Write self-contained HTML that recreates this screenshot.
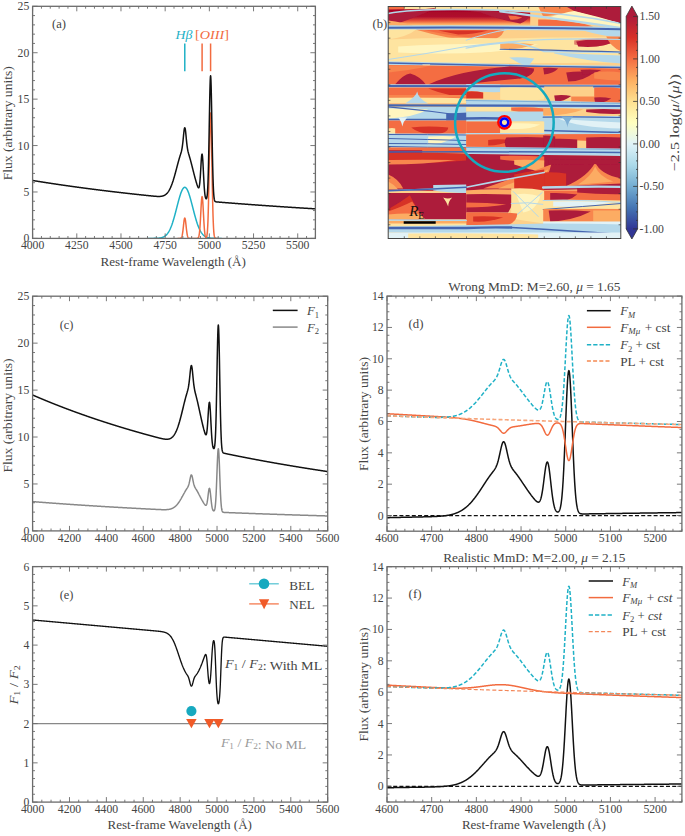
<!DOCTYPE html><html><head><meta charset="utf-8"><style>html,body{margin:0;padding:0;background:#fff;overflow:hidden} svg{display:block} text{font-family:'Liberation Serif', serif}</style></head><body>
<svg width="685" height="836" viewBox="0 0 685 836">
<rect width="685" height="836" fill="#fff"/>
<defs>
<clipPath id="ca"><rect x="32.6" y="6.3" width="282.80" height="232.10"/></clipPath>
<clipPath id="cc"><rect x="32.6" y="296.2" width="295.10" height="234.70"/></clipPath>
<clipPath id="ce"><rect x="32.6" y="566.6" width="295.10" height="235.50"/></clipPath>
<clipPath id="cd"><rect x="387.0" y="296.1" width="294.90" height="235.10"/></clipPath>
<clipPath id="cf"><rect x="387.0" y="566.7" width="294.90" height="235.30"/></clipPath>
<linearGradient id="cbg" x1="0" y1="1" x2="0" y2="0"><stop offset="0.00" stop-color="#313695"/><stop offset="0.10" stop-color="#4575b4"/><stop offset="0.20" stop-color="#74add1"/><stop offset="0.30" stop-color="#abd9e9"/><stop offset="0.40" stop-color="#e0f3f8"/><stop offset="0.50" stop-color="#ffffbf"/><stop offset="0.60" stop-color="#fee090"/><stop offset="0.70" stop-color="#fdae61"/><stop offset="0.80" stop-color="#f46d43"/><stop offset="0.90" stop-color="#d73027"/><stop offset="1.00" stop-color="#ad1a3b"/></linearGradient>
<clipPath id="cm"><rect x="388.2" y="6.5" width="232.60" height="232.00"/></clipPath>
<linearGradient id="gDome" x1="0" y1="0" x2="0" y2="1"><stop offset="0" stop-color="#a50026"/><stop offset="0.45" stop-color="#b0102e"/><stop offset="0.68" stop-color="#e8553a"/><stop offset="0.85" stop-color="#fca55e"/><stop offset="1" stop-color="#fee090"/></linearGradient>
<filter id="soft" x="-5%" y="-5%" width="110%" height="110%"><feGaussianBlur stdDeviation="0.5"/></filter>
</defs>
<path d="M147.49,238.40 L147.66,238.40 L147.84,238.40 L148.02,238.40 L148.19,238.40 L148.37,238.40 L148.55,238.40 L148.72,238.40 L148.90,238.40 L149.08,238.40 L149.25,238.40 L149.43,238.40 L149.61,238.40 L149.79,238.40 L149.96,238.40 L150.14,238.40 L150.32,238.40 L150.49,238.40 L150.67,238.39 L150.85,238.39 L151.02,238.39 L151.20,238.39 L151.38,238.39 L151.55,238.39 L151.73,238.39 L151.91,238.39 L152.08,238.39 L152.26,238.39 L152.44,238.39 L152.61,238.39 L152.79,238.38 L152.97,238.38 L153.14,238.38 L153.32,238.38 L153.50,238.38 L153.67,238.38 L153.85,238.37 L154.03,238.37 L154.20,238.37 L154.38,238.37 L154.56,238.36 L154.73,238.36 L154.91,238.36 L155.09,238.35 L155.26,238.35 L155.44,238.34 L155.62,238.34 L155.79,238.33 L155.97,238.33 L156.15,238.32 L156.32,238.32 L156.50,238.31 L156.68,238.30 L156.86,238.29 L157.03,238.28 L157.21,238.27 L157.39,238.26 L157.56,238.25 L157.74,238.24 L157.92,238.23 L158.09,238.22 L158.27,238.20 L158.45,238.19 L158.62,238.17 L158.80,238.15 L158.98,238.14 L159.15,238.12 L159.33,238.09 L159.51,238.07 L159.68,238.05 L159.86,238.02 L160.04,238.00 L160.21,237.97 L160.39,237.94 L160.57,237.90 L160.74,237.87 L160.92,237.83 L161.10,237.79 L161.27,237.75 L161.45,237.71 L161.63,237.66 L161.80,237.61 L161.98,237.56 L162.16,237.51 L162.33,237.45 L162.51,237.39 L162.69,237.32 L162.86,237.25 L163.04,237.18 L163.22,237.11 L163.39,237.03 L163.57,236.94 L163.75,236.85 L163.93,236.76 L164.10,236.66 L164.28,236.56 L164.46,236.45 L164.63,236.34 L164.81,236.22 L164.99,236.09 L165.16,235.96 L165.34,235.83 L165.52,235.68 L165.69,235.53 L165.87,235.38 L166.05,235.21 L166.22,235.04 L166.40,234.87 L166.58,234.68 L166.75,234.49 L166.93,234.29 L167.11,234.08 L167.28,233.86 L167.46,233.63 L167.64,233.40 L167.81,233.15 L167.99,232.90 L168.17,232.64 L168.34,232.37 L168.52,232.08 L168.70,231.79 L168.87,231.49 L169.05,231.18 L169.23,230.85 L169.40,230.52 L169.58,230.18 L169.76,229.82 L169.93,229.46 L170.11,229.08 L170.29,228.69 L170.46,228.29 L170.64,227.89 L170.82,227.46 L171.00,227.03 L171.17,226.59 L171.35,226.13 L171.53,225.67 L171.70,225.19 L171.88,224.70 L172.06,224.20 L172.23,223.69 L172.41,223.17 L172.59,222.64 L172.76,222.10 L172.94,221.55 L173.12,220.98 L173.29,220.41 L173.47,219.83 L173.65,219.24 L173.82,218.64 L174.00,218.03 L174.18,217.41 L174.35,216.78 L174.53,216.15 L174.71,215.51 L174.88,214.86 L175.06,214.21 L175.24,213.55 L175.41,212.88 L175.59,212.21 L175.77,211.54 L175.94,210.86 L176.12,210.18 L176.30,209.49 L176.47,208.80 L176.65,208.12 L176.83,207.43 L177.00,206.74 L177.18,206.05 L177.36,205.37 L177.53,204.68 L177.71,204.00 L177.89,203.33 L178.07,202.65 L178.24,201.98 L178.42,201.32 L178.60,200.67 L178.77,200.02 L178.95,199.38 L179.13,198.75 L179.30,198.12 L179.48,197.51 L179.66,196.91 L179.83,196.32 L180.01,195.75 L180.19,195.19 L180.36,194.64 L180.54,194.11 L180.72,193.59 L180.89,193.09 L181.07,192.61 L181.25,192.14 L181.42,191.69 L181.60,191.26 L181.78,190.85 L181.95,190.47 L182.13,190.10 L182.31,189.75 L182.48,189.42 L182.66,189.12 L182.84,188.84 L183.01,188.58 L183.19,188.35 L183.37,188.14 L183.54,187.95 L183.72,187.79 L183.90,187.65 L184.07,187.54 L184.25,187.45 L184.43,187.39 L184.60,187.35 L184.78,187.34 L184.96,187.35 L185.14,187.39 L185.31,187.45 L185.49,187.54 L185.67,187.65 L185.84,187.79 L186.02,187.95 L186.20,188.14 L186.37,188.35 L186.55,188.58 L186.73,188.84 L186.90,189.12 L187.08,189.42 L187.26,189.75 L187.43,190.10 L187.61,190.47 L187.79,190.85 L187.96,191.26 L188.14,191.69 L188.32,192.14 L188.49,192.61 L188.67,193.09 L188.85,193.59 L189.02,194.11 L189.20,194.64 L189.38,195.19 L189.55,195.75 L189.73,196.32 L189.91,196.91 L190.08,197.51 L190.26,198.12 L190.44,198.75 L190.61,199.38 L190.79,200.02 L190.97,200.67 L191.14,201.32 L191.32,201.98 L191.50,202.65 L191.67,203.33 L191.85,204.00 L192.03,204.68 L192.21,205.37 L192.38,206.05 L192.56,206.74 L192.74,207.43 L192.91,208.12 L193.09,208.80 L193.27,209.49 L193.44,210.18 L193.62,210.86 L193.80,211.54 L193.97,212.21 L194.15,212.88 L194.33,213.55 L194.50,214.21 L194.68,214.86 L194.86,215.51 L195.03,216.15 L195.21,216.78 L195.39,217.41 L195.56,218.03 L195.74,218.64 L195.92,219.24 L196.09,219.83 L196.27,220.41 L196.45,220.98 L196.62,221.55 L196.80,222.10 L196.98,222.64 L197.15,223.17 L197.33,223.69 L197.51,224.20 L197.68,224.70 L197.86,225.19 L198.04,225.67 L198.21,226.13 L198.39,226.59 L198.57,227.03 L198.74,227.46 L198.92,227.89 L199.10,228.29 L199.28,228.69 L199.45,229.08 L199.63,229.46 L199.81,229.82 L199.98,230.18 L200.16,230.52 L200.34,230.85 L200.51,231.18 L200.69,231.49 L200.87,231.79 L201.04,232.08 L201.22,232.37 L201.40,232.64 L201.57,232.90 L201.75,233.15 L201.93,233.40 L202.10,233.63 L202.28,233.86 L202.46,234.08 L202.63,234.29 L202.81,234.49 L202.99,234.68 L203.16,234.87 L203.34,235.04 L203.52,235.21 L203.69,235.38 L203.87,235.53 L204.05,235.68 L204.22,235.83 L204.40,235.96 L204.58,236.09 L204.75,236.22 L204.93,236.34 L205.11,236.45 L205.28,236.56 L205.46,236.66 L205.64,236.76 L205.81,236.85 L205.99,236.94 L206.17,237.03 L206.35,237.11 L206.52,237.18 L206.70,237.25 L206.88,237.32 L207.05,237.39 L207.23,237.45 L207.41,237.51 L207.58,237.56 L207.76,237.61 L207.94,237.66 L208.11,237.71 L208.29,237.75 L208.47,237.79 L208.64,237.83 L208.82,237.87 L209.00,237.90 L209.17,237.94 L209.35,237.97 L209.53,238.00 L209.70,238.02 L209.88,238.05 L210.06,238.07 L210.23,238.09 L210.41,238.12 L210.59,238.14 L210.76,238.15 L210.94,238.17 L211.12,238.19 L211.29,238.20 L211.47,238.22 L211.65,238.23 L211.82,238.24 L212.00,238.25 L212.18,238.26 L212.35,238.27 L212.53,238.28 L212.71,238.29 L212.88,238.30 L213.06,238.31 L213.24,238.32 L213.42,238.32 L213.59,238.33 L213.77,238.33 L213.95,238.34 L214.12,238.34 L214.30,238.35 L214.48,238.35 L214.65,238.36 L214.83,238.36 L215.01,238.36 L215.18,238.37 L215.36,238.37 L215.54,238.37 L215.71,238.37 L215.89,238.38 L216.07,238.38 L216.24,238.38 L216.42,238.38 L216.60,238.38 L216.77,238.38 L216.95,238.39 L217.13,238.39 L217.30,238.39 L217.48,238.39 L217.66,238.39 L217.83,238.39 L218.01,238.39 L218.19,238.39 L218.36,238.39 L218.54,238.39 L218.72,238.39 L218.89,238.39 L219.07,238.40 L219.25,238.40 L219.42,238.40 L219.60,238.40 L219.78,238.40 L219.95,238.40 L220.13,238.40 L220.31,238.40 L220.49,238.40 L220.66,238.40 L220.84,238.40 L221.02,238.40 L221.19,238.40 L221.37,238.40 L221.55,238.40 L221.72,238.40" fill="none" stroke="#1fb1c6" stroke-width="1.5" stroke-linejoin="round" clip-path="url(#ca)"/>
<path d="M177.53,238.40 L177.71,238.40 L177.89,238.40 L178.07,238.40 L178.24,238.40 L178.42,238.40 L178.60,238.40 L178.77,238.40 L178.95,238.40 L179.13,238.40 L179.30,238.40 L179.48,238.39 L179.66,238.39 L179.83,238.38 L180.01,238.37 L180.19,238.35 L180.36,238.32 L180.54,238.28 L180.72,238.21 L180.89,238.12 L181.07,237.99 L181.25,237.82 L181.42,237.57 L181.60,237.25 L181.78,236.84 L181.95,236.30 L182.13,235.64 L182.31,234.82 L182.48,233.85 L182.66,232.72 L182.84,231.43 L183.01,230.00 L183.19,228.46 L183.37,226.84 L183.54,225.19 L183.72,223.57 L183.90,222.05 L184.07,220.68 L184.25,219.55 L184.43,218.69 L184.60,218.16 L184.78,217.98 L184.96,218.16 L185.14,218.69 L185.31,219.55 L185.49,220.68 L185.67,222.05 L185.84,223.57 L186.02,225.19 L186.20,226.84 L186.37,228.46 L186.55,230.00 L186.73,231.43 L186.90,232.72 L187.08,233.85 L187.26,234.82 L187.43,235.64 L187.61,236.30 L187.79,236.84 L187.96,237.25 L188.14,237.57 L188.32,237.82 L188.49,237.99 L188.67,238.12 L188.85,238.21 L189.02,238.28 L189.20,238.32 L189.38,238.35 L189.55,238.37 L189.73,238.38 L189.91,238.39 L190.08,238.39 L190.26,238.40 L190.44,238.40 L190.61,238.40 L190.79,238.40 L190.97,238.40 L191.14,238.40 L191.32,238.40 L191.50,238.40 L191.67,238.40 L191.85,238.40 L192.03,238.40 L192.21,238.40 L192.38,238.40 L192.56,238.40 L192.74,238.40 L192.91,238.40 L193.09,238.40 L193.27,238.40 L193.44,238.40 L193.62,238.40 L193.80,238.40 L193.97,238.40 L194.15,238.40 L194.33,238.40 L194.50,238.40 L194.68,238.40 L194.86,238.40 L195.03,238.40 L195.21,238.40 L195.39,238.40 L195.56,238.40 L195.74,238.40 L195.92,238.40 L196.09,238.40 L196.27,238.40 L196.45,238.40 L196.62,238.39 L196.80,238.39 L196.98,238.38 L197.15,238.36 L197.33,238.34 L197.51,238.30 L197.68,238.24 L197.86,238.15 L198.04,238.02 L198.21,237.83 L198.39,237.57 L198.57,237.21 L198.74,236.71 L198.92,236.05 L199.10,235.20 L199.28,234.11 L199.45,232.75 L199.63,231.08 L199.81,229.10 L199.98,226.78 L200.16,224.15 L200.34,221.22 L200.51,218.06 L200.69,214.75 L200.87,211.37 L201.04,208.06 L201.22,204.95 L201.40,202.16 L201.57,199.83 L201.75,198.08 L201.93,196.99 L202.10,196.62 L202.28,196.99 L202.46,198.08 L202.63,199.83 L202.81,202.16 L202.99,204.95 L203.16,208.06 L203.34,211.37 L203.52,214.75 L203.69,218.06 L203.87,221.22 L204.05,224.15 L204.22,226.78 L204.40,229.10 L204.58,231.08 L204.75,232.74 L204.93,234.09 L205.11,235.17 L205.28,236.01 L205.46,236.64 L205.64,237.09 L205.81,237.38 L205.99,237.53 L206.17,237.54 L206.35,237.40 L206.52,237.10 L206.70,236.60 L206.88,235.85 L207.05,234.78 L207.23,233.31 L207.41,231.35 L207.58,228.79 L207.76,225.52 L207.94,221.44 L208.11,216.45 L208.29,210.50 L208.47,203.55 L208.64,195.65 L208.82,186.87 L209.00,177.39 L209.17,167.44 L209.35,157.32 L209.53,147.39 L209.70,138.04 L209.88,129.68 L210.06,122.70 L210.23,117.44 L210.41,114.18 L210.59,113.07 L210.76,114.18 L210.94,117.44 L211.12,122.70 L211.29,129.68 L211.47,138.04 L211.65,147.39 L211.82,157.32 L212.00,167.44 L212.18,177.39 L212.35,186.87 L212.53,195.65 L212.71,203.55 L212.88,210.50 L213.06,216.45 L213.24,221.44 L213.42,225.52 L213.59,228.80 L213.77,231.36 L213.95,233.34 L214.12,234.82 L214.30,235.91 L214.48,236.70 L214.65,237.26 L214.83,237.65 L215.01,237.92 L215.18,238.09 L215.36,238.21 L215.54,238.28 L215.71,238.33 L215.89,238.36 L216.07,238.38 L216.24,238.39 L216.42,238.39 L216.60,238.40 L216.77,238.40 L216.95,238.40 L217.13,238.40 L217.30,238.40 L217.48,238.40 L217.66,238.40 L217.83,238.40 L218.01,238.40 L218.19,238.40" fill="none" stroke="#f26b3f" stroke-width="1.5" stroke-linejoin="round" clip-path="url(#ca)"/>
<path d="M32.60,180.47 L32.78,180.50 L32.95,180.53 L33.13,180.55 L33.31,180.58 L33.48,180.61 L33.66,180.64 L33.84,180.67 L34.01,180.70 L34.19,180.73 L34.37,180.76 L34.54,180.79 L34.72,180.81 L34.90,180.84 L35.07,180.87 L35.25,180.90 L35.43,180.93 L35.60,180.96 L35.78,180.99 L35.96,181.01 L36.13,181.04 L36.31,181.07 L36.49,181.10 L36.67,181.13 L36.84,181.16 L37.02,181.19 L37.20,181.21 L37.37,181.24 L37.55,181.27 L37.73,181.30 L37.90,181.33 L38.08,181.36 L38.26,181.38 L38.43,181.41 L38.61,181.44 L38.79,181.47 L38.96,181.50 L39.14,181.52 L39.32,181.55 L39.49,181.58 L39.67,181.61 L39.85,181.64 L40.02,181.67 L40.20,181.69 L40.38,181.72 L40.55,181.75 L40.73,181.78 L40.91,181.81 L41.08,181.83 L41.26,181.86 L41.44,181.89 L41.61,181.92 L41.79,181.95 L41.97,181.97 L42.14,182.00 L42.32,182.03 L42.50,182.06 L42.67,182.08 L42.85,182.11 L43.03,182.14 L43.20,182.17 L43.38,182.20 L43.56,182.22 L43.74,182.25 L43.91,182.28 L44.09,182.31 L44.27,182.33 L44.44,182.36 L44.62,182.39 L44.80,182.42 L44.97,182.44 L45.15,182.47 L45.33,182.50 L45.50,182.53 L45.68,182.55 L45.86,182.58 L46.03,182.61 L46.21,182.64 L46.39,182.66 L46.56,182.69 L46.74,182.72 L46.92,182.74 L47.09,182.77 L47.27,182.80 L47.45,182.83 L47.62,182.85 L47.80,182.88 L47.98,182.91 L48.15,182.94 L48.33,182.96 L48.51,182.99 L48.68,183.02 L48.86,183.04 L49.04,183.07 L49.21,183.10 L49.39,183.12 L49.57,183.15 L49.74,183.18 L49.92,183.21 L50.10,183.23 L50.27,183.26 L50.45,183.29 L50.63,183.31 L50.81,183.34 L50.98,183.37 L51.16,183.39 L51.34,183.42 L51.51,183.45 L51.69,183.47 L51.87,183.50 L52.04,183.53 L52.22,183.55 L52.40,183.58 L52.57,183.61 L52.75,183.63 L52.93,183.66 L53.10,183.69 L53.28,183.71 L53.46,183.74 L53.63,183.77 L53.81,183.79 L53.99,183.82 L54.16,183.85 L54.34,183.87 L54.52,183.90 L54.69,183.93 L54.87,183.95 L55.05,183.98 L55.22,184.00 L55.40,184.03 L55.58,184.06 L55.75,184.08 L55.93,184.11 L56.11,184.14 L56.28,184.16 L56.46,184.19 L56.64,184.22 L56.81,184.24 L56.99,184.27 L57.17,184.29 L57.34,184.32 L57.52,184.35 L57.70,184.37 L57.88,184.40 L58.05,184.42 L58.23,184.45 L58.41,184.48 L58.58,184.50 L58.76,184.53 L58.94,184.55 L59.11,184.58 L59.29,184.61 L59.47,184.63 L59.64,184.66 L59.82,184.68 L60.00,184.71 L60.17,184.74 L60.35,184.76 L60.53,184.79 L60.70,184.81 L60.88,184.84 L61.06,184.86 L61.23,184.89 L61.41,184.92 L61.59,184.94 L61.76,184.97 L61.94,184.99 L62.12,185.02 L62.29,185.04 L62.47,185.07 L62.65,185.10 L62.82,185.12 L63.00,185.15 L63.18,185.17 L63.35,185.20 L63.53,185.22 L63.71,185.25 L63.88,185.27 L64.06,185.30 L64.24,185.32 L64.41,185.35 L64.59,185.38 L64.77,185.40 L64.95,185.43 L65.12,185.45 L65.30,185.48 L65.48,185.50 L65.65,185.53 L65.83,185.55 L66.01,185.58 L66.18,185.60 L66.36,185.63 L66.54,185.65 L66.71,185.68 L66.89,185.70 L67.07,185.73 L67.24,185.75 L67.42,185.78 L67.60,185.80 L67.77,185.83 L67.95,185.85 L68.13,185.88 L68.30,185.90 L68.48,185.93 L68.66,185.95 L68.83,185.98 L69.01,186.00 L69.19,186.03 L69.36,186.05 L69.54,186.08 L69.72,186.10 L69.89,186.13 L70.07,186.15 L70.25,186.18 L70.42,186.20 L70.60,186.23 L70.78,186.25 L70.95,186.28 L71.13,186.30 L71.31,186.33 L71.48,186.35 L71.66,186.38 L71.84,186.40 L72.02,186.42 L72.19,186.45 L72.37,186.47 L72.55,186.50 L72.72,186.52 L72.90,186.55 L73.08,186.57 L73.25,186.60 L73.43,186.62 L73.61,186.65 L73.78,186.67 L73.96,186.69 L74.14,186.72 L74.31,186.74 L74.49,186.77 L74.67,186.79 L74.84,186.82 L75.02,186.84 L75.20,186.86 L75.37,186.89 L75.55,186.91 L75.73,186.94 L75.90,186.96 L76.08,186.99 L76.26,187.01 L76.43,187.03 L76.61,187.06 L76.79,187.08 L76.96,187.11 L77.14,187.13 L77.32,187.16 L77.49,187.18 L77.67,187.20 L77.85,187.23 L78.02,187.25 L78.20,187.28 L78.38,187.30 L78.55,187.32 L78.73,187.35 L78.91,187.37 L79.09,187.40 L79.26,187.42 L79.44,187.44 L79.62,187.47 L79.79,187.49 L79.97,187.51 L80.15,187.54 L80.32,187.56 L80.50,187.59 L80.68,187.61 L80.85,187.63 L81.03,187.66 L81.21,187.68 L81.38,187.71 L81.56,187.73 L81.74,187.75 L81.91,187.78 L82.09,187.80 L82.27,187.82 L82.44,187.85 L82.62,187.87 L82.80,187.89 L82.97,187.92 L83.15,187.94 L83.33,187.96 L83.50,187.99 L83.68,188.01 L83.86,188.04 L84.03,188.06 L84.21,188.08 L84.39,188.11 L84.56,188.13 L84.74,188.15 L84.92,188.18 L85.09,188.20 L85.27,188.22 L85.45,188.25 L85.62,188.27 L85.80,188.29 L85.98,188.32 L86.16,188.34 L86.33,188.36 L86.51,188.39 L86.69,188.41 L86.86,188.43 L87.04,188.46 L87.22,188.48 L87.39,188.50 L87.57,188.52 L87.75,188.55 L87.92,188.57 L88.10,188.59 L88.28,188.62 L88.45,188.64 L88.63,188.66 L88.81,188.69 L88.98,188.71 L89.16,188.73 L89.34,188.76 L89.51,188.78 L89.69,188.80 L89.87,188.82 L90.04,188.85 L90.22,188.87 L90.40,188.89 L90.57,188.92 L90.75,188.94 L90.93,188.96 L91.10,188.98 L91.28,189.01 L91.46,189.03 L91.63,189.05 L91.81,189.08 L91.99,189.10 L92.16,189.12 L92.34,189.14 L92.52,189.17 L92.69,189.19 L92.87,189.21 L93.05,189.23 L93.23,189.26 L93.40,189.28 L93.58,189.30 L93.76,189.33 L93.93,189.35 L94.11,189.37 L94.29,189.39 L94.46,189.42 L94.64,189.44 L94.82,189.46 L94.99,189.48 L95.17,189.51 L95.35,189.53 L95.52,189.55 L95.70,189.57 L95.88,189.59 L96.05,189.62 L96.23,189.64 L96.41,189.66 L96.58,189.68 L96.76,189.71 L96.94,189.73 L97.11,189.75 L97.29,189.77 L97.47,189.80 L97.64,189.82 L97.82,189.84 L98.00,189.86 L98.17,189.88 L98.35,189.91 L98.53,189.93 L98.70,189.95 L98.88,189.97 L99.06,190.00 L99.23,190.02 L99.41,190.04 L99.59,190.06 L99.76,190.08 L99.94,190.11 L100.12,190.13 L100.30,190.15 L100.47,190.17 L100.65,190.19 L100.83,190.22 L101.00,190.24 L101.18,190.26 L101.36,190.28 L101.53,190.30 L101.71,190.33 L101.89,190.35 L102.06,190.37 L102.24,190.39 L102.42,190.41 L102.59,190.44 L102.77,190.46 L102.95,190.48 L103.12,190.50 L103.30,190.52 L103.48,190.54 L103.65,190.57 L103.83,190.59 L104.01,190.61 L104.18,190.63 L104.36,190.65 L104.54,190.67 L104.71,190.70 L104.89,190.72 L105.07,190.74 L105.24,190.76 L105.42,190.78 L105.60,190.80 L105.77,190.83 L105.95,190.85 L106.13,190.87 L106.30,190.89 L106.48,190.91 L106.66,190.93 L106.83,190.95 L107.01,190.98 L107.19,191.00 L107.37,191.02 L107.54,191.04 L107.72,191.06 L107.90,191.08 L108.07,191.10 L108.25,191.13 L108.43,191.15 L108.60,191.17 L108.78,191.19 L108.96,191.21 L109.13,191.23 L109.31,191.25 L109.49,191.27 L109.66,191.30 L109.84,191.32 L110.02,191.34 L110.19,191.36 L110.37,191.38 L110.55,191.40 L110.72,191.42 L110.90,191.44 L111.08,191.47 L111.25,191.49 L111.43,191.51 L111.61,191.53 L111.78,191.55 L111.96,191.57 L112.14,191.59 L112.31,191.61 L112.49,191.63 L112.67,191.66 L112.84,191.68 L113.02,191.70 L113.20,191.72 L113.37,191.74 L113.55,191.76 L113.73,191.78 L113.90,191.80 L114.08,191.82 L114.26,191.84 L114.44,191.86 L114.61,191.89 L114.79,191.91 L114.97,191.93 L115.14,191.95 L115.32,191.97 L115.50,191.99 L115.67,192.01 L115.85,192.03 L116.03,192.05 L116.20,192.07 L116.38,192.09 L116.56,192.11 L116.73,192.13 L116.91,192.15 L117.09,192.18 L117.26,192.20 L117.44,192.22 L117.62,192.24 L117.79,192.26 L117.97,192.28 L118.15,192.30 L118.32,192.32 L118.50,192.34 L118.68,192.36 L118.85,192.38 L119.03,192.40 L119.21,192.42 L119.38,192.44 L119.56,192.46 L119.74,192.48 L119.91,192.50 L120.09,192.52 L120.27,192.54 L120.44,192.57 L120.62,192.59 L120.80,192.61 L120.97,192.63 L121.15,192.65 L121.33,192.67 L121.51,192.69 L121.68,192.71 L121.86,192.73 L122.04,192.75 L122.21,192.77 L122.39,192.79 L122.57,192.81 L122.74,192.83 L122.92,192.85 L123.10,192.87 L123.27,192.89 L123.45,192.91 L123.63,192.93 L123.80,192.95 L123.98,192.97 L124.16,192.99 L124.33,193.01 L124.51,193.03 L124.69,193.05 L124.86,193.07 L125.04,193.09 L125.22,193.11 L125.39,193.13 L125.57,193.15 L125.75,193.17 L125.92,193.19 L126.10,193.21 L126.28,193.23 L126.45,193.25 L126.63,193.27 L126.81,193.29 L126.98,193.31 L127.16,193.33 L127.34,193.35 L127.51,193.37 L127.69,193.39 L127.87,193.41 L128.04,193.43 L128.22,193.45 L128.40,193.47 L128.58,193.49 L128.75,193.51 L128.93,193.53 L129.11,193.55 L129.28,193.57 L129.46,193.59 L129.64,193.61 L129.81,193.63 L129.99,193.65 L130.17,193.67 L130.34,193.69 L130.52,193.71 L130.70,193.73 L130.87,193.74 L131.05,193.76 L131.23,193.78 L131.40,193.80 L131.58,193.82 L131.76,193.84 L131.93,193.86 L132.11,193.88 L132.29,193.90 L132.46,193.92 L132.64,193.94 L132.82,193.96 L132.99,193.98 L133.17,194.00 L133.35,194.02 L133.52,194.04 L133.70,194.06 L133.88,194.08 L134.05,194.10 L134.23,194.11 L134.41,194.13 L134.58,194.15 L134.76,194.17 L134.94,194.19 L135.11,194.21 L135.29,194.23 L135.47,194.25 L135.65,194.27 L135.82,194.29 L136.00,194.31 L136.18,194.33 L136.35,194.35 L136.53,194.37 L136.71,194.38 L136.88,194.40 L137.06,194.42 L137.24,194.44 L137.41,194.46 L137.59,194.48 L137.77,194.50 L137.94,194.52 L138.12,194.54 L138.30,194.56 L138.47,194.58 L138.65,194.59 L138.83,194.61 L139.00,194.63 L139.18,194.65 L139.36,194.67 L139.53,194.69 L139.71,194.71 L139.89,194.73 L140.06,194.75 L140.24,194.77 L140.42,194.78 L140.59,194.80 L140.77,194.82 L140.95,194.84 L141.12,194.86 L141.30,194.88 L141.48,194.90 L141.65,194.92 L141.83,194.94 L142.01,194.95 L142.18,194.97 L142.36,194.99 L142.54,195.01 L142.72,195.03 L142.89,195.05 L143.07,195.07 L143.25,195.09 L143.42,195.10 L143.60,195.12 L143.78,195.14 L143.95,195.16 L144.13,195.18 L144.31,195.20 L144.48,195.22 L144.66,195.24 L144.84,195.25 L145.01,195.27 L145.19,195.29 L145.37,195.31 L145.54,195.33 L145.72,195.35 L145.90,195.37 L146.07,195.38 L146.25,195.40 L146.43,195.42 L146.60,195.44 L146.78,195.46 L146.96,195.48 L147.13,195.49 L147.31,195.51 L147.49,195.53 L147.66,195.55 L147.84,195.57 L148.02,195.59 L148.19,195.60 L148.37,195.62 L148.55,195.64 L148.72,195.66 L148.90,195.68 L149.08,195.70 L149.25,195.71 L149.43,195.73 L149.61,195.75 L149.79,195.77 L149.96,195.79 L150.14,195.80 L150.32,195.82 L150.49,195.84 L150.67,195.86 L150.85,195.87 L151.02,195.89 L151.20,195.91 L151.38,195.93 L151.55,195.94 L151.73,195.96 L151.91,195.98 L152.08,196.00 L152.26,196.01 L152.44,196.03 L152.61,196.05 L152.79,196.06 L152.97,196.08 L153.14,196.10 L153.32,196.11 L153.50,196.13 L153.67,196.15 L153.85,196.16 L154.03,196.18 L154.20,196.19 L154.38,196.21 L154.56,196.22 L154.73,196.24 L154.91,196.25 L155.09,196.27 L155.26,196.28 L155.44,196.29 L155.62,196.31 L155.79,196.32 L155.97,196.33 L156.15,196.34 L156.32,196.35 L156.50,196.37 L156.68,196.38 L156.86,196.39 L157.03,196.39 L157.21,196.40 L157.39,196.41 L157.56,196.42 L157.74,196.42 L157.92,196.43 L158.09,196.43 L158.27,196.44 L158.45,196.44 L158.62,196.44 L158.80,196.44 L158.98,196.44 L159.15,196.44 L159.33,196.44 L159.51,196.43 L159.68,196.42 L159.86,196.42 L160.04,196.41 L160.21,196.40 L160.39,196.38 L160.57,196.37 L160.74,196.35 L160.92,196.33 L161.10,196.31 L161.27,196.29 L161.45,196.26 L161.63,196.23 L161.80,196.20 L161.98,196.17 L162.16,196.13 L162.33,196.09 L162.51,196.04 L162.69,196.00 L162.86,195.95 L163.04,195.89 L163.22,195.83 L163.39,195.77 L163.57,195.70 L163.75,195.63 L163.93,195.56 L164.10,195.48 L164.28,195.39 L164.46,195.30 L164.63,195.20 L164.81,195.10 L164.99,194.99 L165.16,194.88 L165.34,194.76 L165.52,194.64 L165.69,194.50 L165.87,194.36 L166.05,194.22 L166.22,194.07 L166.40,193.90 L166.58,193.74 L166.75,193.56 L166.93,193.38 L167.11,193.18 L167.28,192.98 L167.46,192.78 L167.64,192.56 L167.81,192.33 L167.99,192.09 L168.17,191.85 L168.34,191.59 L168.52,191.33 L168.70,191.05 L168.87,190.77 L169.05,190.47 L169.23,190.17 L169.40,189.85 L169.58,189.52 L169.76,189.19 L169.93,188.84 L170.11,188.48 L170.29,188.11 L170.46,187.73 L170.64,187.33 L170.82,186.93 L171.00,186.51 L171.17,186.09 L171.35,185.65 L171.53,185.20 L171.70,184.74 L171.88,184.27 L172.06,183.79 L172.23,183.29 L172.41,182.79 L172.59,182.27 L172.76,181.75 L172.94,181.21 L173.12,180.67 L173.29,180.11 L173.47,179.55 L173.65,178.97 L173.82,178.39 L174.00,177.80 L174.18,177.19 L174.35,176.58 L174.53,175.97 L174.71,175.34 L174.88,174.71 L175.06,174.08 L175.24,173.43 L175.41,172.78 L175.59,172.13 L175.77,171.47 L175.94,170.81 L176.12,170.14 L176.30,169.48 L176.47,168.81 L176.65,168.14 L176.83,167.47 L177.00,166.79 L177.18,166.12 L177.36,165.45 L177.53,164.79 L177.71,164.12 L177.89,163.46 L178.07,162.80 L178.24,162.15 L178.42,161.51 L178.60,160.87 L178.77,160.23 L178.95,159.61 L179.13,158.99 L179.30,158.39 L179.48,157.79 L179.66,157.20 L179.83,156.62 L180.01,156.05 L180.19,155.49 L180.36,154.93 L180.54,154.37 L180.72,153.80 L180.89,153.23 L181.07,152.63 L181.25,152.00 L181.42,151.33 L181.60,150.60 L181.78,149.79 L181.95,148.88 L182.13,147.86 L182.31,146.72 L182.48,145.44 L182.66,144.02 L182.84,142.47 L183.01,140.80 L183.19,139.03 L183.37,137.22 L183.54,135.40 L183.72,133.63 L183.90,131.99 L184.07,130.53 L184.25,129.32 L184.43,128.42 L184.60,127.86 L184.78,127.69 L184.96,127.90 L185.14,128.48 L185.31,129.42 L185.49,130.66 L185.67,132.15 L185.84,133.83 L186.02,135.62 L186.20,137.48 L186.37,139.32 L186.55,141.12 L186.73,142.82 L186.90,144.41 L187.08,145.86 L187.26,147.17 L187.43,148.35 L187.61,149.40 L187.79,150.34 L187.96,151.18 L188.14,151.94 L188.32,152.65 L188.49,153.31 L188.67,153.94 L188.85,154.55 L189.02,155.14 L189.20,155.73 L189.38,156.33 L189.55,156.92 L189.73,157.53 L189.91,158.14 L190.08,158.76 L190.26,159.39 L190.44,160.03 L190.61,160.68 L190.79,161.33 L190.97,162.00 L191.14,162.67 L191.32,163.35 L191.50,164.03 L191.67,164.72 L191.85,165.41 L192.03,166.11 L192.21,166.81 L192.38,167.51 L192.56,168.21 L192.74,168.92 L192.91,169.62 L193.09,170.33 L193.27,171.03 L193.44,171.73 L193.62,172.42 L193.80,173.12 L193.97,173.81 L194.15,174.49 L194.33,175.18 L194.50,175.85 L194.68,176.52 L194.86,177.18 L195.03,177.84 L195.21,178.49 L195.39,179.13 L195.56,179.76 L195.74,180.39 L195.92,181.01 L196.09,181.61 L196.27,182.21 L196.45,182.79 L196.62,183.37 L196.80,183.93 L196.98,184.48 L197.15,185.01 L197.33,185.52 L197.51,186.01 L197.68,186.47 L197.86,186.88 L198.04,187.24 L198.21,187.54 L198.39,187.75 L198.57,187.84 L198.74,187.79 L198.92,187.57 L199.10,187.14 L199.28,186.46 L199.45,185.51 L199.63,184.23 L199.81,182.63 L199.98,180.69 L200.16,178.41 L200.34,175.83 L200.51,173.01 L200.69,170.02 L200.87,166.97 L201.04,163.96 L201.22,161.14 L201.40,158.65 L201.57,156.60 L201.75,155.11 L201.93,154.28 L202.10,154.16 L202.28,154.77 L202.46,156.10 L202.63,158.07 L202.81,160.62 L202.99,163.61 L203.16,166.93 L203.34,170.43 L203.52,173.99 L203.69,177.49 L203.87,180.82 L204.05,183.91 L204.22,186.70 L204.40,189.16 L204.58,191.29 L204.75,193.09 L204.93,194.58 L205.11,195.79 L205.28,196.75 L205.46,197.50 L205.64,198.06 L205.81,198.46 L205.99,198.71 L206.17,198.82 L206.35,198.78 L206.52,198.57 L206.70,198.15 L206.88,197.49 L207.05,196.50 L207.23,195.11 L207.41,193.22 L207.58,190.72 L207.76,187.52 L207.94,183.50 L208.11,178.58 L208.29,172.68 L208.47,165.80 L208.64,157.94 L208.82,149.22 L209.00,139.79 L209.17,129.89 L209.35,119.81 L209.53,109.92 L209.70,100.62 L209.88,92.30 L210.06,85.36 L210.23,80.14 L210.41,76.90 L210.59,75.83 L210.76,76.97 L210.94,80.27 L211.12,85.56 L211.29,92.57 L211.47,100.96 L211.65,110.33 L211.82,120.29 L212.00,130.44 L212.18,140.42 L212.35,149.92 L212.53,158.72 L212.71,166.65 L212.88,173.62 L213.06,179.59 L213.24,184.60 L213.42,188.71 L213.59,192.00 L213.77,194.59 L213.95,196.58 L214.12,198.08 L214.30,199.20 L214.48,200.00 L214.65,200.58 L214.83,200.99 L215.01,201.27 L215.18,201.47 L215.36,201.60 L215.54,201.69 L215.71,201.75 L215.89,201.80 L216.07,201.83 L216.24,201.86 L216.42,201.88 L216.60,201.90 L216.77,201.92 L216.95,201.94 L217.13,201.95 L217.30,201.97 L217.48,201.99 L217.66,202.00 L217.83,202.02 L218.01,202.03 L218.19,202.05 L218.36,202.06 L218.54,202.08 L218.72,202.09 L218.89,202.11 L219.07,202.12 L219.25,202.14 L219.42,202.15 L219.60,202.17 L219.78,202.18 L219.95,202.19 L220.13,202.21 L220.31,202.22 L220.49,202.24 L220.66,202.25 L220.84,202.27 L221.02,202.28 L221.19,202.30 L221.37,202.31 L221.55,202.32 L221.72,202.34 L221.90,202.35 L222.08,202.37 L222.25,202.38 L222.43,202.40 L222.61,202.41 L222.78,202.42 L222.96,202.44 L223.14,202.45 L223.31,202.47 L223.49,202.48 L223.67,202.50 L223.84,202.51 L224.02,202.52 L224.20,202.54 L224.37,202.55 L224.55,202.57 L224.73,202.58 L224.90,202.59 L225.08,202.61 L225.26,202.62 L225.43,202.64 L225.61,202.65 L225.79,202.67 L225.96,202.68 L226.14,202.69 L226.32,202.71 L226.49,202.72 L226.67,202.74 L226.85,202.75 L227.02,202.76 L227.20,202.78 L227.38,202.79 L227.56,202.81 L227.73,202.82 L227.91,202.83 L228.09,202.85 L228.26,202.86 L228.44,202.87 L228.62,202.89 L228.79,202.90 L228.97,202.92 L229.15,202.93 L229.32,202.94 L229.50,202.96 L229.68,202.97 L229.85,202.99 L230.03,203.00 L230.21,203.01 L230.38,203.03 L230.56,203.04 L230.74,203.05 L230.91,203.07 L231.09,203.08 L231.27,203.10 L231.44,203.11 L231.62,203.12 L231.80,203.14 L231.97,203.15 L232.15,203.16 L232.33,203.18 L232.50,203.19 L232.68,203.21 L232.86,203.22 L233.03,203.23 L233.21,203.25 L233.39,203.26 L233.56,203.27 L233.74,203.29 L233.92,203.30 L234.09,203.32 L234.27,203.33 L234.45,203.34 L234.63,203.36 L234.80,203.37 L234.98,203.38 L235.16,203.40 L235.33,203.41 L235.51,203.42 L235.69,203.44 L235.86,203.45 L236.04,203.47 L236.22,203.48 L236.39,203.49 L236.57,203.51 L236.75,203.52 L236.92,203.53 L237.10,203.55 L237.28,203.56 L237.45,203.57 L237.63,203.59 L237.81,203.60 L237.98,203.61 L238.16,203.63 L238.34,203.64 L238.51,203.65 L238.69,203.67 L238.87,203.68 L239.04,203.69 L239.22,203.71 L239.40,203.72 L239.57,203.74 L239.75,203.75 L239.93,203.76 L240.10,203.78 L240.28,203.79 L240.46,203.80 L240.63,203.82 L240.81,203.83 L240.99,203.84 L241.16,203.86 L241.34,203.87 L241.52,203.88 L241.70,203.90 L241.87,203.91 L242.05,203.92 L242.23,203.94 L242.40,203.95 L242.58,203.96 L242.76,203.98 L242.93,203.99 L243.11,204.00 L243.29,204.01 L243.46,204.03 L243.64,204.04 L243.82,204.05 L243.99,204.07 L244.17,204.08 L244.35,204.09 L244.52,204.11 L244.70,204.12 L244.88,204.13 L245.05,204.15 L245.23,204.16 L245.41,204.17 L245.58,204.19 L245.76,204.20 L245.94,204.21 L246.11,204.23 L246.29,204.24 L246.47,204.25 L246.64,204.27 L246.82,204.28 L247.00,204.29 L247.17,204.30 L247.35,204.32 L247.53,204.33 L247.70,204.34 L247.88,204.36 L248.06,204.37 L248.23,204.38 L248.41,204.40 L248.59,204.41 L248.77,204.42 L248.94,204.43 L249.12,204.45 L249.30,204.46 L249.47,204.47 L249.65,204.49 L249.83,204.50 L250.00,204.51 L250.18,204.53 L250.36,204.54 L250.53,204.55 L250.71,204.56 L250.89,204.58 L251.06,204.59 L251.24,204.60 L251.42,204.62 L251.59,204.63 L251.77,204.64 L251.95,204.65 L252.12,204.67 L252.30,204.68 L252.48,204.69 L252.65,204.71 L252.83,204.72 L253.01,204.73 L253.18,204.74 L253.36,204.76 L253.54,204.77 L253.71,204.78 L253.89,204.80 L254.07,204.81 L254.24,204.82 L254.42,204.83 L254.60,204.85 L254.77,204.86 L254.95,204.87 L255.13,204.89 L255.30,204.90 L255.48,204.91 L255.66,204.92 L255.84,204.94 L256.01,204.95 L256.19,204.96 L256.37,204.97 L256.54,204.99 L256.72,205.00 L256.90,205.01 L257.07,205.03 L257.25,205.04 L257.43,205.05 L257.60,205.06 L257.78,205.08 L257.96,205.09 L258.13,205.10 L258.31,205.11 L258.49,205.13 L258.66,205.14 L258.84,205.15 L259.02,205.16 L259.19,205.18 L259.37,205.19 L259.55,205.20 L259.72,205.21 L259.90,205.23 L260.08,205.24 L260.25,205.25 L260.43,205.26 L260.61,205.28 L260.78,205.29 L260.96,205.30 L261.14,205.31 L261.31,205.33 L261.49,205.34 L261.67,205.35 L261.84,205.36 L262.02,205.38 L262.20,205.39 L262.38,205.40 L262.55,205.41 L262.73,205.43 L262.91,205.44 L263.08,205.45 L263.26,205.46 L263.44,205.48 L263.61,205.49 L263.79,205.50 L263.97,205.51 L264.14,205.53 L264.32,205.54 L264.50,205.55 L264.67,205.56 L264.85,205.58 L265.03,205.59 L265.20,205.60 L265.38,205.61 L265.56,205.62 L265.73,205.64 L265.91,205.65 L266.09,205.66 L266.26,205.67 L266.44,205.69 L266.62,205.70 L266.79,205.71 L266.97,205.72 L267.15,205.74 L267.32,205.75 L267.50,205.76 L267.68,205.77 L267.85,205.78 L268.03,205.80 L268.21,205.81 L268.38,205.82 L268.56,205.83 L268.74,205.85 L268.91,205.86 L269.09,205.87 L269.27,205.88 L269.44,205.89 L269.62,205.91 L269.80,205.92 L269.98,205.93 L270.15,205.94 L270.33,205.96 L270.51,205.97 L270.68,205.98 L270.86,205.99 L271.04,206.00 L271.21,206.02 L271.39,206.03 L271.57,206.04 L271.74,206.05 L271.92,206.06 L272.10,206.08 L272.27,206.09 L272.45,206.10 L272.63,206.11 L272.80,206.12 L272.98,206.14 L273.16,206.15 L273.33,206.16 L273.51,206.17 L273.69,206.18 L273.86,206.20 L274.04,206.21 L274.22,206.22 L274.39,206.23 L274.57,206.24 L274.75,206.26 L274.92,206.27 L275.10,206.28 L275.28,206.29 L275.45,206.30 L275.63,206.32 L275.81,206.33 L275.98,206.34 L276.16,206.35 L276.34,206.36 L276.51,206.38 L276.69,206.39 L276.87,206.40 L277.05,206.41 L277.22,206.42 L277.40,206.44 L277.58,206.45 L277.75,206.46 L277.93,206.47 L278.11,206.48 L278.28,206.49 L278.46,206.51 L278.64,206.52 L278.81,206.53 L278.99,206.54 L279.17,206.55 L279.34,206.57 L279.52,206.58 L279.70,206.59 L279.87,206.60 L280.05,206.61 L280.23,206.62 L280.40,206.64 L280.58,206.65 L280.76,206.66 L280.93,206.67 L281.11,206.68 L281.29,206.70 L281.46,206.71 L281.64,206.72 L281.82,206.73 L281.99,206.74 L282.17,206.75 L282.35,206.77 L282.52,206.78 L282.70,206.79 L282.88,206.80 L283.05,206.81 L283.23,206.82 L283.41,206.84 L283.58,206.85 L283.76,206.86 L283.94,206.87 L284.12,206.88 L284.29,206.89 L284.47,206.91 L284.65,206.92 L284.82,206.93 L285.00,206.94 L285.18,206.95 L285.35,206.96 L285.53,206.97 L285.71,206.99 L285.88,207.00 L286.06,207.01 L286.24,207.02 L286.41,207.03 L286.59,207.04 L286.77,207.06 L286.94,207.07 L287.12,207.08 L287.30,207.09 L287.47,207.10 L287.65,207.11 L287.83,207.12 L288.00,207.14 L288.18,207.15 L288.36,207.16 L288.53,207.17 L288.71,207.18 L288.89,207.19 L289.06,207.20 L289.24,207.22 L289.42,207.23 L289.59,207.24 L289.77,207.25 L289.95,207.26 L290.12,207.27 L290.30,207.28 L290.48,207.30 L290.65,207.31 L290.83,207.32 L291.01,207.33 L291.19,207.34 L291.36,207.35 L291.54,207.36 L291.72,207.38 L291.89,207.39 L292.07,207.40 L292.25,207.41 L292.42,207.42 L292.60,207.43 L292.78,207.44 L292.95,207.46 L293.13,207.47 L293.31,207.48 L293.48,207.49 L293.66,207.50 L293.84,207.51 L294.01,207.52 L294.19,207.53 L294.37,207.55 L294.54,207.56 L294.72,207.57 L294.90,207.58 L295.07,207.59 L295.25,207.60 L295.43,207.61 L295.60,207.62 L295.78,207.64 L295.96,207.65 L296.13,207.66 L296.31,207.67 L296.49,207.68 L296.66,207.69 L296.84,207.70 L297.02,207.71 L297.19,207.72 L297.37,207.74 L297.55,207.75 L297.72,207.76 L297.90,207.77 L298.08,207.78 L298.26,207.79 L298.43,207.80 L298.61,207.81 L298.79,207.82 L298.96,207.84 L299.14,207.85 L299.32,207.86 L299.49,207.87 L299.67,207.88 L299.85,207.89 L300.02,207.90 L300.20,207.91 L300.38,207.92 L300.55,207.94 L300.73,207.95 L300.91,207.96 L301.08,207.97 L301.26,207.98 L301.44,207.99 L301.61,208.00 L301.79,208.01 L301.97,208.02 L302.14,208.03 L302.32,208.05 L302.50,208.06 L302.67,208.07 L302.85,208.08 L303.03,208.09 L303.20,208.10 L303.38,208.11 L303.56,208.12 L303.73,208.13 L303.91,208.14 L304.09,208.16 L304.26,208.17 L304.44,208.18 L304.62,208.19 L304.79,208.20 L304.97,208.21 L305.15,208.22 L305.33,208.23 L305.50,208.24 L305.68,208.25 L305.86,208.26 L306.03,208.28 L306.21,208.29 L306.39,208.30 L306.56,208.31 L306.74,208.32 L306.92,208.33 L307.09,208.34 L307.27,208.35 L307.45,208.36 L307.62,208.37 L307.80,208.38 L307.98,208.39 L308.15,208.41 L308.33,208.42 L308.51,208.43 L308.68,208.44 L308.86,208.45 L309.04,208.46 L309.21,208.47 L309.39,208.48 L309.57,208.49 L309.74,208.50 L309.92,208.51 L310.10,208.52 L310.27,208.53 L310.45,208.54 L310.63,208.56 L310.80,208.57 L310.98,208.58 L311.16,208.59 L311.33,208.60 L311.51,208.61 L311.69,208.62 L311.87,208.63 L312.04,208.64 L312.22,208.65 L312.40,208.66 L312.57,208.67 L312.75,208.68 L312.93,208.69 L313.10,208.71 L313.28,208.72 L313.46,208.73 L313.63,208.74 L313.81,208.75 L313.99,208.76 L314.16,208.77 L314.34,208.78 L314.52,208.79 L314.69,208.80 L314.87,208.81 L315.05,208.82 L315.22,208.83 L315.40,208.84" fill="none" stroke="#111" stroke-width="1.5" stroke-linejoin="round" clip-path="url(#ca)"/>
<path d="M184.78,43.5V71.2" stroke="#1fb1c6" stroke-width="1.5"/>
<path d="M202.10,43.5V71.2" stroke="#f26b3f" stroke-width="1.5"/>
<path d="M210.59,43.5V71.2" stroke="#f26b3f" stroke-width="1.5"/>
<text x="175.6" y="38.9" font-size="12.8" text-anchor="start" fill="#1fb1c6" textLength="16.9" lengthAdjust="spacingAndGlyphs"><tspan font-style="italic">Hβ</tspan></text>
<text x="195" y="38.9" font-size="12.8" text-anchor="start" fill="#f26b3f" textLength="34" lengthAdjust="spacingAndGlyphs">[<tspan font-style="italic">OIII</tspan>]</text>
<path d="M41.44,238.4v-2.4M41.44,6.3v2.4M50.27,238.4v-2.4M50.27,6.3v2.4M59.11,238.4v-2.4M59.11,6.3v2.4M67.95,238.4v-2.4M67.95,6.3v2.4M85.62,238.4v-2.4M85.62,6.3v2.4M94.46,238.4v-2.4M94.46,6.3v2.4M103.30,238.4v-2.4M103.30,6.3v2.4M112.14,238.4v-2.4M112.14,6.3v2.4M129.81,238.4v-2.4M129.81,6.3v2.4M138.65,238.4v-2.4M138.65,6.3v2.4M147.49,238.4v-2.4M147.49,6.3v2.4M156.32,238.4v-2.4M156.32,6.3v2.4M174.00,238.4v-2.4M174.00,6.3v2.4M182.84,238.4v-2.4M182.84,6.3v2.4M191.67,238.4v-2.4M191.67,6.3v2.4M200.51,238.4v-2.4M200.51,6.3v2.4M218.19,238.4v-2.4M218.19,6.3v2.4M227.02,238.4v-2.4M227.02,6.3v2.4M235.86,238.4v-2.4M235.86,6.3v2.4M244.70,238.4v-2.4M244.70,6.3v2.4M262.38,238.4v-2.4M262.38,6.3v2.4M271.21,238.4v-2.4M271.21,6.3v2.4M280.05,238.4v-2.4M280.05,6.3v2.4M288.89,238.4v-2.4M288.89,6.3v2.4M306.56,238.4v-2.4M306.56,6.3v2.4M315.40,238.4v-2.4M315.40,6.3v2.4M32.60,238.4v-5.0M32.60,6.3v5.0M76.79,238.4v-5.0M76.79,6.3v5.0M120.97,238.4v-5.0M120.97,6.3v5.0M165.16,238.4v-5.0M165.16,6.3v5.0M209.35,238.4v-5.0M209.35,6.3v5.0M253.54,238.4v-5.0M253.54,6.3v5.0M297.72,238.4v-5.0M297.72,6.3v5.0M32.6,229.12h2.4M315.4,229.12h-2.4M32.6,219.83h2.4M315.4,219.83h-2.4M32.6,210.55h2.4M315.4,210.55h-2.4M32.6,201.26h2.4M315.4,201.26h-2.4M32.6,182.70h2.4M315.4,182.70h-2.4M32.6,173.41h2.4M315.4,173.41h-2.4M32.6,164.13h2.4M315.4,164.13h-2.4M32.6,154.84h2.4M315.4,154.84h-2.4M32.6,136.28h2.4M315.4,136.28h-2.4M32.6,126.99h2.4M315.4,126.99h-2.4M32.6,117.71h2.4M315.4,117.71h-2.4M32.6,108.42h2.4M315.4,108.42h-2.4M32.6,89.86h2.4M315.4,89.86h-2.4M32.6,80.57h2.4M315.4,80.57h-2.4M32.6,71.29h2.4M315.4,71.29h-2.4M32.6,62.00h2.4M315.4,62.00h-2.4M32.6,43.44h2.4M315.4,43.44h-2.4M32.6,34.15h2.4M315.4,34.15h-2.4M32.6,24.87h2.4M315.4,24.87h-2.4M32.6,15.58h2.4M315.4,15.58h-2.4M32.6,238.40h5.0M315.4,238.40h-5.0M32.6,191.98h5.0M315.4,191.98h-5.0M32.6,145.56h5.0M315.4,145.56h-5.0M32.6,99.14h5.0M315.4,99.14h-5.0M32.6,52.72h5.0M315.4,52.72h-5.0M32.6,6.30h5.0M315.4,6.30h-5.0" stroke="#6b6b6b" stroke-width="0.9" fill="none"/>
<rect x="32.6" y="6.3" width="282.80" height="232.10" fill="none" stroke="#6b6b6b" stroke-width="1.3"/>
<text x="32.60" y="249.40" text-anchor="middle" font-size="11.7" fill="#444">4000</text>
<text x="76.79" y="249.40" text-anchor="middle" font-size="11.7" fill="#444">4250</text>
<text x="120.97" y="249.40" text-anchor="middle" font-size="11.7" fill="#444">4500</text>
<text x="165.16" y="249.40" text-anchor="middle" font-size="11.7" fill="#444">4750</text>
<text x="209.35" y="249.40" text-anchor="middle" font-size="11.7" fill="#444">5000</text>
<text x="253.54" y="249.40" text-anchor="middle" font-size="11.7" fill="#444">5250</text>
<text x="297.72" y="249.40" text-anchor="middle" font-size="11.7" fill="#444">5500</text>
<text x="29.30" y="242.40" text-anchor="end" font-size="11.7" fill="#444">0</text>
<text x="29.30" y="195.98" text-anchor="end" font-size="11.7" fill="#444">5</text>
<text x="29.30" y="149.56" text-anchor="end" font-size="11.7" fill="#444">10</text>
<text x="29.30" y="103.14" text-anchor="end" font-size="11.7" fill="#444">15</text>
<text x="29.30" y="56.72" text-anchor="end" font-size="11.7" fill="#444">20</text>
<text x="29.30" y="10.30" text-anchor="end" font-size="11.7" fill="#444">25</text>
<text x="52" y="27.5" font-size="12.8" text-anchor="start" fill="#444" textLength="14" lengthAdjust="spacingAndGlyphs">(a)</text>
<text x="11.7" y="180.3" font-size="12.8" text-anchor="start" fill="#444" textLength="114.2" lengthAdjust="spacingAndGlyphs" transform="rotate(-90 11.7 180.3)">Flux (arbitrary units)</text>
<text x="100.5" y="266" font-size="12.8" text-anchor="start" fill="#444" textLength="145.5" lengthAdjust="spacingAndGlyphs">Rest-frame Wavelength (Å)</text>
<g clip-path="url(#cm)"><g transform="translate(388.2,6.5)">
<g filter="url(#soft)">
<path d="M0,0H233V232H0Z" fill="#fdd08a"/>
<path d="M0,0H233V4H0Z" fill="#fee4a0"/>
<path d="M0,0H16V6H0Z" fill="#f46d43"/>
<path d="M0,3 Q60,1 142,6 V20 H0Z" fill="url(#gDome)"/>
<path d="M0,6.5 Q20,4 48,1.5 Q30,10 8,17.5 L0,17.5Z" fill="#ad1a3b"/>
<path d="M75,3.5 Q110,4 142,8 Q140,14 132,17 Q110,13 92,6Z" fill="#ad1a3b"/>
<path d="M0,17 Q5,17 10,19.5 H0Z" fill="#b4d8ea"/>
<path d="M120,9 Q128,9 134,11 Q128,14 122,13Z" fill="#f46d43"/>
<path d="M150,0 H190 V5 Q170,8 155,10Z" fill="#f8864e"/>
<path d="M178,0 H233 V17 Q205,10 186,4.5 Z" fill="#ad1a3b"/>
<path d="M158,12 Q175,6 186,4.5 Q210,10 233,17 V21.5 Q200,17 158,12Z" fill="#fff5c0"/>
<path d="M150,13 Q180,12 205,20 Q180,23 150,21Z" fill="#f46d43"/>
<path d="M0,14 Q15,16 25,19 H0Z" fill="#fcac64"/>
<path d="M0,7 Q30,1 120,4 Q180,6 233,17" fill="none" stroke="#b4d8ea" stroke-width="1.4" stroke-linecap="round"/>
<path d="M112,5 Q160,11 233,21.5" fill="none" stroke="#b4d8ea" stroke-width="2.2" stroke-linecap="round"/>
<path d="M195,22 H233 V31 Q215,30 195,24Z" fill="#b4d8ea"/>
<path d="M0,21.3 Q120,20.5 233,22.8" fill="none" stroke="#b4d8ea" stroke-width="4.5" stroke-linecap="round"/>
<path d="M0,21.3 Q120,20.5 233,22.8" fill="none" stroke="#4565b0" stroke-width="2.0" stroke-linecap="round"/>
<path d="M28,23.3 H116 Q115,29 108,32 Q80,34 60,31 Q40,27 28,23.3Z" fill="#f8864e"/>
<path d="M36,23.5 H110 Q100,29 80,31 Q55,28 36,23.5Z" fill="#f46d43"/>
<path d="M50,24 H100 Q85,28 70,28 Z" fill="#d73027"/>
<path d="M0,23 H28 Q20,30 0,33Z" fill="#fee4a0"/>
<path d="M0,33 Q60,30 116,32 Q180,30 233,31 V56 Q120,57 0,56Z" fill="#fee4a0"/>
<path d="M10,40 Q70,36 150,38 Q110,50 10,46Z" fill="#fff5c0"/>
<path d="M112,37 Q130,35 146,38 Q130,44 112,42Z" fill="#fcac64"/>
<path d="M188,35 Q208,31 229,34 Q215,42 190,40Z" fill="#ad1a3b"/>
<path d="M186,34 Q205,30 229,33 Q212,44 186,38Z" fill="#bf1d36" fill-opacity="0.5"/>
<path d="M218,30 H233 V45 Q222,40 218,30Z" fill="#f8864e"/>
<path d="M166,46 Q200,48 233,49 V57 Q200,55 166,47Z" fill="#b4d8ea"/>
<path d="M121,51 Q133,50 146,52 L140,60 Q130,57 121,51Z" fill="#b4d8ea"/>
<path d="M0,53 Q40,47 78,40 Q150,30 233,33" fill="none" stroke="#b4d8ea" stroke-width="1.2" stroke-linecap="round"/>
<path d="M78,33.7 Q100,26 118,23.4" fill="none" stroke="#b4d8ea" stroke-width="1.0" stroke-linecap="round"/>
<path d="M78,41.6 Q100,37 123,36 Q140,38 156,45 L233,46" fill="none" stroke="#b4d8ea" stroke-width="1.4" stroke-linecap="round"/>
<path d="M112,42.8 Q140,43 233,45.5" fill="none" stroke="#4565b0" stroke-width="1.1" stroke-linecap="round"/>
<path d="M0,56.5 Q80,58 156,60 L233,61" fill="none" stroke="#b4d8ea" stroke-width="3.5" stroke-linecap="round"/>
<path d="M0,56.5 Q80,58 156,60 L233,61" fill="none" stroke="#4565b0" stroke-width="1.6" stroke-linecap="round"/>
<path d="M34,58 Q38,62 38,68 Q39,62 42,58Z" fill="#fff5c0"/>
<path d="M0,58.5 Q120,60 233,62 V79 Q120,79 0,79Z" fill="#f46d43"/>
<path d="M0,59 Q20,59 40,60 Q20,64 0,66Z" fill="#f8864e"/>
<path d="M6.8,78 Q15,68 22,67 Q32,70 37.6,78Z" fill="#ad1a3b"/>
<path d="M40,78 Q70,64 121,60 Q136,60 146,62 Q145,72 121,73 Q90,76 78,78Z" fill="#ad1a3b"/>
<path d="M129,64 Q138,62 146,64 Q142,71 131,72Z" fill="#ad1a3b"/>
<path d="M155,61.5 Q163,61 170,62 Q165,67 156,68Z" fill="#ad1a3b"/>
<path d="M178,66 Q192,64 206,66 Q195,75 180,75Z" fill="#ad1a3b"/>
<path d="M192,63.3 Q203,62.5 213,63.5 Q205,68 195,68Z" fill="#ad1a3b"/>
<path d="M206,66 Q220,64 233,66 V74 Q220,74 206,72Z" fill="#f8864e"/>
<path d="M78,77.6 Q95,77 112,78 V85.6 Q95,86 78,84Z" fill="#b4d8ea"/>
<path d="M0,79.5 Q120,79.5 233,80" fill="none" stroke="#b4d8ea" stroke-width="3.5" stroke-linecap="round"/>
<path d="M0,79.5 Q120,79.5 233,80" fill="none" stroke="#4565b0" stroke-width="2.0" stroke-linecap="round"/>
<path d="M0,81 H78 V97 H0Z" fill="#f46d43"/>
<path d="M40,82 H78 V90 Q60,90 40,82Z" fill="#d73027"/>
<path d="M0,91 Q40,90 78,92 V97 H0Z" fill="#fee4a0"/>
<path d="M0,88.5H78V91H0Z" fill="#f8864e"/>
<path d="M17,97 Q28,90 29,85 Q30,92 40,97Z" fill="#b4d8ea"/>
<path d="M78,85 Q86,84 95,86 V92 Q86,92 78,92Z" fill="#d73027"/>
<path d="M112,81 Q135,80 156,82 V93 Q135,95 112,93Z" fill="#fee4a0"/>
<path d="M156,80 H205 V92 Q180,89 156,88Z" fill="#fdd08a"/>
<path d="M206,81 Q222,80 233,82 V97 H206Z" fill="#f46d43"/>
<path d="M166,89 Q175,88 183,89.5 Q176,95 167,95Z" fill="#ad1a3b"/>
<path d="M183,90 H206 V97 H183Z" fill="#f8864e"/>
<path d="M206,91 Q215,90 223,92 Q215,97 207,97Z" fill="#ad1a3b"/>
<path d="M78,93 Q150,94 233,96 V102.7 Q150,101 78,100Z" fill="#b4d8ea"/>
<path d="M0,98.8 Q120,99.5 233,99.5" fill="none" stroke="#4565b0" stroke-width="2.2" stroke-linecap="round"/>
<path d="M78,94 Q150,95 233,97" fill="none" stroke="#7fb0d6" stroke-width="1.0" stroke-linecap="round"/>
<path d="M0,100.4 H78 V115 H0Z" fill="#b4d8ea"/>
<path d="M0,102 Q20,101 40,103 Q25,111 0,112Z" fill="#fff5c0"/>
<path d="M0,100.4 Q40,104 78,109.5" fill="none" stroke="#4565b0" stroke-width="1.2" stroke-linecap="round"/>
<path d="M0,113 Q40,113 78,113" fill="none" stroke="#4565b0" stroke-width="1.6" stroke-linecap="round"/>
<path d="M58,107 Q70,106.5 80,106 V114 H58Z" fill="#4565b0"/>
<path d="M78,100.4 H123 V105 H78Z" fill="#fee4a0"/>
<path d="M123,101 Q140,100 156,102 V109 Q140,108 123,104Z" fill="#f46d43"/>
<path d="M78,105 H156 V115 H78Z" fill="#b4d8ea"/>
<path d="M78,112 Q95,111.5 112,112" fill="none" stroke="#4565b0" stroke-width="2.5" stroke-linecap="round"/>
<path d="M155,101.6 Q175,101 195,103 Q180,109 155,109Z" fill="#fcac64"/>
<path d="M198,103 Q215,102 233,103 V107.3 Q215,108 198,105.5Z" fill="#ad1a3b"/>
<path d="M155,109.5 H233 V126.6 H155Z" fill="#b4d8ea"/>
<path d="M170,112 Q190,114 233,116 V122 Q190,121 170,112Z" fill="#e2f2f6"/>
<path d="M155,110.7 Q190,110 233,111" fill="none" stroke="#4565b0" stroke-width="1.2" stroke-linecap="round"/>
<path d="M155,124 Q190,125 233,126" fill="none" stroke="#4565b0" stroke-width="1.4" stroke-linecap="round"/>
<path d="M173,110 Q179,115 179,121 Q180,115 185,110Z" fill="#7fb0d6"/>
<path d="M0,114 H78 V128 H0Z" fill="#f46d43"/>
<path d="M23,121 Q40,119 60,121 Q60,127 45,128 Q30,127 23,121Z" fill="#d73027"/>
<path d="M0,122 Q4,121 7,122 V128 H0Z" fill="#fee4a0"/>
<path d="M10,111 Q14,116 14,120 Q15,115 19,111Z" fill="#e2f2f6"/>
<path d="M78,115 H112 V126.6 H78Z" fill="#f46d43"/>
<path d="M112,115 H156 V126.6 H112Z" fill="#fee4a0"/>
<path d="M118,117 Q135,116 152,118 Q140,124 118,122Z" fill="#fff5c0"/>
<path d="M0,127 H78 V141 H0Z" fill="#b4d8ea"/>
<path d="M40,130 Q55,129 68,130 Q55,138 40,138Z" fill="#fff5c0"/>
<path d="M0,128 Q40,128 78,128.5 M0,132 Q40,133 78,134 M0,137 Q40,137 78,138 M0,140 Q40,141 78,141" fill="none" stroke="#4565b0" stroke-width="1.0" stroke-linecap="round"/>
<path d="M78,127.8 Q110,127 156,128 V141 H78Z" fill="#f46d43"/>
<path d="M100,133.5 Q112,132 123,134 Q112,139 100,139Z" fill="#d73027"/>
<path d="M118,131 Q140,130 156,131 V141.4 H118 Q115,136 118,131Z" fill="#ad1a3b"/>
<path d="M156,126.6 H233 V136 Q200,134 156,133Z" fill="#f46d43"/>
<path d="M155,129 Q162,129 167,130 V142.6 H155Z" fill="#ad1a3b"/>
<path d="M166,132.3 Q178,132 189,133 V142.6 H166Z" fill="#ad1a3b"/>
<path d="M198,131 Q215,130 233,131 V142.6 H198Z" fill="#ad1a3b"/>
<path d="M78,127.2 Q150,127 233,127" fill="none" stroke="#b4d8ea" stroke-width="1.2" stroke-linecap="round"/>
<path d="M78,140.3 Q150,141 233,142 V149.4 Q150,149 78,148Z" fill="#b4d8ea"/>
<path d="M0,141H78V146.5H0Z" fill="#f46d43"/>
<path d="M0,143.7H34V146.5H0Z" fill="#ad1a3b"/>
<path d="M0,145.5 Q120,145 233,146" fill="none" stroke="#4565b0" stroke-width="1.5" stroke-linecap="round"/>
<path d="M78,141 Q150,142 233,143" fill="none" stroke="#7fb0d6" stroke-width="1.0" stroke-linecap="round"/>
<path d="M0,146.5 Q120,148 233,149.4 V182 Q120,185 0,184Z" fill="#ad1a3b"/>
<path d="M0,146.5 Q40,146 78,147 V154 Q40,158 0,156Z" fill="#d73027"/>
<path d="M0,153.5 Q35,153 68,153.5 Q35,158 0,158Z" fill="#f8864e"/>
<path d="M0,168 Q10,172 15,182 H0Z" fill="#f8864e"/>
<path d="M0,175 Q6,178 10,183 H0Z" fill="#fcac64"/>
<path d="M112,149.4 Q135,149 156,150 V156 Q135,156 112,153Z" fill="#f46d43"/>
<path d="M126,153.5 Q142,153 156,154 V166 Q140,163 126,158Z" fill="#fcac64"/>
<path d="M95,182 Q130,170 163,158 Q160,172 150,182Z" fill="#f8864e"/>
<path d="M110,182 Q135,172 160,163 Q155,175 148,182Z" fill="#fcac64"/>
<path d="M207,155.8 Q212,168 233,172 V177 Q205,178 177.6,179.7 Q200,170 207,155.8Z" fill="#f8864e"/>
<path d="M207,160 Q211,170 225,175 Q205,177 190,178 Q203,170 207,160Z" fill="#fcac64"/>
<path d="M155,166 Q165,165 178,167 V180 H155Z" fill="#d73027"/>
<path d="M126,168 Q140,165 156,163 V187 H126Z" fill="#d73027"/>
<path d="M160,153.5 Q200,153 233,153.5 V158 Q200,157 160,158Z" fill="#ad1a3b"/>
<path d="M45,178.5 Q60,178 78,178 V186.5 Q60,186 45,184Z" fill="#b4d8ea"/>
<path d="M0,184.3 Q40,183 78,180.8 Q117,173 156,166" fill="none" stroke="#b4d8ea" stroke-width="1.6" stroke-linecap="round"/>
<path d="M0,184.3 Q40,183 78,180.8" fill="none" stroke="#4565b0" stroke-width="1.6" stroke-linecap="round"/>
<path d="M155,181 Q195,180 233,180.5" fill="none" stroke="#b4d8ea" stroke-width="2.5" stroke-linecap="round"/>
<path d="M0,186.5 H78 V212.7 H0Z" fill="#ad1a3b"/>
<path d="M0,202.8 Q12,196 21.7,188.8 Q27,200 36.6,212.7 H0Z" fill="#d73027"/>
<path d="M0,205 Q14,200 24,195 Q29,204 36.6,212.7 H0Z" fill="#f46d43"/>
<path d="M0,208 Q20,206 32,208 Q34,210 36.6,212.7 H0Z" fill="#fcac64"/>
<path d="M55,191 Q60,193 64,191 Q60,195 60,200 Q58,195 55,191Z" fill="#fee4a0"/>
<path d="M78,184 Q100,182 123,183 V188 Q100,189 78,188Z" fill="#fcac64"/>
<path d="M78,187.7 Q100,187 126,188 Q125,198 120,206 H78Z" fill="#ad1a3b"/>
<path d="M78,196 Q100,196 118,198 Q100,201 78,201Z" fill="#f46d43"/>
<path d="M123,182 Q140,181 156,184 V217 Q140,215 123,212Z" fill="#fee4a0"/>
<path d="M128,188 Q140,186 152,190 Q148,204 135,206Z" fill="#fff5c0"/>
<path d="M125,185 L150,210 M154,186 L128,209 M123,197 Q140,195 156,198" fill="none" stroke="#b4d8ea" stroke-width="1.0" stroke-linecap="round"/>
<path d="M156,184 H233 V202 H156Z" fill="#f46d43"/>
<path d="M189,181.5 Q210,181 233,181.5 V187.7 Q210,188 189,186Z" fill="#ad1a3b"/>
<path d="M162,186.5 Q175,186 189,188 Q180,196 162,195.6Z" fill="#ad1a3b"/>
<path d="M155,193.4 Q195,193 233,194 V202.5 Q195,202 155,203Z" fill="#fee4a0"/>
<path d="M165,195 Q195,194 225,196 Q195,201 165,200Z" fill="#e2f2f6"/>
<path d="M155,194 Q195,193 233,196" fill="none" stroke="#b4d8ea" stroke-width="1.2" stroke-linecap="round"/>
<path d="M155,203 Q195,200 233,197" fill="none" stroke="#4565b0" stroke-width="1.0" stroke-linecap="round"/>
<path d="M155,202.5 H233 V215 H155Z" fill="#f8864e"/>
<path d="M160.5,204 Q180,203 202.6,205 Q185,214 162,215Z" fill="#ad1a3b"/>
<path d="M205,204 H233 V215 H205Z" fill="#fcac64"/>
<path d="M78,206 Q103,205 129,207 Q129,215 120,218.4 H78Z" fill="#f46d43"/>
<path d="M85,210 Q100,209 115,211 Q100,216 85,215Z" fill="#d73027"/>
<path d="M0,213.5 Q40,213.8 78,214" fill="none" stroke="#b4d8ea" stroke-width="1.5" stroke-linecap="round"/>
<path d="M0,214.5H78V220.7H0Z" fill="#fcac64"/>
<path d="M0,217H78V220.7H0Z" fill="#fee4a0"/>
<path d="M155,215 H233 V227.5 H155Z" fill="#e2f2f6"/>
<path d="M0,220 Q80,219 156,217 Q200,217 233,218 V228 Q150,228 0,226Z" fill="#b4d8ea"/>
<path d="M0,221.5 Q40,221.5 78,221.5 Q100,220.5 123,221" fill="none" stroke="#4565b0" stroke-width="2.4" stroke-linecap="round"/>
<path d="M123,221 Q180,224 233,228" fill="none" stroke="#4565b0" stroke-width="1.5" stroke-linecap="round"/>
<path d="M0,226 H233 V232 H0Z" fill="#e2f2f6"/>
<path d="M20,227 Q80,226 150,228 V232 H20Z" fill="#fee4a0"/>
</g></g></g>
<path d="M403.7,222.5H435.7" stroke="#000" stroke-width="2.4"/>
<text x="409.2" y="216.3" font-size="15" text-anchor="start" fill="#111"><tspan font-style="italic">R</tspan><tspan dy="2.4" font-size="9.5">E</tspan></text>
<circle cx="504.4" cy="122.5" r="49.3" fill="none" stroke="#15aabf" stroke-width="2.5"/>
<circle cx="504.45" cy="122.35" r="6.2" fill="none" stroke="#ff0000" stroke-width="2.4"/>
<circle cx="504.45" cy="122.35" r="3.8" fill="none" stroke="#0000ff" stroke-width="2.5"/>
<rect x="388.2" y="6.5" width="232.60" height="232.00" fill="none" stroke="#444" stroke-width="1"/>
<path d="M404.30,238.5v-2.2M404.30,6.5v2.2M388.2,22.60h2.2M620.8,22.60h-2.2M419.85,238.5v-2.2M419.85,6.5v2.2M388.2,38.15h2.2M620.8,38.15h-2.2M435.40,238.5v-2.2M435.40,6.5v2.2M388.2,53.70h2.2M620.8,53.70h-2.2M450.95,238.5v-2.2M450.95,6.5v2.2M388.2,69.25h2.2M620.8,69.25h-2.2M466.50,238.5v-2.2M466.50,6.5v2.2M388.2,84.80h2.2M620.8,84.80h-2.2M482.05,238.5v-2.2M482.05,6.5v2.2M388.2,100.35h2.2M620.8,100.35h-2.2M497.60,238.5v-2.2M497.60,6.5v2.2M388.2,115.90h2.2M620.8,115.90h-2.2M513.15,238.5v-2.2M513.15,6.5v2.2M388.2,131.45h2.2M620.8,131.45h-2.2M528.70,238.5v-2.2M528.70,6.5v2.2M388.2,147.00h2.2M620.8,147.00h-2.2M544.25,238.5v-2.2M544.25,6.5v2.2M388.2,162.55h2.2M620.8,162.55h-2.2M559.80,238.5v-2.2M559.80,6.5v2.2M388.2,178.10h2.2M620.8,178.10h-2.2M575.35,238.5v-2.2M575.35,6.5v2.2M388.2,193.65h2.2M620.8,193.65h-2.2M590.90,238.5v-2.2M590.90,6.5v2.2M388.2,209.20h2.2M620.8,209.20h-2.2M606.45,238.5v-2.2M606.45,6.5v2.2M388.2,224.75h2.2M620.8,224.75h-2.2" stroke="#333" stroke-width="0.8" opacity="0.8"/>
<text x="372.6" y="28.2" font-size="12.8" text-anchor="start" fill="#444" textLength="14.7" lengthAdjust="spacingAndGlyphs">(b)</text>
<rect x="626.2" y="16.4" width="11.40" height="212.50" fill="url(#cbg)"/>
<path d="M626.2,17.2V16.4L631.90,6.1L637.6,16.4V17.2Z" fill="#ad1a3b"/>
<path d="M626.2,228.1V228.9L631.90,239.0L637.6,228.9V228.1Z" fill="#313695"/>
<path d="M626.2,16.4L631.90,6.1L637.6,16.4V228.9L631.90,239.0L626.2,228.9Z" fill="none" stroke="#333" stroke-width="0.8"/>
<path d="M637.6,228.90h-4.5M637.6,220.40h-1.6M637.6,211.90h-1.6M637.6,203.40h-1.6M637.6,194.90h-1.6M637.6,186.40h-4.5M637.6,177.90h-1.6M637.6,169.40h-1.6M637.6,160.90h-1.6M637.6,152.40h-1.6M637.6,143.90h-4.5M637.6,135.40h-1.6M637.6,126.90h-1.6M637.6,118.40h-1.6M637.6,109.90h-1.6M637.6,101.40h-4.5M637.6,92.90h-1.6M637.6,84.40h-1.6M637.6,75.90h-1.6M637.6,67.40h-1.6M637.6,58.90h-4.5M637.6,50.40h-1.6M637.6,41.90h-1.6M637.6,33.40h-1.6M637.6,24.90h-1.6M637.6,16.40h-4.5" stroke="#333" stroke-width="0.8"/>
<text x="639.5" y="20.4" font-size="11.7" text-anchor="start" fill="#444">1.50</text>
<text x="639.5" y="62.9" font-size="11.7" text-anchor="start" fill="#444">1.00</text>
<text x="639.5" y="105.4" font-size="11.7" text-anchor="start" fill="#444">0.50</text>
<text x="639.5" y="147.9" font-size="11.7" text-anchor="start" fill="#444">0.00</text>
<text x="639.5" y="190.4" font-size="11.7" text-anchor="start" fill="#444">-0.50</text>
<text x="639.5" y="232.9" font-size="11.7" text-anchor="start" fill="#444">-1.00</text>
<text x="678.7" y="171.2" font-size="13.5" text-anchor="start" fill="#444" textLength="97" lengthAdjust="spacingAndGlyphs" transform="rotate(-90 678.7 171.2)">−2.5 log(<tspan font-style="italic">μ</tspan>/⟨<tspan font-style="italic">μ</tspan>⟩)</text>
<path d="M32.60,394.99 L32.78,395.07 L32.97,395.15 L33.15,395.23 L33.34,395.31 L33.52,395.39 L33.71,395.47 L33.89,395.55 L34.08,395.63 L34.26,395.71 L34.44,395.79 L34.63,395.87 L34.81,395.95 L35.00,396.03 L35.18,396.11 L35.37,396.19 L35.55,396.27 L35.74,396.35 L35.92,396.43 L36.10,396.50 L36.29,396.58 L36.47,396.66 L36.66,396.74 L36.84,396.82 L37.03,396.90 L37.21,396.98 L37.40,397.06 L37.58,397.14 L37.76,397.21 L37.95,397.29 L38.13,397.37 L38.32,397.45 L38.50,397.53 L38.69,397.61 L38.87,397.68 L39.06,397.76 L39.24,397.84 L39.42,397.92 L39.61,398.00 L39.79,398.07 L39.98,398.15 L40.16,398.23 L40.35,398.31 L40.53,398.38 L40.72,398.46 L40.90,398.54 L41.08,398.62 L41.27,398.69 L41.45,398.77 L41.64,398.85 L41.82,398.93 L42.01,399.00 L42.19,399.08 L42.38,399.16 L42.56,399.23 L42.74,399.31 L42.93,399.39 L43.11,399.46 L43.30,399.54 L43.48,399.62 L43.67,399.69 L43.85,399.77 L44.04,399.85 L44.22,399.92 L44.40,400.00 L44.59,400.08 L44.77,400.15 L44.96,400.23 L45.14,400.30 L45.33,400.38 L45.51,400.46 L45.70,400.53 L45.88,400.61 L46.06,400.68 L46.25,400.76 L46.43,400.84 L46.62,400.91 L46.80,400.99 L46.99,401.06 L47.17,401.14 L47.36,401.21 L47.54,401.29 L47.72,401.36 L47.91,401.44 L48.09,401.51 L48.28,401.59 L48.46,401.66 L48.65,401.74 L48.83,401.81 L49.01,401.89 L49.20,401.96 L49.38,402.04 L49.57,402.11 L49.75,402.19 L49.94,402.26 L50.12,402.34 L50.31,402.41 L50.49,402.49 L50.67,402.56 L50.86,402.63 L51.04,402.71 L51.23,402.78 L51.41,402.86 L51.60,402.93 L51.78,403.01 L51.97,403.08 L52.15,403.15 L52.33,403.23 L52.52,403.30 L52.70,403.37 L52.89,403.45 L53.07,403.52 L53.26,403.60 L53.44,403.67 L53.63,403.74 L53.81,403.82 L53.99,403.89 L54.18,403.96 L54.36,404.04 L54.55,404.11 L54.73,404.18 L54.92,404.25 L55.10,404.33 L55.29,404.40 L55.47,404.47 L55.65,404.55 L55.84,404.62 L56.02,404.69 L56.21,404.76 L56.39,404.84 L56.58,404.91 L56.76,404.98 L56.95,405.05 L57.13,405.13 L57.31,405.20 L57.50,405.27 L57.68,405.34 L57.87,405.42 L58.05,405.49 L58.24,405.56 L58.42,405.63 L58.61,405.70 L58.79,405.78 L58.97,405.85 L59.16,405.92 L59.34,405.99 L59.53,406.06 L59.71,406.13 L59.90,406.21 L60.08,406.28 L60.27,406.35 L60.45,406.42 L60.63,406.49 L60.82,406.56 L61.00,406.63 L61.19,406.71 L61.37,406.78 L61.56,406.85 L61.74,406.92 L61.93,406.99 L62.11,407.06 L62.29,407.13 L62.48,407.20 L62.66,407.27 L62.85,407.34 L63.03,407.41 L63.22,407.49 L63.40,407.56 L63.59,407.63 L63.77,407.70 L63.95,407.77 L64.14,407.84 L64.32,407.91 L64.51,407.98 L64.69,408.05 L64.88,408.12 L65.06,408.19 L65.25,408.26 L65.43,408.33 L65.61,408.40 L65.80,408.47 L65.98,408.54 L66.17,408.61 L66.35,408.68 L66.54,408.75 L66.72,408.82 L66.91,408.89 L67.09,408.96 L67.27,409.02 L67.46,409.09 L67.64,409.16 L67.83,409.23 L68.01,409.30 L68.20,409.37 L68.38,409.44 L68.57,409.51 L68.75,409.58 L68.93,409.65 L69.12,409.72 L69.30,409.78 L69.49,409.85 L69.67,409.92 L69.86,409.99 L70.04,410.06 L70.23,410.13 L70.41,410.20 L70.59,410.27 L70.78,410.33 L70.96,410.40 L71.15,410.47 L71.33,410.54 L71.52,410.61 L71.70,410.68 L71.89,410.74 L72.07,410.81 L72.25,410.88 L72.44,410.95 L72.62,411.02 L72.81,411.08 L72.99,411.15 L73.18,411.22 L73.36,411.29 L73.55,411.35 L73.73,411.42 L73.91,411.49 L74.10,411.56 L74.28,411.62 L74.47,411.69 L74.65,411.76 L74.84,411.83 L75.02,411.89 L75.21,411.96 L75.39,412.03 L75.57,412.10 L75.76,412.16 L75.94,412.23 L76.13,412.30 L76.31,412.36 L76.50,412.43 L76.68,412.50 L76.86,412.56 L77.05,412.63 L77.23,412.70 L77.42,412.76 L77.60,412.83 L77.79,412.90 L77.97,412.96 L78.16,413.03 L78.34,413.10 L78.52,413.16 L78.71,413.23 L78.89,413.29 L79.08,413.36 L79.26,413.43 L79.45,413.49 L79.63,413.56 L79.82,413.63 L80.00,413.69 L80.18,413.76 L80.37,413.82 L80.55,413.89 L80.74,413.95 L80.92,414.02 L81.11,414.09 L81.29,414.15 L81.48,414.22 L81.66,414.28 L81.84,414.35 L82.03,414.41 L82.21,414.48 L82.40,414.54 L82.58,414.61 L82.77,414.67 L82.95,414.74 L83.14,414.80 L83.32,414.87 L83.50,414.93 L83.69,415.00 L83.87,415.06 L84.06,415.13 L84.24,415.19 L84.43,415.26 L84.61,415.32 L84.80,415.39 L84.98,415.45 L85.16,415.52 L85.35,415.58 L85.53,415.65 L85.72,415.71 L85.90,415.78 L86.09,415.84 L86.27,415.90 L86.46,415.97 L86.64,416.03 L86.82,416.10 L87.01,416.16 L87.19,416.22 L87.38,416.29 L87.56,416.35 L87.75,416.42 L87.93,416.48 L88.12,416.54 L88.30,416.61 L88.48,416.67 L88.67,416.74 L88.85,416.80 L89.04,416.86 L89.22,416.93 L89.41,416.99 L89.59,417.05 L89.78,417.12 L89.96,417.18 L90.14,417.24 L90.33,417.31 L90.51,417.37 L90.70,417.43 L90.88,417.50 L91.07,417.56 L91.25,417.62 L91.44,417.68 L91.62,417.75 L91.80,417.81 L91.99,417.87 L92.17,417.94 L92.36,418.00 L92.54,418.06 L92.73,418.12 L92.91,418.19 L93.10,418.25 L93.28,418.31 L93.46,418.37 L93.65,418.44 L93.83,418.50 L94.02,418.56 L94.20,418.62 L94.39,418.69 L94.57,418.75 L94.76,418.81 L94.94,418.87 L95.12,418.93 L95.31,419.00 L95.49,419.06 L95.68,419.12 L95.86,419.18 L96.05,419.24 L96.23,419.31 L96.42,419.37 L96.60,419.43 L96.78,419.49 L96.97,419.55 L97.15,419.61 L97.34,419.68 L97.52,419.74 L97.71,419.80 L97.89,419.86 L98.08,419.92 L98.26,419.98 L98.44,420.04 L98.63,420.11 L98.81,420.17 L99.00,420.23 L99.18,420.29 L99.37,420.35 L99.55,420.41 L99.74,420.47 L99.92,420.53 L100.10,420.59 L100.29,420.65 L100.47,420.71 L100.66,420.78 L100.84,420.84 L101.03,420.90 L101.21,420.96 L101.40,421.02 L101.58,421.08 L101.76,421.14 L101.95,421.20 L102.13,421.26 L102.32,421.32 L102.50,421.38 L102.69,421.44 L102.87,421.50 L103.06,421.56 L103.24,421.62 L103.42,421.68 L103.61,421.74 L103.79,421.80 L103.98,421.86 L104.16,421.92 L104.35,421.98 L104.53,422.04 L104.72,422.10 L104.90,422.16 L105.08,422.22 L105.27,422.28 L105.45,422.34 L105.64,422.40 L105.82,422.46 L106.01,422.52 L106.19,422.58 L106.38,422.64 L106.56,422.70 L106.74,422.75 L106.93,422.81 L107.11,422.87 L107.30,422.93 L107.48,422.99 L107.67,423.05 L107.85,423.11 L108.03,423.17 L108.22,423.23 L108.40,423.29 L108.59,423.35 L108.77,423.40 L108.96,423.46 L109.14,423.52 L109.33,423.58 L109.51,423.64 L109.69,423.70 L109.88,423.76 L110.06,423.81 L110.25,423.87 L110.43,423.93 L110.62,423.99 L110.80,424.05 L110.99,424.11 L111.17,424.17 L111.35,424.22 L111.54,424.28 L111.72,424.34 L111.91,424.40 L112.09,424.46 L112.28,424.51 L112.46,424.57 L112.65,424.63 L112.83,424.69 L113.01,424.75 L113.20,424.80 L113.38,424.86 L113.57,424.92 L113.75,424.98 L113.94,425.03 L114.12,425.09 L114.31,425.15 L114.49,425.21 L114.67,425.26 L114.86,425.32 L115.04,425.38 L115.23,425.44 L115.41,425.49 L115.60,425.55 L115.78,425.61 L115.97,425.67 L116.15,425.72 L116.33,425.78 L116.52,425.84 L116.70,425.89 L116.89,425.95 L117.07,426.01 L117.26,426.07 L117.44,426.12 L117.63,426.18 L117.81,426.24 L117.99,426.29 L118.18,426.35 L118.36,426.41 L118.55,426.46 L118.73,426.52 L118.92,426.58 L119.10,426.63 L119.29,426.69 L119.47,426.74 L119.65,426.80 L119.84,426.86 L120.02,426.91 L120.21,426.97 L120.39,427.03 L120.58,427.08 L120.76,427.14 L120.95,427.19 L121.13,427.25 L121.31,427.31 L121.50,427.36 L121.68,427.42 L121.87,427.47 L122.05,427.53 L122.24,427.59 L122.42,427.64 L122.61,427.70 L122.79,427.75 L122.97,427.81 L123.16,427.87 L123.34,427.92 L123.53,427.98 L123.71,428.03 L123.90,428.09 L124.08,428.14 L124.27,428.20 L124.45,428.25 L124.63,428.31 L124.82,428.36 L125.00,428.42 L125.19,428.47 L125.37,428.53 L125.56,428.58 L125.74,428.64 L125.93,428.70 L126.11,428.75 L126.29,428.81 L126.48,428.86 L126.66,428.91 L126.85,428.97 L127.03,429.02 L127.22,429.08 L127.40,429.13 L127.59,429.19 L127.77,429.24 L127.95,429.30 L128.14,429.35 L128.32,429.41 L128.51,429.46 L128.69,429.52 L128.88,429.57 L129.06,429.63 L129.25,429.68 L129.43,429.73 L129.61,429.79 L129.80,429.84 L129.98,429.90 L130.17,429.95 L130.35,430.00 L130.54,430.06 L130.72,430.11 L130.91,430.17 L131.09,430.22 L131.27,430.27 L131.46,430.33 L131.64,430.38 L131.83,430.44 L132.01,430.49 L132.20,430.54 L132.38,430.60 L132.57,430.65 L132.75,430.71 L132.93,430.76 L133.12,430.81 L133.30,430.87 L133.49,430.92 L133.67,430.97 L133.86,431.03 L134.04,431.08 L134.23,431.13 L134.41,431.19 L134.59,431.24 L134.78,431.29 L134.96,431.35 L135.15,431.40 L135.33,431.45 L135.52,431.51 L135.70,431.56 L135.88,431.61 L136.07,431.66 L136.25,431.72 L136.44,431.77 L136.62,431.82 L136.81,431.88 L136.99,431.93 L137.18,431.98 L137.36,432.03 L137.54,432.09 L137.73,432.14 L137.91,432.19 L138.10,432.24 L138.28,432.30 L138.47,432.35 L138.65,432.40 L138.84,432.45 L139.02,432.51 L139.20,432.56 L139.39,432.61 L139.57,432.66 L139.76,432.72 L139.94,432.77 L140.13,432.82 L140.31,432.87 L140.50,432.92 L140.68,432.98 L140.86,433.03 L141.05,433.08 L141.23,433.13 L141.42,433.18 L141.60,433.24 L141.79,433.29 L141.97,433.34 L142.16,433.39 L142.34,433.44 L142.52,433.50 L142.71,433.55 L142.89,433.60 L143.08,433.65 L143.26,433.70 L143.45,433.75 L143.63,433.80 L143.82,433.86 L144.00,433.91 L144.18,433.96 L144.37,434.01 L144.55,434.06 L144.74,434.11 L144.92,434.16 L145.11,434.22 L145.29,434.27 L145.48,434.32 L145.66,434.37 L145.84,434.42 L146.03,434.47 L146.21,434.52 L146.40,434.57 L146.58,434.62 L146.77,434.67 L146.95,434.73 L147.14,434.78 L147.32,434.83 L147.50,434.88 L147.69,434.93 L147.87,434.98 L148.06,435.03 L148.24,435.08 L148.43,435.13 L148.61,435.18 L148.80,435.23 L148.98,435.28 L149.16,435.33 L149.35,435.38 L149.53,435.43 L149.72,435.48 L149.90,435.53 L150.09,435.58 L150.27,435.63 L150.46,435.68 L150.64,435.73 L150.82,435.79 L151.01,435.84 L151.19,435.89 L151.38,435.94 L151.56,435.98 L151.75,436.03 L151.93,436.08 L152.12,436.13 L152.30,436.18 L152.48,436.23 L152.67,436.28 L152.85,436.33 L153.04,436.38 L153.22,436.43 L153.41,436.48 L153.59,436.53 L153.78,436.58 L153.96,436.63 L154.14,436.68 L154.33,436.73 L154.51,436.78 L154.70,436.83 L154.88,436.88 L155.07,436.92 L155.25,436.97 L155.44,437.02 L155.62,437.07 L155.80,437.12 L155.99,437.17 L156.17,437.22 L156.36,437.27 L156.54,437.31 L156.73,437.36 L156.91,437.41 L157.10,437.46 L157.28,437.51 L157.46,437.55 L157.65,437.60 L157.83,437.65 L158.02,437.70 L158.20,437.74 L158.39,437.79 L158.57,437.84 L158.76,437.88 L158.94,437.93 L159.12,437.97 L159.31,438.02 L159.49,438.07 L159.68,438.11 L159.86,438.16 L160.05,438.20 L160.23,438.24 L160.42,438.29 L160.60,438.33 L160.78,438.38 L160.97,438.42 L161.15,438.46 L161.34,438.50 L161.52,438.54 L161.71,438.58 L161.89,438.62 L162.08,438.66 L162.26,438.70 L162.44,438.74 L162.63,438.78 L162.81,438.81 L163.00,438.85 L163.18,438.88 L163.37,438.92 L163.55,438.95 L163.74,438.98 L163.92,439.01 L164.10,439.04 L164.29,439.06 L164.47,439.09 L164.66,439.12 L164.84,439.14 L165.03,439.16 L165.21,439.18 L165.39,439.20 L165.58,439.21 L165.76,439.23 L165.95,439.24 L166.13,439.25 L166.32,439.25 L166.50,439.26 L166.69,439.26 L166.87,439.26 L167.05,439.25 L167.24,439.25 L167.42,439.24 L167.61,439.22 L167.79,439.21 L167.98,439.18 L168.16,439.16 L168.35,439.13 L168.53,439.10 L168.71,439.06 L168.90,439.02 L169.08,438.97 L169.27,438.92 L169.45,438.86 L169.64,438.80 L169.82,438.73 L170.01,438.66 L170.19,438.58 L170.37,438.49 L170.56,438.40 L170.74,438.30 L170.93,438.19 L171.11,438.08 L171.30,437.96 L171.48,437.83 L171.67,437.69 L171.85,437.54 L172.03,437.39 L172.22,437.23 L172.40,437.06 L172.59,436.88 L172.77,436.69 L172.96,436.49 L173.14,436.28 L173.33,436.06 L173.51,435.83 L173.69,435.59 L173.88,435.34 L174.06,435.08 L174.25,434.80 L174.43,434.52 L174.62,434.22 L174.80,433.91 L174.99,433.59 L175.17,433.26 L175.35,432.92 L175.54,432.56 L175.72,432.19 L175.91,431.80 L176.09,431.41 L176.28,431.00 L176.46,430.58 L176.65,430.14 L176.83,429.69 L177.01,429.23 L177.20,428.76 L177.38,428.27 L177.57,427.77 L177.75,427.26 L177.94,426.73 L178.12,426.19 L178.31,425.63 L178.49,425.07 L178.67,424.49 L178.86,423.90 L179.04,423.30 L179.23,422.68 L179.41,422.05 L179.60,421.42 L179.78,420.77 L179.97,420.11 L180.15,419.44 L180.33,418.76 L180.52,418.07 L180.70,417.37 L180.89,416.66 L181.07,415.95 L181.26,415.23 L181.44,414.50 L181.63,413.76 L181.81,413.02 L181.99,412.27 L182.18,411.52 L182.36,410.77 L182.55,410.01 L182.73,409.25 L182.92,408.49 L183.10,407.73 L183.29,406.96 L183.47,406.20 L183.65,405.44 L183.84,404.68 L184.02,403.93 L184.21,403.18 L184.39,402.43 L184.58,401.69 L184.76,400.96 L184.95,400.24 L185.13,399.52 L185.31,398.81 L185.50,398.11 L185.68,397.43 L185.87,396.75 L186.05,396.09 L186.24,395.43 L186.42,394.79 L186.61,394.16 L186.79,393.53 L186.97,392.90 L187.16,392.28 L187.34,391.64 L187.53,390.99 L187.71,390.31 L187.90,389.58 L188.08,388.80 L188.27,387.94 L188.45,386.98 L188.63,385.92 L188.82,384.74 L189.00,383.42 L189.19,381.96 L189.37,380.37 L189.56,378.67 L189.74,376.88 L189.93,375.03 L190.11,373.19 L190.29,371.41 L190.48,369.75 L190.66,368.28 L190.85,367.07 L191.03,366.17 L191.22,365.63 L191.40,365.48 L191.59,365.72 L191.77,366.35 L191.95,367.33 L192.14,368.63 L192.32,370.18 L192.51,371.92 L192.69,373.79 L192.88,375.72 L193.06,377.65 L193.25,379.53 L193.43,381.32 L193.61,383.00 L193.80,384.54 L193.98,385.95 L194.17,387.22 L194.35,388.37 L194.54,389.41 L194.72,390.35 L194.91,391.22 L195.09,392.03 L195.27,392.80 L195.46,393.54 L195.64,394.27 L195.83,394.98 L196.01,395.69 L196.20,396.40 L196.38,397.12 L196.56,397.85 L196.75,398.59 L196.93,399.35 L197.12,400.11 L197.30,400.88 L197.49,401.66 L197.67,402.46 L197.86,403.26 L198.04,404.07 L198.22,404.89 L198.41,405.72 L198.59,406.55 L198.78,407.39 L198.96,408.23 L199.15,409.07 L199.33,409.92 L199.52,410.77 L199.70,411.62 L199.88,412.47 L200.07,413.31 L200.25,414.16 L200.44,415.01 L200.62,415.85 L200.81,416.68 L200.99,417.52 L201.18,418.35 L201.36,419.17 L201.54,419.98 L201.73,420.79 L201.91,421.59 L202.10,422.39 L202.28,423.17 L202.47,423.95 L202.65,424.71 L202.84,425.47 L203.02,426.22 L203.20,426.95 L203.39,427.67 L203.57,428.39 L203.76,429.08 L203.94,429.77 L204.13,430.43 L204.31,431.08 L204.50,431.71 L204.68,432.31 L204.86,432.88 L205.05,433.40 L205.23,433.87 L205.42,434.27 L205.60,434.58 L205.79,434.77 L205.97,434.82 L206.16,434.69 L206.34,434.35 L206.52,433.75 L206.71,432.87 L206.89,431.67 L207.08,430.14 L207.26,428.25 L207.45,426.03 L207.63,423.51 L207.82,420.73 L208.00,417.78 L208.18,414.77 L208.37,411.80 L208.55,409.02 L208.74,406.57 L208.92,404.56 L209.11,403.13 L209.29,402.35 L209.48,402.29 L209.66,402.97 L209.84,404.37 L210.03,406.43 L210.21,409.06 L210.40,412.14 L210.58,415.55 L210.77,419.15 L210.95,422.80 L211.14,426.39 L211.32,429.81 L211.50,432.98 L211.69,435.85 L211.87,438.39 L212.06,440.59 L212.24,442.45 L212.43,444.00 L212.61,445.27 L212.80,446.28 L212.98,447.08 L213.16,447.69 L213.35,448.13 L213.53,448.42 L213.72,448.57 L213.90,448.57 L214.09,448.40 L214.27,448.01 L214.46,447.37 L214.64,446.41 L214.82,445.04 L215.01,443.16 L215.19,440.67 L215.38,437.47 L215.56,433.44 L215.75,428.49 L215.93,422.56 L216.12,415.63 L216.30,407.72 L216.48,398.93 L216.67,389.42 L216.85,379.44 L217.04,369.28 L217.22,359.31 L217.41,349.93 L217.59,341.54 L217.78,334.55 L217.96,329.30 L218.14,326.06 L218.33,325.00 L218.51,326.18 L218.70,329.55 L218.88,334.92 L219.07,342.04 L219.25,350.55 L219.44,360.05 L219.62,370.15 L219.80,380.44 L219.99,390.55 L220.17,400.19 L220.36,409.11 L220.54,417.16 L220.73,424.23 L220.91,430.29 L221.10,435.38 L221.28,439.56 L221.46,442.92 L221.65,445.56 L221.83,447.60 L222.02,449.14 L222.20,450.29 L222.39,451.14 L222.57,451.75 L222.76,452.18 L222.94,452.49 L223.12,452.71 L223.31,452.87 L223.49,452.99 L223.68,453.08 L223.86,453.15 L224.05,453.21 L224.23,453.26 L224.41,453.30 L224.60,453.35 L224.78,453.39 L224.97,453.43 L225.15,453.47 L225.34,453.51 L225.52,453.55 L225.71,453.59 L225.89,453.63 L226.07,453.67 L226.26,453.71 L226.44,453.75 L226.63,453.79 L226.81,453.83 L227.00,453.86 L227.18,453.90 L227.37,453.94 L227.55,453.98 L227.73,454.02 L227.92,454.06 L228.10,454.10 L228.29,454.13 L228.47,454.17 L228.66,454.21 L228.84,454.25 L229.03,454.29 L229.21,454.32 L229.39,454.36 L229.58,454.40 L229.76,454.44 L229.95,454.48 L230.13,454.51 L230.32,454.55 L230.50,454.59 L230.69,454.63 L230.87,454.67 L231.05,454.70 L231.24,454.74 L231.42,454.78 L231.61,454.82 L231.79,454.85 L231.98,454.89 L232.16,454.93 L232.35,454.97 L232.53,455.00 L232.71,455.04 L232.90,455.08 L233.08,455.12 L233.27,455.15 L233.45,455.19 L233.64,455.23 L233.82,455.27 L234.01,455.30 L234.19,455.34 L234.37,455.38 L234.56,455.42 L234.74,455.45 L234.93,455.49 L235.11,455.53 L235.30,455.56 L235.48,455.60 L235.67,455.64 L235.85,455.67 L236.03,455.71 L236.22,455.75 L236.40,455.79 L236.59,455.82 L236.77,455.86 L236.96,455.90 L237.14,455.93 L237.33,455.97 L237.51,456.01 L237.69,456.04 L237.88,456.08 L238.06,456.12 L238.25,456.15 L238.43,456.19 L238.62,456.23 L238.80,456.26 L238.99,456.30 L239.17,456.34 L239.35,456.37 L239.54,456.41 L239.72,456.45 L239.91,456.48 L240.09,456.52 L240.28,456.56 L240.46,456.59 L240.65,456.63 L240.83,456.67 L241.01,456.70 L241.20,456.74 L241.38,456.78 L241.57,456.81 L241.75,456.85 L241.94,456.88 L242.12,456.92 L242.31,456.96 L242.49,456.99 L242.67,457.03 L242.86,457.07 L243.04,457.10 L243.23,457.14 L243.41,457.17 L243.60,457.21 L243.78,457.25 L243.97,457.28 L244.15,457.32 L244.33,457.35 L244.52,457.39 L244.70,457.43 L244.89,457.46 L245.07,457.50 L245.26,457.53 L245.44,457.57 L245.63,457.61 L245.81,457.64 L245.99,457.68 L246.18,457.71 L246.36,457.75 L246.55,457.78 L246.73,457.82 L246.92,457.86 L247.10,457.89 L247.29,457.93 L247.47,457.96 L247.65,458.00 L247.84,458.03 L248.02,458.07 L248.21,458.10 L248.39,458.14 L248.58,458.18 L248.76,458.21 L248.95,458.25 L249.13,458.28 L249.31,458.32 L249.50,458.35 L249.68,458.39 L249.87,458.42 L250.05,458.46 L250.24,458.49 L250.42,458.53 L250.61,458.56 L250.79,458.60 L250.97,458.64 L251.16,458.67 L251.34,458.71 L251.53,458.74 L251.71,458.78 L251.90,458.81 L252.08,458.85 L252.27,458.88 L252.45,458.92 L252.63,458.95 L252.82,458.99 L253.00,459.02 L253.19,459.06 L253.37,459.09 L253.56,459.13 L253.74,459.16 L253.92,459.20 L254.11,459.23 L254.29,459.26 L254.48,459.30 L254.66,459.33 L254.85,459.37 L255.03,459.40 L255.22,459.44 L255.40,459.47 L255.58,459.51 L255.77,459.54 L255.95,459.58 L256.14,459.61 L256.32,459.65 L256.51,459.68 L256.69,459.72 L256.88,459.75 L257.06,459.78 L257.24,459.82 L257.43,459.85 L257.61,459.89 L257.80,459.92 L257.98,459.96 L258.17,459.99 L258.35,460.03 L258.54,460.06 L258.72,460.09 L258.90,460.13 L259.09,460.16 L259.27,460.20 L259.46,460.23 L259.64,460.27 L259.83,460.30 L260.01,460.33 L260.20,460.37 L260.38,460.40 L260.56,460.44 L260.75,460.47 L260.93,460.50 L261.12,460.54 L261.30,460.57 L261.49,460.61 L261.67,460.64 L261.86,460.67 L262.04,460.71 L262.22,460.74 L262.41,460.78 L262.59,460.81 L262.78,460.84 L262.96,460.88 L263.15,460.91 L263.33,460.94 L263.52,460.98 L263.70,461.01 L263.88,461.05 L264.07,461.08 L264.25,461.11 L264.44,461.15 L264.62,461.18 L264.81,461.21 L264.99,461.25 L265.18,461.28 L265.36,461.31 L265.54,461.35 L265.73,461.38 L265.91,461.42 L266.10,461.45 L266.28,461.48 L266.47,461.52 L266.65,461.55 L266.84,461.58 L267.02,461.62 L267.20,461.65 L267.39,461.68 L267.57,461.72 L267.76,461.75 L267.94,461.78 L268.13,461.82 L268.31,461.85 L268.50,461.88 L268.68,461.92 L268.86,461.95 L269.05,461.98 L269.23,462.01 L269.42,462.05 L269.60,462.08 L269.79,462.11 L269.97,462.15 L270.16,462.18 L270.34,462.21 L270.52,462.25 L270.71,462.28 L270.89,462.31 L271.08,462.34 L271.26,462.38 L271.45,462.41 L271.63,462.44 L271.82,462.48 L272.00,462.51 L272.18,462.54 L272.37,462.57 L272.55,462.61 L272.74,462.64 L272.92,462.67 L273.11,462.71 L273.29,462.74 L273.48,462.77 L273.66,462.80 L273.84,462.84 L274.03,462.87 L274.21,462.90 L274.40,462.93 L274.58,462.97 L274.77,463.00 L274.95,463.03 L275.14,463.06 L275.32,463.10 L275.50,463.13 L275.69,463.16 L275.87,463.19 L276.06,463.23 L276.24,463.26 L276.43,463.29 L276.61,463.32 L276.80,463.36 L276.98,463.39 L277.16,463.42 L277.35,463.45 L277.53,463.48 L277.72,463.52 L277.90,463.55 L278.09,463.58 L278.27,463.61 L278.46,463.65 L278.64,463.68 L278.82,463.71 L279.01,463.74 L279.19,463.77 L279.38,463.81 L279.56,463.84 L279.75,463.87 L279.93,463.90 L280.12,463.93 L280.30,463.97 L280.48,464.00 L280.67,464.03 L280.85,464.06 L281.04,464.09 L281.22,464.13 L281.41,464.16 L281.59,464.19 L281.78,464.22 L281.96,464.25 L282.14,464.28 L282.33,464.32 L282.51,464.35 L282.70,464.38 L282.88,464.41 L283.07,464.44 L283.25,464.47 L283.43,464.51 L283.62,464.54 L283.80,464.57 L283.99,464.60 L284.17,464.63 L284.36,464.66 L284.54,464.70 L284.73,464.73 L284.91,464.76 L285.09,464.79 L285.28,464.82 L285.46,464.85 L285.65,464.88 L285.83,464.92 L286.02,464.95 L286.20,464.98 L286.39,465.01 L286.57,465.04 L286.75,465.07 L286.94,465.10 L287.12,465.13 L287.31,465.17 L287.49,465.20 L287.68,465.23 L287.86,465.26 L288.05,465.29 L288.23,465.32 L288.41,465.35 L288.60,465.38 L288.78,465.41 L288.97,465.45 L289.15,465.48 L289.34,465.51 L289.52,465.54 L289.71,465.57 L289.89,465.60 L290.07,465.63 L290.26,465.66 L290.44,465.69 L290.63,465.72 L290.81,465.76 L291.00,465.79 L291.18,465.82 L291.37,465.85 L291.55,465.88 L291.73,465.91 L291.92,465.94 L292.10,465.97 L292.29,466.00 L292.47,466.03 L292.66,466.06 L292.84,466.09 L293.03,466.12 L293.21,466.15 L293.39,466.19 L293.58,466.22 L293.76,466.25 L293.95,466.28 L294.13,466.31 L294.32,466.34 L294.50,466.37 L294.69,466.40 L294.87,466.43 L295.05,466.46 L295.24,466.49 L295.42,466.52 L295.61,466.55 L295.79,466.58 L295.98,466.61 L296.16,466.64 L296.35,466.67 L296.53,466.70 L296.71,466.73 L296.90,466.76 L297.08,466.79 L297.27,466.82 L297.45,466.85 L297.64,466.88 L297.82,466.91 L298.01,466.94 L298.19,466.98 L298.37,467.01 L298.56,467.04 L298.74,467.07 L298.93,467.10 L299.11,467.13 L299.30,467.16 L299.48,467.19 L299.67,467.22 L299.85,467.25 L300.03,467.28 L300.22,467.31 L300.40,467.34 L300.59,467.37 L300.77,467.40 L300.96,467.43 L301.14,467.46 L301.33,467.48 L301.51,467.51 L301.69,467.54 L301.88,467.57 L302.06,467.60 L302.25,467.63 L302.43,467.66 L302.62,467.69 L302.80,467.72 L302.99,467.75 L303.17,467.78 L303.35,467.81 L303.54,467.84 L303.72,467.87 L303.91,467.90 L304.09,467.93 L304.28,467.96 L304.46,467.99 L304.65,468.02 L304.83,468.05 L305.01,468.08 L305.20,468.11 L305.38,468.14 L305.57,468.17 L305.75,468.20 L305.94,468.23 L306.12,468.25 L306.31,468.28 L306.49,468.31 L306.67,468.34 L306.86,468.37 L307.04,468.40 L307.23,468.43 L307.41,468.46 L307.60,468.49 L307.78,468.52 L307.97,468.55 L308.15,468.58 L308.33,468.61 L308.52,468.64 L308.70,468.66 L308.89,468.69 L309.07,468.72 L309.26,468.75 L309.44,468.78 L309.63,468.81 L309.81,468.84 L309.99,468.87 L310.18,468.90 L310.36,468.93 L310.55,468.95 L310.73,468.98 L310.92,469.01 L311.10,469.04 L311.29,469.07 L311.47,469.10 L311.65,469.13 L311.84,469.16 L312.02,469.19 L312.21,469.22 L312.39,469.24 L312.58,469.27 L312.76,469.30 L312.94,469.33 L313.13,469.36 L313.31,469.39 L313.50,469.42 L313.68,469.45 L313.87,469.47 L314.05,469.50 L314.24,469.53 L314.42,469.56 L314.60,469.59 L314.79,469.62 L314.97,469.65 L315.16,469.67 L315.34,469.70 L315.53,469.73 L315.71,469.76 L315.90,469.79 L316.08,469.82 L316.26,469.84 L316.45,469.87 L316.63,469.90 L316.82,469.93 L317.00,469.96 L317.19,469.99 L317.37,470.02 L317.56,470.04 L317.74,470.07 L317.92,470.10 L318.11,470.13 L318.29,470.16 L318.48,470.19 L318.66,470.21 L318.85,470.24 L319.03,470.27 L319.22,470.30 L319.40,470.33 L319.58,470.35 L319.77,470.38 L319.95,470.41 L320.14,470.44 L320.32,470.47 L320.51,470.50 L320.69,470.52 L320.88,470.55 L321.06,470.58 L321.24,470.61 L321.43,470.64 L321.61,470.66 L321.80,470.69 L321.98,470.72 L322.17,470.75 L322.35,470.77 L322.54,470.80 L322.72,470.83 L322.90,470.86 L323.09,470.89 L323.27,470.91 L323.46,470.94 L323.64,470.97 L323.83,471.00 L324.01,471.03 L324.20,471.05 L324.38,471.08 L324.56,471.11 L324.75,471.14 L324.93,471.16 L325.12,471.19 L325.30,471.22 L325.49,471.25 L325.67,471.27 L325.86,471.30 L326.04,471.33 L326.22,471.36 L326.41,471.39 L326.59,471.41 L326.78,471.44 L326.96,471.47 L327.15,471.50 L327.33,471.52 L327.52,471.55 L327.70,471.58" fill="none" stroke="#111" stroke-width="1.5" stroke-linejoin="round" clip-path="url(#cc)"/>
<path d="M32.60,501.61 L32.78,501.62 L32.97,501.64 L33.15,501.65 L33.34,501.67 L33.52,501.68 L33.71,501.70 L33.89,501.71 L34.08,501.73 L34.26,501.74 L34.44,501.76 L34.63,501.77 L34.81,501.78 L35.00,501.80 L35.18,501.81 L35.37,501.83 L35.55,501.84 L35.74,501.86 L35.92,501.87 L36.10,501.89 L36.29,501.90 L36.47,501.91 L36.66,501.93 L36.84,501.94 L37.03,501.96 L37.21,501.97 L37.40,501.99 L37.58,502.00 L37.76,502.02 L37.95,502.03 L38.13,502.04 L38.32,502.06 L38.50,502.07 L38.69,502.09 L38.87,502.10 L39.06,502.12 L39.24,502.13 L39.42,502.14 L39.61,502.16 L39.79,502.17 L39.98,502.19 L40.16,502.20 L40.35,502.21 L40.53,502.23 L40.72,502.24 L40.90,502.26 L41.08,502.27 L41.27,502.29 L41.45,502.30 L41.64,502.31 L41.82,502.33 L42.01,502.34 L42.19,502.36 L42.38,502.37 L42.56,502.38 L42.74,502.40 L42.93,502.41 L43.11,502.43 L43.30,502.44 L43.48,502.45 L43.67,502.47 L43.85,502.48 L44.04,502.50 L44.22,502.51 L44.40,502.52 L44.59,502.54 L44.77,502.55 L44.96,502.57 L45.14,502.58 L45.33,502.59 L45.51,502.61 L45.70,502.62 L45.88,502.64 L46.06,502.65 L46.25,502.66 L46.43,502.68 L46.62,502.69 L46.80,502.71 L46.99,502.72 L47.17,502.73 L47.36,502.75 L47.54,502.76 L47.72,502.77 L47.91,502.79 L48.09,502.80 L48.28,502.82 L48.46,502.83 L48.65,502.84 L48.83,502.86 L49.01,502.87 L49.20,502.88 L49.38,502.90 L49.57,502.91 L49.75,502.93 L49.94,502.94 L50.12,502.95 L50.31,502.97 L50.49,502.98 L50.67,502.99 L50.86,503.01 L51.04,503.02 L51.23,503.03 L51.41,503.05 L51.60,503.06 L51.78,503.08 L51.97,503.09 L52.15,503.10 L52.33,503.12 L52.52,503.13 L52.70,503.14 L52.89,503.16 L53.07,503.17 L53.26,503.18 L53.44,503.20 L53.63,503.21 L53.81,503.22 L53.99,503.24 L54.18,503.25 L54.36,503.26 L54.55,503.28 L54.73,503.29 L54.92,503.30 L55.10,503.32 L55.29,503.33 L55.47,503.34 L55.65,503.36 L55.84,503.37 L56.02,503.38 L56.21,503.40 L56.39,503.41 L56.58,503.42 L56.76,503.44 L56.95,503.45 L57.13,503.46 L57.31,503.48 L57.50,503.49 L57.68,503.50 L57.87,503.52 L58.05,503.53 L58.24,503.54 L58.42,503.56 L58.61,503.57 L58.79,503.58 L58.97,503.60 L59.16,503.61 L59.34,503.62 L59.53,503.64 L59.71,503.65 L59.90,503.66 L60.08,503.68 L60.27,503.69 L60.45,503.70 L60.63,503.71 L60.82,503.73 L61.00,503.74 L61.19,503.75 L61.37,503.77 L61.56,503.78 L61.74,503.79 L61.93,503.81 L62.11,503.82 L62.29,503.83 L62.48,503.85 L62.66,503.86 L62.85,503.87 L63.03,503.88 L63.22,503.90 L63.40,503.91 L63.59,503.92 L63.77,503.94 L63.95,503.95 L64.14,503.96 L64.32,503.97 L64.51,503.99 L64.69,504.00 L64.88,504.01 L65.06,504.03 L65.25,504.04 L65.43,504.05 L65.61,504.06 L65.80,504.08 L65.98,504.09 L66.17,504.10 L66.35,504.12 L66.54,504.13 L66.72,504.14 L66.91,504.15 L67.09,504.17 L67.27,504.18 L67.46,504.19 L67.64,504.21 L67.83,504.22 L68.01,504.23 L68.20,504.24 L68.38,504.26 L68.57,504.27 L68.75,504.28 L68.93,504.29 L69.12,504.31 L69.30,504.32 L69.49,504.33 L69.67,504.35 L69.86,504.36 L70.04,504.37 L70.23,504.38 L70.41,504.40 L70.59,504.41 L70.78,504.42 L70.96,504.43 L71.15,504.45 L71.33,504.46 L71.52,504.47 L71.70,504.48 L71.89,504.50 L72.07,504.51 L72.25,504.52 L72.44,504.53 L72.62,504.55 L72.81,504.56 L72.99,504.57 L73.18,504.58 L73.36,504.60 L73.55,504.61 L73.73,504.62 L73.91,504.63 L74.10,504.65 L74.28,504.66 L74.47,504.67 L74.65,504.68 L74.84,504.70 L75.02,504.71 L75.21,504.72 L75.39,504.73 L75.57,504.75 L75.76,504.76 L75.94,504.77 L76.13,504.78 L76.31,504.79 L76.50,504.81 L76.68,504.82 L76.86,504.83 L77.05,504.84 L77.23,504.86 L77.42,504.87 L77.60,504.88 L77.79,504.89 L77.97,504.91 L78.16,504.92 L78.34,504.93 L78.52,504.94 L78.71,504.95 L78.89,504.97 L79.08,504.98 L79.26,504.99 L79.45,505.00 L79.63,505.01 L79.82,505.03 L80.00,505.04 L80.18,505.05 L80.37,505.06 L80.55,505.08 L80.74,505.09 L80.92,505.10 L81.11,505.11 L81.29,505.12 L81.48,505.14 L81.66,505.15 L81.84,505.16 L82.03,505.17 L82.21,505.18 L82.40,505.20 L82.58,505.21 L82.77,505.22 L82.95,505.23 L83.14,505.24 L83.32,505.26 L83.50,505.27 L83.69,505.28 L83.87,505.29 L84.06,505.30 L84.24,505.32 L84.43,505.33 L84.61,505.34 L84.80,505.35 L84.98,505.36 L85.16,505.38 L85.35,505.39 L85.53,505.40 L85.72,505.41 L85.90,505.42 L86.09,505.44 L86.27,505.45 L86.46,505.46 L86.64,505.47 L86.82,505.48 L87.01,505.49 L87.19,505.51 L87.38,505.52 L87.56,505.53 L87.75,505.54 L87.93,505.55 L88.12,505.57 L88.30,505.58 L88.48,505.59 L88.67,505.60 L88.85,505.61 L89.04,505.62 L89.22,505.64 L89.41,505.65 L89.59,505.66 L89.78,505.67 L89.96,505.68 L90.14,505.69 L90.33,505.71 L90.51,505.72 L90.70,505.73 L90.88,505.74 L91.07,505.75 L91.25,505.76 L91.44,505.78 L91.62,505.79 L91.80,505.80 L91.99,505.81 L92.17,505.82 L92.36,505.83 L92.54,505.85 L92.73,505.86 L92.91,505.87 L93.10,505.88 L93.28,505.89 L93.46,505.90 L93.65,505.92 L93.83,505.93 L94.02,505.94 L94.20,505.95 L94.39,505.96 L94.57,505.97 L94.76,505.98 L94.94,506.00 L95.12,506.01 L95.31,506.02 L95.49,506.03 L95.68,506.04 L95.86,506.05 L96.05,506.06 L96.23,506.08 L96.42,506.09 L96.60,506.10 L96.78,506.11 L96.97,506.12 L97.15,506.13 L97.34,506.14 L97.52,506.16 L97.71,506.17 L97.89,506.18 L98.08,506.19 L98.26,506.20 L98.44,506.21 L98.63,506.22 L98.81,506.24 L99.00,506.25 L99.18,506.26 L99.37,506.27 L99.55,506.28 L99.74,506.29 L99.92,506.30 L100.10,506.31 L100.29,506.33 L100.47,506.34 L100.66,506.35 L100.84,506.36 L101.03,506.37 L101.21,506.38 L101.40,506.39 L101.58,506.40 L101.76,506.42 L101.95,506.43 L102.13,506.44 L102.32,506.45 L102.50,506.46 L102.69,506.47 L102.87,506.48 L103.06,506.49 L103.24,506.50 L103.42,506.52 L103.61,506.53 L103.79,506.54 L103.98,506.55 L104.16,506.56 L104.35,506.57 L104.53,506.58 L104.72,506.59 L104.90,506.60 L105.08,506.62 L105.27,506.63 L105.45,506.64 L105.64,506.65 L105.82,506.66 L106.01,506.67 L106.19,506.68 L106.38,506.69 L106.56,506.70 L106.74,506.71 L106.93,506.73 L107.11,506.74 L107.30,506.75 L107.48,506.76 L107.67,506.77 L107.85,506.78 L108.03,506.79 L108.22,506.80 L108.40,506.81 L108.59,506.82 L108.77,506.84 L108.96,506.85 L109.14,506.86 L109.33,506.87 L109.51,506.88 L109.69,506.89 L109.88,506.90 L110.06,506.91 L110.25,506.92 L110.43,506.93 L110.62,506.94 L110.80,506.95 L110.99,506.97 L111.17,506.98 L111.35,506.99 L111.54,507.00 L111.72,507.01 L111.91,507.02 L112.09,507.03 L112.28,507.04 L112.46,507.05 L112.65,507.06 L112.83,507.07 L113.01,507.08 L113.20,507.09 L113.38,507.11 L113.57,507.12 L113.75,507.13 L113.94,507.14 L114.12,507.15 L114.31,507.16 L114.49,507.17 L114.67,507.18 L114.86,507.19 L115.04,507.20 L115.23,507.21 L115.41,507.22 L115.60,507.23 L115.78,507.24 L115.97,507.26 L116.15,507.27 L116.33,507.28 L116.52,507.29 L116.70,507.30 L116.89,507.31 L117.07,507.32 L117.26,507.33 L117.44,507.34 L117.63,507.35 L117.81,507.36 L117.99,507.37 L118.18,507.38 L118.36,507.39 L118.55,507.40 L118.73,507.41 L118.92,507.42 L119.10,507.43 L119.29,507.45 L119.47,507.46 L119.65,507.47 L119.84,507.48 L120.02,507.49 L120.21,507.50 L120.39,507.51 L120.58,507.52 L120.76,507.53 L120.95,507.54 L121.13,507.55 L121.31,507.56 L121.50,507.57 L121.68,507.58 L121.87,507.59 L122.05,507.60 L122.24,507.61 L122.42,507.62 L122.61,507.63 L122.79,507.64 L122.97,507.65 L123.16,507.66 L123.34,507.67 L123.53,507.68 L123.71,507.70 L123.90,507.71 L124.08,507.72 L124.27,507.73 L124.45,507.74 L124.63,507.75 L124.82,507.76 L125.00,507.77 L125.19,507.78 L125.37,507.79 L125.56,507.80 L125.74,507.81 L125.93,507.82 L126.11,507.83 L126.29,507.84 L126.48,507.85 L126.66,507.86 L126.85,507.87 L127.03,507.88 L127.22,507.89 L127.40,507.90 L127.59,507.91 L127.77,507.92 L127.95,507.93 L128.14,507.94 L128.32,507.95 L128.51,507.96 L128.69,507.97 L128.88,507.98 L129.06,507.99 L129.25,508.00 L129.43,508.01 L129.61,508.02 L129.80,508.03 L129.98,508.04 L130.17,508.05 L130.35,508.06 L130.54,508.07 L130.72,508.08 L130.91,508.09 L131.09,508.10 L131.27,508.11 L131.46,508.12 L131.64,508.13 L131.83,508.14 L132.01,508.15 L132.20,508.16 L132.38,508.17 L132.57,508.18 L132.75,508.19 L132.93,508.20 L133.12,508.21 L133.30,508.22 L133.49,508.23 L133.67,508.24 L133.86,508.25 L134.04,508.26 L134.23,508.27 L134.41,508.28 L134.59,508.29 L134.78,508.30 L134.96,508.31 L135.15,508.32 L135.33,508.33 L135.52,508.34 L135.70,508.35 L135.88,508.36 L136.07,508.37 L136.25,508.38 L136.44,508.39 L136.62,508.40 L136.81,508.41 L136.99,508.42 L137.18,508.43 L137.36,508.44 L137.54,508.45 L137.73,508.46 L137.91,508.47 L138.10,508.48 L138.28,508.49 L138.47,508.50 L138.65,508.51 L138.84,508.52 L139.02,508.53 L139.20,508.54 L139.39,508.55 L139.57,508.56 L139.76,508.57 L139.94,508.58 L140.13,508.59 L140.31,508.60 L140.50,508.61 L140.68,508.62 L140.86,508.63 L141.05,508.64 L141.23,508.65 L141.42,508.66 L141.60,508.67 L141.79,508.67 L141.97,508.68 L142.16,508.69 L142.34,508.70 L142.52,508.71 L142.71,508.72 L142.89,508.73 L143.08,508.74 L143.26,508.75 L143.45,508.76 L143.63,508.77 L143.82,508.78 L144.00,508.79 L144.18,508.80 L144.37,508.81 L144.55,508.82 L144.74,508.83 L144.92,508.84 L145.11,508.85 L145.29,508.86 L145.48,508.87 L145.66,508.88 L145.84,508.89 L146.03,508.90 L146.21,508.91 L146.40,508.91 L146.58,508.92 L146.77,508.93 L146.95,508.94 L147.14,508.95 L147.32,508.96 L147.50,508.97 L147.69,508.98 L147.87,508.99 L148.06,509.00 L148.24,509.01 L148.43,509.02 L148.61,509.03 L148.80,509.04 L148.98,509.05 L149.16,509.06 L149.35,509.07 L149.53,509.08 L149.72,509.09 L149.90,509.09 L150.09,509.10 L150.27,509.11 L150.46,509.12 L150.64,509.13 L150.82,509.14 L151.01,509.15 L151.19,509.16 L151.38,509.17 L151.56,509.18 L151.75,509.19 L151.93,509.20 L152.12,509.21 L152.30,509.22 L152.48,509.23 L152.67,509.23 L152.85,509.24 L153.04,509.25 L153.22,509.26 L153.41,509.27 L153.59,509.28 L153.78,509.29 L153.96,509.30 L154.14,509.31 L154.33,509.32 L154.51,509.33 L154.70,509.34 L154.88,509.34 L155.07,509.35 L155.25,509.36 L155.44,509.37 L155.62,509.38 L155.80,509.39 L155.99,509.40 L156.17,509.41 L156.36,509.42 L156.54,509.43 L156.73,509.43 L156.91,509.44 L157.10,509.45 L157.28,509.46 L157.46,509.47 L157.65,509.48 L157.83,509.49 L158.02,509.49 L158.20,509.50 L158.39,509.51 L158.57,509.52 L158.76,509.53 L158.94,509.54 L159.12,509.54 L159.31,509.55 L159.49,509.56 L159.68,509.57 L159.86,509.58 L160.05,509.58 L160.23,509.59 L160.42,509.60 L160.60,509.60 L160.78,509.61 L160.97,509.62 L161.15,509.62 L161.34,509.63 L161.52,509.64 L161.71,509.64 L161.89,509.65 L162.08,509.65 L162.26,509.66 L162.44,509.66 L162.63,509.67 L162.81,509.67 L163.00,509.67 L163.18,509.68 L163.37,509.68 L163.55,509.68 L163.74,509.68 L163.92,509.69 L164.10,509.69 L164.29,509.69 L164.47,509.69 L164.66,509.68 L164.84,509.68 L165.03,509.68 L165.21,509.68 L165.39,509.67 L165.58,509.67 L165.76,509.66 L165.95,509.66 L166.13,509.65 L166.32,509.64 L166.50,509.63 L166.69,509.62 L166.87,509.61 L167.05,509.59 L167.24,509.58 L167.42,509.56 L167.61,509.55 L167.79,509.53 L167.98,509.51 L168.16,509.48 L168.35,509.46 L168.53,509.44 L168.71,509.41 L168.90,509.38 L169.08,509.35 L169.27,509.31 L169.45,509.28 L169.64,509.24 L169.82,509.20 L170.01,509.15 L170.19,509.11 L170.37,509.06 L170.56,509.01 L170.74,508.95 L170.93,508.90 L171.11,508.84 L171.30,508.77 L171.48,508.71 L171.67,508.64 L171.85,508.56 L172.03,508.48 L172.22,508.40 L172.40,508.32 L172.59,508.23 L172.77,508.14 L172.96,508.04 L173.14,507.94 L173.33,507.83 L173.51,507.72 L173.69,507.61 L173.88,507.49 L174.06,507.36 L174.25,507.23 L174.43,507.10 L174.62,506.96 L174.80,506.82 L174.99,506.67 L175.17,506.51 L175.35,506.35 L175.54,506.19 L175.72,506.02 L175.91,505.84 L176.09,505.66 L176.28,505.47 L176.46,505.28 L176.65,505.08 L176.83,504.88 L177.01,504.67 L177.20,504.45 L177.38,504.23 L177.57,504.00 L177.75,503.77 L177.94,503.53 L178.12,503.29 L178.31,503.04 L178.49,502.78 L178.67,502.52 L178.86,502.26 L179.04,501.99 L179.23,501.71 L179.41,501.43 L179.60,501.14 L179.78,500.85 L179.97,500.56 L180.15,500.26 L180.33,499.95 L180.52,499.65 L180.70,499.33 L180.89,499.02 L181.07,498.70 L181.26,498.38 L181.44,498.05 L181.63,497.72 L181.81,497.39 L181.99,497.06 L182.18,496.73 L182.36,496.39 L182.55,496.05 L182.73,495.71 L182.92,495.37 L183.10,495.04 L183.29,494.70 L183.47,494.36 L183.65,494.02 L183.84,493.68 L184.02,493.34 L184.21,493.01 L184.39,492.68 L184.58,492.35 L184.76,492.02 L184.95,491.70 L185.13,491.38 L185.31,491.06 L185.50,490.75 L185.68,490.45 L185.87,490.14 L186.05,489.85 L186.24,489.55 L186.42,489.26 L186.61,488.98 L186.79,488.70 L186.97,488.41 L187.16,488.13 L187.34,487.84 L187.53,487.54 L187.71,487.22 L187.90,486.88 L188.08,486.51 L188.27,486.10 L188.45,485.64 L188.63,485.12 L188.82,484.55 L189.00,483.90 L189.19,483.18 L189.37,482.40 L189.56,481.55 L189.74,480.66 L189.93,479.74 L190.11,478.82 L190.29,477.93 L190.48,477.10 L190.66,476.36 L190.85,475.75 L191.03,475.29 L191.22,475.01 L191.40,474.92 L191.59,475.03 L191.77,475.33 L191.95,475.80 L192.14,476.43 L192.32,477.18 L192.51,478.03 L192.69,478.94 L192.88,479.87 L193.06,480.81 L193.25,481.72 L193.43,482.58 L193.61,483.38 L193.80,484.11 L193.98,484.77 L194.17,485.37 L194.35,485.90 L194.54,486.37 L194.72,486.80 L194.91,487.19 L195.09,487.54 L195.27,487.88 L195.46,488.20 L195.64,488.50 L195.83,488.80 L196.01,489.10 L196.20,489.40 L196.38,489.71 L196.56,490.01 L196.75,490.32 L196.93,490.63 L197.12,490.95 L197.30,491.27 L197.49,491.60 L197.67,491.93 L197.86,492.27 L198.04,492.61 L198.22,492.95 L198.41,493.30 L198.59,493.65 L198.78,494.00 L198.96,494.35 L199.15,494.70 L199.33,495.06 L199.52,495.41 L199.70,495.77 L199.88,496.13 L200.07,496.48 L200.25,496.84 L200.44,497.19 L200.62,497.54 L200.81,497.89 L200.99,498.24 L201.18,498.59 L201.36,498.93 L201.54,499.28 L201.73,499.61 L201.91,499.95 L202.10,500.28 L202.28,500.61 L202.47,500.93 L202.65,501.25 L202.84,501.57 L203.02,501.88 L203.20,502.19 L203.39,502.49 L203.57,502.79 L203.76,503.08 L203.94,503.36 L204.13,503.64 L204.31,503.91 L204.50,504.17 L204.68,504.41 L204.86,504.64 L205.05,504.85 L205.23,505.04 L205.42,505.18 L205.60,505.29 L205.79,505.34 L205.97,505.31 L206.16,505.20 L206.34,504.98 L206.52,504.64 L206.71,504.16 L206.89,503.51 L207.08,502.70 L207.26,501.72 L207.45,500.57 L207.63,499.27 L207.82,497.84 L208.00,496.33 L208.18,494.78 L208.37,493.26 L208.55,491.84 L208.74,490.58 L208.92,489.54 L209.11,488.79 L209.29,488.37 L209.48,488.31 L209.66,488.62 L209.84,489.29 L210.03,490.29 L210.21,491.57 L210.40,493.09 L210.58,494.76 L210.77,496.53 L210.95,498.33 L211.14,500.10 L211.32,501.79 L211.50,503.35 L211.69,504.76 L211.87,506.01 L212.06,507.08 L212.24,507.99 L212.43,508.74 L212.61,509.36 L212.80,509.84 L212.98,510.22 L213.16,510.50 L213.35,510.70 L213.53,510.83 L213.72,510.89 L213.90,510.87 L214.09,510.76 L214.27,510.55 L214.46,510.21 L214.64,509.71 L214.82,509.01 L215.01,508.06 L215.19,506.80 L215.38,505.18 L215.56,503.14 L215.75,500.65 L215.93,497.67 L216.12,494.19 L216.30,490.22 L216.48,485.81 L216.67,481.04 L216.85,476.04 L217.04,470.94 L217.22,465.94 L217.41,461.24 L217.59,457.03 L217.78,453.52 L217.96,450.88 L218.14,449.25 L218.33,448.70 L218.51,449.28 L218.70,450.95 L218.88,453.62 L219.07,457.17 L219.25,461.41 L219.44,466.15 L219.62,471.19 L219.80,476.32 L219.99,481.36 L220.17,486.17 L220.36,490.61 L220.54,494.62 L220.73,498.14 L220.91,501.17 L221.10,503.70 L221.28,505.78 L221.46,507.44 L221.65,508.75 L221.83,509.76 L222.02,510.52 L222.20,511.08 L222.39,511.49 L222.57,511.78 L222.76,511.99 L222.94,512.13 L223.12,512.23 L223.31,512.29 L223.49,512.34 L223.68,512.37 L223.86,512.39 L224.05,512.41 L224.23,512.43 L224.41,512.44 L224.60,512.45 L224.78,512.46 L224.97,512.46 L225.15,512.47 L225.34,512.48 L225.52,512.49 L225.71,512.50 L225.89,512.50 L226.07,512.51 L226.26,512.52 L226.44,512.53 L226.63,512.53 L226.81,512.54 L227.00,512.55 L227.18,512.56 L227.37,512.56 L227.55,512.57 L227.73,512.58 L227.92,512.59 L228.10,512.59 L228.29,512.60 L228.47,512.61 L228.66,512.62 L228.84,512.62 L229.03,512.63 L229.21,512.64 L229.39,512.65 L229.58,512.65 L229.76,512.66 L229.95,512.67 L230.13,512.67 L230.32,512.68 L230.50,512.69 L230.69,512.70 L230.87,512.70 L231.05,512.71 L231.24,512.72 L231.42,512.73 L231.61,512.73 L231.79,512.74 L231.98,512.75 L232.16,512.75 L232.35,512.76 L232.53,512.77 L232.71,512.78 L232.90,512.78 L233.08,512.79 L233.27,512.80 L233.45,512.80 L233.64,512.81 L233.82,512.82 L234.01,512.83 L234.19,512.83 L234.37,512.84 L234.56,512.85 L234.74,512.85 L234.93,512.86 L235.11,512.87 L235.30,512.87 L235.48,512.88 L235.67,512.89 L235.85,512.90 L236.03,512.90 L236.22,512.91 L236.40,512.92 L236.59,512.92 L236.77,512.93 L236.96,512.94 L237.14,512.95 L237.33,512.95 L237.51,512.96 L237.69,512.97 L237.88,512.97 L238.06,512.98 L238.25,512.99 L238.43,512.99 L238.62,513.00 L238.80,513.01 L238.99,513.02 L239.17,513.02 L239.35,513.03 L239.54,513.04 L239.72,513.04 L239.91,513.05 L240.09,513.06 L240.28,513.06 L240.46,513.07 L240.65,513.08 L240.83,513.09 L241.01,513.09 L241.20,513.10 L241.38,513.11 L241.57,513.11 L241.75,513.12 L241.94,513.13 L242.12,513.13 L242.31,513.14 L242.49,513.15 L242.67,513.15 L242.86,513.16 L243.04,513.17 L243.23,513.18 L243.41,513.18 L243.60,513.19 L243.78,513.20 L243.97,513.20 L244.15,513.21 L244.33,513.22 L244.52,513.22 L244.70,513.23 L244.89,513.24 L245.07,513.24 L245.26,513.25 L245.44,513.26 L245.63,513.26 L245.81,513.27 L245.99,513.28 L246.18,513.28 L246.36,513.29 L246.55,513.30 L246.73,513.31 L246.92,513.31 L247.10,513.32 L247.29,513.33 L247.47,513.33 L247.65,513.34 L247.84,513.35 L248.02,513.35 L248.21,513.36 L248.39,513.37 L248.58,513.37 L248.76,513.38 L248.95,513.39 L249.13,513.39 L249.31,513.40 L249.50,513.41 L249.68,513.41 L249.87,513.42 L250.05,513.43 L250.24,513.43 L250.42,513.44 L250.61,513.45 L250.79,513.45 L250.97,513.46 L251.16,513.47 L251.34,513.47 L251.53,513.48 L251.71,513.49 L251.90,513.49 L252.08,513.50 L252.27,513.51 L252.45,513.51 L252.63,513.52 L252.82,513.53 L253.00,513.53 L253.19,513.54 L253.37,513.55 L253.56,513.55 L253.74,513.56 L253.92,513.57 L254.11,513.57 L254.29,513.58 L254.48,513.59 L254.66,513.59 L254.85,513.60 L255.03,513.61 L255.22,513.61 L255.40,513.62 L255.58,513.63 L255.77,513.63 L255.95,513.64 L256.14,513.65 L256.32,513.65 L256.51,513.66 L256.69,513.67 L256.88,513.67 L257.06,513.68 L257.24,513.69 L257.43,513.69 L257.61,513.70 L257.80,513.71 L257.98,513.71 L258.17,513.72 L258.35,513.73 L258.54,513.73 L258.72,513.74 L258.90,513.75 L259.09,513.75 L259.27,513.76 L259.46,513.77 L259.64,513.77 L259.83,513.78 L260.01,513.79 L260.20,513.79 L260.38,513.80 L260.56,513.81 L260.75,513.81 L260.93,513.82 L261.12,513.83 L261.30,513.83 L261.49,513.84 L261.67,513.84 L261.86,513.85 L262.04,513.86 L262.22,513.86 L262.41,513.87 L262.59,513.88 L262.78,513.88 L262.96,513.89 L263.15,513.90 L263.33,513.90 L263.52,513.91 L263.70,513.92 L263.88,513.92 L264.07,513.93 L264.25,513.94 L264.44,513.94 L264.62,513.95 L264.81,513.96 L264.99,513.96 L265.18,513.97 L265.36,513.97 L265.54,513.98 L265.73,513.99 L265.91,513.99 L266.10,514.00 L266.28,514.01 L266.47,514.01 L266.65,514.02 L266.84,514.03 L267.02,514.03 L267.20,514.04 L267.39,514.04 L267.57,514.05 L267.76,514.06 L267.94,514.06 L268.13,514.07 L268.31,514.08 L268.50,514.08 L268.68,514.09 L268.86,514.10 L269.05,514.10 L269.23,514.11 L269.42,514.11 L269.60,514.12 L269.79,514.13 L269.97,514.13 L270.16,514.14 L270.34,514.15 L270.52,514.15 L270.71,514.16 L270.89,514.17 L271.08,514.17 L271.26,514.18 L271.45,514.18 L271.63,514.19 L271.82,514.20 L272.00,514.20 L272.18,514.21 L272.37,514.22 L272.55,514.22 L272.74,514.23 L272.92,514.24 L273.11,514.24 L273.29,514.25 L273.48,514.25 L273.66,514.26 L273.84,514.27 L274.03,514.27 L274.21,514.28 L274.40,514.29 L274.58,514.29 L274.77,514.30 L274.95,514.30 L275.14,514.31 L275.32,514.32 L275.50,514.32 L275.69,514.33 L275.87,514.34 L276.06,514.34 L276.24,514.35 L276.43,514.35 L276.61,514.36 L276.80,514.37 L276.98,514.37 L277.16,514.38 L277.35,514.38 L277.53,514.39 L277.72,514.40 L277.90,514.40 L278.09,514.41 L278.27,514.42 L278.46,514.42 L278.64,514.43 L278.82,514.43 L279.01,514.44 L279.19,514.45 L279.38,514.45 L279.56,514.46 L279.75,514.47 L279.93,514.47 L280.12,514.48 L280.30,514.48 L280.48,514.49 L280.67,514.50 L280.85,514.50 L281.04,514.51 L281.22,514.51 L281.41,514.52 L281.59,514.53 L281.78,514.53 L281.96,514.54 L282.14,514.54 L282.33,514.55 L282.51,514.56 L282.70,514.56 L282.88,514.57 L283.07,514.58 L283.25,514.58 L283.43,514.59 L283.62,514.59 L283.80,514.60 L283.99,514.61 L284.17,514.61 L284.36,514.62 L284.54,514.62 L284.73,514.63 L284.91,514.64 L285.09,514.64 L285.28,514.65 L285.46,514.65 L285.65,514.66 L285.83,514.67 L286.02,514.67 L286.20,514.68 L286.39,514.68 L286.57,514.69 L286.75,514.70 L286.94,514.70 L287.12,514.71 L287.31,514.71 L287.49,514.72 L287.68,514.73 L287.86,514.73 L288.05,514.74 L288.23,514.74 L288.41,514.75 L288.60,514.76 L288.78,514.76 L288.97,514.77 L289.15,514.77 L289.34,514.78 L289.52,514.79 L289.71,514.79 L289.89,514.80 L290.07,514.80 L290.26,514.81 L290.44,514.82 L290.63,514.82 L290.81,514.83 L291.00,514.83 L291.18,514.84 L291.37,514.85 L291.55,514.85 L291.73,514.86 L291.92,514.86 L292.10,514.87 L292.29,514.88 L292.47,514.88 L292.66,514.89 L292.84,514.89 L293.03,514.90 L293.21,514.91 L293.39,514.91 L293.58,514.92 L293.76,514.92 L293.95,514.93 L294.13,514.93 L294.32,514.94 L294.50,514.95 L294.69,514.95 L294.87,514.96 L295.05,514.96 L295.24,514.97 L295.42,514.98 L295.61,514.98 L295.79,514.99 L295.98,514.99 L296.16,515.00 L296.35,515.01 L296.53,515.01 L296.71,515.02 L296.90,515.02 L297.08,515.03 L297.27,515.03 L297.45,515.04 L297.64,515.05 L297.82,515.05 L298.01,515.06 L298.19,515.06 L298.37,515.07 L298.56,515.08 L298.74,515.08 L298.93,515.09 L299.11,515.09 L299.30,515.10 L299.48,515.10 L299.67,515.11 L299.85,515.12 L300.03,515.12 L300.22,515.13 L300.40,515.13 L300.59,515.14 L300.77,515.15 L300.96,515.15 L301.14,515.16 L301.33,515.16 L301.51,515.17 L301.69,515.17 L301.88,515.18 L302.06,515.19 L302.25,515.19 L302.43,515.20 L302.62,515.20 L302.80,515.21 L302.99,515.21 L303.17,515.22 L303.35,515.23 L303.54,515.23 L303.72,515.24 L303.91,515.24 L304.09,515.25 L304.28,515.25 L304.46,515.26 L304.65,515.27 L304.83,515.27 L305.01,515.28 L305.20,515.28 L305.38,515.29 L305.57,515.29 L305.75,515.30 L305.94,515.31 L306.12,515.31 L306.31,515.32 L306.49,515.32 L306.67,515.33 L306.86,515.33 L307.04,515.34 L307.23,515.35 L307.41,515.35 L307.60,515.36 L307.78,515.36 L307.97,515.37 L308.15,515.37 L308.33,515.38 L308.52,515.38 L308.70,515.39 L308.89,515.40 L309.07,515.40 L309.26,515.41 L309.44,515.41 L309.63,515.42 L309.81,515.42 L309.99,515.43 L310.18,515.44 L310.36,515.44 L310.55,515.45 L310.73,515.45 L310.92,515.46 L311.10,515.46 L311.29,515.47 L311.47,515.47 L311.65,515.48 L311.84,515.49 L312.02,515.49 L312.21,515.50 L312.39,515.50 L312.58,515.51 L312.76,515.51 L312.94,515.52 L313.13,515.53 L313.31,515.53 L313.50,515.54 L313.68,515.54 L313.87,515.55 L314.05,515.55 L314.24,515.56 L314.42,515.56 L314.60,515.57 L314.79,515.58 L314.97,515.58 L315.16,515.59 L315.34,515.59 L315.53,515.60 L315.71,515.60 L315.90,515.61 L316.08,515.61 L316.26,515.62 L316.45,515.62 L316.63,515.63 L316.82,515.64 L317.00,515.64 L317.19,515.65 L317.37,515.65 L317.56,515.66 L317.74,515.66 L317.92,515.67 L318.11,515.67 L318.29,515.68 L318.48,515.69 L318.66,515.69 L318.85,515.70 L319.03,515.70 L319.22,515.71 L319.40,515.71 L319.58,515.72 L319.77,515.72 L319.95,515.73 L320.14,515.73 L320.32,515.74 L320.51,515.75 L320.69,515.75 L320.88,515.76 L321.06,515.76 L321.24,515.77 L321.43,515.77 L321.61,515.78 L321.80,515.78 L321.98,515.79 L322.17,515.79 L322.35,515.80 L322.54,515.81 L322.72,515.81 L322.90,515.82 L323.09,515.82 L323.27,515.83 L323.46,515.83 L323.64,515.84 L323.83,515.84 L324.01,515.85 L324.20,515.85 L324.38,515.86 L324.56,515.86 L324.75,515.87 L324.93,515.88 L325.12,515.88 L325.30,515.89 L325.49,515.89 L325.67,515.90 L325.86,515.90 L326.04,515.91 L326.22,515.91 L326.41,515.92 L326.59,515.92 L326.78,515.93 L326.96,515.93 L327.15,515.94 L327.33,515.95 L327.52,515.95 L327.70,515.96" fill="none" stroke="#888" stroke-width="1.5" stroke-linejoin="round" clip-path="url(#cc)"/>
<path d="M41.82,530.9v-2.4M41.82,296.2v2.4M51.04,530.9v-2.4M51.04,296.2v2.4M60.27,530.9v-2.4M60.27,296.2v2.4M78.71,530.9v-2.4M78.71,296.2v2.4M87.93,530.9v-2.4M87.93,296.2v2.4M97.15,530.9v-2.4M97.15,296.2v2.4M115.60,530.9v-2.4M115.60,296.2v2.4M124.82,530.9v-2.4M124.82,296.2v2.4M134.04,530.9v-2.4M134.04,296.2v2.4M152.48,530.9v-2.4M152.48,296.2v2.4M161.71,530.9v-2.4M161.71,296.2v2.4M170.93,530.9v-2.4M170.93,296.2v2.4M189.37,530.9v-2.4M189.37,296.2v2.4M198.59,530.9v-2.4M198.59,296.2v2.4M207.82,530.9v-2.4M207.82,296.2v2.4M226.26,530.9v-2.4M226.26,296.2v2.4M235.48,530.9v-2.4M235.48,296.2v2.4M244.70,530.9v-2.4M244.70,296.2v2.4M263.15,530.9v-2.4M263.15,296.2v2.4M272.37,530.9v-2.4M272.37,296.2v2.4M281.59,530.9v-2.4M281.59,296.2v2.4M300.03,530.9v-2.4M300.03,296.2v2.4M309.26,530.9v-2.4M309.26,296.2v2.4M318.48,530.9v-2.4M318.48,296.2v2.4M32.60,530.9v-5.0M32.60,296.2v5.0M69.49,530.9v-5.0M69.49,296.2v5.0M106.38,530.9v-5.0M106.38,296.2v5.0M143.26,530.9v-5.0M143.26,296.2v5.0M180.15,530.9v-5.0M180.15,296.2v5.0M217.04,530.9v-5.0M217.04,296.2v5.0M253.92,530.9v-5.0M253.92,296.2v5.0M290.81,530.9v-5.0M290.81,296.2v5.0M327.70,530.9v-5.0M327.70,296.2v5.0M32.6,521.51h2.4M327.7,521.51h-2.4M32.6,512.12h2.4M327.7,512.12h-2.4M32.6,502.74h2.4M327.7,502.74h-2.4M32.6,493.35h2.4M327.7,493.35h-2.4M32.6,474.57h2.4M327.7,474.57h-2.4M32.6,465.18h2.4M327.7,465.18h-2.4M32.6,455.80h2.4M327.7,455.80h-2.4M32.6,446.41h2.4M327.7,446.41h-2.4M32.6,427.63h2.4M327.7,427.63h-2.4M32.6,418.24h2.4M327.7,418.24h-2.4M32.6,408.86h2.4M327.7,408.86h-2.4M32.6,399.47h2.4M327.7,399.47h-2.4M32.6,380.69h2.4M327.7,380.69h-2.4M32.6,371.30h2.4M327.7,371.30h-2.4M32.6,361.92h2.4M327.7,361.92h-2.4M32.6,352.53h2.4M327.7,352.53h-2.4M32.6,333.75h2.4M327.7,333.75h-2.4M32.6,324.36h2.4M327.7,324.36h-2.4M32.6,314.98h2.4M327.7,314.98h-2.4M32.6,305.59h2.4M327.7,305.59h-2.4M32.6,530.90h5.0M327.7,530.90h-5.0M32.6,483.96h5.0M327.7,483.96h-5.0M32.6,437.02h5.0M327.7,437.02h-5.0M32.6,390.08h5.0M327.7,390.08h-5.0M32.6,343.14h5.0M327.7,343.14h-5.0M32.6,296.20h5.0M327.7,296.20h-5.0" stroke="#6b6b6b" stroke-width="0.9" fill="none"/>
<rect x="32.6" y="296.2" width="295.10" height="234.70" fill="none" stroke="#6b6b6b" stroke-width="1.3"/>
<text x="32.60" y="541.90" text-anchor="middle" font-size="11.7" fill="#444">4000</text>
<text x="69.49" y="541.90" text-anchor="middle" font-size="11.7" fill="#444">4200</text>
<text x="106.38" y="541.90" text-anchor="middle" font-size="11.7" fill="#444">4400</text>
<text x="143.26" y="541.90" text-anchor="middle" font-size="11.7" fill="#444">4600</text>
<text x="180.15" y="541.90" text-anchor="middle" font-size="11.7" fill="#444">4800</text>
<text x="217.04" y="541.90" text-anchor="middle" font-size="11.7" fill="#444">5000</text>
<text x="253.92" y="541.90" text-anchor="middle" font-size="11.7" fill="#444">5200</text>
<text x="290.81" y="541.90" text-anchor="middle" font-size="11.7" fill="#444">5400</text>
<text x="327.70" y="541.90" text-anchor="middle" font-size="11.7" fill="#444">5600</text>
<text x="29.30" y="534.90" text-anchor="end" font-size="11.7" fill="#444">0</text>
<text x="29.30" y="487.96" text-anchor="end" font-size="11.7" fill="#444">5</text>
<text x="29.30" y="441.02" text-anchor="end" font-size="11.7" fill="#444">10</text>
<text x="29.30" y="394.08" text-anchor="end" font-size="11.7" fill="#444">15</text>
<text x="29.30" y="347.14" text-anchor="end" font-size="11.7" fill="#444">20</text>
<text x="29.30" y="300.20" text-anchor="end" font-size="11.7" fill="#444">25</text>
<text x="59.7" y="328.9" font-size="12.8" text-anchor="start" fill="#444" textLength="13.7" lengthAdjust="spacingAndGlyphs">(c)</text>
<text x="11.7" y="472.6" font-size="12.8" text-anchor="start" fill="#444" textLength="114.2" lengthAdjust="spacingAndGlyphs" transform="rotate(-90 11.7 472.6)">Flux (arbitrary units)</text>
<path d="M272.8,310.4H297.6" stroke="#111" stroke-width="1.5"/>
<path d="M272.8,327.1H297.6" stroke="#888" stroke-width="1.5"/>
<text x="307" y="315.3" font-size="12.8" text-anchor="start" fill="#444"><tspan font-style="italic">F</tspan><tspan dy="2.2" font-size="8.6">1</tspan><tspan dy="-2.2"> </tspan></text>
<text x="307" y="331.9" font-size="12.8" text-anchor="start" fill="#444"><tspan font-style="italic">F</tspan><tspan dy="2.2" font-size="8.6">2</tspan><tspan dy="-2.2"> </tspan></text>
<path d="M32.60,619.98 L32.78,620.00 L32.97,620.01 L33.15,620.03 L33.34,620.05 L33.52,620.06 L33.71,620.08 L33.89,620.10 L34.08,620.11 L34.26,620.13 L34.44,620.14 L34.63,620.16 L34.81,620.18 L35.00,620.19 L35.18,620.21 L35.37,620.23 L35.55,620.24 L35.74,620.26 L35.92,620.28 L36.10,620.29 L36.29,620.31 L36.47,620.33 L36.66,620.34 L36.84,620.36 L37.03,620.37 L37.21,620.39 L37.40,620.41 L37.58,620.42 L37.76,620.44 L37.95,620.46 L38.13,620.47 L38.32,620.49 L38.50,620.51 L38.69,620.52 L38.87,620.54 L39.06,620.56 L39.24,620.57 L39.42,620.59 L39.61,620.60 L39.79,620.62 L39.98,620.64 L40.16,620.65 L40.35,620.67 L40.53,620.69 L40.72,620.70 L40.90,620.72 L41.08,620.74 L41.27,620.75 L41.45,620.77 L41.64,620.79 L41.82,620.80 L42.01,620.82 L42.19,620.84 L42.38,620.85 L42.56,620.87 L42.74,620.88 L42.93,620.90 L43.11,620.92 L43.30,620.93 L43.48,620.95 L43.67,620.97 L43.85,620.98 L44.04,621.00 L44.22,621.02 L44.40,621.03 L44.59,621.05 L44.77,621.07 L44.96,621.08 L45.14,621.10 L45.33,621.11 L45.51,621.13 L45.70,621.15 L45.88,621.16 L46.06,621.18 L46.25,621.20 L46.43,621.21 L46.62,621.23 L46.80,621.25 L46.99,621.26 L47.17,621.28 L47.36,621.30 L47.54,621.31 L47.72,621.33 L47.91,621.34 L48.09,621.36 L48.28,621.38 L48.46,621.39 L48.65,621.41 L48.83,621.43 L49.01,621.44 L49.20,621.46 L49.38,621.48 L49.57,621.49 L49.75,621.51 L49.94,621.53 L50.12,621.54 L50.31,621.56 L50.49,621.58 L50.67,621.59 L50.86,621.61 L51.04,621.62 L51.23,621.64 L51.41,621.66 L51.60,621.67 L51.78,621.69 L51.97,621.71 L52.15,621.72 L52.33,621.74 L52.52,621.76 L52.70,621.77 L52.89,621.79 L53.07,621.81 L53.26,621.82 L53.44,621.84 L53.63,621.85 L53.81,621.87 L53.99,621.89 L54.18,621.90 L54.36,621.92 L54.55,621.94 L54.73,621.95 L54.92,621.97 L55.10,621.99 L55.29,622.00 L55.47,622.02 L55.65,622.04 L55.84,622.05 L56.02,622.07 L56.21,622.09 L56.39,622.10 L56.58,622.12 L56.76,622.13 L56.95,622.15 L57.13,622.17 L57.31,622.18 L57.50,622.20 L57.68,622.22 L57.87,622.23 L58.05,622.25 L58.24,622.27 L58.42,622.28 L58.61,622.30 L58.79,622.32 L58.97,622.33 L59.16,622.35 L59.34,622.36 L59.53,622.38 L59.71,622.40 L59.90,622.41 L60.08,622.43 L60.27,622.45 L60.45,622.46 L60.63,622.48 L60.82,622.50 L61.00,622.51 L61.19,622.53 L61.37,622.55 L61.56,622.56 L61.74,622.58 L61.93,622.59 L62.11,622.61 L62.29,622.63 L62.48,622.64 L62.66,622.66 L62.85,622.68 L63.03,622.69 L63.22,622.71 L63.40,622.73 L63.59,622.74 L63.77,622.76 L63.95,622.78 L64.14,622.79 L64.32,622.81 L64.51,622.83 L64.69,622.84 L64.88,622.86 L65.06,622.87 L65.25,622.89 L65.43,622.91 L65.61,622.92 L65.80,622.94 L65.98,622.96 L66.17,622.97 L66.35,622.99 L66.54,623.01 L66.72,623.02 L66.91,623.04 L67.09,623.06 L67.27,623.07 L67.46,623.09 L67.64,623.10 L67.83,623.12 L68.01,623.14 L68.20,623.15 L68.38,623.17 L68.57,623.19 L68.75,623.20 L68.93,623.22 L69.12,623.24 L69.30,623.25 L69.49,623.27 L69.67,623.29 L69.86,623.30 L70.04,623.32 L70.23,623.33 L70.41,623.35 L70.59,623.37 L70.78,623.38 L70.96,623.40 L71.15,623.42 L71.33,623.43 L71.52,623.45 L71.70,623.47 L71.89,623.48 L72.07,623.50 L72.25,623.52 L72.44,623.53 L72.62,623.55 L72.81,623.57 L72.99,623.58 L73.18,623.60 L73.36,623.61 L73.55,623.63 L73.73,623.65 L73.91,623.66 L74.10,623.68 L74.28,623.70 L74.47,623.71 L74.65,623.73 L74.84,623.75 L75.02,623.76 L75.21,623.78 L75.39,623.80 L75.57,623.81 L75.76,623.83 L75.94,623.84 L76.13,623.86 L76.31,623.88 L76.50,623.89 L76.68,623.91 L76.86,623.93 L77.05,623.94 L77.23,623.96 L77.42,623.98 L77.60,623.99 L77.79,624.01 L77.97,624.03 L78.16,624.04 L78.34,624.06 L78.52,624.07 L78.71,624.09 L78.89,624.11 L79.08,624.12 L79.26,624.14 L79.45,624.16 L79.63,624.17 L79.82,624.19 L80.00,624.21 L80.18,624.22 L80.37,624.24 L80.55,624.26 L80.74,624.27 L80.92,624.29 L81.11,624.31 L81.29,624.32 L81.48,624.34 L81.66,624.35 L81.84,624.37 L82.03,624.39 L82.21,624.40 L82.40,624.42 L82.58,624.44 L82.77,624.45 L82.95,624.47 L83.14,624.49 L83.32,624.50 L83.50,624.52 L83.69,624.54 L83.87,624.55 L84.06,624.57 L84.24,624.58 L84.43,624.60 L84.61,624.62 L84.80,624.63 L84.98,624.65 L85.16,624.67 L85.35,624.68 L85.53,624.70 L85.72,624.72 L85.90,624.73 L86.09,624.75 L86.27,624.77 L86.46,624.78 L86.64,624.80 L86.82,624.82 L87.01,624.83 L87.19,624.85 L87.38,624.86 L87.56,624.88 L87.75,624.90 L87.93,624.91 L88.12,624.93 L88.30,624.95 L88.48,624.96 L88.67,624.98 L88.85,625.00 L89.04,625.01 L89.22,625.03 L89.41,625.05 L89.59,625.06 L89.78,625.08 L89.96,625.09 L90.14,625.11 L90.33,625.13 L90.51,625.14 L90.70,625.16 L90.88,625.18 L91.07,625.19 L91.25,625.21 L91.44,625.23 L91.62,625.24 L91.80,625.26 L91.99,625.28 L92.17,625.29 L92.36,625.31 L92.54,625.32 L92.73,625.34 L92.91,625.36 L93.10,625.37 L93.28,625.39 L93.46,625.41 L93.65,625.42 L93.83,625.44 L94.02,625.46 L94.20,625.47 L94.39,625.49 L94.57,625.51 L94.76,625.52 L94.94,625.54 L95.12,625.56 L95.31,625.57 L95.49,625.59 L95.68,625.60 L95.86,625.62 L96.05,625.64 L96.23,625.65 L96.42,625.67 L96.60,625.69 L96.78,625.70 L96.97,625.72 L97.15,625.74 L97.34,625.75 L97.52,625.77 L97.71,625.79 L97.89,625.80 L98.08,625.82 L98.26,625.83 L98.44,625.85 L98.63,625.87 L98.81,625.88 L99.00,625.90 L99.18,625.92 L99.37,625.93 L99.55,625.95 L99.74,625.97 L99.92,625.98 L100.10,626.00 L100.29,626.02 L100.47,626.03 L100.66,626.05 L100.84,626.06 L101.03,626.08 L101.21,626.10 L101.40,626.11 L101.58,626.13 L101.76,626.15 L101.95,626.16 L102.13,626.18 L102.32,626.20 L102.50,626.21 L102.69,626.23 L102.87,626.25 L103.06,626.26 L103.24,626.28 L103.42,626.30 L103.61,626.31 L103.79,626.33 L103.98,626.34 L104.16,626.36 L104.35,626.38 L104.53,626.39 L104.72,626.41 L104.90,626.43 L105.08,626.44 L105.27,626.46 L105.45,626.48 L105.64,626.49 L105.82,626.51 L106.01,626.53 L106.19,626.54 L106.38,626.56 L106.56,626.57 L106.74,626.59 L106.93,626.61 L107.11,626.62 L107.30,626.64 L107.48,626.66 L107.67,626.67 L107.85,626.69 L108.03,626.71 L108.22,626.72 L108.40,626.74 L108.59,626.76 L108.77,626.77 L108.96,626.79 L109.14,626.80 L109.33,626.82 L109.51,626.84 L109.69,626.85 L109.88,626.87 L110.06,626.89 L110.25,626.90 L110.43,626.92 L110.62,626.94 L110.80,626.95 L110.99,626.97 L111.17,626.99 L111.35,627.00 L111.54,627.02 L111.72,627.04 L111.91,627.05 L112.09,627.07 L112.28,627.08 L112.46,627.10 L112.65,627.12 L112.83,627.13 L113.01,627.15 L113.20,627.17 L113.38,627.18 L113.57,627.20 L113.75,627.22 L113.94,627.23 L114.12,627.25 L114.31,627.27 L114.49,627.28 L114.67,627.30 L114.86,627.31 L115.04,627.33 L115.23,627.35 L115.41,627.36 L115.60,627.38 L115.78,627.40 L115.97,627.41 L116.15,627.43 L116.33,627.45 L116.52,627.46 L116.70,627.48 L116.89,627.50 L117.07,627.51 L117.26,627.53 L117.44,627.55 L117.63,627.56 L117.81,627.58 L117.99,627.59 L118.18,627.61 L118.36,627.63 L118.55,627.64 L118.73,627.66 L118.92,627.68 L119.10,627.69 L119.29,627.71 L119.47,627.73 L119.65,627.74 L119.84,627.76 L120.02,627.78 L120.21,627.79 L120.39,627.81 L120.58,627.82 L120.76,627.84 L120.95,627.86 L121.13,627.87 L121.31,627.89 L121.50,627.91 L121.68,627.92 L121.87,627.94 L122.05,627.96 L122.24,627.97 L122.42,627.99 L122.61,628.01 L122.79,628.02 L122.97,628.04 L123.16,628.05 L123.34,628.07 L123.53,628.09 L123.71,628.10 L123.90,628.12 L124.08,628.14 L124.27,628.15 L124.45,628.17 L124.63,628.19 L124.82,628.20 L125.00,628.22 L125.19,628.24 L125.37,628.25 L125.56,628.27 L125.74,628.29 L125.93,628.30 L126.11,628.32 L126.29,628.33 L126.48,628.35 L126.66,628.37 L126.85,628.38 L127.03,628.40 L127.22,628.42 L127.40,628.43 L127.59,628.45 L127.77,628.47 L127.95,628.48 L128.14,628.50 L128.32,628.52 L128.51,628.53 L128.69,628.55 L128.88,628.56 L129.06,628.58 L129.25,628.60 L129.43,628.61 L129.61,628.63 L129.80,628.65 L129.98,628.66 L130.17,628.68 L130.35,628.70 L130.54,628.71 L130.72,628.73 L130.91,628.75 L131.09,628.76 L131.27,628.78 L131.46,628.79 L131.64,628.81 L131.83,628.83 L132.01,628.84 L132.20,628.86 L132.38,628.88 L132.57,628.89 L132.75,628.91 L132.93,628.93 L133.12,628.94 L133.30,628.96 L133.49,628.98 L133.67,628.99 L133.86,629.01 L134.04,629.03 L134.23,629.04 L134.41,629.06 L134.59,629.07 L134.78,629.09 L134.96,629.11 L135.15,629.12 L135.33,629.14 L135.52,629.16 L135.70,629.17 L135.88,629.19 L136.07,629.21 L136.25,629.22 L136.44,629.24 L136.62,629.26 L136.81,629.27 L136.99,629.29 L137.18,629.30 L137.36,629.32 L137.54,629.34 L137.73,629.35 L137.91,629.37 L138.10,629.39 L138.28,629.40 L138.47,629.42 L138.65,629.44 L138.84,629.45 L139.02,629.47 L139.20,629.49 L139.39,629.50 L139.57,629.52 L139.76,629.53 L139.94,629.55 L140.13,629.57 L140.31,629.58 L140.50,629.60 L140.68,629.62 L140.86,629.63 L141.05,629.65 L141.23,629.67 L141.42,629.68 L141.60,629.70 L141.79,629.72 L141.97,629.73 L142.16,629.75 L142.34,629.77 L142.52,629.78 L142.71,629.80 L142.89,629.81 L143.08,629.83 L143.26,629.85 L143.45,629.86 L143.63,629.88 L143.82,629.90 L144.00,629.91 L144.18,629.93 L144.37,629.95 L144.55,629.96 L144.74,629.98 L144.92,630.00 L145.11,630.01 L145.29,630.03 L145.48,630.04 L145.66,630.06 L145.84,630.08 L146.03,630.09 L146.21,630.11 L146.40,630.13 L146.58,630.14 L146.77,630.16 L146.95,630.18 L147.14,630.19 L147.32,630.21 L147.50,630.23 L147.69,630.24 L147.87,630.26 L148.06,630.28 L148.24,630.29 L148.43,630.31 L148.61,630.32 L148.80,630.34 L148.98,630.36 L149.16,630.37 L149.35,630.39 L149.53,630.41 L149.72,630.42 L149.90,630.44 L150.09,630.46 L150.27,630.47 L150.46,630.49 L150.64,630.51 L150.82,630.52 L151.01,630.54 L151.19,630.56 L151.38,630.57 L151.56,630.59 L151.75,630.61 L151.93,630.62 L152.12,630.64 L152.30,630.65 L152.48,630.67 L152.67,630.69 L152.85,630.70 L153.04,630.72 L153.22,630.74 L153.41,630.75 L153.59,630.77 L153.78,630.79 L153.96,630.80 L154.14,630.82 L154.33,630.84 L154.51,630.86 L154.70,630.87 L154.88,630.89 L155.07,630.91 L155.25,630.92 L155.44,630.94 L155.62,630.96 L155.80,630.98 L155.99,630.99 L156.17,631.01 L156.36,631.03 L156.54,631.05 L156.73,631.06 L156.91,631.08 L157.10,631.10 L157.28,631.12 L157.46,631.14 L157.65,631.15 L157.83,631.17 L158.02,631.19 L158.20,631.21 L158.39,631.23 L158.57,631.25 L158.76,631.27 L158.94,631.29 L159.12,631.31 L159.31,631.33 L159.49,631.35 L159.68,631.38 L159.86,631.40 L160.05,631.42 L160.23,631.44 L160.42,631.47 L160.60,631.49 L160.78,631.52 L160.97,631.54 L161.15,631.57 L161.34,631.60 L161.52,631.62 L161.71,631.65 L161.89,631.68 L162.08,631.71 L162.26,631.74 L162.44,631.78 L162.63,631.81 L162.81,631.85 L163.00,631.88 L163.18,631.92 L163.37,631.96 L163.55,632.00 L163.74,632.05 L163.92,632.09 L164.10,632.14 L164.29,632.19 L164.47,632.24 L164.66,632.29 L164.84,632.35 L165.03,632.41 L165.21,632.47 L165.39,632.53 L165.58,632.60 L165.76,632.67 L165.95,632.74 L166.13,632.82 L166.32,632.90 L166.50,632.99 L166.69,633.08 L166.87,633.17 L167.05,633.27 L167.24,633.37 L167.42,633.48 L167.61,633.59 L167.79,633.71 L167.98,633.83 L168.16,633.96 L168.35,634.09 L168.53,634.23 L168.71,634.38 L168.90,634.53 L169.08,634.69 L169.27,634.86 L169.45,635.04 L169.64,635.22 L169.82,635.41 L170.01,635.61 L170.19,635.81 L170.37,636.03 L170.56,636.25 L170.74,636.48 L170.93,636.72 L171.11,636.97 L171.30,637.23 L171.48,637.50 L171.67,637.78 L171.85,638.07 L172.03,638.37 L172.22,638.67 L172.40,638.99 L172.59,639.32 L172.77,639.66 L172.96,640.00 L173.14,640.36 L173.33,640.73 L173.51,641.11 L173.69,641.50 L173.88,641.90 L174.06,642.30 L174.25,642.72 L174.43,643.15 L174.62,643.59 L174.80,644.03 L174.99,644.49 L175.17,644.95 L175.35,645.42 L175.54,645.90 L175.72,646.39 L175.91,646.88 L176.09,647.38 L176.28,647.89 L176.46,648.41 L176.65,648.93 L176.83,649.46 L177.01,649.99 L177.20,650.52 L177.38,651.06 L177.57,651.61 L177.75,652.15 L177.94,652.70 L178.12,653.25 L178.31,653.81 L178.49,654.36 L178.67,654.92 L178.86,655.47 L179.04,656.03 L179.23,656.58 L179.41,657.14 L179.60,657.69 L179.78,658.24 L179.97,658.78 L180.15,659.33 L180.33,659.87 L180.52,660.40 L180.70,660.93 L180.89,661.46 L181.07,661.98 L181.26,662.50 L181.44,663.01 L181.63,663.52 L181.81,664.01 L181.99,664.51 L182.18,664.99 L182.36,665.47 L182.55,665.94 L182.73,666.40 L182.92,666.85 L183.10,667.30 L183.29,667.74 L183.47,668.16 L183.65,668.58 L183.84,669.00 L184.02,669.40 L184.21,669.79 L184.39,670.18 L184.58,670.55 L184.76,670.92 L184.95,671.27 L185.13,671.62 L185.31,671.95 L185.50,672.28 L185.68,672.60 L185.87,672.91 L186.05,673.21 L186.24,673.50 L186.42,673.79 L186.61,674.07 L186.79,674.34 L186.97,674.62 L187.16,674.89 L187.34,675.17 L187.53,675.46 L187.71,675.77 L187.90,676.10 L188.08,676.46 L188.27,676.86 L188.45,677.30 L188.63,677.79 L188.82,678.34 L189.00,678.94 L189.19,679.59 L189.37,680.29 L189.56,681.02 L189.74,681.77 L189.93,682.51 L190.11,683.24 L190.29,683.92 L190.48,684.53 L190.66,685.07 L190.85,685.50 L191.03,685.83 L191.22,686.03 L191.40,686.11 L191.59,686.06 L191.77,685.88 L191.95,685.59 L192.14,685.18 L192.32,684.67 L192.51,684.08 L192.69,683.43 L192.88,682.74 L193.06,682.02 L193.25,681.31 L193.43,680.61 L193.61,679.94 L193.80,679.32 L193.98,678.75 L194.17,678.24 L194.35,677.78 L194.54,677.37 L194.72,677.01 L194.91,676.68 L195.09,676.38 L195.27,676.11 L195.46,675.85 L195.64,675.61 L195.83,675.37 L196.01,675.13 L196.20,674.89 L196.38,674.64 L196.56,674.39 L196.75,674.13 L196.93,673.87 L197.12,673.59 L197.30,673.31 L197.49,673.02 L197.67,672.72 L197.86,672.41 L198.04,672.09 L198.22,671.77 L198.41,671.43 L198.59,671.08 L198.78,670.73 L198.96,670.37 L199.15,669.99 L199.33,669.61 L199.52,669.22 L199.70,668.83 L199.88,668.42 L200.07,668.01 L200.25,667.59 L200.44,667.16 L200.62,666.72 L200.81,666.28 L200.99,665.83 L201.18,665.37 L201.36,664.91 L201.54,664.44 L201.73,663.97 L201.91,663.48 L202.10,663.00 L202.28,662.51 L202.47,662.01 L202.65,661.52 L202.84,661.01 L203.02,660.51 L203.20,660.00 L203.39,659.49 L203.57,658.98 L203.76,658.47 L203.94,657.96 L204.13,657.46 L204.31,656.96 L204.50,656.48 L204.68,656.01 L204.86,655.58 L205.05,655.19 L205.23,654.86 L205.42,654.62 L205.60,654.49 L205.79,654.51 L205.97,654.72 L206.16,655.16 L206.34,655.87 L206.52,656.89 L206.71,658.23 L206.89,659.89 L207.08,661.84 L207.26,664.03 L207.45,666.39 L207.63,668.85 L207.82,671.30 L208.00,673.68 L208.18,675.89 L208.37,677.89 L208.55,679.63 L208.74,681.08 L208.92,682.21 L209.11,683.01 L209.29,683.47 L209.48,683.58 L209.66,683.35 L209.84,682.76 L210.03,681.81 L210.21,680.50 L210.40,678.83 L210.58,676.81 L210.77,674.46 L210.95,671.81 L211.14,668.91 L211.32,665.81 L211.50,662.60 L211.69,659.38 L211.87,656.24 L212.06,653.27 L212.24,650.56 L212.43,648.15 L212.61,646.09 L212.80,644.38 L212.98,643.02 L213.16,641.97 L213.35,641.24 L213.53,640.79 L213.72,640.64 L213.90,640.80 L214.09,641.30 L214.27,642.22 L214.46,643.62 L214.64,645.57 L214.82,648.14 L215.01,651.35 L215.19,655.18 L215.38,659.54 L215.56,664.28 L215.75,669.20 L215.93,674.12 L216.12,678.85 L216.30,683.24 L216.48,687.22 L216.67,690.72 L216.85,693.74 L217.04,696.30 L217.22,698.42 L217.41,700.14 L217.59,701.49 L217.78,702.50 L217.96,703.21 L218.14,703.63 L218.33,703.78 L218.51,703.65 L218.70,703.25 L218.88,702.56 L219.07,701.56 L219.25,700.23 L219.44,698.54 L219.62,696.44 L219.80,693.91 L219.99,690.90 L220.17,687.42 L220.36,683.44 L220.54,679.04 L220.73,674.27 L220.91,669.30 L221.10,664.28 L221.28,659.41 L221.46,654.90 L221.65,650.88 L221.83,647.47 L222.02,644.68 L222.20,642.49 L222.39,640.83 L222.57,639.61 L222.76,638.75 L222.94,638.16 L223.12,637.76 L223.31,637.50 L223.49,637.34 L223.68,637.24 L223.86,637.18 L224.05,637.15 L224.23,637.14 L224.41,637.14 L224.60,637.14 L224.78,637.15 L224.97,637.16 L225.15,637.18 L225.34,637.19 L225.52,637.20 L225.71,637.22 L225.89,637.23 L226.07,637.25 L226.26,637.26 L226.44,637.28 L226.63,637.29 L226.81,637.31 L227.00,637.32 L227.18,637.34 L227.37,637.36 L227.55,637.37 L227.73,637.39 L227.92,637.40 L228.10,637.42 L228.29,637.43 L228.47,637.45 L228.66,637.47 L228.84,637.48 L229.03,637.50 L229.21,637.51 L229.39,637.53 L229.58,637.55 L229.76,637.56 L229.95,637.58 L230.13,637.60 L230.32,637.61 L230.50,637.63 L230.69,637.64 L230.87,637.66 L231.05,637.68 L231.24,637.69 L231.42,637.71 L231.61,637.73 L231.79,637.74 L231.98,637.76 L232.16,637.77 L232.35,637.79 L232.53,637.81 L232.71,637.82 L232.90,637.84 L233.08,637.86 L233.27,637.87 L233.45,637.89 L233.64,637.91 L233.82,637.92 L234.01,637.94 L234.19,637.96 L234.37,637.97 L234.56,637.99 L234.74,638.00 L234.93,638.02 L235.11,638.04 L235.30,638.05 L235.48,638.07 L235.67,638.09 L235.85,638.10 L236.03,638.12 L236.22,638.14 L236.40,638.15 L236.59,638.17 L236.77,638.19 L236.96,638.20 L237.14,638.22 L237.33,638.23 L237.51,638.25 L237.69,638.27 L237.88,638.28 L238.06,638.30 L238.25,638.32 L238.43,638.33 L238.62,638.35 L238.80,638.37 L238.99,638.38 L239.17,638.40 L239.35,638.42 L239.54,638.43 L239.72,638.45 L239.91,638.47 L240.09,638.48 L240.28,638.50 L240.46,638.51 L240.65,638.53 L240.83,638.55 L241.01,638.56 L241.20,638.58 L241.38,638.60 L241.57,638.61 L241.75,638.63 L241.94,638.65 L242.12,638.66 L242.31,638.68 L242.49,638.70 L242.67,638.71 L242.86,638.73 L243.04,638.74 L243.23,638.76 L243.41,638.78 L243.60,638.79 L243.78,638.81 L243.97,638.83 L244.15,638.84 L244.33,638.86 L244.52,638.88 L244.70,638.89 L244.89,638.91 L245.07,638.93 L245.26,638.94 L245.44,638.96 L245.63,638.97 L245.81,638.99 L245.99,639.01 L246.18,639.02 L246.36,639.04 L246.55,639.06 L246.73,639.07 L246.92,639.09 L247.10,639.11 L247.29,639.12 L247.47,639.14 L247.65,639.16 L247.84,639.17 L248.02,639.19 L248.21,639.21 L248.39,639.22 L248.58,639.24 L248.76,639.25 L248.95,639.27 L249.13,639.29 L249.31,639.30 L249.50,639.32 L249.68,639.34 L249.87,639.35 L250.05,639.37 L250.24,639.39 L250.42,639.40 L250.61,639.42 L250.79,639.44 L250.97,639.45 L251.16,639.47 L251.34,639.48 L251.53,639.50 L251.71,639.52 L251.90,639.53 L252.08,639.55 L252.27,639.57 L252.45,639.58 L252.63,639.60 L252.82,639.62 L253.00,639.63 L253.19,639.65 L253.37,639.67 L253.56,639.68 L253.74,639.70 L253.92,639.71 L254.11,639.73 L254.29,639.75 L254.48,639.76 L254.66,639.78 L254.85,639.80 L255.03,639.81 L255.22,639.83 L255.40,639.85 L255.58,639.86 L255.77,639.88 L255.95,639.90 L256.14,639.91 L256.32,639.93 L256.51,639.95 L256.69,639.96 L256.88,639.98 L257.06,639.99 L257.24,640.01 L257.43,640.03 L257.61,640.04 L257.80,640.06 L257.98,640.08 L258.17,640.09 L258.35,640.11 L258.54,640.13 L258.72,640.14 L258.90,640.16 L259.09,640.18 L259.27,640.19 L259.46,640.21 L259.64,640.22 L259.83,640.24 L260.01,640.26 L260.20,640.27 L260.38,640.29 L260.56,640.31 L260.75,640.32 L260.93,640.34 L261.12,640.36 L261.30,640.37 L261.49,640.39 L261.67,640.41 L261.86,640.42 L262.04,640.44 L262.22,640.45 L262.41,640.47 L262.59,640.49 L262.78,640.50 L262.96,640.52 L263.15,640.54 L263.33,640.55 L263.52,640.57 L263.70,640.59 L263.88,640.60 L264.07,640.62 L264.25,640.64 L264.44,640.65 L264.62,640.67 L264.81,640.69 L264.99,640.70 L265.18,640.72 L265.36,640.73 L265.54,640.75 L265.73,640.77 L265.91,640.78 L266.10,640.80 L266.28,640.82 L266.47,640.83 L266.65,640.85 L266.84,640.87 L267.02,640.88 L267.20,640.90 L267.39,640.92 L267.57,640.93 L267.76,640.95 L267.94,640.96 L268.13,640.98 L268.31,641.00 L268.50,641.01 L268.68,641.03 L268.86,641.05 L269.05,641.06 L269.23,641.08 L269.42,641.10 L269.60,641.11 L269.79,641.13 L269.97,641.15 L270.16,641.16 L270.34,641.18 L270.52,641.20 L270.71,641.21 L270.89,641.23 L271.08,641.24 L271.26,641.26 L271.45,641.28 L271.63,641.29 L271.82,641.31 L272.00,641.33 L272.18,641.34 L272.37,641.36 L272.55,641.38 L272.74,641.39 L272.92,641.41 L273.11,641.43 L273.29,641.44 L273.48,641.46 L273.66,641.47 L273.84,641.49 L274.03,641.51 L274.21,641.52 L274.40,641.54 L274.58,641.56 L274.77,641.57 L274.95,641.59 L275.14,641.61 L275.32,641.62 L275.50,641.64 L275.69,641.66 L275.87,641.67 L276.06,641.69 L276.24,641.70 L276.43,641.72 L276.61,641.74 L276.80,641.75 L276.98,641.77 L277.16,641.79 L277.35,641.80 L277.53,641.82 L277.72,641.84 L277.90,641.85 L278.09,641.87 L278.27,641.89 L278.46,641.90 L278.64,641.92 L278.82,641.94 L279.01,641.95 L279.19,641.97 L279.38,641.98 L279.56,642.00 L279.75,642.02 L279.93,642.03 L280.12,642.05 L280.30,642.07 L280.48,642.08 L280.67,642.10 L280.85,642.12 L281.04,642.13 L281.22,642.15 L281.41,642.17 L281.59,642.18 L281.78,642.20 L281.96,642.21 L282.14,642.23 L282.33,642.25 L282.51,642.26 L282.70,642.28 L282.88,642.30 L283.07,642.31 L283.25,642.33 L283.43,642.35 L283.62,642.36 L283.80,642.38 L283.99,642.40 L284.17,642.41 L284.36,642.43 L284.54,642.44 L284.73,642.46 L284.91,642.48 L285.09,642.49 L285.28,642.51 L285.46,642.53 L285.65,642.54 L285.83,642.56 L286.02,642.58 L286.20,642.59 L286.39,642.61 L286.57,642.63 L286.75,642.64 L286.94,642.66 L287.12,642.68 L287.31,642.69 L287.49,642.71 L287.68,642.72 L287.86,642.74 L288.05,642.76 L288.23,642.77 L288.41,642.79 L288.60,642.81 L288.78,642.82 L288.97,642.84 L289.15,642.86 L289.34,642.87 L289.52,642.89 L289.71,642.91 L289.89,642.92 L290.07,642.94 L290.26,642.95 L290.44,642.97 L290.63,642.99 L290.81,643.00 L291.00,643.02 L291.18,643.04 L291.37,643.05 L291.55,643.07 L291.73,643.09 L291.92,643.10 L292.10,643.12 L292.29,643.14 L292.47,643.15 L292.66,643.17 L292.84,643.18 L293.03,643.20 L293.21,643.22 L293.39,643.23 L293.58,643.25 L293.76,643.27 L293.95,643.28 L294.13,643.30 L294.32,643.32 L294.50,643.33 L294.69,643.35 L294.87,643.37 L295.05,643.38 L295.24,643.40 L295.42,643.42 L295.61,643.43 L295.79,643.45 L295.98,643.46 L296.16,643.48 L296.35,643.50 L296.53,643.51 L296.71,643.53 L296.90,643.55 L297.08,643.56 L297.27,643.58 L297.45,643.60 L297.64,643.61 L297.82,643.63 L298.01,643.65 L298.19,643.66 L298.37,643.68 L298.56,643.69 L298.74,643.71 L298.93,643.73 L299.11,643.74 L299.30,643.76 L299.48,643.78 L299.67,643.79 L299.85,643.81 L300.03,643.83 L300.22,643.84 L300.40,643.86 L300.59,643.88 L300.77,643.89 L300.96,643.91 L301.14,643.93 L301.33,643.94 L301.51,643.96 L301.69,643.97 L301.88,643.99 L302.06,644.01 L302.25,644.02 L302.43,644.04 L302.62,644.06 L302.80,644.07 L302.99,644.09 L303.17,644.11 L303.35,644.12 L303.54,644.14 L303.72,644.16 L303.91,644.17 L304.09,644.19 L304.28,644.20 L304.46,644.22 L304.65,644.24 L304.83,644.25 L305.01,644.27 L305.20,644.29 L305.38,644.30 L305.57,644.32 L305.75,644.34 L305.94,644.35 L306.12,644.37 L306.31,644.39 L306.49,644.40 L306.67,644.42 L306.86,644.43 L307.04,644.45 L307.23,644.47 L307.41,644.48 L307.60,644.50 L307.78,644.52 L307.97,644.53 L308.15,644.55 L308.33,644.57 L308.52,644.58 L308.70,644.60 L308.89,644.62 L309.07,644.63 L309.26,644.65 L309.44,644.67 L309.63,644.68 L309.81,644.70 L309.99,644.71 L310.18,644.73 L310.36,644.75 L310.55,644.76 L310.73,644.78 L310.92,644.80 L311.10,644.81 L311.29,644.83 L311.47,644.85 L311.65,644.86 L311.84,644.88 L312.02,644.90 L312.21,644.91 L312.39,644.93 L312.58,644.94 L312.76,644.96 L312.94,644.98 L313.13,644.99 L313.31,645.01 L313.50,645.03 L313.68,645.04 L313.87,645.06 L314.05,645.08 L314.24,645.09 L314.42,645.11 L314.60,645.13 L314.79,645.14 L314.97,645.16 L315.16,645.17 L315.34,645.19 L315.53,645.21 L315.71,645.22 L315.90,645.24 L316.08,645.26 L316.26,645.27 L316.45,645.29 L316.63,645.31 L316.82,645.32 L317.00,645.34 L317.19,645.36 L317.37,645.37 L317.56,645.39 L317.74,645.41 L317.92,645.42 L318.11,645.44 L318.29,645.45 L318.48,645.47 L318.66,645.49 L318.85,645.50 L319.03,645.52 L319.22,645.54 L319.40,645.55 L319.58,645.57 L319.77,645.59 L319.95,645.60 L320.14,645.62 L320.32,645.64 L320.51,645.65 L320.69,645.67 L320.88,645.68 L321.06,645.70 L321.24,645.72 L321.43,645.73 L321.61,645.75 L321.80,645.77 L321.98,645.78 L322.17,645.80 L322.35,645.82 L322.54,645.83 L322.72,645.85 L322.90,645.87 L323.09,645.88 L323.27,645.90 L323.46,645.91 L323.64,645.93 L323.83,645.95 L324.01,645.96 L324.20,645.98 L324.38,646.00 L324.56,646.01 L324.75,646.03 L324.93,646.05 L325.12,646.06 L325.30,646.08 L325.49,646.10 L325.67,646.11 L325.86,646.13 L326.04,646.15 L326.22,646.16 L326.41,646.18 L326.59,646.19 L326.78,646.21 L326.96,646.23 L327.15,646.24 L327.33,646.26 L327.52,646.28 L327.70,646.29" fill="none" stroke="#111" stroke-width="1.35" stroke-linejoin="round" clip-path="url(#ce)"/>
<path d="M32.6,723.60H327.7" stroke="#888" stroke-width="1.3"/>
<path d="M41.82,802.1v-2.4M41.82,566.6v2.4M51.04,802.1v-2.4M51.04,566.6v2.4M60.27,802.1v-2.4M60.27,566.6v2.4M78.71,802.1v-2.4M78.71,566.6v2.4M87.93,802.1v-2.4M87.93,566.6v2.4M97.15,802.1v-2.4M97.15,566.6v2.4M115.60,802.1v-2.4M115.60,566.6v2.4M124.82,802.1v-2.4M124.82,566.6v2.4M134.04,802.1v-2.4M134.04,566.6v2.4M152.48,802.1v-2.4M152.48,566.6v2.4M161.71,802.1v-2.4M161.71,566.6v2.4M170.93,802.1v-2.4M170.93,566.6v2.4M189.37,802.1v-2.4M189.37,566.6v2.4M198.59,802.1v-2.4M198.59,566.6v2.4M207.82,802.1v-2.4M207.82,566.6v2.4M226.26,802.1v-2.4M226.26,566.6v2.4M235.48,802.1v-2.4M235.48,566.6v2.4M244.70,802.1v-2.4M244.70,566.6v2.4M263.15,802.1v-2.4M263.15,566.6v2.4M272.37,802.1v-2.4M272.37,566.6v2.4M281.59,802.1v-2.4M281.59,566.6v2.4M300.03,802.1v-2.4M300.03,566.6v2.4M309.26,802.1v-2.4M309.26,566.6v2.4M318.48,802.1v-2.4M318.48,566.6v2.4M32.60,802.1v-5.0M32.60,566.6v5.0M69.49,802.1v-5.0M69.49,566.6v5.0M106.38,802.1v-5.0M106.38,566.6v5.0M143.26,802.1v-5.0M143.26,566.6v5.0M180.15,802.1v-5.0M180.15,566.6v5.0M217.04,802.1v-5.0M217.04,566.6v5.0M253.92,802.1v-5.0M253.92,566.6v5.0M290.81,802.1v-5.0M290.81,566.6v5.0M327.70,802.1v-5.0M327.70,566.6v5.0M32.6,794.25h2.4M327.7,794.25h-2.4M32.6,786.40h2.4M327.7,786.40h-2.4M32.6,778.55h2.4M327.7,778.55h-2.4M32.6,770.70h2.4M327.7,770.70h-2.4M32.6,755.00h2.4M327.7,755.00h-2.4M32.6,747.15h2.4M327.7,747.15h-2.4M32.6,739.30h2.4M327.7,739.30h-2.4M32.6,731.45h2.4M327.7,731.45h-2.4M32.6,715.75h2.4M327.7,715.75h-2.4M32.6,707.90h2.4M327.7,707.90h-2.4M32.6,700.05h2.4M327.7,700.05h-2.4M32.6,692.20h2.4M327.7,692.20h-2.4M32.6,676.50h2.4M327.7,676.50h-2.4M32.6,668.65h2.4M327.7,668.65h-2.4M32.6,660.80h2.4M327.7,660.80h-2.4M32.6,652.95h2.4M327.7,652.95h-2.4M32.6,637.25h2.4M327.7,637.25h-2.4M32.6,629.40h2.4M327.7,629.40h-2.4M32.6,621.55h2.4M327.7,621.55h-2.4M32.6,613.70h2.4M327.7,613.70h-2.4M32.6,598.00h2.4M327.7,598.00h-2.4M32.6,590.15h2.4M327.7,590.15h-2.4M32.6,582.30h2.4M327.7,582.30h-2.4M32.6,574.45h2.4M327.7,574.45h-2.4M32.6,802.10h5.0M327.7,802.10h-5.0M32.6,762.85h5.0M327.7,762.85h-5.0M32.6,723.60h5.0M327.7,723.60h-5.0M32.6,684.35h5.0M327.7,684.35h-5.0M32.6,645.10h5.0M327.7,645.10h-5.0M32.6,605.85h5.0M327.7,605.85h-5.0M32.6,566.60h5.0M327.7,566.60h-5.0" stroke="#6b6b6b" stroke-width="0.9" fill="none"/>
<rect x="32.6" y="566.6" width="295.10" height="235.50" fill="none" stroke="#6b6b6b" stroke-width="1.3"/>
<text x="32.60" y="813.10" text-anchor="middle" font-size="11.7" fill="#444">4000</text>
<text x="69.49" y="813.10" text-anchor="middle" font-size="11.7" fill="#444">4200</text>
<text x="106.38" y="813.10" text-anchor="middle" font-size="11.7" fill="#444">4400</text>
<text x="143.26" y="813.10" text-anchor="middle" font-size="11.7" fill="#444">4600</text>
<text x="180.15" y="813.10" text-anchor="middle" font-size="11.7" fill="#444">4800</text>
<text x="217.04" y="813.10" text-anchor="middle" font-size="11.7" fill="#444">5000</text>
<text x="253.92" y="813.10" text-anchor="middle" font-size="11.7" fill="#444">5200</text>
<text x="290.81" y="813.10" text-anchor="middle" font-size="11.7" fill="#444">5400</text>
<text x="327.70" y="813.10" text-anchor="middle" font-size="11.7" fill="#444">5600</text>
<text x="29.30" y="806.10" text-anchor="end" font-size="11.7" fill="#444">0</text>
<text x="29.30" y="766.85" text-anchor="end" font-size="11.7" fill="#444">1</text>
<text x="29.30" y="727.60" text-anchor="end" font-size="11.7" fill="#444">2</text>
<text x="29.30" y="688.35" text-anchor="end" font-size="11.7" fill="#444">3</text>
<text x="29.30" y="649.10" text-anchor="end" font-size="11.7" fill="#444">4</text>
<text x="29.30" y="609.85" text-anchor="end" font-size="11.7" fill="#444">5</text>
<text x="29.30" y="570.60" text-anchor="end" font-size="11.7" fill="#444">6</text>
<text x="59.7" y="598.5" font-size="12.8" text-anchor="start" fill="#444" textLength="13.7" lengthAdjust="spacingAndGlyphs">(e)</text>
<text x="107.5" y="829.3" font-size="12.8" text-anchor="start" fill="#444" textLength="144.4" lengthAdjust="spacingAndGlyphs">Rest-frame Wavelength (Å)</text>
<text x="18.2" y="704.6" font-size="12.8" text-anchor="start" fill="#444" textLength="39.2" lengthAdjust="spacingAndGlyphs" transform="rotate(-90 18.2 704.6)"><tspan font-style="italic">F</tspan><tspan dy="2.2" font-size="8.6">1</tspan><tspan dy="-2.2"> </tspan>/ <tspan font-style="italic">F</tspan><tspan dy="2.2" font-size="8.6">2</tspan><tspan dy="-2.2"> </tspan></text>
<circle cx="191.40" cy="711.04" r="5.1" fill="#17a9bf"/>
<path d="M186.15,718.90H196.65L191.40,728.30Z" fill="#f05a28"/>
<path d="M204.23,718.90H214.73L209.48,728.30Z" fill="#f05a28"/>
<path d="M213.08,718.90H223.58L218.33,728.30Z" fill="#f05a28"/>
<text x="224.9" y="667.8" font-size="12.8" text-anchor="start" fill="#444" textLength="97.4" lengthAdjust="spacingAndGlyphs"><tspan font-style="italic">F</tspan><tspan dy="2.2" font-size="8.6">1</tspan><tspan dy="-2.2"> </tspan>/ <tspan font-style="italic">F</tspan><tspan dy="2.2" font-size="8.6">2</tspan><tspan dy="-2.2"></tspan>: With ML</text>
<text x="220.9" y="747.2" font-size="12.8" text-anchor="start" fill="#999" textLength="85.4" lengthAdjust="spacingAndGlyphs"><tspan font-style="italic">F</tspan><tspan dy="2.2" font-size="8.6">1</tspan><tspan dy="-2.2"> </tspan>/ <tspan font-style="italic">F</tspan><tspan dy="2.2" font-size="8.6">2</tspan><tspan dy="-2.2"></tspan>: No ML</text>
<path d="M249.2,583.8H278.8" stroke="#5cc6d4" stroke-width="1.3"/>
<circle cx="264" cy="583.8" r="5.3" fill="#17a9bf"/>
<path d="M249.2,603.9H278.8" stroke="#f47a4f" stroke-width="1.3"/>
<path d="M258.95,599.20H269.25L264.10,609.20Z" fill="#f05a28"/>
<text x="289.3" y="589.7" font-size="12.8" text-anchor="start" fill="#444" textLength="24.9" lengthAdjust="spacingAndGlyphs">BEL</text>
<text x="289.3" y="609.4" font-size="12.8" text-anchor="start" fill="#444" textLength="25.5" lengthAdjust="spacingAndGlyphs">NEL</text>
<path d="M387.0,515.53H681.9" stroke="#111" stroke-width="1.3" stroke-dasharray="4,2.2"/>
<path d="M387.00,517.68 L387.22,517.68 L387.45,517.67 L387.67,517.67 L387.89,517.66 L388.12,517.66 L388.34,517.65 L388.56,517.65 L388.79,517.64 L389.01,517.64 L389.23,517.63 L389.46,517.63 L389.68,517.62 L389.90,517.62 L390.13,517.61 L390.35,517.61 L390.57,517.60 L390.80,517.60 L391.02,517.59 L391.24,517.59 L391.47,517.58 L391.69,517.58 L391.92,517.57 L392.14,517.57 L392.36,517.56 L392.59,517.56 L392.81,517.55 L393.03,517.55 L393.26,517.54 L393.48,517.54 L393.70,517.53 L393.93,517.53 L394.15,517.52 L394.37,517.52 L394.60,517.51 L394.82,517.51 L395.04,517.50 L395.27,517.50 L395.49,517.49 L395.71,517.49 L395.94,517.48 L396.16,517.48 L396.38,517.47 L396.61,517.47 L396.83,517.46 L397.05,517.46 L397.28,517.45 L397.50,517.45 L397.72,517.44 L397.95,517.44 L398.17,517.43 L398.39,517.43 L398.62,517.42 L398.84,517.42 L399.06,517.41 L399.29,517.41 L399.51,517.40 L399.73,517.40 L399.96,517.39 L400.18,517.39 L400.40,517.38 L400.63,517.38 L400.85,517.37 L401.07,517.37 L401.30,517.36 L401.52,517.36 L401.75,517.35 L401.97,517.35 L402.19,517.35 L402.42,517.34 L402.64,517.34 L402.86,517.33 L403.09,517.33 L403.31,517.32 L403.53,517.32 L403.76,517.31 L403.98,517.31 L404.20,517.30 L404.43,517.30 L404.65,517.29 L404.87,517.29 L405.10,517.28 L405.32,517.28 L405.54,517.27 L405.77,517.27 L405.99,517.26 L406.21,517.26 L406.44,517.25 L406.66,517.25 L406.88,517.24 L407.11,517.24 L407.33,517.23 L407.55,517.23 L407.78,517.22 L408.00,517.22 L408.22,517.21 L408.45,517.21 L408.67,517.20 L408.89,517.20 L409.12,517.19 L409.34,517.19 L409.56,517.18 L409.79,517.18 L410.01,517.17 L410.23,517.17 L410.46,517.16 L410.68,517.16 L410.90,517.15 L411.13,517.15 L411.35,517.14 L411.57,517.14 L411.80,517.13 L412.02,517.13 L412.25,517.12 L412.47,517.12 L412.69,517.12 L412.92,517.11 L413.14,517.11 L413.36,517.10 L413.59,517.10 L413.81,517.09 L414.03,517.09 L414.26,517.08 L414.48,517.08 L414.70,517.07 L414.93,517.07 L415.15,517.06 L415.37,517.06 L415.60,517.05 L415.82,517.05 L416.04,517.04 L416.27,517.04 L416.49,517.03 L416.71,517.03 L416.94,517.02 L417.16,517.02 L417.38,517.01 L417.61,517.01 L417.83,517.00 L418.05,517.00 L418.28,516.99 L418.50,516.99 L418.72,516.98 L418.95,516.98 L419.17,516.97 L419.39,516.97 L419.62,516.96 L419.84,516.96 L420.06,516.95 L420.29,516.95 L420.51,516.94 L420.73,516.93 L420.96,516.93 L421.18,516.92 L421.40,516.92 L421.63,516.91 L421.85,516.91 L422.08,516.90 L422.30,516.90 L422.52,516.89 L422.75,516.89 L422.97,516.88 L423.19,516.88 L423.42,516.87 L423.64,516.87 L423.86,516.86 L424.09,516.85 L424.31,516.85 L424.53,516.84 L424.76,516.84 L424.98,516.83 L425.20,516.83 L425.43,516.82 L425.65,516.81 L425.87,516.81 L426.10,516.80 L426.32,516.80 L426.54,516.79 L426.77,516.78 L426.99,516.78 L427.21,516.77 L427.44,516.77 L427.66,516.76 L427.88,516.75 L428.11,516.75 L428.33,516.74 L428.55,516.73 L428.78,516.73 L429.00,516.72 L429.22,516.71 L429.45,516.71 L429.67,516.70 L429.89,516.69 L430.12,516.68 L430.34,516.68 L430.56,516.67 L430.79,516.66 L431.01,516.65 L431.24,516.65 L431.46,516.64 L431.68,516.63 L431.91,516.62 L432.13,516.62 L432.35,516.61 L432.58,516.60 L432.80,516.59 L433.02,516.58 L433.25,516.57 L433.47,516.56 L433.69,516.55 L433.92,516.55 L434.14,516.54 L434.36,516.53 L434.59,516.52 L434.81,516.51 L435.03,516.50 L435.26,516.49 L435.48,516.48 L435.70,516.46 L435.93,516.45 L436.15,516.44 L436.37,516.43 L436.60,516.42 L436.82,516.41 L437.04,516.39 L437.27,516.38 L437.49,516.37 L437.71,516.36 L437.94,516.34 L438.16,516.33 L438.38,516.32 L438.61,516.30 L438.83,516.29 L439.05,516.27 L439.28,516.26 L439.50,516.24 L439.72,516.23 L439.95,516.21 L440.17,516.19 L440.39,516.18 L440.62,516.16 L440.84,516.14 L441.06,516.12 L441.29,516.11 L441.51,516.09 L441.74,516.07 L441.96,516.05 L442.18,516.03 L442.41,516.01 L442.63,515.99 L442.85,515.96 L443.08,515.94 L443.30,515.92 L443.52,515.89 L443.75,515.87 L443.97,515.85 L444.19,515.82 L444.42,515.80 L444.64,515.77 L444.86,515.74 L445.09,515.71 L445.31,515.69 L445.53,515.66 L445.76,515.63 L445.98,515.60 L446.20,515.57 L446.43,515.53 L446.65,515.50 L446.87,515.47 L447.10,515.43 L447.32,515.40 L447.54,515.36 L447.77,515.33 L447.99,515.29 L448.21,515.25 L448.44,515.21 L448.66,515.17 L448.88,515.13 L449.11,515.09 L449.33,515.04 L449.55,515.00 L449.78,514.95 L450.00,514.91 L450.22,514.86 L450.45,514.81 L450.67,514.76 L450.89,514.71 L451.12,514.66 L451.34,514.60 L451.57,514.55 L451.79,514.49 L452.01,514.44 L452.24,514.38 L452.46,514.32 L452.68,514.26 L452.91,514.19 L453.13,514.13 L453.35,514.07 L453.58,514.00 L453.80,513.93 L454.02,513.86 L454.25,513.79 L454.47,513.72 L454.69,513.64 L454.92,513.57 L455.14,513.49 L455.36,513.41 L455.59,513.33 L455.81,513.25 L456.03,513.17 L456.26,513.08 L456.48,512.99 L456.70,512.90 L456.93,512.81 L457.15,512.72 L457.37,512.63 L457.60,512.53 L457.82,512.43 L458.04,512.33 L458.27,512.23 L458.49,512.12 L458.71,512.02 L458.94,511.91 L459.16,511.80 L459.38,511.69 L459.61,511.57 L459.83,511.45 L460.05,511.34 L460.28,511.21 L460.50,511.09 L460.73,510.97 L460.95,510.84 L461.17,510.71 L461.40,510.57 L461.62,510.44 L461.84,510.30 L462.07,510.16 L462.29,510.02 L462.51,509.88 L462.74,509.73 L462.96,509.58 L463.18,509.43 L463.41,509.28 L463.63,509.12 L463.85,508.96 L464.08,508.80 L464.30,508.63 L464.52,508.47 L464.75,508.30 L464.97,508.12 L465.19,507.95 L465.42,507.77 L465.64,507.59 L465.86,507.41 L466.09,507.22 L466.31,507.04 L466.53,506.84 L466.76,506.65 L466.98,506.45 L467.20,506.26 L467.43,506.05 L467.65,505.85 L467.87,505.64 L468.10,505.43 L468.32,505.22 L468.54,505.00 L468.77,504.78 L468.99,504.56 L469.21,504.34 L469.44,504.11 L469.66,503.88 L469.88,503.65 L470.11,503.42 L470.33,503.18 L470.56,502.94 L470.78,502.69 L471.00,502.45 L471.23,502.20 L471.45,501.95 L471.67,501.70 L471.90,501.44 L472.12,501.18 L472.34,500.92 L472.57,500.65 L472.79,500.39 L473.01,500.12 L473.24,499.84 L473.46,499.57 L473.68,499.29 L473.91,499.01 L474.13,498.73 L474.35,498.44 L474.58,498.16 L474.80,497.87 L475.02,497.58 L475.25,497.28 L475.47,496.98 L475.69,496.69 L475.92,496.38 L476.14,496.08 L476.36,495.78 L476.59,495.47 L476.81,495.16 L477.03,494.85 L477.26,494.54 L477.48,494.22 L477.70,493.90 L477.93,493.58 L478.15,493.26 L478.37,492.94 L478.60,492.62 L478.82,492.29 L479.04,491.97 L479.27,491.64 L479.49,491.31 L479.71,490.98 L479.94,490.65 L480.16,490.31 L480.38,489.98 L480.61,489.64 L480.83,489.31 L481.06,488.97 L481.28,488.63 L481.50,488.29 L481.73,487.95 L481.95,487.61 L482.17,487.27 L482.40,486.93 L482.62,486.58 L482.84,486.24 L483.07,485.90 L483.29,485.56 L483.51,485.21 L483.74,484.87 L483.96,484.53 L484.18,484.19 L484.41,483.84 L484.63,483.50 L484.85,483.16 L485.08,482.82 L485.30,482.48 L485.52,482.14 L485.75,481.80 L485.97,481.46 L486.19,481.13 L486.42,480.79 L486.64,480.45 L486.86,480.12 L487.09,479.79 L487.31,479.46 L487.53,479.13 L487.76,478.80 L487.98,478.47 L488.20,478.15 L488.43,477.83 L488.65,477.51 L488.87,477.19 L489.10,476.87 L489.32,476.56 L489.54,476.25 L489.77,475.94 L489.99,475.63 L490.21,475.32 L490.44,475.02 L490.66,474.72 L490.89,474.42 L491.11,474.12 L491.33,473.83 L491.56,473.54 L491.78,473.24 L492.00,472.95 L492.23,472.66 L492.45,472.37 L492.67,472.08 L492.90,471.79 L493.12,471.50 L493.34,471.20 L493.57,470.90 L493.79,470.60 L494.01,470.28 L494.24,469.97 L494.46,469.64 L494.68,469.29 L494.91,468.94 L495.13,468.57 L495.35,468.18 L495.58,467.77 L495.80,467.34 L496.02,466.88 L496.25,466.40 L496.47,465.88 L496.69,465.33 L496.92,464.75 L497.14,464.13 L497.36,463.47 L497.59,462.77 L497.81,462.03 L498.03,461.25 L498.26,460.43 L498.48,459.57 L498.70,458.67 L498.93,457.74 L499.15,456.78 L499.37,455.78 L499.60,454.77 L499.82,453.74 L500.05,452.70 L500.27,451.66 L500.49,450.62 L500.72,449.60 L500.94,448.60 L501.16,447.64 L501.39,446.72 L501.61,445.85 L501.83,445.04 L502.06,444.30 L502.28,443.64 L502.50,443.07 L502.73,442.59 L502.95,442.21 L503.17,441.94 L503.40,441.77 L503.62,441.71 L503.84,441.76 L504.07,441.92 L504.29,442.19 L504.51,442.56 L504.74,443.03 L504.96,443.59 L505.18,444.25 L505.41,444.97 L505.63,445.77 L505.85,446.64 L506.08,447.55 L506.30,448.51 L506.52,449.49 L506.75,450.51 L506.97,451.54 L507.19,452.57 L507.42,453.60 L507.64,454.62 L507.86,455.63 L508.09,456.61 L508.31,457.57 L508.53,458.49 L508.76,459.38 L508.98,460.24 L509.20,461.05 L509.43,461.82 L509.65,462.55 L509.88,463.24 L510.10,463.89 L510.32,464.51 L510.55,465.08 L510.77,465.62 L510.99,466.13 L511.22,466.61 L511.44,467.06 L511.66,467.48 L511.89,467.88 L512.11,468.26 L512.33,468.62 L512.56,468.97 L512.78,469.30 L513.00,469.62 L513.23,469.94 L513.45,470.24 L513.67,470.54 L513.90,470.83 L514.12,471.12 L514.34,471.40 L514.57,471.68 L514.79,471.97 L515.01,472.25 L515.24,472.53 L515.46,472.81 L515.68,473.10 L515.91,473.38 L516.13,473.67 L516.35,473.96 L516.58,474.25 L516.80,474.54 L517.02,474.84 L517.25,475.13 L517.47,475.43 L517.69,475.73 L517.92,476.04 L518.14,476.34 L518.36,476.65 L518.59,476.96 L518.81,477.28 L519.03,477.59 L519.26,477.91 L519.48,478.22 L519.70,478.54 L519.93,478.86 L520.15,479.19 L520.38,479.51 L520.60,479.84 L520.82,480.16 L521.05,480.49 L521.27,480.82 L521.49,481.15 L521.72,481.48 L521.94,481.81 L522.16,482.15 L522.39,482.48 L522.61,482.81 L522.83,483.15 L523.06,483.48 L523.28,483.81 L523.50,484.15 L523.73,484.48 L523.95,484.82 L524.17,485.15 L524.40,485.49 L524.62,485.82 L524.84,486.15 L525.07,486.49 L525.29,486.82 L525.51,487.15 L525.74,487.49 L525.96,487.82 L526.18,488.15 L526.41,488.48 L526.63,488.80 L526.85,489.13 L527.08,489.46 L527.30,489.78 L527.52,490.11 L527.75,490.43 L527.97,490.75 L528.19,491.07 L528.42,491.39 L528.64,491.71 L528.86,492.02 L529.09,492.34 L529.31,492.65 L529.53,492.96 L529.76,493.27 L529.98,493.58 L530.21,493.88 L530.43,494.18 L530.65,494.49 L530.88,494.78 L531.10,495.08 L531.32,495.38 L531.55,495.67 L531.77,495.96 L531.99,496.25 L532.22,496.53 L532.44,496.82 L532.66,497.10 L532.89,497.38 L533.11,497.65 L533.33,497.92 L533.56,498.19 L533.78,498.46 L534.00,498.72 L534.23,498.98 L534.45,499.24 L534.67,499.49 L534.90,499.73 L535.12,499.98 L535.34,500.21 L535.57,500.44 L535.79,500.66 L536.01,500.87 L536.24,501.08 L536.46,501.27 L536.68,501.45 L536.91,501.61 L537.13,501.76 L537.35,501.89 L537.58,502.00 L537.80,502.08 L538.02,502.14 L538.25,502.16 L538.47,502.15 L538.69,502.10 L538.92,502.00 L539.14,501.86 L539.37,501.66 L539.59,501.40 L539.81,501.08 L540.04,500.68 L540.26,500.21 L540.48,499.66 L540.71,499.03 L540.93,498.30 L541.15,497.49 L541.38,496.58 L541.60,495.57 L541.82,494.47 L542.05,493.26 L542.27,491.97 L542.49,490.58 L542.72,489.11 L542.94,487.56 L543.16,485.93 L543.39,484.25 L543.61,482.52 L543.83,480.76 L544.06,478.97 L544.28,477.19 L544.50,475.42 L544.73,473.68 L544.95,472.00 L545.17,470.39 L545.40,468.87 L545.62,467.46 L545.84,466.18 L546.07,465.05 L546.29,464.08 L546.51,463.29 L546.74,462.68 L546.96,462.27 L547.18,462.07 L547.41,462.08 L547.63,462.29 L547.85,462.71 L548.08,463.34 L548.30,464.17 L548.52,465.18 L548.75,466.37 L548.97,467.72 L549.19,469.22 L549.42,470.85 L549.64,472.59 L549.87,474.42 L550.09,476.33 L550.31,478.29 L550.54,480.28 L550.76,482.29 L550.98,484.30 L551.21,486.29 L551.43,488.25 L551.65,490.16 L551.88,492.01 L552.10,493.79 L552.32,495.50 L552.55,497.11 L552.77,498.64 L552.99,500.08 L553.22,501.41 L553.44,502.66 L553.66,503.80 L553.89,504.86 L554.11,505.82 L554.33,506.69 L554.56,507.48 L554.78,508.18 L555.00,508.82 L555.23,509.38 L555.45,509.87 L555.67,510.31 L555.90,510.69 L556.12,511.01 L556.34,511.29 L556.57,511.52 L556.79,511.70 L557.01,511.85 L557.24,511.95 L557.46,512.02 L557.68,512.04 L557.91,512.02 L558.13,511.96 L558.35,511.85 L558.58,511.68 L558.80,511.46 L559.02,511.17 L559.25,510.81 L559.47,510.37 L559.70,509.84 L559.92,509.21 L560.14,508.46 L560.37,507.58 L560.59,506.56 L560.81,505.39 L561.04,504.04 L561.26,502.50 L561.48,500.76 L561.71,498.81 L561.93,496.62 L562.15,494.18 L562.38,491.48 L562.60,488.51 L562.82,485.27 L563.05,481.74 L563.27,477.93 L563.49,473.83 L563.72,469.46 L563.94,464.82 L564.16,459.93 L564.39,454.81 L564.61,449.49 L564.83,444.00 L565.06,438.37 L565.28,432.64 L565.50,426.86 L565.73,421.09 L565.95,415.36 L566.17,409.75 L566.40,404.30 L566.62,399.07 L566.84,394.13 L567.07,389.53 L567.29,385.32 L567.51,381.56 L567.74,378.30 L567.96,375.56 L568.18,373.40 L568.41,371.84 L568.63,370.90 L568.86,370.58 L569.08,370.91 L569.30,371.86 L569.53,373.44 L569.75,375.61 L569.97,378.35 L570.20,381.63 L570.42,385.41 L570.64,389.62 L570.87,394.24 L571.09,399.19 L571.31,404.43 L571.54,409.89 L571.76,415.52 L571.98,421.26 L572.21,427.05 L572.43,432.84 L572.65,438.58 L572.88,444.22 L573.10,449.73 L573.32,455.07 L573.55,460.20 L573.77,465.11 L573.99,469.76 L574.22,474.15 L574.44,478.26 L574.66,482.09 L574.89,485.64 L575.11,488.90 L575.33,491.89 L575.56,494.61 L575.78,497.07 L576.00,499.28 L576.23,501.26 L576.45,503.02 L576.67,504.58 L576.90,505.96 L577.12,507.16 L577.34,508.21 L577.57,509.12 L577.79,509.90 L578.01,510.58 L578.24,511.15 L578.46,511.64 L578.68,512.05 L578.91,512.40 L579.13,512.69 L579.36,512.93 L579.58,513.13 L579.80,513.29 L580.03,513.43 L580.25,513.54 L580.47,513.63 L580.70,513.70 L580.92,513.75 L581.14,513.80 L581.37,513.84 L581.59,513.86 L581.81,513.88 L582.04,513.90 L582.26,513.91 L582.48,513.92 L582.71,513.93 L582.93,513.93 L583.15,513.93 L583.38,513.94 L583.60,513.94 L583.82,513.94 L584.05,513.93 L584.27,513.93 L584.49,513.93 L584.72,513.93 L584.94,513.93 L585.16,513.92 L585.39,513.92 L585.61,513.92 L585.83,513.92 L586.06,513.91 L586.28,513.91 L586.50,513.91 L586.73,513.90 L586.95,513.90 L587.17,513.90 L587.40,513.90 L587.62,513.89 L587.84,513.89 L588.07,513.89 L588.29,513.88 L588.51,513.88 L588.74,513.88 L588.96,513.87 L589.19,513.87 L589.41,513.87 L589.63,513.86 L589.86,513.86 L590.08,513.86 L590.30,513.85 L590.53,513.85 L590.75,513.85 L590.97,513.84 L591.20,513.84 L591.42,513.84 L591.64,513.83 L591.87,513.83 L592.09,513.83 L592.31,513.82 L592.54,513.82 L592.76,513.82 L592.98,513.81 L593.21,513.81 L593.43,513.81 L593.65,513.80 L593.88,513.80 L594.10,513.80 L594.32,513.79 L594.55,513.79 L594.77,513.79 L594.99,513.78 L595.22,513.78 L595.44,513.78 L595.66,513.77 L595.89,513.77 L596.11,513.77 L596.33,513.76 L596.56,513.76 L596.78,513.76 L597.00,513.75 L597.23,513.75 L597.45,513.75 L597.67,513.74 L597.90,513.74 L598.12,513.74 L598.35,513.73 L598.57,513.73 L598.79,513.73 L599.02,513.72 L599.24,513.72 L599.46,513.72 L599.69,513.71 L599.91,513.71 L600.13,513.71 L600.36,513.70 L600.58,513.70 L600.80,513.70 L601.03,513.69 L601.25,513.69 L601.47,513.69 L601.70,513.68 L601.92,513.68 L602.14,513.68 L602.37,513.67 L602.59,513.67 L602.81,513.67 L603.04,513.66 L603.26,513.66 L603.48,513.66 L603.71,513.65 L603.93,513.65 L604.15,513.65 L604.38,513.64 L604.60,513.64 L604.82,513.64 L605.05,513.63 L605.27,513.63 L605.49,513.63 L605.72,513.62 L605.94,513.62 L606.16,513.62 L606.39,513.61 L606.61,513.61 L606.83,513.61 L607.06,513.60 L607.28,513.60 L607.50,513.60 L607.73,513.59 L607.95,513.59 L608.17,513.59 L608.40,513.58 L608.62,513.58 L608.85,513.58 L609.07,513.57 L609.29,513.57 L609.52,513.57 L609.74,513.56 L609.96,513.56 L610.19,513.56 L610.41,513.55 L610.63,513.55 L610.86,513.55 L611.08,513.54 L611.30,513.54 L611.53,513.54 L611.75,513.53 L611.97,513.53 L612.20,513.53 L612.42,513.52 L612.64,513.52 L612.87,513.52 L613.09,513.51 L613.31,513.51 L613.54,513.51 L613.76,513.50 L613.98,513.50 L614.21,513.50 L614.43,513.49 L614.65,513.49 L614.88,513.49 L615.10,513.48 L615.32,513.48 L615.55,513.48 L615.77,513.47 L615.99,513.47 L616.22,513.47 L616.44,513.46 L616.66,513.46 L616.89,513.46 L617.11,513.45 L617.33,513.45 L617.56,513.45 L617.78,513.44 L618.00,513.44 L618.23,513.44 L618.45,513.43 L618.68,513.43 L618.90,513.43 L619.12,513.42 L619.35,513.42 L619.57,513.42 L619.79,513.41 L620.02,513.41 L620.24,513.41 L620.46,513.40 L620.69,513.40 L620.91,513.40 L621.13,513.39 L621.36,513.39 L621.58,513.39 L621.80,513.38 L622.03,513.38 L622.25,513.38 L622.47,513.37 L622.70,513.37 L622.92,513.37 L623.14,513.36 L623.37,513.36 L623.59,513.36 L623.81,513.35 L624.04,513.35 L624.26,513.35 L624.48,513.34 L624.71,513.34 L624.93,513.34 L625.15,513.34 L625.38,513.33 L625.60,513.33 L625.82,513.33 L626.05,513.32 L626.27,513.32 L626.49,513.32 L626.72,513.31 L626.94,513.31 L627.16,513.31 L627.39,513.30 L627.61,513.30 L627.84,513.30 L628.06,513.29 L628.28,513.29 L628.51,513.29 L628.73,513.28 L628.95,513.28 L629.18,513.28 L629.40,513.27 L629.62,513.27 L629.85,513.27 L630.07,513.26 L630.29,513.26 L630.52,513.26 L630.74,513.25 L630.96,513.25 L631.19,513.25 L631.41,513.24 L631.63,513.24 L631.86,513.24 L632.08,513.23 L632.30,513.23 L632.53,513.23 L632.75,513.23 L632.97,513.22 L633.20,513.22 L633.42,513.22 L633.64,513.21 L633.87,513.21 L634.09,513.21 L634.31,513.20 L634.54,513.20 L634.76,513.20 L634.98,513.19 L635.21,513.19 L635.43,513.19 L635.65,513.18 L635.88,513.18 L636.10,513.18 L636.32,513.17 L636.55,513.17 L636.77,513.17 L636.99,513.16 L637.22,513.16 L637.44,513.16 L637.66,513.15 L637.89,513.15 L638.11,513.15 L638.34,513.15 L638.56,513.14 L638.78,513.14 L639.01,513.14 L639.23,513.13 L639.45,513.13 L639.68,513.13 L639.90,513.12 L640.12,513.12 L640.35,513.12 L640.57,513.11 L640.79,513.11 L641.02,513.11 L641.24,513.10 L641.46,513.10 L641.69,513.10 L641.91,513.09 L642.13,513.09 L642.36,513.09 L642.58,513.09 L642.80,513.08 L643.03,513.08 L643.25,513.08 L643.47,513.07 L643.70,513.07 L643.92,513.07 L644.14,513.06 L644.37,513.06 L644.59,513.06 L644.81,513.05 L645.04,513.05 L645.26,513.05 L645.48,513.04 L645.71,513.04 L645.93,513.04 L646.15,513.03 L646.38,513.03 L646.60,513.03 L646.82,513.03 L647.05,513.02 L647.27,513.02 L647.49,513.02 L647.72,513.01 L647.94,513.01 L648.17,513.01 L648.39,513.00 L648.61,513.00 L648.84,513.00 L649.06,512.99 L649.28,512.99 L649.51,512.99 L649.73,512.98 L649.95,512.98 L650.18,512.98 L650.40,512.98 L650.62,512.97 L650.85,512.97 L651.07,512.97 L651.29,512.96 L651.52,512.96 L651.74,512.96 L651.96,512.95 L652.19,512.95 L652.41,512.95 L652.63,512.94 L652.86,512.94 L653.08,512.94 L653.30,512.94 L653.53,512.93 L653.75,512.93 L653.97,512.93 L654.20,512.92 L654.42,512.92 L654.64,512.92 L654.87,512.91 L655.09,512.91 L655.31,512.91 L655.54,512.90 L655.76,512.90 L655.98,512.90 L656.21,512.90 L656.43,512.89 L656.65,512.89 L656.88,512.89 L657.10,512.88 L657.33,512.88 L657.55,512.88 L657.77,512.87 L658.00,512.87 L658.22,512.87 L658.44,512.86 L658.67,512.86 L658.89,512.86 L659.11,512.86 L659.34,512.85 L659.56,512.85 L659.78,512.85 L660.01,512.84 L660.23,512.84 L660.45,512.84 L660.68,512.83 L660.90,512.83 L661.12,512.83 L661.35,512.82 L661.57,512.82 L661.79,512.82 L662.02,512.82 L662.24,512.81 L662.46,512.81 L662.69,512.81 L662.91,512.80 L663.13,512.80 L663.36,512.80 L663.58,512.79 L663.80,512.79 L664.03,512.79 L664.25,512.79 L664.47,512.78 L664.70,512.78 L664.92,512.78 L665.14,512.77 L665.37,512.77 L665.59,512.77 L665.81,512.76 L666.04,512.76 L666.26,512.76 L666.48,512.75 L666.71,512.75 L666.93,512.75 L667.15,512.75 L667.38,512.74 L667.60,512.74 L667.83,512.74 L668.05,512.73 L668.27,512.73 L668.50,512.73 L668.72,512.72 L668.94,512.72 L669.17,512.72 L669.39,512.72 L669.61,512.71 L669.84,512.71 L670.06,512.71 L670.28,512.70 L670.51,512.70 L670.73,512.70 L670.95,512.69 L671.18,512.69 L671.40,512.69 L671.62,512.69 L671.85,512.68 L672.07,512.68 L672.29,512.68 L672.52,512.67 L672.74,512.67 L672.96,512.67 L673.19,512.66 L673.41,512.66 L673.63,512.66 L673.86,512.66 L674.08,512.65 L674.30,512.65 L674.53,512.65 L674.75,512.64 L674.97,512.64 L675.20,512.64 L675.42,512.63 L675.64,512.63 L675.87,512.63 L676.09,512.63 L676.31,512.62 L676.54,512.62 L676.76,512.62 L676.98,512.61 L677.21,512.61 L677.43,512.61 L677.66,512.61 L677.88,512.60 L678.10,512.60 L678.33,512.60 L678.55,512.59 L678.77,512.59 L679.00,512.59 L679.22,512.58 L679.44,512.58 L679.67,512.58 L679.89,512.58 L680.11,512.57 L680.34,512.57 L680.56,512.57 L680.78,512.56 L681.01,512.56 L681.23,512.56 L681.45,512.56 L681.68,512.55 L681.90,512.55" fill="none" stroke="#111" stroke-width="1.5" stroke-linejoin="round" clip-path="url(#cd)"/>
<path d="M387.00,413.70 L387.22,413.71 L387.45,413.73 L387.67,413.74 L387.89,413.75 L388.12,413.77 L388.34,413.78 L388.56,413.79 L388.79,413.80 L389.01,413.82 L389.23,413.83 L389.46,413.84 L389.68,413.86 L389.90,413.87 L390.13,413.88 L390.35,413.90 L390.57,413.91 L390.80,413.92 L391.02,413.93 L391.24,413.95 L391.47,413.96 L391.69,413.97 L391.92,413.99 L392.14,414.00 L392.36,414.01 L392.59,414.03 L392.81,414.04 L393.03,414.05 L393.26,414.06 L393.48,414.08 L393.70,414.09 L393.93,414.10 L394.15,414.12 L394.37,414.13 L394.60,414.14 L394.82,414.16 L395.04,414.17 L395.27,414.18 L395.49,414.19 L395.71,414.21 L395.94,414.22 L396.16,414.23 L396.38,414.25 L396.61,414.26 L396.83,414.27 L397.05,414.28 L397.28,414.30 L397.50,414.31 L397.72,414.32 L397.95,414.34 L398.17,414.35 L398.39,414.36 L398.62,414.37 L398.84,414.39 L399.06,414.40 L399.29,414.41 L399.51,414.43 L399.73,414.44 L399.96,414.45 L400.18,414.46 L400.40,414.48 L400.63,414.49 L400.85,414.50 L401.07,414.52 L401.30,414.53 L401.52,414.54 L401.75,414.55 L401.97,414.57 L402.19,414.58 L402.42,414.59 L402.64,414.60 L402.86,414.62 L403.09,414.63 L403.31,414.64 L403.53,414.66 L403.76,414.67 L403.98,414.68 L404.20,414.69 L404.43,414.71 L404.65,414.72 L404.87,414.73 L405.10,414.74 L405.32,414.76 L405.54,414.77 L405.77,414.78 L405.99,414.80 L406.21,414.81 L406.44,414.82 L406.66,414.83 L406.88,414.85 L407.11,414.86 L407.33,414.87 L407.55,414.88 L407.78,414.90 L408.00,414.91 L408.22,414.92 L408.45,414.94 L408.67,414.95 L408.89,414.96 L409.12,414.97 L409.34,414.99 L409.56,415.00 L409.79,415.01 L410.01,415.02 L410.23,415.04 L410.46,415.05 L410.68,415.06 L410.90,415.07 L411.13,415.09 L411.35,415.10 L411.57,415.11 L411.80,415.12 L412.02,415.14 L412.25,415.15 L412.47,415.16 L412.69,415.17 L412.92,415.19 L413.14,415.20 L413.36,415.21 L413.59,415.22 L413.81,415.24 L414.03,415.25 L414.26,415.26 L414.48,415.28 L414.70,415.29 L414.93,415.30 L415.15,415.31 L415.37,415.33 L415.60,415.34 L415.82,415.35 L416.04,415.36 L416.27,415.38 L416.49,415.39 L416.71,415.40 L416.94,415.41 L417.16,415.43 L417.38,415.44 L417.61,415.45 L417.83,415.46 L418.05,415.48 L418.28,415.49 L418.50,415.50 L418.72,415.51 L418.95,415.53 L419.17,415.54 L419.39,415.55 L419.62,415.56 L419.84,415.58 L420.06,415.59 L420.29,415.60 L420.51,415.61 L420.73,415.63 L420.96,415.64 L421.18,415.65 L421.40,415.66 L421.63,415.67 L421.85,415.69 L422.08,415.70 L422.30,415.71 L422.52,415.72 L422.75,415.74 L422.97,415.75 L423.19,415.76 L423.42,415.77 L423.64,415.79 L423.86,415.80 L424.09,415.81 L424.31,415.82 L424.53,415.84 L424.76,415.85 L424.98,415.86 L425.20,415.87 L425.43,415.89 L425.65,415.90 L425.87,415.91 L426.10,415.92 L426.32,415.94 L426.54,415.95 L426.77,415.96 L426.99,415.97 L427.21,415.99 L427.44,416.00 L427.66,416.01 L427.88,416.02 L428.11,416.04 L428.33,416.05 L428.55,416.06 L428.78,416.07 L429.00,416.09 L429.22,416.10 L429.45,416.11 L429.67,416.12 L429.89,416.14 L430.12,416.15 L430.34,416.16 L430.56,416.17 L430.79,416.19 L431.01,416.20 L431.24,416.21 L431.46,416.22 L431.68,416.24 L431.91,416.25 L432.13,416.26 L432.35,416.28 L432.58,416.29 L432.80,416.30 L433.02,416.31 L433.25,416.33 L433.47,416.34 L433.69,416.35 L433.92,416.36 L434.14,416.38 L434.36,416.39 L434.59,416.40 L434.81,416.42 L435.03,416.43 L435.26,416.44 L435.48,416.46 L435.70,416.47 L435.93,416.48 L436.15,416.49 L436.37,416.51 L436.60,416.52 L436.82,416.53 L437.04,416.55 L437.27,416.56 L437.49,416.57 L437.71,416.59 L437.94,416.60 L438.16,416.61 L438.38,416.63 L438.61,416.64 L438.83,416.65 L439.05,416.67 L439.28,416.68 L439.50,416.69 L439.72,416.71 L439.95,416.72 L440.17,416.73 L440.39,416.75 L440.62,416.76 L440.84,416.78 L441.06,416.79 L441.29,416.80 L441.51,416.82 L441.74,416.83 L441.96,416.85 L442.18,416.86 L442.41,416.87 L442.63,416.89 L442.85,416.90 L443.08,416.92 L443.30,416.93 L443.52,416.95 L443.75,416.96 L443.97,416.98 L444.19,416.99 L444.42,417.01 L444.64,417.02 L444.86,417.04 L445.09,417.05 L445.31,417.07 L445.53,417.08 L445.76,417.10 L445.98,417.11 L446.20,417.13 L446.43,417.15 L446.65,417.16 L446.87,417.18 L447.10,417.19 L447.32,417.21 L447.54,417.23 L447.77,417.24 L447.99,417.26 L448.21,417.28 L448.44,417.29 L448.66,417.31 L448.88,417.33 L449.11,417.34 L449.33,417.36 L449.55,417.38 L449.78,417.40 L450.00,417.41 L450.22,417.43 L450.45,417.45 L450.67,417.47 L450.89,417.49 L451.12,417.51 L451.34,417.52 L451.57,417.54 L451.79,417.56 L452.01,417.58 L452.24,417.60 L452.46,417.62 L452.68,417.64 L452.91,417.66 L453.13,417.68 L453.35,417.70 L453.58,417.72 L453.80,417.74 L454.02,417.76 L454.25,417.78 L454.47,417.81 L454.69,417.83 L454.92,417.85 L455.14,417.87 L455.36,417.89 L455.59,417.92 L455.81,417.94 L456.03,417.96 L456.26,417.99 L456.48,418.01 L456.70,418.03 L456.93,418.06 L457.15,418.08 L457.37,418.11 L457.60,418.13 L457.82,418.15 L458.04,418.18 L458.27,418.21 L458.49,418.23 L458.71,418.26 L458.94,418.28 L459.16,418.31 L459.38,418.34 L459.61,418.37 L459.83,418.39 L460.05,418.42 L460.28,418.45 L460.50,418.48 L460.73,418.51 L460.95,418.54 L461.17,418.57 L461.40,418.60 L461.62,418.63 L461.84,418.66 L462.07,418.69 L462.29,418.72 L462.51,418.75 L462.74,418.78 L462.96,418.81 L463.18,418.85 L463.41,418.88 L463.63,418.91 L463.85,418.95 L464.08,418.98 L464.30,419.01 L464.52,419.05 L464.75,419.08 L464.97,419.12 L465.19,419.15 L465.42,419.19 L465.64,419.23 L465.86,419.26 L466.09,419.30 L466.31,419.34 L466.53,419.38 L466.76,419.42 L466.98,419.45 L467.20,419.49 L467.43,419.53 L467.65,419.57 L467.87,419.61 L468.10,419.65 L468.32,419.70 L468.54,419.74 L468.77,419.78 L468.99,419.82 L469.21,419.86 L469.44,419.91 L469.66,419.95 L469.88,419.99 L470.11,420.04 L470.33,420.08 L470.56,420.13 L470.78,420.17 L471.00,420.22 L471.23,420.27 L471.45,420.31 L471.67,420.36 L471.90,420.41 L472.12,420.45 L472.34,420.50 L472.57,420.55 L472.79,420.60 L473.01,420.65 L473.24,420.70 L473.46,420.75 L473.68,420.80 L473.91,420.85 L474.13,420.90 L474.35,420.95 L474.58,421.00 L474.80,421.05 L475.02,421.11 L475.25,421.16 L475.47,421.21 L475.69,421.26 L475.92,421.32 L476.14,421.37 L476.36,421.43 L476.59,421.48 L476.81,421.54 L477.03,421.59 L477.26,421.65 L477.48,421.70 L477.70,421.76 L477.93,421.81 L478.15,421.87 L478.37,421.93 L478.60,421.98 L478.82,422.04 L479.04,422.10 L479.27,422.15 L479.49,422.21 L479.71,422.27 L479.94,422.33 L480.16,422.39 L480.38,422.44 L480.61,422.50 L480.83,422.56 L481.06,422.62 L481.28,422.68 L481.50,422.74 L481.73,422.80 L481.95,422.85 L482.17,422.91 L482.40,422.97 L482.62,423.03 L482.84,423.09 L483.07,423.15 L483.29,423.21 L483.51,423.27 L483.74,423.33 L483.96,423.39 L484.18,423.45 L484.41,423.51 L484.63,423.57 L484.85,423.62 L485.08,423.68 L485.30,423.74 L485.52,423.80 L485.75,423.86 L485.97,423.92 L486.19,423.98 L486.42,424.04 L486.64,424.09 L486.86,424.15 L487.09,424.21 L487.31,424.27 L487.53,424.32 L487.76,424.38 L487.98,424.44 L488.20,424.50 L488.43,424.55 L488.65,424.61 L488.87,424.66 L489.10,424.72 L489.32,424.77 L489.54,424.83 L489.77,424.88 L489.99,424.94 L490.21,424.99 L490.44,425.05 L490.66,425.10 L490.89,425.15 L491.11,425.21 L491.33,425.26 L491.56,425.31 L491.78,425.37 L492.00,425.42 L492.23,425.47 L492.45,425.53 L492.67,425.58 L492.90,425.64 L493.12,425.69 L493.34,425.75 L493.57,425.81 L493.79,425.87 L494.01,425.93 L494.24,426.00 L494.46,426.07 L494.68,426.14 L494.91,426.21 L495.13,426.30 L495.35,426.38 L495.58,426.47 L495.80,426.57 L496.02,426.68 L496.25,426.79 L496.47,426.91 L496.69,427.05 L496.92,427.19 L497.14,427.34 L497.36,427.50 L497.59,427.68 L497.81,427.86 L498.03,428.06 L498.26,428.26 L498.48,428.48 L498.70,428.71 L498.93,428.95 L499.15,429.20 L499.37,429.45 L499.60,429.71 L499.82,429.98 L500.05,430.25 L500.27,430.52 L500.49,430.79 L500.72,431.06 L500.94,431.32 L501.16,431.58 L501.39,431.82 L501.61,432.05 L501.83,432.27 L502.06,432.46 L502.28,432.64 L502.50,432.80 L502.73,432.93 L502.95,433.04 L503.17,433.12 L503.40,433.17 L503.62,433.19 L503.84,433.19 L504.07,433.16 L504.29,433.10 L504.51,433.02 L504.74,432.91 L504.96,432.77 L505.18,432.62 L505.41,432.44 L505.63,432.25 L505.85,432.04 L506.08,431.82 L506.30,431.59 L506.52,431.34 L506.75,431.10 L506.97,430.85 L507.19,430.60 L507.42,430.35 L507.64,430.11 L507.86,429.87 L508.09,429.63 L508.31,429.41 L508.53,429.19 L508.76,428.98 L508.98,428.79 L509.20,428.60 L509.43,428.43 L509.65,428.26 L509.88,428.11 L510.10,427.97 L510.32,427.84 L510.55,427.72 L510.77,427.61 L510.99,427.51 L511.22,427.42 L511.44,427.33 L511.66,427.26 L511.89,427.19 L512.11,427.12 L512.33,427.06 L512.56,427.01 L512.78,426.96 L513.00,426.91 L513.23,426.87 L513.45,426.83 L513.67,426.79 L513.90,426.75 L514.12,426.72 L514.34,426.68 L514.57,426.65 L514.79,426.61 L515.01,426.58 L515.24,426.55 L515.46,426.52 L515.68,426.49 L515.91,426.46 L516.13,426.43 L516.35,426.39 L516.58,426.36 L516.80,426.33 L517.02,426.30 L517.25,426.27 L517.47,426.23 L517.69,426.20 L517.92,426.17 L518.14,426.13 L518.36,426.10 L518.59,426.07 L518.81,426.03 L519.03,426.00 L519.26,425.96 L519.48,425.93 L519.70,425.89 L519.93,425.86 L520.15,425.82 L520.38,425.78 L520.60,425.75 L520.82,425.71 L521.05,425.67 L521.27,425.64 L521.49,425.60 L521.72,425.56 L521.94,425.53 L522.16,425.49 L522.39,425.45 L522.61,425.41 L522.83,425.38 L523.06,425.34 L523.28,425.30 L523.50,425.26 L523.73,425.23 L523.95,425.19 L524.17,425.15 L524.40,425.11 L524.62,425.08 L524.84,425.04 L525.07,425.00 L525.29,424.96 L525.51,424.93 L525.74,424.89 L525.96,424.85 L526.18,424.82 L526.41,424.78 L526.63,424.74 L526.85,424.71 L527.08,424.67 L527.30,424.63 L527.52,424.60 L527.75,424.56 L527.97,424.52 L528.19,424.49 L528.42,424.45 L528.64,424.42 L528.86,424.38 L529.09,424.35 L529.31,424.31 L529.53,424.28 L529.76,424.25 L529.98,424.21 L530.21,424.18 L530.43,424.15 L530.65,424.11 L530.88,424.08 L531.10,424.05 L531.32,424.02 L531.55,423.98 L531.77,423.95 L531.99,423.92 L532.22,423.89 L532.44,423.86 L532.66,423.83 L532.89,423.80 L533.11,423.77 L533.33,423.74 L533.56,423.72 L533.78,423.69 L534.00,423.66 L534.23,423.63 L534.45,423.61 L534.67,423.58 L534.90,423.56 L535.12,423.54 L535.34,423.51 L535.57,423.49 L535.79,423.48 L536.01,423.46 L536.24,423.44 L536.46,423.43 L536.68,423.42 L536.91,423.42 L537.13,423.42 L537.35,423.42 L537.58,423.43 L537.80,423.44 L538.02,423.46 L538.25,423.49 L538.47,423.53 L538.69,423.58 L538.92,423.64 L539.14,423.71 L539.37,423.80 L539.59,423.90 L539.81,424.02 L540.04,424.15 L540.26,424.31 L540.48,424.49 L540.71,424.68 L540.93,424.91 L541.15,425.15 L541.38,425.42 L541.60,425.71 L541.82,426.03 L542.05,426.38 L542.27,426.75 L542.49,427.14 L542.72,427.56 L542.94,427.99 L543.16,428.44 L543.39,428.91 L543.61,429.39 L543.83,429.88 L544.06,430.38 L544.28,430.87 L544.50,431.36 L544.73,431.85 L544.95,432.31 L545.17,432.76 L545.40,433.18 L545.62,433.58 L545.84,433.94 L546.07,434.26 L546.29,434.54 L546.51,434.77 L546.74,434.95 L546.96,435.08 L547.18,435.16 L547.41,435.18 L547.63,435.15 L547.85,435.06 L548.08,434.92 L548.30,434.72 L548.52,434.48 L548.75,434.19 L548.97,433.85 L549.19,433.48 L549.42,433.08 L549.64,432.64 L549.87,432.18 L550.09,431.70 L550.31,431.21 L550.54,430.70 L550.76,430.20 L550.98,429.69 L551.21,429.19 L551.43,428.69 L551.65,428.21 L551.88,427.74 L552.10,427.29 L552.32,426.87 L552.55,426.46 L552.77,426.08 L552.99,425.72 L553.22,425.38 L553.44,425.08 L553.66,424.79 L553.89,424.53 L554.11,424.30 L554.33,424.09 L554.56,423.90 L554.78,423.73 L555.00,423.58 L555.23,423.44 L555.45,423.33 L555.67,423.23 L555.90,423.15 L556.12,423.08 L556.34,423.02 L556.57,422.97 L556.79,422.94 L557.01,422.92 L557.24,422.90 L557.46,422.90 L557.68,422.91 L557.91,422.93 L558.13,422.96 L558.35,423.00 L558.58,423.06 L558.80,423.13 L559.02,423.22 L559.25,423.32 L559.47,423.45 L559.70,423.60 L559.92,423.78 L560.14,423.99 L560.37,424.23 L560.59,424.51 L560.81,424.83 L561.04,425.20 L561.26,425.61 L561.48,426.08 L561.71,426.61 L561.93,427.19 L562.15,427.84 L562.38,428.56 L562.60,429.35 L562.82,430.21 L563.05,431.15 L563.27,432.16 L563.49,433.24 L563.72,434.40 L563.94,435.63 L564.16,436.92 L564.39,438.27 L564.61,439.68 L564.83,441.13 L565.06,442.61 L565.28,444.12 L565.50,445.65 L565.73,447.17 L565.95,448.68 L566.17,450.17 L566.40,451.60 L566.62,452.98 L566.84,454.29 L567.07,455.50 L567.29,456.62 L567.51,457.61 L567.74,458.48 L567.96,459.20 L568.18,459.78 L568.41,460.20 L568.63,460.46 L568.86,460.55 L569.08,460.48 L569.30,460.23 L569.53,459.83 L569.75,459.27 L569.97,458.56 L570.20,457.71 L570.42,456.74 L570.64,455.64 L570.87,454.44 L571.09,453.15 L571.31,451.79 L571.54,450.37 L571.76,448.90 L571.98,447.41 L572.21,445.90 L572.43,444.40 L572.65,442.90 L572.88,441.43 L573.10,440.00 L573.32,438.61 L573.55,437.27 L573.77,436.00 L573.99,434.79 L574.22,433.65 L574.44,432.58 L574.66,431.58 L574.89,430.66 L575.11,429.82 L575.33,429.04 L575.56,428.34 L575.78,427.71 L576.00,427.14 L576.23,426.63 L576.45,426.17 L576.67,425.77 L576.90,425.42 L577.12,425.12 L577.34,424.85 L577.57,424.62 L577.79,424.42 L578.01,424.26 L578.24,424.12 L578.46,424.00 L578.68,423.90 L578.91,423.82 L579.13,423.75 L579.36,423.69 L579.58,423.65 L579.80,423.62 L580.03,423.59 L580.25,423.57 L580.47,423.56 L580.70,423.55 L580.92,423.54 L581.14,423.54 L581.37,423.54 L581.59,423.54 L581.81,423.54 L582.04,423.55 L582.26,423.55 L582.48,423.56 L582.71,423.57 L582.93,423.57 L583.15,423.58 L583.38,423.59 L583.60,423.60 L583.82,423.61 L584.05,423.62 L584.27,423.63 L584.49,423.64 L584.72,423.65 L584.94,423.65 L585.16,423.66 L585.39,423.67 L585.61,423.68 L585.83,423.69 L586.06,423.70 L586.28,423.71 L586.50,423.72 L586.73,423.73 L586.95,423.74 L587.17,423.75 L587.40,423.76 L587.62,423.77 L587.84,423.78 L588.07,423.79 L588.29,423.80 L588.51,423.81 L588.74,423.82 L588.96,423.83 L589.19,423.83 L589.41,423.84 L589.63,423.85 L589.86,423.86 L590.08,423.87 L590.30,423.88 L590.53,423.89 L590.75,423.90 L590.97,423.91 L591.20,423.92 L591.42,423.93 L591.64,423.94 L591.87,423.95 L592.09,423.96 L592.31,423.97 L592.54,423.98 L592.76,423.99 L592.98,424.00 L593.21,424.01 L593.43,424.02 L593.65,424.02 L593.88,424.03 L594.10,424.04 L594.32,424.05 L594.55,424.06 L594.77,424.07 L594.99,424.08 L595.22,424.09 L595.44,424.10 L595.66,424.11 L595.89,424.12 L596.11,424.13 L596.33,424.14 L596.56,424.15 L596.78,424.16 L597.00,424.17 L597.23,424.18 L597.45,424.19 L597.67,424.19 L597.90,424.20 L598.12,424.21 L598.35,424.22 L598.57,424.23 L598.79,424.24 L599.02,424.25 L599.24,424.26 L599.46,424.27 L599.69,424.28 L599.91,424.29 L600.13,424.30 L600.36,424.31 L600.58,424.32 L600.80,424.33 L601.03,424.34 L601.25,424.34 L601.47,424.35 L601.70,424.36 L601.92,424.37 L602.14,424.38 L602.37,424.39 L602.59,424.40 L602.81,424.41 L603.04,424.42 L603.26,424.43 L603.48,424.44 L603.71,424.45 L603.93,424.46 L604.15,424.47 L604.38,424.48 L604.60,424.48 L604.82,424.49 L605.05,424.50 L605.27,424.51 L605.49,424.52 L605.72,424.53 L605.94,424.54 L606.16,424.55 L606.39,424.56 L606.61,424.57 L606.83,424.58 L607.06,424.59 L607.28,424.60 L607.50,424.61 L607.73,424.61 L607.95,424.62 L608.17,424.63 L608.40,424.64 L608.62,424.65 L608.85,424.66 L609.07,424.67 L609.29,424.68 L609.52,424.69 L609.74,424.70 L609.96,424.71 L610.19,424.72 L610.41,424.73 L610.63,424.74 L610.86,424.74 L611.08,424.75 L611.30,424.76 L611.53,424.77 L611.75,424.78 L611.97,424.79 L612.20,424.80 L612.42,424.81 L612.64,424.82 L612.87,424.83 L613.09,424.84 L613.31,424.85 L613.54,424.86 L613.76,424.86 L613.98,424.87 L614.21,424.88 L614.43,424.89 L614.65,424.90 L614.88,424.91 L615.10,424.92 L615.32,424.93 L615.55,424.94 L615.77,424.95 L615.99,424.96 L616.22,424.97 L616.44,424.97 L616.66,424.98 L616.89,424.99 L617.11,425.00 L617.33,425.01 L617.56,425.02 L617.78,425.03 L618.00,425.04 L618.23,425.05 L618.45,425.06 L618.68,425.07 L618.90,425.07 L619.12,425.08 L619.35,425.09 L619.57,425.10 L619.79,425.11 L620.02,425.12 L620.24,425.13 L620.46,425.14 L620.69,425.15 L620.91,425.16 L621.13,425.17 L621.36,425.18 L621.58,425.18 L621.80,425.19 L622.03,425.20 L622.25,425.21 L622.47,425.22 L622.70,425.23 L622.92,425.24 L623.14,425.25 L623.37,425.26 L623.59,425.27 L623.81,425.27 L624.04,425.28 L624.26,425.29 L624.48,425.30 L624.71,425.31 L624.93,425.32 L625.15,425.33 L625.38,425.34 L625.60,425.35 L625.82,425.36 L626.05,425.37 L626.27,425.37 L626.49,425.38 L626.72,425.39 L626.94,425.40 L627.16,425.41 L627.39,425.42 L627.61,425.43 L627.84,425.44 L628.06,425.45 L628.28,425.46 L628.51,425.46 L628.73,425.47 L628.95,425.48 L629.18,425.49 L629.40,425.50 L629.62,425.51 L629.85,425.52 L630.07,425.53 L630.29,425.54 L630.52,425.55 L630.74,425.55 L630.96,425.56 L631.19,425.57 L631.41,425.58 L631.63,425.59 L631.86,425.60 L632.08,425.61 L632.30,425.62 L632.53,425.63 L632.75,425.63 L632.97,425.64 L633.20,425.65 L633.42,425.66 L633.64,425.67 L633.87,425.68 L634.09,425.69 L634.31,425.70 L634.54,425.71 L634.76,425.72 L634.98,425.72 L635.21,425.73 L635.43,425.74 L635.65,425.75 L635.88,425.76 L636.10,425.77 L636.32,425.78 L636.55,425.79 L636.77,425.80 L636.99,425.80 L637.22,425.81 L637.44,425.82 L637.66,425.83 L637.89,425.84 L638.11,425.85 L638.34,425.86 L638.56,425.87 L638.78,425.88 L639.01,425.88 L639.23,425.89 L639.45,425.90 L639.68,425.91 L639.90,425.92 L640.12,425.93 L640.35,425.94 L640.57,425.95 L640.79,425.95 L641.02,425.96 L641.24,425.97 L641.46,425.98 L641.69,425.99 L641.91,426.00 L642.13,426.01 L642.36,426.02 L642.58,426.03 L642.80,426.03 L643.03,426.04 L643.25,426.05 L643.47,426.06 L643.70,426.07 L643.92,426.08 L644.14,426.09 L644.37,426.10 L644.59,426.10 L644.81,426.11 L645.04,426.12 L645.26,426.13 L645.48,426.14 L645.71,426.15 L645.93,426.16 L646.15,426.17 L646.38,426.17 L646.60,426.18 L646.82,426.19 L647.05,426.20 L647.27,426.21 L647.49,426.22 L647.72,426.23 L647.94,426.24 L648.17,426.24 L648.39,426.25 L648.61,426.26 L648.84,426.27 L649.06,426.28 L649.28,426.29 L649.51,426.30 L649.73,426.31 L649.95,426.31 L650.18,426.32 L650.40,426.33 L650.62,426.34 L650.85,426.35 L651.07,426.36 L651.29,426.37 L651.52,426.38 L651.74,426.38 L651.96,426.39 L652.19,426.40 L652.41,426.41 L652.63,426.42 L652.86,426.43 L653.08,426.44 L653.30,426.44 L653.53,426.45 L653.75,426.46 L653.97,426.47 L654.20,426.48 L654.42,426.49 L654.64,426.50 L654.87,426.51 L655.09,426.51 L655.31,426.52 L655.54,426.53 L655.76,426.54 L655.98,426.55 L656.21,426.56 L656.43,426.57 L656.65,426.57 L656.88,426.58 L657.10,426.59 L657.33,426.60 L657.55,426.61 L657.77,426.62 L658.00,426.63 L658.22,426.63 L658.44,426.64 L658.67,426.65 L658.89,426.66 L659.11,426.67 L659.34,426.68 L659.56,426.69 L659.78,426.70 L660.01,426.70 L660.23,426.71 L660.45,426.72 L660.68,426.73 L660.90,426.74 L661.12,426.75 L661.35,426.76 L661.57,426.76 L661.79,426.77 L662.02,426.78 L662.24,426.79 L662.46,426.80 L662.69,426.81 L662.91,426.82 L663.13,426.82 L663.36,426.83 L663.58,426.84 L663.80,426.85 L664.03,426.86 L664.25,426.87 L664.47,426.87 L664.70,426.88 L664.92,426.89 L665.14,426.90 L665.37,426.91 L665.59,426.92 L665.81,426.93 L666.04,426.93 L666.26,426.94 L666.48,426.95 L666.71,426.96 L666.93,426.97 L667.15,426.98 L667.38,426.99 L667.60,426.99 L667.83,427.00 L668.05,427.01 L668.27,427.02 L668.50,427.03 L668.72,427.04 L668.94,427.04 L669.17,427.05 L669.39,427.06 L669.61,427.07 L669.84,427.08 L670.06,427.09 L670.28,427.10 L670.51,427.10 L670.73,427.11 L670.95,427.12 L671.18,427.13 L671.40,427.14 L671.62,427.15 L671.85,427.15 L672.07,427.16 L672.29,427.17 L672.52,427.18 L672.74,427.19 L672.96,427.20 L673.19,427.21 L673.41,427.21 L673.63,427.22 L673.86,427.23 L674.08,427.24 L674.30,427.25 L674.53,427.26 L674.75,427.26 L674.97,427.27 L675.20,427.28 L675.42,427.29 L675.64,427.30 L675.87,427.31 L676.09,427.31 L676.31,427.32 L676.54,427.33 L676.76,427.34 L676.98,427.35 L677.21,427.36 L677.43,427.36 L677.66,427.37 L677.88,427.38 L678.10,427.39 L678.33,427.40 L678.55,427.41 L678.77,427.42 L679.00,427.42 L679.22,427.43 L679.44,427.44 L679.67,427.45 L679.89,427.46 L680.11,427.47 L680.34,427.47 L680.56,427.48 L680.78,427.49 L681.01,427.50 L681.23,427.51 L681.45,427.52 L681.68,427.52 L681.90,427.53" fill="none" stroke="#f26b3f" stroke-width="1.5" stroke-linejoin="round" clip-path="url(#cd)"/>
<path d="M387.00,415.86 L387.22,415.87 L387.45,415.87 L387.67,415.88 L387.89,415.89 L388.12,415.90 L388.34,415.91 L388.56,415.91 L388.79,415.92 L389.01,415.93 L389.23,415.94 L389.46,415.95 L389.68,415.95 L389.90,415.96 L390.13,415.97 L390.35,415.98 L390.57,415.99 L390.80,415.99 L391.02,416.00 L391.24,416.01 L391.47,416.02 L391.69,416.03 L391.92,416.03 L392.14,416.04 L392.36,416.05 L392.59,416.06 L392.81,416.07 L393.03,416.07 L393.26,416.08 L393.48,416.09 L393.70,416.10 L393.93,416.11 L394.15,416.11 L394.37,416.12 L394.60,416.13 L394.82,416.14 L395.04,416.14 L395.27,416.15 L395.49,416.16 L395.71,416.17 L395.94,416.18 L396.16,416.18 L396.38,416.19 L396.61,416.20 L396.83,416.21 L397.05,416.22 L397.28,416.22 L397.50,416.23 L397.72,416.24 L397.95,416.25 L398.17,416.26 L398.39,416.26 L398.62,416.27 L398.84,416.28 L399.06,416.29 L399.29,416.30 L399.51,416.30 L399.73,416.31 L399.96,416.32 L400.18,416.33 L400.40,416.33 L400.63,416.34 L400.85,416.35 L401.07,416.36 L401.30,416.37 L401.52,416.37 L401.75,416.38 L401.97,416.39 L402.19,416.40 L402.42,416.41 L402.64,416.41 L402.86,416.42 L403.09,416.43 L403.31,416.44 L403.53,416.44 L403.76,416.45 L403.98,416.46 L404.20,416.47 L404.43,416.48 L404.65,416.48 L404.87,416.49 L405.10,416.50 L405.32,416.51 L405.54,416.52 L405.77,416.52 L405.99,416.53 L406.21,416.54 L406.44,416.55 L406.66,416.55 L406.88,416.56 L407.11,416.57 L407.33,416.58 L407.55,416.59 L407.78,416.59 L408.00,416.60 L408.22,416.61 L408.45,416.62 L408.67,416.62 L408.89,416.63 L409.12,416.64 L409.34,416.65 L409.56,416.66 L409.79,416.66 L410.01,416.67 L410.23,416.68 L410.46,416.69 L410.68,416.69 L410.90,416.70 L411.13,416.71 L411.35,416.72 L411.57,416.72 L411.80,416.73 L412.02,416.74 L412.25,416.75 L412.47,416.76 L412.69,416.76 L412.92,416.77 L413.14,416.78 L413.36,416.79 L413.59,416.79 L413.81,416.80 L414.03,416.81 L414.26,416.82 L414.48,416.82 L414.70,416.83 L414.93,416.84 L415.15,416.85 L415.37,416.85 L415.60,416.86 L415.82,416.87 L416.04,416.88 L416.27,416.88 L416.49,416.89 L416.71,416.90 L416.94,416.91 L417.16,416.91 L417.38,416.92 L417.61,416.93 L417.83,416.94 L418.05,416.94 L418.28,416.95 L418.50,416.96 L418.72,416.97 L418.95,416.97 L419.17,416.98 L419.39,416.99 L419.62,417.00 L419.84,417.00 L420.06,417.01 L420.29,417.02 L420.51,417.03 L420.73,417.03 L420.96,417.04 L421.18,417.05 L421.40,417.05 L421.63,417.06 L421.85,417.07 L422.08,417.08 L422.30,417.08 L422.52,417.09 L422.75,417.10 L422.97,417.10 L423.19,417.11 L423.42,417.12 L423.64,417.13 L423.86,417.13 L424.09,417.14 L424.31,417.15 L424.53,417.15 L424.76,417.16 L424.98,417.17 L425.20,417.17 L425.43,417.18 L425.65,417.19 L425.87,417.19 L426.10,417.20 L426.32,417.21 L426.54,417.21 L426.77,417.22 L426.99,417.22 L427.21,417.23 L427.44,417.24 L427.66,417.24 L427.88,417.25 L428.11,417.26 L428.33,417.26 L428.55,417.27 L428.78,417.27 L429.00,417.28 L429.22,417.29 L429.45,417.29 L429.67,417.30 L429.89,417.30 L430.12,417.31 L430.34,417.31 L430.56,417.32 L430.79,417.32 L431.01,417.33 L431.24,417.33 L431.46,417.34 L431.68,417.34 L431.91,417.35 L432.13,417.35 L432.35,417.36 L432.58,417.36 L432.80,417.36 L433.02,417.37 L433.25,417.37 L433.47,417.38 L433.69,417.38 L433.92,417.38 L434.14,417.39 L434.36,417.39 L434.59,417.39 L434.81,417.40 L435.03,417.40 L435.26,417.40 L435.48,417.40 L435.70,417.41 L435.93,417.41 L436.15,417.41 L436.37,417.41 L436.60,417.41 L436.82,417.41 L437.04,417.41 L437.27,417.42 L437.49,417.42 L437.71,417.42 L437.94,417.42 L438.16,417.42 L438.38,417.42 L438.61,417.42 L438.83,417.41 L439.05,417.41 L439.28,417.41 L439.50,417.41 L439.72,417.41 L439.95,417.40 L440.17,417.40 L440.39,417.40 L440.62,417.40 L440.84,417.39 L441.06,417.39 L441.29,417.38 L441.51,417.38 L441.74,417.37 L441.96,417.37 L442.18,417.36 L442.41,417.35 L442.63,417.35 L442.85,417.34 L443.08,417.33 L443.30,417.32 L443.52,417.32 L443.75,417.31 L443.97,417.30 L444.19,417.29 L444.42,417.27 L444.64,417.26 L444.86,417.25 L445.09,417.24 L445.31,417.23 L445.53,417.21 L445.76,417.20 L445.98,417.18 L446.20,417.17 L446.43,417.15 L446.65,417.14 L446.87,417.12 L447.10,417.10 L447.32,417.08 L447.54,417.06 L447.77,417.04 L447.99,417.02 L448.21,417.00 L448.44,416.97 L448.66,416.95 L448.88,416.93 L449.11,416.90 L449.33,416.88 L449.55,416.85 L449.78,416.82 L450.00,416.79 L450.22,416.76 L450.45,416.73 L450.67,416.70 L450.89,416.67 L451.12,416.64 L451.34,416.60 L451.57,416.56 L451.79,416.53 L452.01,416.49 L452.24,416.45 L452.46,416.41 L452.68,416.37 L452.91,416.33 L453.13,416.28 L453.35,416.24 L453.58,416.19 L453.80,416.15 L454.02,416.10 L454.25,416.05 L454.47,416.00 L454.69,415.95 L454.92,415.89 L455.14,415.84 L455.36,415.78 L455.59,415.72 L455.81,415.66 L456.03,415.60 L456.26,415.54 L456.48,415.48 L456.70,415.41 L456.93,415.34 L457.15,415.27 L457.37,415.20 L457.60,415.13 L457.82,415.06 L458.04,414.98 L458.27,414.91 L458.49,414.83 L458.71,414.75 L458.94,414.67 L459.16,414.58 L459.38,414.50 L459.61,414.41 L459.83,414.32 L460.05,414.23 L460.28,414.14 L460.50,414.04 L460.73,413.95 L460.95,413.85 L461.17,413.75 L461.40,413.64 L461.62,413.54 L461.84,413.43 L462.07,413.32 L462.29,413.21 L462.51,413.10 L462.74,412.98 L462.96,412.87 L463.18,412.75 L463.41,412.63 L463.63,412.50 L463.85,412.38 L464.08,412.25 L464.30,412.12 L464.52,411.99 L464.75,411.85 L464.97,411.72 L465.19,411.58 L465.42,411.44 L465.64,411.29 L465.86,411.15 L466.09,411.00 L466.31,410.85 L466.53,410.69 L466.76,410.54 L466.98,410.38 L467.20,410.22 L467.43,410.06 L467.65,409.90 L467.87,409.73 L468.10,409.56 L468.32,409.39 L468.54,409.21 L468.77,409.04 L468.99,408.86 L469.21,408.68 L469.44,408.49 L469.66,408.31 L469.88,408.12 L470.11,407.93 L470.33,407.73 L470.56,407.54 L470.78,407.34 L471.00,407.14 L471.23,406.94 L471.45,406.73 L471.67,406.53 L471.90,406.32 L472.12,406.11 L472.34,405.89 L472.57,405.68 L472.79,405.46 L473.01,405.24 L473.24,405.01 L473.46,404.79 L473.68,404.56 L473.91,404.33 L474.13,404.10 L474.35,403.87 L474.58,403.63 L474.80,403.39 L475.02,403.15 L475.25,402.91 L475.47,402.67 L475.69,402.42 L475.92,402.18 L476.14,401.93 L476.36,401.68 L476.59,401.42 L476.81,401.17 L477.03,400.91 L477.26,400.65 L477.48,400.40 L477.70,400.13 L477.93,399.87 L478.15,399.61 L478.37,399.34 L478.60,399.07 L478.82,398.81 L479.04,398.54 L479.27,398.27 L479.49,397.99 L479.71,397.72 L479.94,397.45 L480.16,397.17 L480.38,396.89 L480.61,396.62 L480.83,396.34 L481.06,396.06 L481.28,395.78 L481.50,395.50 L481.73,395.22 L481.95,394.94 L482.17,394.66 L482.40,394.37 L482.62,394.09 L482.84,393.81 L483.07,393.52 L483.29,393.24 L483.51,392.96 L483.74,392.67 L483.96,392.39 L484.18,392.11 L484.41,391.82 L484.63,391.54 L484.85,391.26 L485.08,390.98 L485.30,390.70 L485.52,390.41 L485.75,390.13 L485.97,389.86 L486.19,389.58 L486.42,389.30 L486.64,389.02 L486.86,388.75 L487.09,388.47 L487.31,388.20 L487.53,387.93 L487.76,387.66 L487.98,387.39 L488.20,387.12 L488.43,386.85 L488.65,386.59 L488.87,386.33 L489.10,386.07 L489.32,385.81 L489.54,385.55 L489.77,385.29 L489.99,385.04 L490.21,384.79 L490.44,384.54 L490.66,384.29 L490.89,384.05 L491.11,383.80 L491.33,383.56 L491.56,383.32 L491.78,383.08 L492.00,382.85 L492.23,382.61 L492.45,382.37 L492.67,382.14 L492.90,381.90 L493.12,381.66 L493.34,381.43 L493.57,381.18 L493.79,380.94 L494.01,380.69 L494.24,380.44 L494.46,380.18 L494.68,379.91 L494.91,379.63 L495.13,379.34 L495.35,379.04 L495.58,378.72 L495.80,378.39 L496.02,378.03 L496.25,377.66 L496.47,377.27 L496.69,376.85 L496.92,376.41 L497.14,375.94 L497.36,375.45 L497.59,374.92 L497.81,374.37 L498.03,373.78 L498.26,373.17 L498.48,372.53 L498.70,371.86 L498.93,371.16 L499.15,370.45 L499.37,369.71 L499.60,368.96 L499.82,368.20 L500.05,367.43 L500.27,366.65 L500.49,365.89 L500.72,365.14 L500.94,364.40 L501.16,363.69 L501.39,363.01 L501.61,362.37 L501.83,361.78 L502.06,361.24 L502.28,360.76 L502.50,360.34 L502.73,360.00 L502.95,359.72 L503.17,359.53 L503.40,359.41 L503.62,359.38 L503.84,359.43 L504.07,359.56 L504.29,359.76 L504.51,360.05 L504.74,360.41 L504.96,360.84 L505.18,361.34 L505.41,361.89 L505.63,362.50 L505.85,363.15 L506.08,363.84 L506.30,364.56 L506.52,365.31 L506.75,366.08 L506.97,366.86 L507.19,367.64 L507.42,368.43 L507.64,369.20 L507.86,369.97 L508.09,370.72 L508.31,371.45 L508.53,372.16 L508.76,372.84 L508.98,373.49 L509.20,374.12 L509.43,374.72 L509.65,375.29 L509.88,375.83 L510.10,376.34 L510.32,376.82 L510.55,377.27 L510.77,377.71 L510.99,378.11 L511.22,378.50 L511.44,378.86 L511.66,379.21 L511.89,379.54 L512.11,379.86 L512.33,380.16 L512.56,380.45 L512.78,380.73 L513.00,381.01 L513.23,381.28 L513.45,381.54 L513.67,381.80 L513.90,382.05 L514.12,382.30 L514.34,382.56 L514.57,382.81 L514.79,383.05 L515.01,383.30 L515.24,383.55 L515.46,383.81 L515.68,384.06 L515.91,384.31 L516.13,384.57 L516.35,384.82 L516.58,385.08 L516.80,385.34 L517.02,385.61 L517.25,385.87 L517.47,386.14 L517.69,386.41 L517.92,386.68 L518.14,386.95 L518.36,387.23 L518.59,387.50 L518.81,387.78 L519.03,388.06 L519.26,388.34 L519.48,388.62 L519.70,388.91 L519.93,389.19 L520.15,389.48 L520.38,389.77 L520.60,390.06 L520.82,390.35 L521.05,390.64 L521.27,390.93 L521.49,391.22 L521.72,391.52 L521.94,391.81 L522.16,392.11 L522.39,392.40 L522.61,392.70 L522.83,393.00 L523.06,393.29 L523.28,393.59 L523.50,393.89 L523.73,394.18 L523.95,394.48 L524.17,394.78 L524.40,395.07 L524.62,395.37 L524.84,395.67 L525.07,395.96 L525.29,396.26 L525.51,396.55 L525.74,396.85 L525.96,397.14 L526.18,397.44 L526.41,397.73 L526.63,398.02 L526.85,398.31 L527.08,398.60 L527.30,398.89 L527.52,399.18 L527.75,399.47 L527.97,399.75 L528.19,400.04 L528.42,400.32 L528.64,400.60 L528.86,400.88 L529.09,401.16 L529.31,401.44 L529.53,401.71 L529.76,401.99 L529.98,402.26 L530.21,402.53 L530.43,402.80 L530.65,403.07 L530.88,403.34 L531.10,403.60 L531.32,403.87 L531.55,404.13 L531.77,404.39 L531.99,404.64 L532.22,404.90 L532.44,405.15 L532.66,405.40 L532.89,405.65 L533.11,405.90 L533.33,406.14 L533.56,406.38 L533.78,406.62 L534.00,406.86 L534.23,407.09 L534.45,407.32 L534.67,407.54 L534.90,407.77 L535.12,407.99 L535.34,408.20 L535.57,408.41 L535.79,408.61 L536.01,408.81 L536.24,409.00 L536.46,409.18 L536.68,409.35 L536.91,409.51 L537.13,409.65 L537.35,409.79 L537.58,409.90 L537.80,410.00 L538.02,410.08 L538.25,410.13 L538.47,410.16 L538.69,410.15 L538.92,410.12 L539.14,410.04 L539.37,409.93 L539.59,409.77 L539.81,409.57 L540.04,409.31 L540.26,408.99 L540.48,408.62 L540.71,408.19 L540.93,407.68 L541.15,407.11 L541.38,406.47 L541.60,405.76 L541.82,404.97 L542.05,404.12 L542.27,403.19 L542.49,402.20 L542.72,401.14 L542.94,400.02 L543.16,398.85 L543.39,397.64 L543.61,396.39 L543.83,395.12 L544.06,393.83 L544.28,392.54 L544.50,391.26 L544.73,390.00 L544.95,388.78 L545.17,387.62 L545.40,386.53 L545.62,385.51 L545.84,384.59 L546.07,383.78 L546.29,383.09 L546.51,382.53 L546.74,382.11 L546.96,381.83 L547.18,381.70 L547.41,381.73 L547.63,381.91 L547.85,382.24 L548.08,382.73 L548.30,383.36 L548.52,384.13 L548.75,385.03 L548.97,386.05 L549.19,387.18 L549.42,388.40 L549.64,389.70 L549.87,391.08 L550.09,392.50 L550.31,393.97 L550.54,395.46 L550.76,396.96 L550.98,398.46 L551.21,399.95 L551.43,401.42 L551.65,402.84 L551.88,404.23 L552.10,405.56 L552.32,406.83 L552.55,408.05 L552.77,409.19 L552.99,410.27 L553.22,411.27 L553.44,412.21 L553.66,413.07 L553.89,413.86 L554.11,414.59 L554.33,415.25 L554.56,415.85 L554.78,416.38 L555.00,416.87 L555.23,417.30 L555.45,417.68 L555.67,418.01 L555.90,418.31 L556.12,418.56 L556.34,418.78 L556.57,418.96 L556.79,419.12 L557.01,419.24 L557.24,419.33 L557.46,419.39 L557.68,419.42 L557.91,419.42 L558.13,419.39 L558.35,419.32 L558.58,419.21 L558.80,419.06 L559.02,418.86 L559.25,418.61 L559.47,418.30 L559.70,417.92 L559.92,417.46 L560.14,416.92 L560.37,416.29 L560.59,415.55 L560.81,414.69 L561.04,413.71 L561.26,412.59 L561.48,411.32 L561.71,409.89 L561.93,408.28 L562.15,406.49 L562.38,404.51 L562.60,402.34 L562.82,399.95 L563.05,397.36 L563.27,394.56 L563.49,391.55 L563.72,388.33 L563.94,384.92 L564.16,381.32 L564.39,377.56 L564.61,373.64 L564.83,369.60 L565.06,365.45 L565.28,361.24 L565.50,356.98 L565.73,352.73 L565.95,348.52 L566.17,344.39 L566.40,340.37 L566.62,336.53 L566.84,332.89 L567.07,329.51 L567.29,326.41 L567.51,323.65 L567.74,321.25 L567.96,319.24 L568.18,317.66 L568.41,316.51 L568.63,315.83 L568.86,315.61 L569.08,315.86 L569.30,316.57 L569.53,317.74 L569.75,319.36 L569.97,321.39 L570.20,323.82 L570.42,326.61 L570.64,329.74 L570.87,333.15 L571.09,336.82 L571.31,340.69 L571.54,344.73 L571.76,348.90 L571.98,353.14 L572.21,357.42 L572.43,361.70 L572.65,365.95 L572.88,370.13 L573.10,374.20 L573.32,378.15 L573.55,381.95 L573.77,385.58 L573.99,389.02 L574.22,392.27 L574.44,395.31 L574.66,398.15 L574.89,400.77 L575.11,403.19 L575.33,405.41 L575.56,407.42 L575.78,409.25 L576.00,410.89 L576.23,412.36 L576.45,413.67 L576.67,414.83 L576.90,415.85 L577.12,416.75 L577.34,417.53 L577.57,418.21 L577.79,418.80 L578.01,419.31 L578.24,419.74 L578.46,420.11 L578.68,420.42 L578.91,420.69 L579.13,420.91 L579.36,421.10 L579.58,421.25 L579.80,421.38 L580.03,421.49 L580.25,421.58 L580.47,421.66 L580.70,421.72 L580.92,421.77 L581.14,421.81 L581.37,421.85 L581.59,421.88 L581.81,421.90 L582.04,421.92 L582.26,421.94 L582.48,421.95 L582.71,421.97 L582.93,421.98 L583.15,421.99 L583.38,422.00 L583.60,422.01 L583.82,422.02 L584.05,422.03 L584.27,422.03 L584.49,422.04 L584.72,422.05 L584.94,422.06 L585.16,422.06 L585.39,422.07 L585.61,422.08 L585.83,422.08 L586.06,422.09 L586.28,422.10 L586.50,422.10 L586.73,422.11 L586.95,422.12 L587.17,422.12 L587.40,422.13 L587.62,422.13 L587.84,422.14 L588.07,422.15 L588.29,422.15 L588.51,422.16 L588.74,422.17 L588.96,422.17 L589.19,422.18 L589.41,422.19 L589.63,422.19 L589.86,422.20 L590.08,422.20 L590.30,422.21 L590.53,422.22 L590.75,422.22 L590.97,422.23 L591.20,422.24 L591.42,422.24 L591.64,422.25 L591.87,422.25 L592.09,422.26 L592.31,422.27 L592.54,422.27 L592.76,422.28 L592.98,422.28 L593.21,422.29 L593.43,422.30 L593.65,422.30 L593.88,422.31 L594.10,422.32 L594.32,422.32 L594.55,422.33 L594.77,422.33 L594.99,422.34 L595.22,422.35 L595.44,422.35 L595.66,422.36 L595.89,422.36 L596.11,422.37 L596.33,422.38 L596.56,422.38 L596.78,422.39 L597.00,422.39 L597.23,422.40 L597.45,422.41 L597.67,422.41 L597.90,422.42 L598.12,422.42 L598.35,422.43 L598.57,422.44 L598.79,422.44 L599.02,422.45 L599.24,422.45 L599.46,422.46 L599.69,422.47 L599.91,422.47 L600.13,422.48 L600.36,422.48 L600.58,422.49 L600.80,422.50 L601.03,422.50 L601.25,422.51 L601.47,422.51 L601.70,422.52 L601.92,422.53 L602.14,422.53 L602.37,422.54 L602.59,422.54 L602.81,422.55 L603.04,422.56 L603.26,422.56 L603.48,422.57 L603.71,422.57 L603.93,422.58 L604.15,422.59 L604.38,422.59 L604.60,422.60 L604.82,422.60 L605.05,422.61 L605.27,422.62 L605.49,422.62 L605.72,422.63 L605.94,422.63 L606.16,422.64 L606.39,422.65 L606.61,422.65 L606.83,422.66 L607.06,422.66 L607.28,422.67 L607.50,422.68 L607.73,422.68 L607.95,422.69 L608.17,422.69 L608.40,422.70 L608.62,422.70 L608.85,422.71 L609.07,422.72 L609.29,422.72 L609.52,422.73 L609.74,422.73 L609.96,422.74 L610.19,422.75 L610.41,422.75 L610.63,422.76 L610.86,422.76 L611.08,422.77 L611.30,422.78 L611.53,422.78 L611.75,422.79 L611.97,422.79 L612.20,422.80 L612.42,422.81 L612.64,422.81 L612.87,422.82 L613.09,422.82 L613.31,422.83 L613.54,422.83 L613.76,422.84 L613.98,422.85 L614.21,422.85 L614.43,422.86 L614.65,422.86 L614.88,422.87 L615.10,422.88 L615.32,422.88 L615.55,422.89 L615.77,422.89 L615.99,422.90 L616.22,422.90 L616.44,422.91 L616.66,422.92 L616.89,422.92 L617.11,422.93 L617.33,422.93 L617.56,422.94 L617.78,422.95 L618.00,422.95 L618.23,422.96 L618.45,422.96 L618.68,422.97 L618.90,422.97 L619.12,422.98 L619.35,422.99 L619.57,422.99 L619.79,423.00 L620.02,423.00 L620.24,423.01 L620.46,423.02 L620.69,423.02 L620.91,423.03 L621.13,423.03 L621.36,423.04 L621.58,423.04 L621.80,423.05 L622.03,423.06 L622.25,423.06 L622.47,423.07 L622.70,423.07 L622.92,423.08 L623.14,423.09 L623.37,423.09 L623.59,423.10 L623.81,423.10 L624.04,423.11 L624.26,423.11 L624.48,423.12 L624.71,423.13 L624.93,423.13 L625.15,423.14 L625.38,423.14 L625.60,423.15 L625.82,423.15 L626.05,423.16 L626.27,423.17 L626.49,423.17 L626.72,423.18 L626.94,423.18 L627.16,423.19 L627.39,423.20 L627.61,423.20 L627.84,423.21 L628.06,423.21 L628.28,423.22 L628.51,423.22 L628.73,423.23 L628.95,423.24 L629.18,423.24 L629.40,423.25 L629.62,423.25 L629.85,423.26 L630.07,423.26 L630.29,423.27 L630.52,423.28 L630.74,423.28 L630.96,423.29 L631.19,423.29 L631.41,423.30 L631.63,423.30 L631.86,423.31 L632.08,423.32 L632.30,423.32 L632.53,423.33 L632.75,423.33 L632.97,423.34 L633.20,423.34 L633.42,423.35 L633.64,423.36 L633.87,423.36 L634.09,423.37 L634.31,423.37 L634.54,423.38 L634.76,423.38 L634.98,423.39 L635.21,423.40 L635.43,423.40 L635.65,423.41 L635.88,423.41 L636.10,423.42 L636.32,423.42 L636.55,423.43 L636.77,423.44 L636.99,423.44 L637.22,423.45 L637.44,423.45 L637.66,423.46 L637.89,423.46 L638.11,423.47 L638.34,423.48 L638.56,423.48 L638.78,423.49 L639.01,423.49 L639.23,423.50 L639.45,423.50 L639.68,423.51 L639.90,423.52 L640.12,423.52 L640.35,423.53 L640.57,423.53 L640.79,423.54 L641.02,423.54 L641.24,423.55 L641.46,423.56 L641.69,423.56 L641.91,423.57 L642.13,423.57 L642.36,423.58 L642.58,423.58 L642.80,423.59 L643.03,423.60 L643.25,423.60 L643.47,423.61 L643.70,423.61 L643.92,423.62 L644.14,423.62 L644.37,423.63 L644.59,423.63 L644.81,423.64 L645.04,423.65 L645.26,423.65 L645.48,423.66 L645.71,423.66 L645.93,423.67 L646.15,423.67 L646.38,423.68 L646.60,423.69 L646.82,423.69 L647.05,423.70 L647.27,423.70 L647.49,423.71 L647.72,423.71 L647.94,423.72 L648.17,423.72 L648.39,423.73 L648.61,423.74 L648.84,423.74 L649.06,423.75 L649.28,423.75 L649.51,423.76 L649.73,423.76 L649.95,423.77 L650.18,423.78 L650.40,423.78 L650.62,423.79 L650.85,423.79 L651.07,423.80 L651.29,423.80 L651.52,423.81 L651.74,423.81 L651.96,423.82 L652.19,423.83 L652.41,423.83 L652.63,423.84 L652.86,423.84 L653.08,423.85 L653.30,423.85 L653.53,423.86 L653.75,423.86 L653.97,423.87 L654.20,423.88 L654.42,423.88 L654.64,423.89 L654.87,423.89 L655.09,423.90 L655.31,423.90 L655.54,423.91 L655.76,423.91 L655.98,423.92 L656.21,423.93 L656.43,423.93 L656.65,423.94 L656.88,423.94 L657.10,423.95 L657.33,423.95 L657.55,423.96 L657.77,423.96 L658.00,423.97 L658.22,423.98 L658.44,423.98 L658.67,423.99 L658.89,423.99 L659.11,424.00 L659.34,424.00 L659.56,424.01 L659.78,424.01 L660.01,424.02 L660.23,424.03 L660.45,424.03 L660.68,424.04 L660.90,424.04 L661.12,424.05 L661.35,424.05 L661.57,424.06 L661.79,424.06 L662.02,424.07 L662.24,424.08 L662.46,424.08 L662.69,424.09 L662.91,424.09 L663.13,424.10 L663.36,424.10 L663.58,424.11 L663.80,424.11 L664.03,424.12 L664.25,424.12 L664.47,424.13 L664.70,424.14 L664.92,424.14 L665.14,424.15 L665.37,424.15 L665.59,424.16 L665.81,424.16 L666.04,424.17 L666.26,424.17 L666.48,424.18 L666.71,424.19 L666.93,424.19 L667.15,424.20 L667.38,424.20 L667.60,424.21 L667.83,424.21 L668.05,424.22 L668.27,424.22 L668.50,424.23 L668.72,424.23 L668.94,424.24 L669.17,424.25 L669.39,424.25 L669.61,424.26 L669.84,424.26 L670.06,424.27 L670.28,424.27 L670.51,424.28 L670.73,424.28 L670.95,424.29 L671.18,424.29 L671.40,424.30 L671.62,424.31 L671.85,424.31 L672.07,424.32 L672.29,424.32 L672.52,424.33 L672.74,424.33 L672.96,424.34 L673.19,424.34 L673.41,424.35 L673.63,424.35 L673.86,424.36 L674.08,424.37 L674.30,424.37 L674.53,424.38 L674.75,424.38 L674.97,424.39 L675.20,424.39 L675.42,424.40 L675.64,424.40 L675.87,424.41 L676.09,424.41 L676.31,424.42 L676.54,424.42 L676.76,424.43 L676.98,424.44 L677.21,424.44 L677.43,424.45 L677.66,424.45 L677.88,424.46 L678.10,424.46 L678.33,424.47 L678.55,424.47 L678.77,424.48 L679.00,424.48 L679.22,424.49 L679.44,424.50 L679.67,424.50 L679.89,424.51 L680.11,424.51 L680.34,424.52 L680.56,424.52 L680.78,424.53 L681.01,424.53 L681.23,424.54 L681.45,424.54 L681.68,424.55 L681.90,424.55" fill="none" stroke="#1fb1c6" stroke-width="1.5" stroke-linejoin="round" stroke-dasharray="4,2" clip-path="url(#cd)"/>
<path d="M387.00,415.86 L387.22,415.87 L387.45,415.87 L387.67,415.88 L387.89,415.89 L388.12,415.90 L388.34,415.91 L388.56,415.91 L388.79,415.92 L389.01,415.93 L389.23,415.94 L389.46,415.95 L389.68,415.95 L389.90,415.96 L390.13,415.97 L390.35,415.98 L390.57,415.99 L390.80,415.99 L391.02,416.00 L391.24,416.01 L391.47,416.02 L391.69,416.03 L391.92,416.03 L392.14,416.04 L392.36,416.05 L392.59,416.06 L392.81,416.07 L393.03,416.07 L393.26,416.08 L393.48,416.09 L393.70,416.10 L393.93,416.11 L394.15,416.11 L394.37,416.12 L394.60,416.13 L394.82,416.14 L395.04,416.14 L395.27,416.15 L395.49,416.16 L395.71,416.17 L395.94,416.18 L396.16,416.18 L396.38,416.19 L396.61,416.20 L396.83,416.21 L397.05,416.22 L397.28,416.22 L397.50,416.23 L397.72,416.24 L397.95,416.25 L398.17,416.26 L398.39,416.26 L398.62,416.27 L398.84,416.28 L399.06,416.29 L399.29,416.30 L399.51,416.30 L399.73,416.31 L399.96,416.32 L400.18,416.33 L400.40,416.33 L400.63,416.34 L400.85,416.35 L401.07,416.36 L401.30,416.37 L401.52,416.37 L401.75,416.38 L401.97,416.39 L402.19,416.40 L402.42,416.41 L402.64,416.41 L402.86,416.42 L403.09,416.43 L403.31,416.44 L403.53,416.45 L403.76,416.45 L403.98,416.46 L404.20,416.47 L404.43,416.48 L404.65,416.48 L404.87,416.49 L405.10,416.50 L405.32,416.51 L405.54,416.52 L405.77,416.52 L405.99,416.53 L406.21,416.54 L406.44,416.55 L406.66,416.55 L406.88,416.56 L407.11,416.57 L407.33,416.58 L407.55,416.59 L407.78,416.59 L408.00,416.60 L408.22,416.61 L408.45,416.62 L408.67,416.62 L408.89,416.63 L409.12,416.64 L409.34,416.65 L409.56,416.66 L409.79,416.66 L410.01,416.67 L410.23,416.68 L410.46,416.69 L410.68,416.69 L410.90,416.70 L411.13,416.71 L411.35,416.72 L411.57,416.73 L411.80,416.73 L412.02,416.74 L412.25,416.75 L412.47,416.76 L412.69,416.76 L412.92,416.77 L413.14,416.78 L413.36,416.79 L413.59,416.80 L413.81,416.80 L414.03,416.81 L414.26,416.82 L414.48,416.83 L414.70,416.83 L414.93,416.84 L415.15,416.85 L415.37,416.86 L415.60,416.87 L415.82,416.87 L416.04,416.88 L416.27,416.89 L416.49,416.90 L416.71,416.90 L416.94,416.91 L417.16,416.92 L417.38,416.93 L417.61,416.93 L417.83,416.94 L418.05,416.95 L418.28,416.96 L418.50,416.97 L418.72,416.97 L418.95,416.98 L419.17,416.99 L419.39,417.00 L419.62,417.00 L419.84,417.01 L420.06,417.02 L420.29,417.03 L420.51,417.03 L420.73,417.04 L420.96,417.05 L421.18,417.06 L421.40,417.06 L421.63,417.07 L421.85,417.08 L422.08,417.09 L422.30,417.10 L422.52,417.10 L422.75,417.11 L422.97,417.12 L423.19,417.13 L423.42,417.13 L423.64,417.14 L423.86,417.15 L424.09,417.16 L424.31,417.16 L424.53,417.17 L424.76,417.18 L424.98,417.19 L425.20,417.19 L425.43,417.20 L425.65,417.21 L425.87,417.22 L426.10,417.22 L426.32,417.23 L426.54,417.24 L426.77,417.25 L426.99,417.26 L427.21,417.26 L427.44,417.27 L427.66,417.28 L427.88,417.29 L428.11,417.29 L428.33,417.30 L428.55,417.31 L428.78,417.32 L429.00,417.32 L429.22,417.33 L429.45,417.34 L429.67,417.35 L429.89,417.35 L430.12,417.36 L430.34,417.37 L430.56,417.38 L430.79,417.38 L431.01,417.39 L431.24,417.40 L431.46,417.41 L431.68,417.41 L431.91,417.42 L432.13,417.43 L432.35,417.44 L432.58,417.44 L432.80,417.45 L433.02,417.46 L433.25,417.47 L433.47,417.47 L433.69,417.48 L433.92,417.49 L434.14,417.50 L434.36,417.50 L434.59,417.51 L434.81,417.52 L435.03,417.53 L435.26,417.53 L435.48,417.54 L435.70,417.55 L435.93,417.56 L436.15,417.56 L436.37,417.57 L436.60,417.58 L436.82,417.59 L437.04,417.59 L437.27,417.60 L437.49,417.61 L437.71,417.62 L437.94,417.62 L438.16,417.63 L438.38,417.64 L438.61,417.65 L438.83,417.65 L439.05,417.66 L439.28,417.67 L439.50,417.68 L439.72,417.68 L439.95,417.69 L440.17,417.70 L440.39,417.71 L440.62,417.71 L440.84,417.72 L441.06,417.73 L441.29,417.74 L441.51,417.74 L441.74,417.75 L441.96,417.76 L442.18,417.77 L442.41,417.77 L442.63,417.78 L442.85,417.79 L443.08,417.80 L443.30,417.80 L443.52,417.81 L443.75,417.82 L443.97,417.82 L444.19,417.83 L444.42,417.84 L444.64,417.85 L444.86,417.85 L445.09,417.86 L445.31,417.87 L445.53,417.88 L445.76,417.88 L445.98,417.89 L446.20,417.90 L446.43,417.91 L446.65,417.91 L446.87,417.92 L447.10,417.93 L447.32,417.94 L447.54,417.94 L447.77,417.95 L447.99,417.96 L448.21,417.97 L448.44,417.97 L448.66,417.98 L448.88,417.99 L449.11,417.99 L449.33,418.00 L449.55,418.01 L449.78,418.02 L450.00,418.02 L450.22,418.03 L450.45,418.04 L450.67,418.05 L450.89,418.05 L451.12,418.06 L451.34,418.07 L451.57,418.08 L451.79,418.08 L452.01,418.09 L452.24,418.10 L452.46,418.10 L452.68,418.11 L452.91,418.12 L453.13,418.13 L453.35,418.13 L453.58,418.14 L453.80,418.15 L454.02,418.16 L454.25,418.16 L454.47,418.17 L454.69,418.18 L454.92,418.18 L455.14,418.19 L455.36,418.20 L455.59,418.21 L455.81,418.21 L456.03,418.22 L456.26,418.23 L456.48,418.24 L456.70,418.24 L456.93,418.25 L457.15,418.26 L457.37,418.27 L457.60,418.27 L457.82,418.28 L458.04,418.29 L458.27,418.29 L458.49,418.30 L458.71,418.31 L458.94,418.32 L459.16,418.32 L459.38,418.33 L459.61,418.34 L459.83,418.34 L460.05,418.35 L460.28,418.36 L460.50,418.37 L460.73,418.37 L460.95,418.38 L461.17,418.39 L461.40,418.40 L461.62,418.40 L461.84,418.41 L462.07,418.42 L462.29,418.42 L462.51,418.43 L462.74,418.44 L462.96,418.45 L463.18,418.45 L463.41,418.46 L463.63,418.47 L463.85,418.47 L464.08,418.48 L464.30,418.49 L464.52,418.50 L464.75,418.50 L464.97,418.51 L465.19,418.52 L465.42,418.53 L465.64,418.53 L465.86,418.54 L466.09,418.55 L466.31,418.55 L466.53,418.56 L466.76,418.57 L466.98,418.58 L467.20,418.58 L467.43,418.59 L467.65,418.60 L467.87,418.60 L468.10,418.61 L468.32,418.62 L468.54,418.63 L468.77,418.63 L468.99,418.64 L469.21,418.65 L469.44,418.65 L469.66,418.66 L469.88,418.67 L470.11,418.68 L470.33,418.68 L470.56,418.69 L470.78,418.70 L471.00,418.70 L471.23,418.71 L471.45,418.72 L471.67,418.73 L471.90,418.73 L472.12,418.74 L472.34,418.75 L472.57,418.75 L472.79,418.76 L473.01,418.77 L473.24,418.78 L473.46,418.78 L473.68,418.79 L473.91,418.80 L474.13,418.80 L474.35,418.81 L474.58,418.82 L474.80,418.82 L475.02,418.83 L475.25,418.84 L475.47,418.85 L475.69,418.85 L475.92,418.86 L476.14,418.87 L476.36,418.87 L476.59,418.88 L476.81,418.89 L477.03,418.90 L477.26,418.90 L477.48,418.91 L477.70,418.92 L477.93,418.92 L478.15,418.93 L478.37,418.94 L478.60,418.95 L478.82,418.95 L479.04,418.96 L479.27,418.97 L479.49,418.97 L479.71,418.98 L479.94,418.99 L480.16,418.99 L480.38,419.00 L480.61,419.01 L480.83,419.02 L481.06,419.02 L481.28,419.03 L481.50,419.04 L481.73,419.04 L481.95,419.05 L482.17,419.06 L482.40,419.06 L482.62,419.07 L482.84,419.08 L483.07,419.09 L483.29,419.09 L483.51,419.10 L483.74,419.11 L483.96,419.11 L484.18,419.12 L484.41,419.13 L484.63,419.13 L484.85,419.14 L485.08,419.15 L485.30,419.16 L485.52,419.16 L485.75,419.17 L485.97,419.18 L486.19,419.18 L486.42,419.19 L486.64,419.20 L486.86,419.20 L487.09,419.21 L487.31,419.22 L487.53,419.23 L487.76,419.23 L487.98,419.24 L488.20,419.25 L488.43,419.25 L488.65,419.26 L488.87,419.27 L489.10,419.27 L489.32,419.28 L489.54,419.29 L489.77,419.29 L489.99,419.30 L490.21,419.31 L490.44,419.32 L490.66,419.32 L490.89,419.33 L491.11,419.34 L491.33,419.34 L491.56,419.35 L491.78,419.36 L492.00,419.36 L492.23,419.37 L492.45,419.38 L492.67,419.39 L492.90,419.39 L493.12,419.40 L493.34,419.41 L493.57,419.41 L493.79,419.42 L494.01,419.43 L494.24,419.43 L494.46,419.44 L494.68,419.45 L494.91,419.45 L495.13,419.46 L495.35,419.47 L495.58,419.47 L495.80,419.48 L496.02,419.49 L496.25,419.50 L496.47,419.50 L496.69,419.51 L496.92,419.52 L497.14,419.52 L497.36,419.53 L497.59,419.54 L497.81,419.54 L498.03,419.55 L498.26,419.56 L498.48,419.56 L498.70,419.57 L498.93,419.58 L499.15,419.58 L499.37,419.59 L499.60,419.60 L499.82,419.61 L500.05,419.61 L500.27,419.62 L500.49,419.63 L500.72,419.63 L500.94,419.64 L501.16,419.65 L501.39,419.65 L501.61,419.66 L501.83,419.67 L502.06,419.67 L502.28,419.68 L502.50,419.69 L502.73,419.69 L502.95,419.70 L503.17,419.71 L503.40,419.71 L503.62,419.72 L503.84,419.73 L504.07,419.74 L504.29,419.74 L504.51,419.75 L504.74,419.76 L504.96,419.76 L505.18,419.77 L505.41,419.78 L505.63,419.78 L505.85,419.79 L506.08,419.80 L506.30,419.80 L506.52,419.81 L506.75,419.82 L506.97,419.82 L507.19,419.83 L507.42,419.84 L507.64,419.84 L507.86,419.85 L508.09,419.86 L508.31,419.86 L508.53,419.87 L508.76,419.88 L508.98,419.88 L509.20,419.89 L509.43,419.90 L509.65,419.90 L509.88,419.91 L510.10,419.92 L510.32,419.92 L510.55,419.93 L510.77,419.94 L510.99,419.95 L511.22,419.95 L511.44,419.96 L511.66,419.97 L511.89,419.97 L512.11,419.98 L512.33,419.99 L512.56,419.99 L512.78,420.00 L513.00,420.01 L513.23,420.01 L513.45,420.02 L513.67,420.03 L513.90,420.03 L514.12,420.04 L514.34,420.05 L514.57,420.05 L514.79,420.06 L515.01,420.07 L515.24,420.07 L515.46,420.08 L515.68,420.09 L515.91,420.09 L516.13,420.10 L516.35,420.11 L516.58,420.11 L516.80,420.12 L517.02,420.13 L517.25,420.13 L517.47,420.14 L517.69,420.15 L517.92,420.15 L518.14,420.16 L518.36,420.17 L518.59,420.17 L518.81,420.18 L519.03,420.19 L519.26,420.19 L519.48,420.20 L519.70,420.21 L519.93,420.21 L520.15,420.22 L520.38,420.23 L520.60,420.23 L520.82,420.24 L521.05,420.25 L521.27,420.25 L521.49,420.26 L521.72,420.27 L521.94,420.27 L522.16,420.28 L522.39,420.29 L522.61,420.29 L522.83,420.30 L523.06,420.31 L523.28,420.31 L523.50,420.32 L523.73,420.33 L523.95,420.33 L524.17,420.34 L524.40,420.35 L524.62,420.35 L524.84,420.36 L525.07,420.37 L525.29,420.37 L525.51,420.38 L525.74,420.39 L525.96,420.39 L526.18,420.40 L526.41,420.41 L526.63,420.41 L526.85,420.42 L527.08,420.43 L527.30,420.43 L527.52,420.44 L527.75,420.44 L527.97,420.45 L528.19,420.46 L528.42,420.46 L528.64,420.47 L528.86,420.48 L529.09,420.48 L529.31,420.49 L529.53,420.50 L529.76,420.50 L529.98,420.51 L530.21,420.52 L530.43,420.52 L530.65,420.53 L530.88,420.54 L531.10,420.54 L531.32,420.55 L531.55,420.56 L531.77,420.56 L531.99,420.57 L532.22,420.58 L532.44,420.58 L532.66,420.59 L532.89,420.60 L533.11,420.60 L533.33,420.61 L533.56,420.62 L533.78,420.62 L534.00,420.63 L534.23,420.64 L534.45,420.64 L534.67,420.65 L534.90,420.65 L535.12,420.66 L535.34,420.67 L535.57,420.67 L535.79,420.68 L536.01,420.69 L536.24,420.69 L536.46,420.70 L536.68,420.71 L536.91,420.71 L537.13,420.72 L537.35,420.73 L537.58,420.73 L537.80,420.74 L538.02,420.75 L538.25,420.75 L538.47,420.76 L538.69,420.77 L538.92,420.77 L539.14,420.78 L539.37,420.78 L539.59,420.79 L539.81,420.80 L540.04,420.80 L540.26,420.81 L540.48,420.82 L540.71,420.82 L540.93,420.83 L541.15,420.84 L541.38,420.84 L541.60,420.85 L541.82,420.86 L542.05,420.86 L542.27,420.87 L542.49,420.88 L542.72,420.88 L542.94,420.89 L543.16,420.89 L543.39,420.90 L543.61,420.91 L543.83,420.91 L544.06,420.92 L544.28,420.93 L544.50,420.93 L544.73,420.94 L544.95,420.95 L545.17,420.95 L545.40,420.96 L545.62,420.97 L545.84,420.97 L546.07,420.98 L546.29,420.99 L546.51,420.99 L546.74,421.00 L546.96,421.00 L547.18,421.01 L547.41,421.02 L547.63,421.02 L547.85,421.03 L548.08,421.04 L548.30,421.04 L548.52,421.05 L548.75,421.06 L548.97,421.06 L549.19,421.07 L549.42,421.07 L549.64,421.08 L549.87,421.09 L550.09,421.09 L550.31,421.10 L550.54,421.11 L550.76,421.11 L550.98,421.12 L551.21,421.13 L551.43,421.13 L551.65,421.14 L551.88,421.15 L552.10,421.15 L552.32,421.16 L552.55,421.16 L552.77,421.17 L552.99,421.18 L553.22,421.18 L553.44,421.19 L553.66,421.20 L553.89,421.20 L554.11,421.21 L554.33,421.22 L554.56,421.22 L554.78,421.23 L555.00,421.23 L555.23,421.24 L555.45,421.25 L555.67,421.25 L555.90,421.26 L556.12,421.27 L556.34,421.27 L556.57,421.28 L556.79,421.28 L557.01,421.29 L557.24,421.30 L557.46,421.30 L557.68,421.31 L557.91,421.32 L558.13,421.32 L558.35,421.33 L558.58,421.34 L558.80,421.34 L559.02,421.35 L559.25,421.35 L559.47,421.36 L559.70,421.37 L559.92,421.37 L560.14,421.38 L560.37,421.39 L560.59,421.39 L560.81,421.40 L561.04,421.40 L561.26,421.41 L561.48,421.42 L561.71,421.42 L561.93,421.43 L562.15,421.44 L562.38,421.44 L562.60,421.45 L562.82,421.46 L563.05,421.46 L563.27,421.47 L563.49,421.47 L563.72,421.48 L563.94,421.49 L564.16,421.49 L564.39,421.50 L564.61,421.51 L564.83,421.51 L565.06,421.52 L565.28,421.52 L565.50,421.53 L565.73,421.54 L565.95,421.54 L566.17,421.55 L566.40,421.56 L566.62,421.56 L566.84,421.57 L567.07,421.57 L567.29,421.58 L567.51,421.59 L567.74,421.59 L567.96,421.60 L568.18,421.61 L568.41,421.61 L568.63,421.62 L568.86,421.62 L569.08,421.63 L569.30,421.64 L569.53,421.64 L569.75,421.65 L569.97,421.66 L570.20,421.66 L570.42,421.67 L570.64,421.67 L570.87,421.68 L571.09,421.69 L571.31,421.69 L571.54,421.70 L571.76,421.71 L571.98,421.71 L572.21,421.72 L572.43,421.72 L572.65,421.73 L572.88,421.74 L573.10,421.74 L573.32,421.75 L573.55,421.75 L573.77,421.76 L573.99,421.77 L574.22,421.77 L574.44,421.78 L574.66,421.79 L574.89,421.79 L575.11,421.80 L575.33,421.80 L575.56,421.81 L575.78,421.82 L576.00,421.82 L576.23,421.83 L576.45,421.84 L576.67,421.84 L576.90,421.85 L577.12,421.85 L577.34,421.86 L577.57,421.87 L577.79,421.87 L578.01,421.88 L578.24,421.88 L578.46,421.89 L578.68,421.90 L578.91,421.90 L579.13,421.91 L579.36,421.92 L579.58,421.92 L579.80,421.93 L580.03,421.93 L580.25,421.94 L580.47,421.95 L580.70,421.95 L580.92,421.96 L581.14,421.96 L581.37,421.97 L581.59,421.98 L581.81,421.98 L582.04,421.99 L582.26,421.99 L582.48,422.00 L582.71,422.01 L582.93,422.01 L583.15,422.02 L583.38,422.03 L583.60,422.03 L583.82,422.04 L584.05,422.04 L584.27,422.05 L584.49,422.06 L584.72,422.06 L584.94,422.07 L585.16,422.07 L585.39,422.08 L585.61,422.09 L585.83,422.09 L586.06,422.10 L586.28,422.10 L586.50,422.11 L586.73,422.12 L586.95,422.12 L587.17,422.13 L587.40,422.14 L587.62,422.14 L587.84,422.15 L588.07,422.15 L588.29,422.16 L588.51,422.17 L588.74,422.17 L588.96,422.18 L589.19,422.18 L589.41,422.19 L589.63,422.20 L589.86,422.20 L590.08,422.21 L590.30,422.21 L590.53,422.22 L590.75,422.23 L590.97,422.23 L591.20,422.24 L591.42,422.24 L591.64,422.25 L591.87,422.26 L592.09,422.26 L592.31,422.27 L592.54,422.27 L592.76,422.28 L592.98,422.29 L593.21,422.29 L593.43,422.30 L593.65,422.30 L593.88,422.31 L594.10,422.32 L594.32,422.32 L594.55,422.33 L594.77,422.33 L594.99,422.34 L595.22,422.35 L595.44,422.35 L595.66,422.36 L595.89,422.37 L596.11,422.37 L596.33,422.38 L596.56,422.38 L596.78,422.39 L597.00,422.40 L597.23,422.40 L597.45,422.41 L597.67,422.41 L597.90,422.42 L598.12,422.43 L598.35,422.43 L598.57,422.44 L598.79,422.44 L599.02,422.45 L599.24,422.46 L599.46,422.46 L599.69,422.47 L599.91,422.47 L600.13,422.48 L600.36,422.48 L600.58,422.49 L600.80,422.50 L601.03,422.50 L601.25,422.51 L601.47,422.51 L601.70,422.52 L601.92,422.53 L602.14,422.53 L602.37,422.54 L602.59,422.54 L602.81,422.55 L603.04,422.56 L603.26,422.56 L603.48,422.57 L603.71,422.57 L603.93,422.58 L604.15,422.59 L604.38,422.59 L604.60,422.60 L604.82,422.60 L605.05,422.61 L605.27,422.62 L605.49,422.62 L605.72,422.63 L605.94,422.63 L606.16,422.64 L606.39,422.65 L606.61,422.65 L606.83,422.66 L607.06,422.66 L607.28,422.67 L607.50,422.68 L607.73,422.68 L607.95,422.69 L608.17,422.69 L608.40,422.70 L608.62,422.70 L608.85,422.71 L609.07,422.72 L609.29,422.72 L609.52,422.73 L609.74,422.73 L609.96,422.74 L610.19,422.75 L610.41,422.75 L610.63,422.76 L610.86,422.76 L611.08,422.77 L611.30,422.78 L611.53,422.78 L611.75,422.79 L611.97,422.79 L612.20,422.80 L612.42,422.81 L612.64,422.81 L612.87,422.82 L613.09,422.82 L613.31,422.83 L613.54,422.83 L613.76,422.84 L613.98,422.85 L614.21,422.85 L614.43,422.86 L614.65,422.86 L614.88,422.87 L615.10,422.88 L615.32,422.88 L615.55,422.89 L615.77,422.89 L615.99,422.90 L616.22,422.90 L616.44,422.91 L616.66,422.92 L616.89,422.92 L617.11,422.93 L617.33,422.93 L617.56,422.94 L617.78,422.95 L618.00,422.95 L618.23,422.96 L618.45,422.96 L618.68,422.97 L618.90,422.97 L619.12,422.98 L619.35,422.99 L619.57,422.99 L619.79,423.00 L620.02,423.00 L620.24,423.01 L620.46,423.02 L620.69,423.02 L620.91,423.03 L621.13,423.03 L621.36,423.04 L621.58,423.04 L621.80,423.05 L622.03,423.06 L622.25,423.06 L622.47,423.07 L622.70,423.07 L622.92,423.08 L623.14,423.09 L623.37,423.09 L623.59,423.10 L623.81,423.10 L624.04,423.11 L624.26,423.11 L624.48,423.12 L624.71,423.13 L624.93,423.13 L625.15,423.14 L625.38,423.14 L625.60,423.15 L625.82,423.15 L626.05,423.16 L626.27,423.17 L626.49,423.17 L626.72,423.18 L626.94,423.18 L627.16,423.19 L627.39,423.20 L627.61,423.20 L627.84,423.21 L628.06,423.21 L628.28,423.22 L628.51,423.22 L628.73,423.23 L628.95,423.24 L629.18,423.24 L629.40,423.25 L629.62,423.25 L629.85,423.26 L630.07,423.26 L630.29,423.27 L630.52,423.28 L630.74,423.28 L630.96,423.29 L631.19,423.29 L631.41,423.30 L631.63,423.30 L631.86,423.31 L632.08,423.32 L632.30,423.32 L632.53,423.33 L632.75,423.33 L632.97,423.34 L633.20,423.34 L633.42,423.35 L633.64,423.36 L633.87,423.36 L634.09,423.37 L634.31,423.37 L634.54,423.38 L634.76,423.38 L634.98,423.39 L635.21,423.40 L635.43,423.40 L635.65,423.41 L635.88,423.41 L636.10,423.42 L636.32,423.42 L636.55,423.43 L636.77,423.44 L636.99,423.44 L637.22,423.45 L637.44,423.45 L637.66,423.46 L637.89,423.46 L638.11,423.47 L638.34,423.48 L638.56,423.48 L638.78,423.49 L639.01,423.49 L639.23,423.50 L639.45,423.50 L639.68,423.51 L639.90,423.52 L640.12,423.52 L640.35,423.53 L640.57,423.53 L640.79,423.54 L641.02,423.54 L641.24,423.55 L641.46,423.56 L641.69,423.56 L641.91,423.57 L642.13,423.57 L642.36,423.58 L642.58,423.58 L642.80,423.59 L643.03,423.60 L643.25,423.60 L643.47,423.61 L643.70,423.61 L643.92,423.62 L644.14,423.62 L644.37,423.63 L644.59,423.63 L644.81,423.64 L645.04,423.65 L645.26,423.65 L645.48,423.66 L645.71,423.66 L645.93,423.67 L646.15,423.67 L646.38,423.68 L646.60,423.69 L646.82,423.69 L647.05,423.70 L647.27,423.70 L647.49,423.71 L647.72,423.71 L647.94,423.72 L648.17,423.72 L648.39,423.73 L648.61,423.74 L648.84,423.74 L649.06,423.75 L649.28,423.75 L649.51,423.76 L649.73,423.76 L649.95,423.77 L650.18,423.78 L650.40,423.78 L650.62,423.79 L650.85,423.79 L651.07,423.80 L651.29,423.80 L651.52,423.81 L651.74,423.81 L651.96,423.82 L652.19,423.83 L652.41,423.83 L652.63,423.84 L652.86,423.84 L653.08,423.85 L653.30,423.85 L653.53,423.86 L653.75,423.86 L653.97,423.87 L654.20,423.88 L654.42,423.88 L654.64,423.89 L654.87,423.89 L655.09,423.90 L655.31,423.90 L655.54,423.91 L655.76,423.91 L655.98,423.92 L656.21,423.93 L656.43,423.93 L656.65,423.94 L656.88,423.94 L657.10,423.95 L657.33,423.95 L657.55,423.96 L657.77,423.96 L658.00,423.97 L658.22,423.98 L658.44,423.98 L658.67,423.99 L658.89,423.99 L659.11,424.00 L659.34,424.00 L659.56,424.01 L659.78,424.01 L660.01,424.02 L660.23,424.03 L660.45,424.03 L660.68,424.04 L660.90,424.04 L661.12,424.05 L661.35,424.05 L661.57,424.06 L661.79,424.06 L662.02,424.07 L662.24,424.08 L662.46,424.08 L662.69,424.09 L662.91,424.09 L663.13,424.10 L663.36,424.10 L663.58,424.11 L663.80,424.11 L664.03,424.12 L664.25,424.12 L664.47,424.13 L664.70,424.14 L664.92,424.14 L665.14,424.15 L665.37,424.15 L665.59,424.16 L665.81,424.16 L666.04,424.17 L666.26,424.17 L666.48,424.18 L666.71,424.19 L666.93,424.19 L667.15,424.20 L667.38,424.20 L667.60,424.21 L667.83,424.21 L668.05,424.22 L668.27,424.22 L668.50,424.23 L668.72,424.23 L668.94,424.24 L669.17,424.25 L669.39,424.25 L669.61,424.26 L669.84,424.26 L670.06,424.27 L670.28,424.27 L670.51,424.28 L670.73,424.28 L670.95,424.29 L671.18,424.29 L671.40,424.30 L671.62,424.31 L671.85,424.31 L672.07,424.32 L672.29,424.32 L672.52,424.33 L672.74,424.33 L672.96,424.34 L673.19,424.34 L673.41,424.35 L673.63,424.35 L673.86,424.36 L674.08,424.37 L674.30,424.37 L674.53,424.38 L674.75,424.38 L674.97,424.39 L675.20,424.39 L675.42,424.40 L675.64,424.40 L675.87,424.41 L676.09,424.41 L676.31,424.42 L676.54,424.42 L676.76,424.43 L676.98,424.44 L677.21,424.44 L677.43,424.45 L677.66,424.45 L677.88,424.46 L678.10,424.46 L678.33,424.47 L678.55,424.47 L678.77,424.48 L679.00,424.48 L679.22,424.49 L679.44,424.50 L679.67,424.50 L679.89,424.51 L680.11,424.51 L680.34,424.52 L680.56,424.52 L680.78,424.53 L681.01,424.53 L681.23,424.54 L681.45,424.54 L681.68,424.55 L681.90,424.55" fill="none" stroke="#f7a67c" stroke-width="1.6" stroke-linejoin="round" stroke-dasharray="4,2.2" clip-path="url(#cd)"/>
<path d="M395.94,531.2v-2.4M395.94,296.1v2.4M404.87,531.2v-2.4M404.87,296.1v2.4M413.81,531.2v-2.4M413.81,296.1v2.4M422.75,531.2v-2.4M422.75,296.1v2.4M440.62,531.2v-2.4M440.62,296.1v2.4M449.55,531.2v-2.4M449.55,296.1v2.4M458.49,531.2v-2.4M458.49,296.1v2.4M467.43,531.2v-2.4M467.43,296.1v2.4M485.30,531.2v-2.4M485.30,296.1v2.4M494.24,531.2v-2.4M494.24,296.1v2.4M503.17,531.2v-2.4M503.17,296.1v2.4M512.11,531.2v-2.4M512.11,296.1v2.4M529.98,531.2v-2.4M529.98,296.1v2.4M538.92,531.2v-2.4M538.92,296.1v2.4M547.85,531.2v-2.4M547.85,296.1v2.4M556.79,531.2v-2.4M556.79,296.1v2.4M574.66,531.2v-2.4M574.66,296.1v2.4M583.60,531.2v-2.4M583.60,296.1v2.4M592.54,531.2v-2.4M592.54,296.1v2.4M601.47,531.2v-2.4M601.47,296.1v2.4M619.35,531.2v-2.4M619.35,296.1v2.4M628.28,531.2v-2.4M628.28,296.1v2.4M637.22,531.2v-2.4M637.22,296.1v2.4M646.15,531.2v-2.4M646.15,296.1v2.4M664.03,531.2v-2.4M664.03,296.1v2.4M672.96,531.2v-2.4M672.96,296.1v2.4M681.90,531.2v-2.4M681.90,296.1v2.4M387.00,531.2v-5.0M387.00,296.1v5.0M431.68,531.2v-5.0M431.68,296.1v5.0M476.36,531.2v-5.0M476.36,296.1v5.0M521.05,531.2v-5.0M521.05,296.1v5.0M565.73,531.2v-5.0M565.73,296.1v5.0M610.41,531.2v-5.0M610.41,296.1v5.0M655.09,531.2v-5.0M655.09,296.1v5.0M387.0,531.20h2.4M681.9,531.20h-2.4M387.0,523.36h2.4M681.9,523.36h-2.4M387.0,507.69h2.4M681.9,507.69h-2.4M387.0,499.85h2.4M681.9,499.85h-2.4M387.0,492.02h2.4M681.9,492.02h-2.4M387.0,476.34h2.4M681.9,476.34h-2.4M387.0,468.51h2.4M681.9,468.51h-2.4M387.0,460.67h2.4M681.9,460.67h-2.4M387.0,445.00h2.4M681.9,445.00h-2.4M387.0,437.16h2.4M681.9,437.16h-2.4M387.0,429.32h2.4M681.9,429.32h-2.4M387.0,413.65h2.4M681.9,413.65h-2.4M387.0,405.81h2.4M681.9,405.81h-2.4M387.0,397.98h2.4M681.9,397.98h-2.4M387.0,382.30h2.4M681.9,382.30h-2.4M387.0,374.47h2.4M681.9,374.47h-2.4M387.0,366.63h2.4M681.9,366.63h-2.4M387.0,350.96h2.4M681.9,350.96h-2.4M387.0,343.12h2.4M681.9,343.12h-2.4M387.0,335.28h2.4M681.9,335.28h-2.4M387.0,319.61h2.4M681.9,319.61h-2.4M387.0,311.77h2.4M681.9,311.77h-2.4M387.0,303.94h2.4M681.9,303.94h-2.4M387.0,515.53h5.0M681.9,515.53h-5.0M387.0,484.18h5.0M681.9,484.18h-5.0M387.0,452.83h5.0M681.9,452.83h-5.0M387.0,421.49h5.0M681.9,421.49h-5.0M387.0,390.14h5.0M681.9,390.14h-5.0M387.0,358.79h5.0M681.9,358.79h-5.0M387.0,327.45h5.0M681.9,327.45h-5.0M387.0,296.10h5.0M681.9,296.10h-5.0" stroke="#6b6b6b" stroke-width="0.9" fill="none"/>
<rect x="387.0" y="296.1" width="294.90" height="235.10" fill="none" stroke="#6b6b6b" stroke-width="1.3"/>
<text x="387.00" y="542.20" text-anchor="middle" font-size="11.7" fill="#444">4600</text>
<text x="431.68" y="542.20" text-anchor="middle" font-size="11.7" fill="#444">4700</text>
<text x="476.36" y="542.20" text-anchor="middle" font-size="11.7" fill="#444">4800</text>
<text x="521.05" y="542.20" text-anchor="middle" font-size="11.7" fill="#444">4900</text>
<text x="565.73" y="542.20" text-anchor="middle" font-size="11.7" fill="#444">5000</text>
<text x="610.41" y="542.20" text-anchor="middle" font-size="11.7" fill="#444">5100</text>
<text x="655.09" y="542.20" text-anchor="middle" font-size="11.7" fill="#444">5200</text>
<text x="383.70" y="519.53" text-anchor="end" font-size="11.7" fill="#444">0</text>
<text x="383.70" y="488.18" text-anchor="end" font-size="11.7" fill="#444">2</text>
<text x="383.70" y="456.83" text-anchor="end" font-size="11.7" fill="#444">4</text>
<text x="383.70" y="425.49" text-anchor="end" font-size="11.7" fill="#444">6</text>
<text x="383.70" y="394.14" text-anchor="end" font-size="11.7" fill="#444">8</text>
<text x="383.70" y="362.79" text-anchor="end" font-size="11.7" fill="#444">10</text>
<text x="383.70" y="331.45" text-anchor="end" font-size="11.7" fill="#444">12</text>
<text x="383.70" y="300.10" text-anchor="end" font-size="11.7" fill="#444">14</text>
<path d="M387.0,786.31H681.9" stroke="#111" stroke-width="1.3" stroke-dasharray="4,2.2"/>
<path d="M387.00,787.74 L387.22,787.74 L387.45,787.73 L387.67,787.73 L387.89,787.72 L388.12,787.72 L388.34,787.72 L388.56,787.71 L388.79,787.71 L389.01,787.71 L389.23,787.70 L389.46,787.70 L389.68,787.69 L389.90,787.69 L390.13,787.69 L390.35,787.68 L390.57,787.68 L390.80,787.68 L391.02,787.67 L391.24,787.67 L391.47,787.67 L391.69,787.66 L391.92,787.66 L392.14,787.65 L392.36,787.65 L392.59,787.65 L392.81,787.64 L393.03,787.64 L393.26,787.64 L393.48,787.63 L393.70,787.63 L393.93,787.63 L394.15,787.62 L394.37,787.62 L394.60,787.61 L394.82,787.61 L395.04,787.61 L395.27,787.60 L395.49,787.60 L395.71,787.60 L395.94,787.59 L396.16,787.59 L396.38,787.59 L396.61,787.58 L396.83,787.58 L397.05,787.57 L397.28,787.57 L397.50,787.57 L397.72,787.56 L397.95,787.56 L398.17,787.56 L398.39,787.55 L398.62,787.55 L398.84,787.55 L399.06,787.54 L399.29,787.54 L399.51,787.54 L399.73,787.53 L399.96,787.53 L400.18,787.52 L400.40,787.52 L400.63,787.52 L400.85,787.51 L401.07,787.51 L401.30,787.51 L401.52,787.50 L401.75,787.50 L401.97,787.50 L402.19,787.49 L402.42,787.49 L402.64,787.48 L402.86,787.48 L403.09,787.48 L403.31,787.47 L403.53,787.47 L403.76,787.47 L403.98,787.46 L404.20,787.46 L404.43,787.46 L404.65,787.45 L404.87,787.45 L405.10,787.45 L405.32,787.44 L405.54,787.44 L405.77,787.43 L405.99,787.43 L406.21,787.43 L406.44,787.42 L406.66,787.42 L406.88,787.42 L407.11,787.41 L407.33,787.41 L407.55,787.41 L407.78,787.40 L408.00,787.40 L408.22,787.40 L408.45,787.39 L408.67,787.39 L408.89,787.39 L409.12,787.38 L409.34,787.38 L409.56,787.37 L409.79,787.37 L410.01,787.37 L410.23,787.36 L410.46,787.36 L410.68,787.36 L410.90,787.35 L411.13,787.35 L411.35,787.35 L411.57,787.34 L411.80,787.34 L412.02,787.34 L412.25,787.33 L412.47,787.33 L412.69,787.32 L412.92,787.32 L413.14,787.32 L413.36,787.31 L413.59,787.31 L413.81,787.31 L414.03,787.30 L414.26,787.30 L414.48,787.30 L414.70,787.29 L414.93,787.29 L415.15,787.29 L415.37,787.28 L415.60,787.28 L415.82,787.27 L416.04,787.27 L416.27,787.27 L416.49,787.26 L416.71,787.26 L416.94,787.26 L417.16,787.25 L417.38,787.25 L417.61,787.25 L417.83,787.24 L418.05,787.24 L418.28,787.23 L418.50,787.23 L418.72,787.23 L418.95,787.22 L419.17,787.22 L419.39,787.22 L419.62,787.21 L419.84,787.21 L420.06,787.20 L420.29,787.20 L420.51,787.20 L420.73,787.19 L420.96,787.19 L421.18,787.19 L421.40,787.18 L421.63,787.18 L421.85,787.17 L422.08,787.17 L422.30,787.17 L422.52,787.16 L422.75,787.16 L422.97,787.15 L423.19,787.15 L423.42,787.15 L423.64,787.14 L423.86,787.14 L424.09,787.13 L424.31,787.13 L424.53,787.13 L424.76,787.12 L424.98,787.12 L425.20,787.11 L425.43,787.11 L425.65,787.10 L425.87,787.10 L426.10,787.10 L426.32,787.09 L426.54,787.09 L426.77,787.08 L426.99,787.08 L427.21,787.07 L427.44,787.07 L427.66,787.06 L427.88,787.06 L428.11,787.06 L428.33,787.05 L428.55,787.05 L428.78,787.04 L429.00,787.04 L429.22,787.03 L429.45,787.03 L429.67,787.02 L429.89,787.02 L430.12,787.01 L430.34,787.00 L430.56,787.00 L430.79,786.99 L431.01,786.99 L431.24,786.98 L431.46,786.98 L431.68,786.97 L431.91,786.97 L432.13,786.96 L432.35,786.95 L432.58,786.95 L432.80,786.94 L433.02,786.93 L433.25,786.93 L433.47,786.92 L433.69,786.91 L433.92,786.91 L434.14,786.90 L434.36,786.89 L434.59,786.89 L434.81,786.88 L435.03,786.87 L435.26,786.86 L435.48,786.86 L435.70,786.85 L435.93,786.84 L436.15,786.83 L436.37,786.82 L436.60,786.82 L436.82,786.81 L437.04,786.80 L437.27,786.79 L437.49,786.78 L437.71,786.77 L437.94,786.76 L438.16,786.75 L438.38,786.74 L438.61,786.73 L438.83,786.72 L439.05,786.71 L439.28,786.70 L439.50,786.69 L439.72,786.67 L439.95,786.66 L440.17,786.65 L440.39,786.64 L440.62,786.62 L440.84,786.61 L441.06,786.60 L441.29,786.58 L441.51,786.57 L441.74,786.56 L441.96,786.54 L442.18,786.53 L442.41,786.51 L442.63,786.50 L442.85,786.48 L443.08,786.46 L443.30,786.45 L443.52,786.43 L443.75,786.41 L443.97,786.39 L444.19,786.37 L444.42,786.36 L444.64,786.34 L444.86,786.32 L445.09,786.30 L445.31,786.28 L445.53,786.25 L445.76,786.23 L445.98,786.21 L446.20,786.19 L446.43,786.16 L446.65,786.14 L446.87,786.11 L447.10,786.09 L447.32,786.06 L447.54,786.04 L447.77,786.01 L447.99,785.98 L448.21,785.95 L448.44,785.92 L448.66,785.89 L448.88,785.86 L449.11,785.83 L449.33,785.80 L449.55,785.77 L449.78,785.73 L450.00,785.70 L450.22,785.66 L450.45,785.63 L450.67,785.59 L450.89,785.55 L451.12,785.52 L451.34,785.48 L451.57,785.44 L451.79,785.40 L452.01,785.35 L452.24,785.31 L452.46,785.27 L452.68,785.22 L452.91,785.18 L453.13,785.13 L453.35,785.08 L453.58,785.03 L453.80,784.98 L454.02,784.93 L454.25,784.88 L454.47,784.82 L454.69,784.77 L454.92,784.71 L455.14,784.66 L455.36,784.60 L455.59,784.54 L455.81,784.48 L456.03,784.42 L456.26,784.35 L456.48,784.29 L456.70,784.22 L456.93,784.15 L457.15,784.09 L457.37,784.02 L457.60,783.95 L457.82,783.87 L458.04,783.80 L458.27,783.72 L458.49,783.65 L458.71,783.57 L458.94,783.49 L459.16,783.41 L459.38,783.32 L459.61,783.24 L459.83,783.15 L460.05,783.06 L460.28,782.97 L460.50,782.88 L460.73,782.79 L460.95,782.70 L461.17,782.60 L461.40,782.50 L461.62,782.40 L461.84,782.30 L462.07,782.20 L462.29,782.09 L462.51,781.99 L462.74,781.88 L462.96,781.77 L463.18,781.65 L463.41,781.54 L463.63,781.43 L463.85,781.31 L464.08,781.19 L464.30,781.07 L464.52,780.94 L464.75,780.82 L464.97,780.69 L465.19,780.56 L465.42,780.43 L465.64,780.30 L465.86,780.16 L466.09,780.02 L466.31,779.89 L466.53,779.74 L466.76,779.60 L466.98,779.46 L467.20,779.31 L467.43,779.16 L467.65,779.01 L467.87,778.86 L468.10,778.70 L468.32,778.54 L468.54,778.38 L468.77,778.22 L468.99,778.06 L469.21,777.89 L469.44,777.73 L469.66,777.56 L469.88,777.39 L470.11,777.21 L470.33,777.04 L470.56,776.86 L470.78,776.68 L471.00,776.50 L471.23,776.31 L471.45,776.13 L471.67,775.94 L471.90,775.75 L472.12,775.56 L472.34,775.37 L472.57,775.17 L472.79,774.97 L473.01,774.77 L473.24,774.57 L473.46,774.37 L473.68,774.16 L473.91,773.96 L474.13,773.75 L474.35,773.54 L474.58,773.33 L474.80,773.11 L475.02,772.90 L475.25,772.68 L475.47,772.46 L475.69,772.24 L475.92,772.02 L476.14,771.79 L476.36,771.57 L476.59,771.34 L476.81,771.11 L477.03,770.88 L477.26,770.65 L477.48,770.42 L477.70,770.18 L477.93,769.95 L478.15,769.71 L478.37,769.47 L478.60,769.23 L478.82,768.99 L479.04,768.75 L479.27,768.51 L479.49,768.26 L479.71,768.02 L479.94,767.77 L480.16,767.53 L480.38,767.28 L480.61,767.03 L480.83,766.78 L481.06,766.53 L481.28,766.28 L481.50,766.03 L481.73,765.78 L481.95,765.53 L482.17,765.28 L482.40,765.03 L482.62,764.77 L482.84,764.52 L483.07,764.27 L483.29,764.01 L483.51,763.76 L483.74,763.51 L483.96,763.25 L484.18,763.00 L484.41,762.75 L484.63,762.50 L484.85,762.24 L485.08,761.99 L485.30,761.74 L485.52,761.49 L485.75,761.24 L485.97,760.99 L486.19,760.74 L486.42,760.49 L486.64,760.24 L486.86,760.00 L487.09,759.75 L487.31,759.51 L487.53,759.26 L487.76,759.02 L487.98,758.78 L488.20,758.54 L488.43,758.30 L488.65,758.07 L488.87,757.83 L489.10,757.60 L489.32,757.36 L489.54,757.13 L489.77,756.90 L489.99,756.68 L490.21,756.45 L490.44,756.23 L490.66,756.01 L490.89,755.78 L491.11,755.56 L491.33,755.35 L491.56,755.13 L491.78,754.91 L492.00,754.70 L492.23,754.49 L492.45,754.27 L492.67,754.06 L492.90,753.84 L493.12,753.62 L493.34,753.41 L493.57,753.18 L493.79,752.96 L494.01,752.73 L494.24,752.49 L494.46,752.25 L494.68,752.00 L494.91,751.73 L495.13,751.46 L495.35,751.17 L495.58,750.87 L495.80,750.55 L496.02,750.21 L496.25,749.86 L496.47,749.47 L496.69,749.07 L496.92,748.64 L497.14,748.18 L497.36,747.69 L497.59,747.18 L497.81,746.63 L498.03,746.05 L498.26,745.45 L498.48,744.81 L498.70,744.15 L498.93,743.46 L499.15,742.75 L499.37,742.02 L499.60,741.27 L499.82,740.51 L500.05,739.74 L500.27,738.97 L500.49,738.20 L500.72,737.45 L500.94,736.71 L501.16,736.00 L501.39,735.32 L501.61,734.68 L501.83,734.08 L502.06,733.54 L502.28,733.05 L502.50,732.63 L502.73,732.27 L502.95,731.99 L503.17,731.79 L503.40,731.67 L503.62,731.62 L503.84,731.66 L504.07,731.78 L504.29,731.98 L504.51,732.25 L504.74,732.60 L504.96,733.01 L505.18,733.49 L505.41,734.03 L505.63,734.62 L505.85,735.26 L506.08,735.93 L506.30,736.64 L506.52,737.37 L506.75,738.12 L506.97,738.88 L507.19,739.64 L507.42,740.41 L507.64,741.16 L507.86,741.90 L508.09,742.63 L508.31,743.34 L508.53,744.02 L508.76,744.68 L508.98,745.31 L509.20,745.91 L509.43,746.48 L509.65,747.02 L509.88,747.53 L510.10,748.01 L510.32,748.46 L510.55,748.89 L510.77,749.29 L510.99,749.66 L511.22,750.01 L511.44,750.35 L511.66,750.66 L511.89,750.95 L512.11,751.24 L512.33,751.50 L512.56,751.76 L512.78,752.01 L513.00,752.24 L513.23,752.47 L513.45,752.70 L513.67,752.92 L513.90,753.13 L514.12,753.35 L514.34,753.56 L514.57,753.77 L514.79,753.98 L515.01,754.18 L515.24,754.39 L515.46,754.60 L515.68,754.81 L515.91,755.02 L516.13,755.23 L516.35,755.45 L516.58,755.66 L516.80,755.88 L517.02,756.10 L517.25,756.32 L517.47,756.54 L517.69,756.76 L517.92,756.99 L518.14,757.21 L518.36,757.44 L518.59,757.67 L518.81,757.90 L519.03,758.13 L519.26,758.37 L519.48,758.60 L519.70,758.84 L519.93,759.08 L520.15,759.31 L520.38,759.55 L520.60,759.79 L520.82,760.04 L521.05,760.28 L521.27,760.52 L521.49,760.76 L521.72,761.01 L521.94,761.25 L522.16,761.50 L522.39,761.75 L522.61,761.99 L522.83,762.24 L523.06,762.49 L523.28,762.73 L523.50,762.98 L523.73,763.23 L523.95,763.48 L524.17,763.72 L524.40,763.97 L524.62,764.22 L524.84,764.46 L525.07,764.71 L525.29,764.96 L525.51,765.20 L525.74,765.45 L525.96,765.69 L526.18,765.94 L526.41,766.18 L526.63,766.42 L526.85,766.67 L527.08,766.91 L527.30,767.15 L527.52,767.39 L527.75,767.63 L527.97,767.86 L528.19,768.10 L528.42,768.34 L528.64,768.57 L528.86,768.80 L529.09,769.04 L529.31,769.27 L529.53,769.50 L529.76,769.72 L529.98,769.95 L530.21,770.18 L530.43,770.40 L530.65,770.62 L530.88,770.84 L531.10,771.06 L531.32,771.28 L531.55,771.50 L531.77,771.71 L531.99,771.93 L532.22,772.14 L532.44,772.35 L532.66,772.55 L532.89,772.76 L533.11,772.96 L533.33,773.16 L533.56,773.36 L533.78,773.56 L534.00,773.75 L534.23,773.95 L534.45,774.14 L534.67,774.32 L534.90,774.50 L535.12,774.68 L535.34,774.86 L535.57,775.03 L535.79,775.19 L536.01,775.35 L536.24,775.50 L536.46,775.64 L536.68,775.77 L536.91,775.89 L537.13,776.00 L537.35,776.10 L537.58,776.18 L537.80,776.24 L538.02,776.28 L538.25,776.30 L538.47,776.29 L538.69,776.25 L538.92,776.18 L539.14,776.08 L539.37,775.93 L539.59,775.74 L539.81,775.50 L540.04,775.21 L540.26,774.86 L540.48,774.45 L540.71,773.99 L540.93,773.45 L541.15,772.85 L541.38,772.18 L541.60,771.43 L541.82,770.62 L542.05,769.73 L542.27,768.77 L542.49,767.75 L542.72,766.66 L542.94,765.51 L543.16,764.32 L543.39,763.07 L543.61,761.80 L543.83,760.49 L544.06,759.18 L544.28,757.86 L544.50,756.55 L544.73,755.27 L544.95,754.02 L545.17,752.83 L545.40,751.71 L545.62,750.67 L545.84,749.73 L546.07,748.89 L546.29,748.18 L546.51,747.59 L546.74,747.14 L546.96,746.84 L547.18,746.69 L547.41,746.70 L547.63,746.85 L547.85,747.17 L548.08,747.63 L548.30,748.24 L548.52,748.99 L548.75,749.87 L548.97,750.87 L549.19,751.97 L549.42,753.18 L549.64,754.46 L549.87,755.82 L550.09,757.23 L550.31,758.67 L550.54,760.15 L550.76,761.63 L550.98,763.11 L551.21,764.58 L551.43,766.03 L551.65,767.44 L551.88,768.81 L552.10,770.12 L552.32,771.38 L552.55,772.58 L552.77,773.71 L552.99,774.77 L553.22,775.75 L553.44,776.67 L553.66,777.52 L553.89,778.30 L554.11,779.01 L554.33,779.65 L554.56,780.23 L554.78,780.76 L555.00,781.22 L555.23,781.64 L555.45,782.00 L555.67,782.33 L555.90,782.60 L556.12,782.84 L556.34,783.05 L556.57,783.22 L556.79,783.36 L557.01,783.46 L557.24,783.54 L557.46,783.59 L557.68,783.60 L557.91,783.59 L558.13,783.54 L558.35,783.46 L558.58,783.34 L558.80,783.17 L559.02,782.96 L559.25,782.70 L559.47,782.37 L559.70,781.98 L559.92,781.51 L560.14,780.96 L560.37,780.31 L560.59,779.56 L560.81,778.69 L561.04,777.69 L561.26,776.56 L561.48,775.28 L561.71,773.83 L561.93,772.21 L562.15,770.41 L562.38,768.42 L562.60,766.23 L562.82,763.83 L563.05,761.22 L563.27,758.41 L563.49,755.38 L563.72,752.15 L563.94,748.73 L564.16,745.12 L564.39,741.34 L564.61,737.41 L564.83,733.35 L565.06,729.19 L565.28,724.96 L565.50,720.69 L565.73,716.43 L565.95,712.20 L566.17,708.05 L566.40,704.03 L566.62,700.17 L566.84,696.52 L567.07,693.12 L567.29,690.01 L567.51,687.23 L567.74,684.82 L567.96,682.80 L568.18,681.21 L568.41,680.05 L568.63,679.35 L568.86,679.12 L569.08,679.36 L569.30,680.07 L569.53,681.23 L569.75,682.84 L569.97,684.86 L570.20,687.29 L570.42,690.07 L570.64,693.19 L570.87,696.60 L571.09,700.26 L571.31,704.12 L571.54,708.16 L571.76,712.31 L571.98,716.55 L572.21,720.83 L572.43,725.11 L572.65,729.35 L572.88,733.52 L573.10,737.58 L573.32,741.53 L573.55,745.32 L573.77,748.94 L573.99,752.38 L574.22,755.62 L574.44,758.66 L574.66,761.49 L574.89,764.11 L575.11,766.52 L575.33,768.72 L575.56,770.73 L575.78,772.55 L576.00,774.18 L576.23,775.64 L576.45,776.95 L576.67,778.10 L576.90,779.11 L577.12,780.00 L577.34,780.78 L577.57,781.45 L577.79,782.03 L578.01,782.53 L578.24,782.95 L578.46,783.31 L578.68,783.62 L578.91,783.87 L579.13,784.09 L579.36,784.27 L579.58,784.41 L579.80,784.53 L580.03,784.63 L580.25,784.72 L580.47,784.78 L580.70,784.83 L580.92,784.88 L581.14,784.91 L581.37,784.93 L581.59,784.96 L581.81,784.97 L582.04,784.98 L582.26,784.99 L582.48,785.00 L582.71,785.00 L582.93,785.01 L583.15,785.01 L583.38,785.01 L583.60,785.01 L583.82,785.01 L584.05,785.01 L584.27,785.01 L584.49,785.01 L584.72,785.00 L584.94,785.00 L585.16,785.00 L585.39,785.00 L585.61,785.00 L585.83,785.00 L586.06,784.99 L586.28,784.99 L586.50,784.99 L586.73,784.99 L586.95,784.98 L587.17,784.98 L587.40,784.98 L587.62,784.98 L587.84,784.98 L588.07,784.97 L588.29,784.97 L588.51,784.97 L588.74,784.97 L588.96,784.96 L589.19,784.96 L589.41,784.96 L589.63,784.96 L589.86,784.95 L590.08,784.95 L590.30,784.95 L590.53,784.95 L590.75,784.95 L590.97,784.94 L591.20,784.94 L591.42,784.94 L591.64,784.94 L591.87,784.93 L592.09,784.93 L592.31,784.93 L592.54,784.93 L592.76,784.92 L592.98,784.92 L593.21,784.92 L593.43,784.92 L593.65,784.91 L593.88,784.91 L594.10,784.91 L594.32,784.91 L594.55,784.90 L594.77,784.90 L594.99,784.90 L595.22,784.90 L595.44,784.89 L595.66,784.89 L595.89,784.89 L596.11,784.89 L596.33,784.89 L596.56,784.88 L596.78,784.88 L597.00,784.88 L597.23,784.88 L597.45,784.87 L597.67,784.87 L597.90,784.87 L598.12,784.87 L598.35,784.86 L598.57,784.86 L598.79,784.86 L599.02,784.86 L599.24,784.85 L599.46,784.85 L599.69,784.85 L599.91,784.85 L600.13,784.84 L600.36,784.84 L600.58,784.84 L600.80,784.84 L601.03,784.83 L601.25,784.83 L601.47,784.83 L601.70,784.83 L601.92,784.82 L602.14,784.82 L602.37,784.82 L602.59,784.82 L602.81,784.81 L603.04,784.81 L603.26,784.81 L603.48,784.81 L603.71,784.80 L603.93,784.80 L604.15,784.80 L604.38,784.80 L604.60,784.79 L604.82,784.79 L605.05,784.79 L605.27,784.79 L605.49,784.78 L605.72,784.78 L605.94,784.78 L606.16,784.78 L606.39,784.77 L606.61,784.77 L606.83,784.77 L607.06,784.77 L607.28,784.76 L607.50,784.76 L607.73,784.76 L607.95,784.76 L608.17,784.76 L608.40,784.75 L608.62,784.75 L608.85,784.75 L609.07,784.75 L609.29,784.74 L609.52,784.74 L609.74,784.74 L609.96,784.74 L610.19,784.73 L610.41,784.73 L610.63,784.73 L610.86,784.73 L611.08,784.72 L611.30,784.72 L611.53,784.72 L611.75,784.72 L611.97,784.71 L612.20,784.71 L612.42,784.71 L612.64,784.71 L612.87,784.70 L613.09,784.70 L613.31,784.70 L613.54,784.70 L613.76,784.69 L613.98,784.69 L614.21,784.69 L614.43,784.69 L614.65,784.68 L614.88,784.68 L615.10,784.68 L615.32,784.68 L615.55,784.68 L615.77,784.67 L615.99,784.67 L616.22,784.67 L616.44,784.67 L616.66,784.66 L616.89,784.66 L617.11,784.66 L617.33,784.66 L617.56,784.65 L617.78,784.65 L618.00,784.65 L618.23,784.65 L618.45,784.64 L618.68,784.64 L618.90,784.64 L619.12,784.64 L619.35,784.63 L619.57,784.63 L619.79,784.63 L620.02,784.63 L620.24,784.62 L620.46,784.62 L620.69,784.62 L620.91,784.62 L621.13,784.62 L621.36,784.61 L621.58,784.61 L621.80,784.61 L622.03,784.61 L622.25,784.60 L622.47,784.60 L622.70,784.60 L622.92,784.60 L623.14,784.59 L623.37,784.59 L623.59,784.59 L623.81,784.59 L624.04,784.58 L624.26,784.58 L624.48,784.58 L624.71,784.58 L624.93,784.57 L625.15,784.57 L625.38,784.57 L625.60,784.57 L625.82,784.57 L626.05,784.56 L626.27,784.56 L626.49,784.56 L626.72,784.56 L626.94,784.55 L627.16,784.55 L627.39,784.55 L627.61,784.55 L627.84,784.54 L628.06,784.54 L628.28,784.54 L628.51,784.54 L628.73,784.53 L628.95,784.53 L629.18,784.53 L629.40,784.53 L629.62,784.53 L629.85,784.52 L630.07,784.52 L630.29,784.52 L630.52,784.52 L630.74,784.51 L630.96,784.51 L631.19,784.51 L631.41,784.51 L631.63,784.50 L631.86,784.50 L632.08,784.50 L632.30,784.50 L632.53,784.49 L632.75,784.49 L632.97,784.49 L633.20,784.49 L633.42,784.49 L633.64,784.48 L633.87,784.48 L634.09,784.48 L634.31,784.48 L634.54,784.47 L634.76,784.47 L634.98,784.47 L635.21,784.47 L635.43,784.46 L635.65,784.46 L635.88,784.46 L636.10,784.46 L636.32,784.46 L636.55,784.45 L636.77,784.45 L636.99,784.45 L637.22,784.45 L637.44,784.44 L637.66,784.44 L637.89,784.44 L638.11,784.44 L638.34,784.43 L638.56,784.43 L638.78,784.43 L639.01,784.43 L639.23,784.43 L639.45,784.42 L639.68,784.42 L639.90,784.42 L640.12,784.42 L640.35,784.41 L640.57,784.41 L640.79,784.41 L641.02,784.41 L641.24,784.40 L641.46,784.40 L641.69,784.40 L641.91,784.40 L642.13,784.40 L642.36,784.39 L642.58,784.39 L642.80,784.39 L643.03,784.39 L643.25,784.38 L643.47,784.38 L643.70,784.38 L643.92,784.38 L644.14,784.37 L644.37,784.37 L644.59,784.37 L644.81,784.37 L645.04,784.37 L645.26,784.36 L645.48,784.36 L645.71,784.36 L645.93,784.36 L646.15,784.35 L646.38,784.35 L646.60,784.35 L646.82,784.35 L647.05,784.34 L647.27,784.34 L647.49,784.34 L647.72,784.34 L647.94,784.34 L648.17,784.33 L648.39,784.33 L648.61,784.33 L648.84,784.33 L649.06,784.32 L649.28,784.32 L649.51,784.32 L649.73,784.32 L649.95,784.32 L650.18,784.31 L650.40,784.31 L650.62,784.31 L650.85,784.31 L651.07,784.30 L651.29,784.30 L651.52,784.30 L651.74,784.30 L651.96,784.29 L652.19,784.29 L652.41,784.29 L652.63,784.29 L652.86,784.29 L653.08,784.28 L653.30,784.28 L653.53,784.28 L653.75,784.28 L653.97,784.27 L654.20,784.27 L654.42,784.27 L654.64,784.27 L654.87,784.27 L655.09,784.26 L655.31,784.26 L655.54,784.26 L655.76,784.26 L655.98,784.25 L656.21,784.25 L656.43,784.25 L656.65,784.25 L656.88,784.25 L657.10,784.24 L657.33,784.24 L657.55,784.24 L657.77,784.24 L658.00,784.23 L658.22,784.23 L658.44,784.23 L658.67,784.23 L658.89,784.23 L659.11,784.22 L659.34,784.22 L659.56,784.22 L659.78,784.22 L660.01,784.21 L660.23,784.21 L660.45,784.21 L660.68,784.21 L660.90,784.21 L661.12,784.20 L661.35,784.20 L661.57,784.20 L661.79,784.20 L662.02,784.19 L662.24,784.19 L662.46,784.19 L662.69,784.19 L662.91,784.19 L663.13,784.18 L663.36,784.18 L663.58,784.18 L663.80,784.18 L664.03,784.17 L664.25,784.17 L664.47,784.17 L664.70,784.17 L664.92,784.17 L665.14,784.16 L665.37,784.16 L665.59,784.16 L665.81,784.16 L666.04,784.15 L666.26,784.15 L666.48,784.15 L666.71,784.15 L666.93,784.15 L667.15,784.14 L667.38,784.14 L667.60,784.14 L667.83,784.14 L668.05,784.13 L668.27,784.13 L668.50,784.13 L668.72,784.13 L668.94,784.13 L669.17,784.12 L669.39,784.12 L669.61,784.12 L669.84,784.12 L670.06,784.12 L670.28,784.11 L670.51,784.11 L670.73,784.11 L670.95,784.11 L671.18,784.10 L671.40,784.10 L671.62,784.10 L671.85,784.10 L672.07,784.10 L672.29,784.09 L672.52,784.09 L672.74,784.09 L672.96,784.09 L673.19,784.08 L673.41,784.08 L673.63,784.08 L673.86,784.08 L674.08,784.08 L674.30,784.07 L674.53,784.07 L674.75,784.07 L674.97,784.07 L675.20,784.07 L675.42,784.06 L675.64,784.06 L675.87,784.06 L676.09,784.06 L676.31,784.05 L676.54,784.05 L676.76,784.05 L676.98,784.05 L677.21,784.05 L677.43,784.04 L677.66,784.04 L677.88,784.04 L678.10,784.04 L678.33,784.03 L678.55,784.03 L678.77,784.03 L679.00,784.03 L679.22,784.03 L679.44,784.02 L679.67,784.02 L679.89,784.02 L680.11,784.02 L680.34,784.02 L680.56,784.01 L680.78,784.01 L681.01,784.01 L681.23,784.01 L681.45,784.00 L681.68,784.00 L681.90,784.00" fill="none" stroke="#111" stroke-width="1.5" stroke-linejoin="round" clip-path="url(#cf)"/>
<path d="M387.00,685.13 L387.22,685.15 L387.45,685.16 L387.67,685.17 L387.89,685.18 L388.12,685.19 L388.34,685.20 L388.56,685.22 L388.79,685.23 L389.01,685.24 L389.23,685.25 L389.46,685.26 L389.68,685.27 L389.90,685.29 L390.13,685.30 L390.35,685.31 L390.57,685.32 L390.80,685.33 L391.02,685.34 L391.24,685.36 L391.47,685.37 L391.69,685.38 L391.92,685.39 L392.14,685.40 L392.36,685.41 L392.59,685.43 L392.81,685.44 L393.03,685.45 L393.26,685.46 L393.48,685.47 L393.70,685.48 L393.93,685.50 L394.15,685.51 L394.37,685.52 L394.60,685.53 L394.82,685.54 L395.04,685.55 L395.27,685.56 L395.49,685.58 L395.71,685.59 L395.94,685.60 L396.16,685.61 L396.38,685.62 L396.61,685.63 L396.83,685.65 L397.05,685.66 L397.28,685.67 L397.50,685.68 L397.72,685.69 L397.95,685.70 L398.17,685.71 L398.39,685.73 L398.62,685.74 L398.84,685.75 L399.06,685.76 L399.29,685.77 L399.51,685.78 L399.73,685.80 L399.96,685.81 L400.18,685.82 L400.40,685.83 L400.63,685.84 L400.85,685.85 L401.07,685.86 L401.30,685.88 L401.52,685.89 L401.75,685.90 L401.97,685.91 L402.19,685.92 L402.42,685.93 L402.64,685.94 L402.86,685.96 L403.09,685.97 L403.31,685.98 L403.53,685.99 L403.76,686.00 L403.98,686.01 L404.20,686.02 L404.43,686.04 L404.65,686.05 L404.87,686.06 L405.10,686.07 L405.32,686.08 L405.54,686.09 L405.77,686.10 L405.99,686.12 L406.21,686.13 L406.44,686.14 L406.66,686.15 L406.88,686.16 L407.11,686.17 L407.33,686.18 L407.55,686.19 L407.78,686.21 L408.00,686.22 L408.22,686.23 L408.45,686.24 L408.67,686.25 L408.89,686.26 L409.12,686.27 L409.34,686.29 L409.56,686.30 L409.79,686.31 L410.01,686.32 L410.23,686.33 L410.46,686.34 L410.68,686.35 L410.90,686.36 L411.13,686.38 L411.35,686.39 L411.57,686.40 L411.80,686.41 L412.02,686.42 L412.25,686.43 L412.47,686.44 L412.69,686.45 L412.92,686.47 L413.14,686.48 L413.36,686.49 L413.59,686.50 L413.81,686.51 L414.03,686.52 L414.26,686.53 L414.48,686.54 L414.70,686.56 L414.93,686.57 L415.15,686.58 L415.37,686.59 L415.60,686.60 L415.82,686.61 L416.04,686.62 L416.27,686.63 L416.49,686.65 L416.71,686.66 L416.94,686.67 L417.16,686.68 L417.38,686.69 L417.61,686.70 L417.83,686.71 L418.05,686.72 L418.28,686.73 L418.50,686.75 L418.72,686.76 L418.95,686.77 L419.17,686.78 L419.39,686.79 L419.62,686.80 L419.84,686.81 L420.06,686.82 L420.29,686.83 L420.51,686.85 L420.73,686.86 L420.96,686.87 L421.18,686.88 L421.40,686.89 L421.63,686.90 L421.85,686.91 L422.08,686.92 L422.30,686.93 L422.52,686.94 L422.75,686.96 L422.97,686.97 L423.19,686.98 L423.42,686.99 L423.64,687.00 L423.86,687.01 L424.09,687.02 L424.31,687.03 L424.53,687.04 L424.76,687.05 L424.98,687.07 L425.20,687.08 L425.43,687.09 L425.65,687.10 L425.87,687.11 L426.10,687.12 L426.32,687.13 L426.54,687.14 L426.77,687.15 L426.99,687.16 L427.21,687.17 L427.44,687.18 L427.66,687.20 L427.88,687.21 L428.11,687.22 L428.33,687.23 L428.55,687.24 L428.78,687.25 L429.00,687.26 L429.22,687.27 L429.45,687.28 L429.67,687.29 L429.89,687.30 L430.12,687.31 L430.34,687.32 L430.56,687.33 L430.79,687.35 L431.01,687.36 L431.24,687.37 L431.46,687.38 L431.68,687.39 L431.91,687.40 L432.13,687.41 L432.35,687.42 L432.58,687.43 L432.80,687.44 L433.02,687.45 L433.25,687.46 L433.47,687.47 L433.69,687.48 L433.92,687.49 L434.14,687.50 L434.36,687.51 L434.59,687.52 L434.81,687.53 L435.03,687.54 L435.26,687.55 L435.48,687.56 L435.70,687.57 L435.93,687.58 L436.15,687.59 L436.37,687.60 L436.60,687.61 L436.82,687.62 L437.04,687.63 L437.27,687.64 L437.49,687.65 L437.71,687.66 L437.94,687.67 L438.16,687.68 L438.38,687.69 L438.61,687.70 L438.83,687.71 L439.05,687.72 L439.28,687.73 L439.50,687.74 L439.72,687.75 L439.95,687.76 L440.17,687.77 L440.39,687.78 L440.62,687.79 L440.84,687.80 L441.06,687.81 L441.29,687.81 L441.51,687.82 L441.74,687.83 L441.96,687.84 L442.18,687.85 L442.41,687.86 L442.63,687.87 L442.85,687.88 L443.08,687.89 L443.30,687.89 L443.52,687.90 L443.75,687.91 L443.97,687.92 L444.19,687.93 L444.42,687.94 L444.64,687.94 L444.86,687.95 L445.09,687.96 L445.31,687.97 L445.53,687.97 L445.76,687.98 L445.98,687.99 L446.20,688.00 L446.43,688.01 L446.65,688.01 L446.87,688.02 L447.10,688.03 L447.32,688.03 L447.54,688.04 L447.77,688.05 L447.99,688.05 L448.21,688.06 L448.44,688.07 L448.66,688.07 L448.88,688.08 L449.11,688.09 L449.33,688.09 L449.55,688.10 L449.78,688.10 L450.00,688.11 L450.22,688.11 L450.45,688.12 L450.67,688.13 L450.89,688.13 L451.12,688.14 L451.34,688.14 L451.57,688.14 L451.79,688.15 L452.01,688.15 L452.24,688.16 L452.46,688.16 L452.68,688.17 L452.91,688.17 L453.13,688.17 L453.35,688.18 L453.58,688.18 L453.80,688.18 L454.02,688.18 L454.25,688.19 L454.47,688.19 L454.69,688.19 L454.92,688.19 L455.14,688.20 L455.36,688.20 L455.59,688.20 L455.81,688.20 L456.03,688.20 L456.26,688.20 L456.48,688.20 L456.70,688.20 L456.93,688.20 L457.15,688.20 L457.37,688.20 L457.60,688.20 L457.82,688.20 L458.04,688.20 L458.27,688.20 L458.49,688.20 L458.71,688.20 L458.94,688.19 L459.16,688.19 L459.38,688.19 L459.61,688.19 L459.83,688.18 L460.05,688.18 L460.28,688.18 L460.50,688.17 L460.73,688.17 L460.95,688.16 L461.17,688.16 L461.40,688.16 L461.62,688.15 L461.84,688.14 L462.07,688.14 L462.29,688.13 L462.51,688.13 L462.74,688.12 L462.96,688.11 L463.18,688.11 L463.41,688.10 L463.63,688.09 L463.85,688.08 L464.08,688.07 L464.30,688.07 L464.52,688.06 L464.75,688.05 L464.97,688.04 L465.19,688.03 L465.42,688.02 L465.64,688.01 L465.86,688.00 L466.09,687.98 L466.31,687.97 L466.53,687.96 L466.76,687.95 L466.98,687.94 L467.20,687.92 L467.43,687.91 L467.65,687.90 L467.87,687.88 L468.10,687.87 L468.32,687.85 L468.54,687.84 L468.77,687.82 L468.99,687.81 L469.21,687.79 L469.44,687.78 L469.66,687.76 L469.88,687.74 L470.11,687.72 L470.33,687.71 L470.56,687.69 L470.78,687.67 L471.00,687.65 L471.23,687.63 L471.45,687.61 L471.67,687.59 L471.90,687.57 L472.12,687.55 L472.34,687.53 L472.57,687.51 L472.79,687.49 L473.01,687.47 L473.24,687.45 L473.46,687.43 L473.68,687.40 L473.91,687.38 L474.13,687.36 L474.35,687.34 L474.58,687.31 L474.80,687.29 L475.02,687.26 L475.25,687.24 L475.47,687.21 L475.69,687.19 L475.92,687.16 L476.14,687.14 L476.36,687.11 L476.59,687.09 L476.81,687.06 L477.03,687.03 L477.26,687.01 L477.48,686.98 L477.70,686.95 L477.93,686.93 L478.15,686.90 L478.37,686.87 L478.60,686.84 L478.82,686.81 L479.04,686.79 L479.27,686.76 L479.49,686.73 L479.71,686.70 L479.94,686.67 L480.16,686.64 L480.38,686.61 L480.61,686.58 L480.83,686.55 L481.06,686.52 L481.28,686.49 L481.50,686.46 L481.73,686.43 L481.95,686.40 L482.17,686.37 L482.40,686.34 L482.62,686.31 L482.84,686.28 L483.07,686.25 L483.29,686.22 L483.51,686.19 L483.74,686.16 L483.96,686.13 L484.18,686.10 L484.41,686.07 L484.63,686.04 L484.85,686.01 L485.08,685.98 L485.30,685.95 L485.52,685.92 L485.75,685.89 L485.97,685.86 L486.19,685.83 L486.42,685.80 L486.64,685.77 L486.86,685.74 L487.09,685.71 L487.31,685.68 L487.53,685.65 L487.76,685.63 L487.98,685.60 L488.20,685.57 L488.43,685.54 L488.65,685.51 L488.87,685.49 L489.10,685.46 L489.32,685.43 L489.54,685.41 L489.77,685.38 L489.99,685.35 L490.21,685.33 L490.44,685.30 L490.66,685.28 L490.89,685.25 L491.11,685.23 L491.33,685.20 L491.56,685.18 L491.78,685.16 L492.00,685.13 L492.23,685.11 L492.45,685.09 L492.67,685.07 L492.90,685.05 L493.12,685.03 L493.34,685.01 L493.57,684.99 L493.79,684.97 L494.01,684.95 L494.24,684.93 L494.46,684.91 L494.68,684.89 L494.91,684.88 L495.13,684.86 L495.35,684.85 L495.58,684.83 L495.80,684.82 L496.02,684.80 L496.25,684.79 L496.47,684.78 L496.69,684.76 L496.92,684.75 L497.14,684.74 L497.36,684.73 L497.59,684.72 L497.81,684.71 L498.03,684.71 L498.26,684.70 L498.48,684.69 L498.70,684.68 L498.93,684.68 L499.15,684.67 L499.37,684.67 L499.60,684.67 L499.82,684.66 L500.05,684.66 L500.27,684.66 L500.49,684.66 L500.72,684.66 L500.94,684.66 L501.16,684.66 L501.39,684.66 L501.61,684.67 L501.83,684.67 L502.06,684.67 L502.28,684.68 L502.50,684.68 L502.73,684.69 L502.95,684.70 L503.17,684.71 L503.40,684.71 L503.62,684.72 L503.84,684.73 L504.07,684.74 L504.29,684.76 L504.51,684.77 L504.74,684.78 L504.96,684.80 L505.18,684.81 L505.41,684.83 L505.63,684.84 L505.85,684.86 L506.08,684.88 L506.30,684.89 L506.52,684.91 L506.75,684.93 L506.97,684.95 L507.19,684.97 L507.42,685.00 L507.64,685.02 L507.86,685.04 L508.09,685.07 L508.31,685.09 L508.53,685.11 L508.76,685.14 L508.98,685.17 L509.20,685.19 L509.43,685.22 L509.65,685.25 L509.88,685.28 L510.10,685.31 L510.32,685.34 L510.55,685.37 L510.77,685.40 L510.99,685.43 L511.22,685.47 L511.44,685.50 L511.66,685.53 L511.89,685.57 L512.11,685.60 L512.33,685.64 L512.56,685.68 L512.78,685.71 L513.00,685.75 L513.23,685.79 L513.45,685.83 L513.67,685.87 L513.90,685.90 L514.12,685.94 L514.34,685.98 L514.57,686.03 L514.79,686.07 L515.01,686.11 L515.24,686.15 L515.46,686.19 L515.68,686.24 L515.91,686.28 L516.13,686.32 L516.35,686.37 L516.58,686.41 L516.80,686.46 L517.02,686.50 L517.25,686.55 L517.47,686.59 L517.69,686.64 L517.92,686.68 L518.14,686.73 L518.36,686.78 L518.59,686.82 L518.81,686.87 L519.03,686.92 L519.26,686.97 L519.48,687.01 L519.70,687.06 L519.93,687.11 L520.15,687.16 L520.38,687.21 L520.60,687.26 L520.82,687.31 L521.05,687.36 L521.27,687.40 L521.49,687.45 L521.72,687.50 L521.94,687.55 L522.16,687.60 L522.39,687.65 L522.61,687.70 L522.83,687.75 L523.06,687.80 L523.28,687.85 L523.50,687.90 L523.73,687.95 L523.95,688.00 L524.17,688.05 L524.40,688.10 L524.62,688.15 L524.84,688.20 L525.07,688.25 L525.29,688.30 L525.51,688.35 L525.74,688.40 L525.96,688.45 L526.18,688.50 L526.41,688.55 L526.63,688.60 L526.85,688.65 L527.08,688.69 L527.30,688.74 L527.52,688.79 L527.75,688.84 L527.97,688.89 L528.19,688.94 L528.42,688.99 L528.64,689.03 L528.86,689.08 L529.09,689.13 L529.31,689.18 L529.53,689.22 L529.76,689.27 L529.98,689.32 L530.21,689.36 L530.43,689.41 L530.65,689.45 L530.88,689.50 L531.10,689.54 L531.32,689.59 L531.55,689.63 L531.77,689.68 L531.99,689.72 L532.22,689.77 L532.44,689.81 L532.66,689.85 L532.89,689.90 L533.11,689.94 L533.33,689.98 L533.56,690.03 L533.78,690.07 L534.00,690.11 L534.23,690.15 L534.45,690.19 L534.67,690.23 L534.90,690.27 L535.12,690.31 L535.34,690.35 L535.57,690.39 L535.79,690.43 L536.01,690.47 L536.24,690.51 L536.46,690.55 L536.68,690.58 L536.91,690.62 L537.13,690.66 L537.35,690.70 L537.58,690.73 L537.80,690.77 L538.02,690.80 L538.25,690.84 L538.47,690.87 L538.69,690.91 L538.92,690.94 L539.14,690.98 L539.37,691.01 L539.59,691.05 L539.81,691.08 L540.04,691.11 L540.26,691.14 L540.48,691.18 L540.71,691.21 L540.93,691.24 L541.15,691.27 L541.38,691.30 L541.60,691.33 L541.82,691.36 L542.05,691.39 L542.27,691.42 L542.49,691.45 L542.72,691.48 L542.94,691.51 L543.16,691.54 L543.39,691.57 L543.61,691.59 L543.83,691.62 L544.06,691.65 L544.28,691.67 L544.50,691.70 L544.73,691.73 L544.95,691.75 L545.17,691.78 L545.40,691.80 L545.62,691.83 L545.84,691.85 L546.07,691.88 L546.29,691.90 L546.51,691.93 L546.74,691.95 L546.96,691.97 L547.18,692.00 L547.41,692.02 L547.63,692.04 L547.85,692.06 L548.08,692.09 L548.30,692.11 L548.52,692.13 L548.75,692.15 L548.97,692.17 L549.19,692.19 L549.42,692.21 L549.64,692.23 L549.87,692.25 L550.09,692.27 L550.31,692.29 L550.54,692.31 L550.76,692.33 L550.98,692.35 L551.21,692.37 L551.43,692.39 L551.65,692.41 L551.88,692.42 L552.10,692.44 L552.32,692.46 L552.55,692.48 L552.77,692.50 L552.99,692.51 L553.22,692.53 L553.44,692.55 L553.66,692.56 L553.89,692.58 L554.11,692.60 L554.33,692.61 L554.56,692.63 L554.78,692.64 L555.00,692.66 L555.23,692.67 L555.45,692.69 L555.67,692.71 L555.90,692.72 L556.12,692.74 L556.34,692.75 L556.57,692.76 L556.79,692.78 L557.01,692.79 L557.24,692.81 L557.46,692.82 L557.68,692.84 L557.91,692.85 L558.13,692.86 L558.35,692.88 L558.58,692.89 L558.80,692.90 L559.02,692.92 L559.25,692.93 L559.47,692.94 L559.70,692.96 L559.92,692.97 L560.14,692.98 L560.37,692.99 L560.59,693.01 L560.81,693.02 L561.04,693.03 L561.26,693.04 L561.48,693.05 L561.71,693.07 L561.93,693.08 L562.15,693.09 L562.38,693.10 L562.60,693.11 L562.82,693.12 L563.05,693.14 L563.27,693.15 L563.49,693.16 L563.72,693.17 L563.94,693.18 L564.16,693.19 L564.39,693.20 L564.61,693.21 L564.83,693.23 L565.06,693.24 L565.28,693.25 L565.50,693.26 L565.73,693.27 L565.95,693.28 L566.17,693.29 L566.40,693.30 L566.62,693.31 L566.84,693.32 L567.07,693.33 L567.29,693.34 L567.51,693.35 L567.74,693.36 L567.96,693.37 L568.18,693.38 L568.41,693.39 L568.63,693.40 L568.86,693.41 L569.08,693.42 L569.30,693.43 L569.53,693.44 L569.75,693.45 L569.97,693.46 L570.20,693.47 L570.42,693.48 L570.64,693.49 L570.87,693.50 L571.09,693.51 L571.31,693.52 L571.54,693.53 L571.76,693.54 L571.98,693.55 L572.21,693.56 L572.43,693.57 L572.65,693.58 L572.88,693.59 L573.10,693.60 L573.32,693.61 L573.55,693.62 L573.77,693.62 L573.99,693.63 L574.22,693.64 L574.44,693.65 L574.66,693.66 L574.89,693.67 L575.11,693.68 L575.33,693.69 L575.56,693.70 L575.78,693.71 L576.00,693.72 L576.23,693.73 L576.45,693.73 L576.67,693.74 L576.90,693.75 L577.12,693.76 L577.34,693.77 L577.57,693.78 L577.79,693.79 L578.01,693.80 L578.24,693.81 L578.46,693.82 L578.68,693.83 L578.91,693.83 L579.13,693.84 L579.36,693.85 L579.58,693.86 L579.80,693.87 L580.03,693.88 L580.25,693.89 L580.47,693.90 L580.70,693.91 L580.92,693.91 L581.14,693.92 L581.37,693.93 L581.59,693.94 L581.81,693.95 L582.04,693.96 L582.26,693.97 L582.48,693.98 L582.71,693.98 L582.93,693.99 L583.15,694.00 L583.38,694.01 L583.60,694.02 L583.82,694.03 L584.05,694.04 L584.27,694.05 L584.49,694.06 L584.72,694.06 L584.94,694.07 L585.16,694.08 L585.39,694.09 L585.61,694.10 L585.83,694.11 L586.06,694.12 L586.28,694.12 L586.50,694.13 L586.73,694.14 L586.95,694.15 L587.17,694.16 L587.40,694.17 L587.62,694.18 L587.84,694.19 L588.07,694.19 L588.29,694.20 L588.51,694.21 L588.74,694.22 L588.96,694.23 L589.19,694.24 L589.41,694.25 L589.63,694.25 L589.86,694.26 L590.08,694.27 L590.30,694.28 L590.53,694.29 L590.75,694.30 L590.97,694.31 L591.20,694.31 L591.42,694.32 L591.64,694.33 L591.87,694.34 L592.09,694.35 L592.31,694.36 L592.54,694.37 L592.76,694.38 L592.98,694.38 L593.21,694.39 L593.43,694.40 L593.65,694.41 L593.88,694.42 L594.10,694.43 L594.32,694.43 L594.55,694.44 L594.77,694.45 L594.99,694.46 L595.22,694.47 L595.44,694.48 L595.66,694.49 L595.89,694.49 L596.11,694.50 L596.33,694.51 L596.56,694.52 L596.78,694.53 L597.00,694.54 L597.23,694.55 L597.45,694.55 L597.67,694.56 L597.90,694.57 L598.12,694.58 L598.35,694.59 L598.57,694.60 L598.79,694.61 L599.02,694.61 L599.24,694.62 L599.46,694.63 L599.69,694.64 L599.91,694.65 L600.13,694.66 L600.36,694.66 L600.58,694.67 L600.80,694.68 L601.03,694.69 L601.25,694.70 L601.47,694.71 L601.70,694.72 L601.92,694.72 L602.14,694.73 L602.37,694.74 L602.59,694.75 L602.81,694.76 L603.04,694.77 L603.26,694.77 L603.48,694.78 L603.71,694.79 L603.93,694.80 L604.15,694.81 L604.38,694.82 L604.60,694.82 L604.82,694.83 L605.05,694.84 L605.27,694.85 L605.49,694.86 L605.72,694.87 L605.94,694.88 L606.16,694.88 L606.39,694.89 L606.61,694.90 L606.83,694.91 L607.06,694.92 L607.28,694.93 L607.50,694.93 L607.73,694.94 L607.95,694.95 L608.17,694.96 L608.40,694.97 L608.62,694.98 L608.85,694.98 L609.07,694.99 L609.29,695.00 L609.52,695.01 L609.74,695.02 L609.96,695.03 L610.19,695.03 L610.41,695.04 L610.63,695.05 L610.86,695.06 L611.08,695.07 L611.30,695.08 L611.53,695.08 L611.75,695.09 L611.97,695.10 L612.20,695.11 L612.42,695.12 L612.64,695.13 L612.87,695.13 L613.09,695.14 L613.31,695.15 L613.54,695.16 L613.76,695.17 L613.98,695.18 L614.21,695.18 L614.43,695.19 L614.65,695.20 L614.88,695.21 L615.10,695.22 L615.32,695.23 L615.55,695.23 L615.77,695.24 L615.99,695.25 L616.22,695.26 L616.44,695.27 L616.66,695.27 L616.89,695.28 L617.11,695.29 L617.33,695.30 L617.56,695.31 L617.78,695.32 L618.00,695.32 L618.23,695.33 L618.45,695.34 L618.68,695.35 L618.90,695.36 L619.12,695.37 L619.35,695.37 L619.57,695.38 L619.79,695.39 L620.02,695.40 L620.24,695.41 L620.46,695.41 L620.69,695.42 L620.91,695.43 L621.13,695.44 L621.36,695.45 L621.58,695.46 L621.80,695.46 L622.03,695.47 L622.25,695.48 L622.47,695.49 L622.70,695.50 L622.92,695.50 L623.14,695.51 L623.37,695.52 L623.59,695.53 L623.81,695.54 L624.04,695.55 L624.26,695.55 L624.48,695.56 L624.71,695.57 L624.93,695.58 L625.15,695.59 L625.38,695.59 L625.60,695.60 L625.82,695.61 L626.05,695.62 L626.27,695.63 L626.49,695.64 L626.72,695.64 L626.94,695.65 L627.16,695.66 L627.39,695.67 L627.61,695.68 L627.84,695.68 L628.06,695.69 L628.28,695.70 L628.51,695.71 L628.73,695.72 L628.95,695.72 L629.18,695.73 L629.40,695.74 L629.62,695.75 L629.85,695.76 L630.07,695.77 L630.29,695.77 L630.52,695.78 L630.74,695.79 L630.96,695.80 L631.19,695.81 L631.41,695.81 L631.63,695.82 L631.86,695.83 L632.08,695.84 L632.30,695.85 L632.53,695.85 L632.75,695.86 L632.97,695.87 L633.20,695.88 L633.42,695.89 L633.64,695.89 L633.87,695.90 L634.09,695.91 L634.31,695.92 L634.54,695.93 L634.76,695.94 L634.98,695.94 L635.21,695.95 L635.43,695.96 L635.65,695.97 L635.88,695.98 L636.10,695.98 L636.32,695.99 L636.55,696.00 L636.77,696.01 L636.99,696.02 L637.22,696.02 L637.44,696.03 L637.66,696.04 L637.89,696.05 L638.11,696.06 L638.34,696.06 L638.56,696.07 L638.78,696.08 L639.01,696.09 L639.23,696.10 L639.45,696.10 L639.68,696.11 L639.90,696.12 L640.12,696.13 L640.35,696.14 L640.57,696.14 L640.79,696.15 L641.02,696.16 L641.24,696.17 L641.46,696.18 L641.69,696.18 L641.91,696.19 L642.13,696.20 L642.36,696.21 L642.58,696.22 L642.80,696.22 L643.03,696.23 L643.25,696.24 L643.47,696.25 L643.70,696.25 L643.92,696.26 L644.14,696.27 L644.37,696.28 L644.59,696.29 L644.81,696.29 L645.04,696.30 L645.26,696.31 L645.48,696.32 L645.71,696.33 L645.93,696.33 L646.15,696.34 L646.38,696.35 L646.60,696.36 L646.82,696.37 L647.05,696.37 L647.27,696.38 L647.49,696.39 L647.72,696.40 L647.94,696.41 L648.17,696.41 L648.39,696.42 L648.61,696.43 L648.84,696.44 L649.06,696.44 L649.28,696.45 L649.51,696.46 L649.73,696.47 L649.95,696.48 L650.18,696.48 L650.40,696.49 L650.62,696.50 L650.85,696.51 L651.07,696.52 L651.29,696.52 L651.52,696.53 L651.74,696.54 L651.96,696.55 L652.19,696.55 L652.41,696.56 L652.63,696.57 L652.86,696.58 L653.08,696.59 L653.30,696.59 L653.53,696.60 L653.75,696.61 L653.97,696.62 L654.20,696.63 L654.42,696.63 L654.64,696.64 L654.87,696.65 L655.09,696.66 L655.31,696.66 L655.54,696.67 L655.76,696.68 L655.98,696.69 L656.21,696.70 L656.43,696.70 L656.65,696.71 L656.88,696.72 L657.10,696.73 L657.33,696.73 L657.55,696.74 L657.77,696.75 L658.00,696.76 L658.22,696.77 L658.44,696.77 L658.67,696.78 L658.89,696.79 L659.11,696.80 L659.34,696.80 L659.56,696.81 L659.78,696.82 L660.01,696.83 L660.23,696.84 L660.45,696.84 L660.68,696.85 L660.90,696.86 L661.12,696.87 L661.35,696.87 L661.57,696.88 L661.79,696.89 L662.02,696.90 L662.24,696.91 L662.46,696.91 L662.69,696.92 L662.91,696.93 L663.13,696.94 L663.36,696.94 L663.58,696.95 L663.80,696.96 L664.03,696.97 L664.25,696.97 L664.47,696.98 L664.70,696.99 L664.92,697.00 L665.14,697.01 L665.37,697.01 L665.59,697.02 L665.81,697.03 L666.04,697.04 L666.26,697.04 L666.48,697.05 L666.71,697.06 L666.93,697.07 L667.15,697.07 L667.38,697.08 L667.60,697.09 L667.83,697.10 L668.05,697.11 L668.27,697.11 L668.50,697.12 L668.72,697.13 L668.94,697.14 L669.17,697.14 L669.39,697.15 L669.61,697.16 L669.84,697.17 L670.06,697.17 L670.28,697.18 L670.51,697.19 L670.73,697.20 L670.95,697.20 L671.18,697.21 L671.40,697.22 L671.62,697.23 L671.85,697.24 L672.07,697.24 L672.29,697.25 L672.52,697.26 L672.74,697.27 L672.96,697.27 L673.19,697.28 L673.41,697.29 L673.63,697.30 L673.86,697.30 L674.08,697.31 L674.30,697.32 L674.53,697.33 L674.75,697.33 L674.97,697.34 L675.20,697.35 L675.42,697.36 L675.64,697.36 L675.87,697.37 L676.09,697.38 L676.31,697.39 L676.54,697.40 L676.76,697.40 L676.98,697.41 L677.21,697.42 L677.43,697.43 L677.66,697.43 L677.88,697.44 L678.10,697.45 L678.33,697.46 L678.55,697.46 L678.77,697.47 L679.00,697.48 L679.22,697.49 L679.44,697.49 L679.67,697.50 L679.89,697.51 L680.11,697.52 L680.34,697.52 L680.56,697.53 L680.78,697.54 L681.01,697.55 L681.23,697.55 L681.45,697.56 L681.68,697.57 L681.90,697.58" fill="none" stroke="#f26b3f" stroke-width="1.5" stroke-linejoin="round" clip-path="url(#cf)"/>
<path d="M387.00,686.56 L387.22,686.57 L387.45,686.58 L387.67,686.58 L387.89,686.59 L388.12,686.60 L388.34,686.61 L388.56,686.62 L388.79,686.62 L389.01,686.63 L389.23,686.64 L389.46,686.65 L389.68,686.66 L389.90,686.66 L390.13,686.67 L390.35,686.68 L390.57,686.69 L390.80,686.70 L391.02,686.70 L391.24,686.71 L391.47,686.72 L391.69,686.73 L391.92,686.74 L392.14,686.74 L392.36,686.75 L392.59,686.76 L392.81,686.77 L393.03,686.78 L393.26,686.78 L393.48,686.79 L393.70,686.80 L393.93,686.81 L394.15,686.82 L394.37,686.82 L394.60,686.83 L394.82,686.84 L395.04,686.85 L395.27,686.86 L395.49,686.86 L395.71,686.87 L395.94,686.88 L396.16,686.89 L396.38,686.89 L396.61,686.90 L396.83,686.91 L397.05,686.92 L397.28,686.93 L397.50,686.93 L397.72,686.94 L397.95,686.95 L398.17,686.96 L398.39,686.97 L398.62,686.97 L398.84,686.98 L399.06,686.99 L399.29,687.00 L399.51,687.01 L399.73,687.01 L399.96,687.02 L400.18,687.03 L400.40,687.04 L400.63,687.05 L400.85,687.05 L401.07,687.06 L401.30,687.07 L401.52,687.08 L401.75,687.08 L401.97,687.09 L402.19,687.10 L402.42,687.11 L402.64,687.12 L402.86,687.12 L403.09,687.13 L403.31,687.14 L403.53,687.15 L403.76,687.16 L403.98,687.16 L404.20,687.17 L404.43,687.18 L404.65,687.19 L404.87,687.19 L405.10,687.20 L405.32,687.21 L405.54,687.22 L405.77,687.23 L405.99,687.23 L406.21,687.24 L406.44,687.25 L406.66,687.26 L406.88,687.26 L407.11,687.27 L407.33,687.28 L407.55,687.29 L407.78,687.30 L408.00,687.30 L408.22,687.31 L408.45,687.32 L408.67,687.33 L408.89,687.33 L409.12,687.34 L409.34,687.35 L409.56,687.36 L409.79,687.37 L410.01,687.37 L410.23,687.38 L410.46,687.39 L410.68,687.40 L410.90,687.40 L411.13,687.41 L411.35,687.42 L411.57,687.43 L411.80,687.44 L412.02,687.44 L412.25,687.45 L412.47,687.46 L412.69,687.47 L412.92,687.47 L413.14,687.48 L413.36,687.49 L413.59,687.50 L413.81,687.50 L414.03,687.51 L414.26,687.52 L414.48,687.53 L414.70,687.53 L414.93,687.54 L415.15,687.55 L415.37,687.56 L415.60,687.56 L415.82,687.57 L416.04,687.58 L416.27,687.59 L416.49,687.60 L416.71,687.60 L416.94,687.61 L417.16,687.62 L417.38,687.63 L417.61,687.63 L417.83,687.64 L418.05,687.65 L418.28,687.66 L418.50,687.66 L418.72,687.67 L418.95,687.68 L419.17,687.68 L419.39,687.69 L419.62,687.70 L419.84,687.71 L420.06,687.71 L420.29,687.72 L420.51,687.73 L420.73,687.74 L420.96,687.74 L421.18,687.75 L421.40,687.76 L421.63,687.76 L421.85,687.77 L422.08,687.78 L422.30,687.79 L422.52,687.79 L422.75,687.80 L422.97,687.81 L423.19,687.81 L423.42,687.82 L423.64,687.83 L423.86,687.84 L424.09,687.84 L424.31,687.85 L424.53,687.86 L424.76,687.86 L424.98,687.87 L425.20,687.88 L425.43,687.88 L425.65,687.89 L425.87,687.90 L426.10,687.90 L426.32,687.91 L426.54,687.92 L426.77,687.92 L426.99,687.93 L427.21,687.93 L427.44,687.94 L427.66,687.95 L427.88,687.95 L428.11,687.96 L428.33,687.96 L428.55,687.97 L428.78,687.98 L429.00,687.98 L429.22,687.99 L429.45,687.99 L429.67,688.00 L429.89,688.00 L430.12,688.01 L430.34,688.02 L430.56,688.02 L430.79,688.03 L431.01,688.03 L431.24,688.04 L431.46,688.04 L431.68,688.05 L431.91,688.05 L432.13,688.05 L432.35,688.06 L432.58,688.06 L432.80,688.07 L433.02,688.07 L433.25,688.08 L433.47,688.08 L433.69,688.08 L433.92,688.09 L434.14,688.09 L434.36,688.09 L434.59,688.10 L434.81,688.10 L435.03,688.10 L435.26,688.10 L435.48,688.11 L435.70,688.11 L435.93,688.11 L436.15,688.11 L436.37,688.11 L436.60,688.12 L436.82,688.12 L437.04,688.12 L437.27,688.12 L437.49,688.12 L437.71,688.12 L437.94,688.12 L438.16,688.12 L438.38,688.12 L438.61,688.12 L438.83,688.12 L439.05,688.12 L439.28,688.11 L439.50,688.11 L439.72,688.11 L439.95,688.11 L440.17,688.11 L440.39,688.10 L440.62,688.10 L440.84,688.09 L441.06,688.09 L441.29,688.09 L441.51,688.08 L441.74,688.08 L441.96,688.07 L442.18,688.06 L442.41,688.06 L442.63,688.05 L442.85,688.04 L443.08,688.04 L443.30,688.03 L443.52,688.02 L443.75,688.01 L443.97,688.00 L444.19,687.99 L444.42,687.98 L444.64,687.97 L444.86,687.95 L445.09,687.94 L445.31,687.93 L445.53,687.92 L445.76,687.90 L445.98,687.89 L446.20,687.87 L446.43,687.85 L446.65,687.84 L446.87,687.82 L447.10,687.80 L447.32,687.78 L447.54,687.76 L447.77,687.74 L447.99,687.72 L448.21,687.70 L448.44,687.68 L448.66,687.65 L448.88,687.63 L449.11,687.60 L449.33,687.58 L449.55,687.55 L449.78,687.52 L450.00,687.50 L450.22,687.47 L450.45,687.44 L450.67,687.40 L450.89,687.37 L451.12,687.34 L451.34,687.30 L451.57,687.27 L451.79,687.23 L452.01,687.19 L452.24,687.15 L452.46,687.11 L452.68,687.07 L452.91,687.03 L453.13,686.99 L453.35,686.94 L453.58,686.90 L453.80,686.85 L454.02,686.80 L454.25,686.75 L454.47,686.70 L454.69,686.65 L454.92,686.59 L455.14,686.54 L455.36,686.48 L455.59,686.42 L455.81,686.36 L456.03,686.30 L456.26,686.24 L456.48,686.18 L456.70,686.11 L456.93,686.04 L457.15,685.98 L457.37,685.91 L457.60,685.83 L457.82,685.76 L458.04,685.69 L458.27,685.61 L458.49,685.53 L458.71,685.45 L458.94,685.37 L459.16,685.28 L459.38,685.20 L459.61,685.11 L459.83,685.02 L460.05,684.93 L460.28,684.84 L460.50,684.74 L460.73,684.65 L460.95,684.55 L461.17,684.45 L461.40,684.34 L461.62,684.24 L461.84,684.13 L462.07,684.02 L462.29,683.91 L462.51,683.80 L462.74,683.68 L462.96,683.57 L463.18,683.45 L463.41,683.33 L463.63,683.20 L463.85,683.08 L464.08,682.95 L464.30,682.82 L464.52,682.69 L464.75,682.55 L464.97,682.41 L465.19,682.28 L465.42,682.13 L465.64,681.99 L465.86,681.84 L466.09,681.70 L466.31,681.55 L466.53,681.39 L466.76,681.24 L466.98,681.08 L467.20,680.92 L467.43,680.76 L467.65,680.59 L467.87,680.42 L468.10,680.26 L468.32,680.08 L468.54,679.91 L468.77,679.73 L468.99,679.55 L469.21,679.37 L469.44,679.19 L469.66,679.00 L469.88,678.81 L470.11,678.62 L470.33,678.43 L470.56,678.23 L470.78,678.04 L471.00,677.84 L471.23,677.63 L471.45,677.43 L471.67,677.22 L471.90,677.01 L472.12,676.80 L472.34,676.59 L472.57,676.37 L472.79,676.15 L473.01,675.93 L473.24,675.71 L473.46,675.48 L473.68,675.25 L473.91,675.02 L474.13,674.79 L474.35,674.56 L474.58,674.32 L474.80,674.09 L475.02,673.85 L475.25,673.60 L475.47,673.36 L475.69,673.11 L475.92,672.87 L476.14,672.62 L476.36,672.37 L476.59,672.11 L476.81,671.86 L477.03,671.60 L477.26,671.34 L477.48,671.08 L477.70,670.82 L477.93,670.56 L478.15,670.30 L478.37,670.03 L478.60,669.76 L478.82,669.49 L479.04,669.22 L479.27,668.95 L479.49,668.68 L479.71,668.41 L479.94,668.13 L480.16,667.86 L480.38,667.58 L480.61,667.30 L480.83,667.02 L481.06,666.74 L481.28,666.46 L481.50,666.18 L481.73,665.90 L481.95,665.62 L482.17,665.34 L482.40,665.06 L482.62,664.77 L482.84,664.49 L483.07,664.21 L483.29,663.92 L483.51,663.64 L483.74,663.36 L483.96,663.07 L484.18,662.79 L484.41,662.51 L484.63,662.22 L484.85,661.94 L485.08,661.66 L485.30,661.38 L485.52,661.10 L485.75,660.81 L485.97,660.54 L486.19,660.26 L486.42,659.98 L486.64,659.70 L486.86,659.43 L487.09,659.15 L487.31,658.88 L487.53,658.61 L487.76,658.33 L487.98,658.06 L488.20,657.80 L488.43,657.53 L488.65,657.27 L488.87,657.00 L489.10,656.74 L489.32,656.48 L489.54,656.23 L489.77,655.97 L489.99,655.72 L490.21,655.47 L490.44,655.22 L490.66,654.97 L490.89,654.72 L491.11,654.48 L491.33,654.24 L491.56,654.00 L491.78,653.76 L492.00,653.52 L492.23,653.28 L492.45,653.05 L492.67,652.81 L492.90,652.57 L493.12,652.34 L493.34,652.10 L493.57,651.86 L493.79,651.61 L494.01,651.36 L494.24,651.11 L494.46,650.85 L494.68,650.58 L494.91,650.30 L495.13,650.01 L495.35,649.71 L495.58,649.39 L495.80,649.06 L496.02,648.70 L496.25,648.33 L496.47,647.94 L496.69,647.52 L496.92,647.08 L497.14,646.61 L497.36,646.11 L497.59,645.59 L497.81,645.03 L498.03,644.45 L498.26,643.83 L498.48,643.19 L498.70,642.52 L498.93,641.83 L499.15,641.11 L499.37,640.37 L499.60,639.62 L499.82,638.86 L500.05,638.09 L500.27,637.31 L500.49,636.55 L500.72,635.79 L500.94,635.06 L501.16,634.35 L501.39,633.67 L501.61,633.03 L501.83,632.44 L502.06,631.90 L502.28,631.41 L502.50,631.00 L502.73,630.65 L502.95,630.38 L503.17,630.18 L503.40,630.07 L503.62,630.03 L503.84,630.08 L504.07,630.21 L504.29,630.42 L504.51,630.71 L504.74,631.07 L504.96,631.50 L505.18,631.99 L505.41,632.55 L505.63,633.15 L505.85,633.80 L506.08,634.50 L506.30,635.22 L506.52,635.97 L506.75,636.74 L506.97,637.52 L507.19,638.30 L507.42,639.09 L507.64,639.87 L507.86,640.63 L508.09,641.38 L508.31,642.11 L508.53,642.82 L508.76,643.50 L508.98,644.16 L509.20,644.79 L509.43,645.39 L509.65,645.95 L509.88,646.49 L510.10,647.00 L510.32,647.49 L510.55,647.94 L510.77,648.37 L510.99,648.78 L511.22,649.17 L511.44,649.53 L511.66,649.88 L511.89,650.21 L512.11,650.53 L512.33,650.83 L512.56,651.12 L512.78,651.41 L513.00,651.68 L513.23,651.95 L513.45,652.21 L513.67,652.47 L513.90,652.73 L514.12,652.98 L514.34,653.23 L514.57,653.48 L514.79,653.73 L515.01,653.98 L515.24,654.23 L515.46,654.48 L515.68,654.73 L515.91,654.99 L516.13,655.24 L516.35,655.50 L516.58,655.76 L516.80,656.02 L517.02,656.28 L517.25,656.55 L517.47,656.82 L517.69,657.08 L517.92,657.36 L518.14,657.63 L518.36,657.90 L518.59,658.18 L518.81,658.46 L519.03,658.74 L519.26,659.02 L519.48,659.30 L519.70,659.59 L519.93,659.87 L520.15,660.16 L520.38,660.45 L520.60,660.74 L520.82,661.03 L521.05,661.32 L521.27,661.61 L521.49,661.91 L521.72,662.20 L521.94,662.49 L522.16,662.79 L522.39,663.09 L522.61,663.38 L522.83,663.68 L523.06,663.98 L523.28,664.27 L523.50,664.57 L523.73,664.87 L523.95,665.16 L524.17,665.46 L524.40,665.76 L524.62,666.06 L524.84,666.35 L525.07,666.65 L525.29,666.94 L525.51,667.24 L525.74,667.53 L525.96,667.83 L526.18,668.12 L526.41,668.42 L526.63,668.71 L526.85,669.00 L527.08,669.29 L527.30,669.58 L527.52,669.87 L527.75,670.15 L527.97,670.44 L528.19,670.72 L528.42,671.01 L528.64,671.29 L528.86,671.57 L529.09,671.85 L529.31,672.13 L529.53,672.40 L529.76,672.68 L529.98,672.95 L530.21,673.22 L530.43,673.49 L530.65,673.76 L530.88,674.03 L531.10,674.29 L531.32,674.56 L531.55,674.82 L531.77,675.08 L531.99,675.34 L532.22,675.59 L532.44,675.84 L532.66,676.09 L532.89,676.34 L533.11,676.59 L533.33,676.83 L533.56,677.08 L533.78,677.31 L534.00,677.55 L534.23,677.78 L534.45,678.01 L534.67,678.24 L534.90,678.46 L535.12,678.68 L535.34,678.89 L535.57,679.10 L535.79,679.31 L536.01,679.50 L536.24,679.69 L536.46,679.87 L536.68,680.04 L536.91,680.20 L537.13,680.35 L537.35,680.48 L537.58,680.60 L537.80,680.70 L538.02,680.77 L538.25,680.83 L538.47,680.85 L538.69,680.85 L538.92,680.81 L539.14,680.74 L539.37,680.63 L539.59,680.47 L539.81,680.26 L540.04,680.00 L540.26,679.69 L540.48,679.32 L540.71,678.88 L540.93,678.38 L541.15,677.81 L541.38,677.17 L541.60,676.45 L541.82,675.67 L542.05,674.81 L542.27,673.88 L542.49,672.89 L542.72,671.83 L542.94,670.71 L543.16,669.54 L543.39,668.33 L543.61,667.08 L543.83,665.80 L544.06,664.51 L544.28,663.22 L544.50,661.94 L544.73,660.68 L544.95,659.46 L545.17,658.30 L545.40,657.20 L545.62,656.19 L545.84,655.27 L546.07,654.46 L546.29,653.77 L546.51,653.20 L546.74,652.78 L546.96,652.50 L547.18,652.37 L547.41,652.40 L547.63,652.58 L547.85,652.92 L548.08,653.40 L548.30,654.03 L548.52,654.81 L548.75,655.71 L548.97,656.73 L549.19,657.85 L549.42,659.08 L549.64,660.38 L549.87,661.76 L550.09,663.19 L550.31,664.65 L550.54,666.15 L550.76,667.65 L550.98,669.15 L551.21,670.64 L551.43,672.11 L551.65,673.53 L551.88,674.92 L552.10,676.25 L552.32,677.53 L552.55,678.74 L552.77,679.89 L552.99,680.97 L553.22,681.97 L553.44,682.91 L553.66,683.77 L553.89,684.56 L554.11,685.29 L554.33,685.95 L554.56,686.55 L554.78,687.09 L555.00,687.57 L555.23,688.00 L555.45,688.38 L555.67,688.72 L555.90,689.01 L556.12,689.27 L556.34,689.48 L556.57,689.67 L556.79,689.82 L557.01,689.94 L557.24,690.03 L557.46,690.10 L557.68,690.13 L557.91,690.13 L558.13,690.09 L558.35,690.02 L558.58,689.92 L558.80,689.76 L559.02,689.57 L559.25,689.31 L559.47,689.00 L559.70,688.62 L559.92,688.17 L560.14,687.63 L560.37,686.99 L560.59,686.25 L560.81,685.39 L561.04,684.41 L561.26,683.29 L561.48,682.02 L561.71,680.58 L561.93,678.98 L562.15,677.19 L562.38,675.21 L562.60,673.03 L562.82,670.64 L563.05,668.05 L563.27,665.24 L563.49,662.23 L563.72,659.01 L563.94,655.60 L564.16,652.00 L564.39,648.23 L564.61,644.31 L564.83,640.26 L565.06,636.11 L565.28,631.89 L565.50,627.64 L565.73,623.38 L565.95,619.16 L566.17,615.03 L566.40,611.01 L566.62,607.16 L566.84,603.52 L567.07,600.14 L567.29,597.04 L567.51,594.27 L567.74,591.87 L567.96,589.86 L568.18,588.28 L568.41,587.13 L568.63,586.44 L568.86,586.22 L569.08,586.47 L569.30,587.19 L569.53,588.36 L569.75,589.98 L569.97,592.01 L570.20,594.44 L570.42,597.24 L570.64,600.37 L570.87,603.78 L571.09,607.45 L571.31,611.33 L571.54,615.37 L571.76,619.54 L571.98,623.79 L572.21,628.07 L572.43,632.36 L572.65,636.61 L572.88,640.79 L573.10,644.87 L573.32,648.82 L573.55,652.62 L573.77,656.25 L573.99,659.70 L574.22,662.95 L574.44,666.00 L574.66,668.84 L574.89,671.46 L575.11,673.88 L575.33,676.10 L575.56,678.12 L575.78,679.94 L576.00,681.58 L576.23,683.06 L576.45,684.37 L576.67,685.53 L576.90,686.55 L577.12,687.45 L577.34,688.24 L577.57,688.92 L577.79,689.51 L578.01,690.01 L578.24,690.45 L578.46,690.82 L578.68,691.13 L578.91,691.39 L579.13,691.62 L579.36,691.80 L579.58,691.96 L579.80,692.09 L580.03,692.20 L580.25,692.29 L580.47,692.36 L580.70,692.43 L580.92,692.48 L581.14,692.52 L581.37,692.55 L581.59,692.58 L581.81,692.61 L582.04,692.63 L582.26,692.65 L582.48,692.66 L582.71,692.67 L582.93,692.69 L583.15,692.70 L583.38,692.71 L583.60,692.72 L583.82,692.72 L584.05,692.73 L584.27,692.74 L584.49,692.75 L584.72,692.76 L584.94,692.76 L585.16,692.77 L585.39,692.78 L585.61,692.78 L585.83,692.79 L586.06,692.80 L586.28,692.80 L586.50,692.81 L586.73,692.82 L586.95,692.82 L587.17,692.83 L587.40,692.84 L587.62,692.84 L587.84,692.85 L588.07,692.85 L588.29,692.86 L588.51,692.87 L588.74,692.87 L588.96,692.88 L589.19,692.89 L589.41,692.89 L589.63,692.90 L589.86,692.90 L590.08,692.91 L590.30,692.92 L590.53,692.92 L590.75,692.93 L590.97,692.94 L591.20,692.94 L591.42,692.95 L591.64,692.95 L591.87,692.96 L592.09,692.97 L592.31,692.97 L592.54,692.98 L592.76,692.99 L592.98,692.99 L593.21,693.00 L593.43,693.00 L593.65,693.01 L593.88,693.02 L594.10,693.02 L594.32,693.03 L594.55,693.03 L594.77,693.04 L594.99,693.05 L595.22,693.05 L595.44,693.06 L595.66,693.07 L595.89,693.07 L596.11,693.08 L596.33,693.08 L596.56,693.09 L596.78,693.10 L597.00,693.10 L597.23,693.11 L597.45,693.11 L597.67,693.12 L597.90,693.13 L598.12,693.13 L598.35,693.14 L598.57,693.14 L598.79,693.15 L599.02,693.16 L599.24,693.16 L599.46,693.17 L599.69,693.17 L599.91,693.18 L600.13,693.19 L600.36,693.19 L600.58,693.20 L600.80,693.20 L601.03,693.21 L601.25,693.22 L601.47,693.22 L601.70,693.23 L601.92,693.23 L602.14,693.24 L602.37,693.25 L602.59,693.25 L602.81,693.26 L603.04,693.26 L603.26,693.27 L603.48,693.28 L603.71,693.28 L603.93,693.29 L604.15,693.29 L604.38,693.30 L604.60,693.31 L604.82,693.31 L605.05,693.32 L605.27,693.32 L605.49,693.33 L605.72,693.34 L605.94,693.34 L606.16,693.35 L606.39,693.35 L606.61,693.36 L606.83,693.37 L607.06,693.37 L607.28,693.38 L607.50,693.38 L607.73,693.39 L607.95,693.39 L608.17,693.40 L608.40,693.41 L608.62,693.41 L608.85,693.42 L609.07,693.42 L609.29,693.43 L609.52,693.44 L609.74,693.44 L609.96,693.45 L610.19,693.45 L610.41,693.46 L610.63,693.47 L610.86,693.47 L611.08,693.48 L611.30,693.48 L611.53,693.49 L611.75,693.50 L611.97,693.50 L612.20,693.51 L612.42,693.51 L612.64,693.52 L612.87,693.52 L613.09,693.53 L613.31,693.54 L613.54,693.54 L613.76,693.55 L613.98,693.55 L614.21,693.56 L614.43,693.57 L614.65,693.57 L614.88,693.58 L615.10,693.58 L615.32,693.59 L615.55,693.60 L615.77,693.60 L615.99,693.61 L616.22,693.61 L616.44,693.62 L616.66,693.62 L616.89,693.63 L617.11,693.64 L617.33,693.64 L617.56,693.65 L617.78,693.65 L618.00,693.66 L618.23,693.67 L618.45,693.67 L618.68,693.68 L618.90,693.68 L619.12,693.69 L619.35,693.69 L619.57,693.70 L619.79,693.71 L620.02,693.71 L620.24,693.72 L620.46,693.72 L620.69,693.73 L620.91,693.74 L621.13,693.74 L621.36,693.75 L621.58,693.75 L621.80,693.76 L622.03,693.76 L622.25,693.77 L622.47,693.78 L622.70,693.78 L622.92,693.79 L623.14,693.79 L623.37,693.80 L623.59,693.81 L623.81,693.81 L624.04,693.82 L624.26,693.82 L624.48,693.83 L624.71,693.83 L624.93,693.84 L625.15,693.85 L625.38,693.85 L625.60,693.86 L625.82,693.86 L626.05,693.87 L626.27,693.87 L626.49,693.88 L626.72,693.89 L626.94,693.89 L627.16,693.90 L627.39,693.90 L627.61,693.91 L627.84,693.92 L628.06,693.92 L628.28,693.93 L628.51,693.93 L628.73,693.94 L628.95,693.94 L629.18,693.95 L629.40,693.96 L629.62,693.96 L629.85,693.97 L630.07,693.97 L630.29,693.98 L630.52,693.98 L630.74,693.99 L630.96,694.00 L631.19,694.00 L631.41,694.01 L631.63,694.01 L631.86,694.02 L632.08,694.02 L632.30,694.03 L632.53,694.04 L632.75,694.04 L632.97,694.05 L633.20,694.05 L633.42,694.06 L633.64,694.06 L633.87,694.07 L634.09,694.08 L634.31,694.08 L634.54,694.09 L634.76,694.09 L634.98,694.10 L635.21,694.10 L635.43,694.11 L635.65,694.12 L635.88,694.12 L636.10,694.13 L636.32,694.13 L636.55,694.14 L636.77,694.14 L636.99,694.15 L637.22,694.16 L637.44,694.16 L637.66,694.17 L637.89,694.17 L638.11,694.18 L638.34,694.18 L638.56,694.19 L638.78,694.20 L639.01,694.20 L639.23,694.21 L639.45,694.21 L639.68,694.22 L639.90,694.22 L640.12,694.23 L640.35,694.24 L640.57,694.24 L640.79,694.25 L641.02,694.25 L641.24,694.26 L641.46,694.26 L641.69,694.27 L641.91,694.28 L642.13,694.28 L642.36,694.29 L642.58,694.29 L642.80,694.30 L643.03,694.30 L643.25,694.31 L643.47,694.31 L643.70,694.32 L643.92,694.33 L644.14,694.33 L644.37,694.34 L644.59,694.34 L644.81,694.35 L645.04,694.35 L645.26,694.36 L645.48,694.37 L645.71,694.37 L645.93,694.38 L646.15,694.38 L646.38,694.39 L646.60,694.39 L646.82,694.40 L647.05,694.41 L647.27,694.41 L647.49,694.42 L647.72,694.42 L647.94,694.43 L648.17,694.43 L648.39,694.44 L648.61,694.44 L648.84,694.45 L649.06,694.46 L649.28,694.46 L649.51,694.47 L649.73,694.47 L649.95,694.48 L650.18,694.48 L650.40,694.49 L650.62,694.49 L650.85,694.50 L651.07,694.51 L651.29,694.51 L651.52,694.52 L651.74,694.52 L651.96,694.53 L652.19,694.53 L652.41,694.54 L652.63,694.55 L652.86,694.55 L653.08,694.56 L653.30,694.56 L653.53,694.57 L653.75,694.57 L653.97,694.58 L654.20,694.58 L654.42,694.59 L654.64,694.60 L654.87,694.60 L655.09,694.61 L655.31,694.61 L655.54,694.62 L655.76,694.62 L655.98,694.63 L656.21,694.63 L656.43,694.64 L656.65,694.65 L656.88,694.65 L657.10,694.66 L657.33,694.66 L657.55,694.67 L657.77,694.67 L658.00,694.68 L658.22,694.68 L658.44,694.69 L658.67,694.70 L658.89,694.70 L659.11,694.71 L659.34,694.71 L659.56,694.72 L659.78,694.72 L660.01,694.73 L660.23,694.73 L660.45,694.74 L660.68,694.75 L660.90,694.75 L661.12,694.76 L661.35,694.76 L661.57,694.77 L661.79,694.77 L662.02,694.78 L662.24,694.78 L662.46,694.79 L662.69,694.80 L662.91,694.80 L663.13,694.81 L663.36,694.81 L663.58,694.82 L663.80,694.82 L664.03,694.83 L664.25,694.83 L664.47,694.84 L664.70,694.84 L664.92,694.85 L665.14,694.86 L665.37,694.86 L665.59,694.87 L665.81,694.87 L666.04,694.88 L666.26,694.88 L666.48,694.89 L666.71,694.89 L666.93,694.90 L667.15,694.91 L667.38,694.91 L667.60,694.92 L667.83,694.92 L668.05,694.93 L668.27,694.93 L668.50,694.94 L668.72,694.94 L668.94,694.95 L669.17,694.95 L669.39,694.96 L669.61,694.97 L669.84,694.97 L670.06,694.98 L670.28,694.98 L670.51,694.99 L670.73,694.99 L670.95,695.00 L671.18,695.00 L671.40,695.01 L671.62,695.01 L671.85,695.02 L672.07,695.03 L672.29,695.03 L672.52,695.04 L672.74,695.04 L672.96,695.05 L673.19,695.05 L673.41,695.06 L673.63,695.06 L673.86,695.07 L674.08,695.07 L674.30,695.08 L674.53,695.09 L674.75,695.09 L674.97,695.10 L675.20,695.10 L675.42,695.11 L675.64,695.11 L675.87,695.12 L676.09,695.12 L676.31,695.13 L676.54,695.13 L676.76,695.14 L676.98,695.14 L677.21,695.15 L677.43,695.16 L677.66,695.16 L677.88,695.17 L678.10,695.17 L678.33,695.18 L678.55,695.18 L678.77,695.19 L679.00,695.19 L679.22,695.20 L679.44,695.20 L679.67,695.21 L679.89,695.22 L680.11,695.22 L680.34,695.23 L680.56,695.23 L680.78,695.24 L681.01,695.24 L681.23,695.25 L681.45,695.25 L681.68,695.26 L681.90,695.26" fill="none" stroke="#1fb1c6" stroke-width="1.5" stroke-linejoin="round" stroke-dasharray="4,2" clip-path="url(#cf)"/>
<path d="M387.00,686.56 L387.22,686.57 L387.45,686.58 L387.67,686.58 L387.89,686.59 L388.12,686.60 L388.34,686.61 L388.56,686.62 L388.79,686.62 L389.01,686.63 L389.23,686.64 L389.46,686.65 L389.68,686.66 L389.90,686.66 L390.13,686.67 L390.35,686.68 L390.57,686.69 L390.80,686.70 L391.02,686.70 L391.24,686.71 L391.47,686.72 L391.69,686.73 L391.92,686.74 L392.14,686.74 L392.36,686.75 L392.59,686.76 L392.81,686.77 L393.03,686.78 L393.26,686.78 L393.48,686.79 L393.70,686.80 L393.93,686.81 L394.15,686.82 L394.37,686.82 L394.60,686.83 L394.82,686.84 L395.04,686.85 L395.27,686.86 L395.49,686.86 L395.71,686.87 L395.94,686.88 L396.16,686.89 L396.38,686.89 L396.61,686.90 L396.83,686.91 L397.05,686.92 L397.28,686.93 L397.50,686.93 L397.72,686.94 L397.95,686.95 L398.17,686.96 L398.39,686.97 L398.62,686.97 L398.84,686.98 L399.06,686.99 L399.29,687.00 L399.51,687.01 L399.73,687.01 L399.96,687.02 L400.18,687.03 L400.40,687.04 L400.63,687.05 L400.85,687.05 L401.07,687.06 L401.30,687.07 L401.52,687.08 L401.75,687.08 L401.97,687.09 L402.19,687.10 L402.42,687.11 L402.64,687.12 L402.86,687.12 L403.09,687.13 L403.31,687.14 L403.53,687.15 L403.76,687.16 L403.98,687.16 L404.20,687.17 L404.43,687.18 L404.65,687.19 L404.87,687.19 L405.10,687.20 L405.32,687.21 L405.54,687.22 L405.77,687.23 L405.99,687.23 L406.21,687.24 L406.44,687.25 L406.66,687.26 L406.88,687.26 L407.11,687.27 L407.33,687.28 L407.55,687.29 L407.78,687.30 L408.00,687.30 L408.22,687.31 L408.45,687.32 L408.67,687.33 L408.89,687.34 L409.12,687.34 L409.34,687.35 L409.56,687.36 L409.79,687.37 L410.01,687.37 L410.23,687.38 L410.46,687.39 L410.68,687.40 L410.90,687.41 L411.13,687.41 L411.35,687.42 L411.57,687.43 L411.80,687.44 L412.02,687.44 L412.25,687.45 L412.47,687.46 L412.69,687.47 L412.92,687.48 L413.14,687.48 L413.36,687.49 L413.59,687.50 L413.81,687.51 L414.03,687.51 L414.26,687.52 L414.48,687.53 L414.70,687.54 L414.93,687.54 L415.15,687.55 L415.37,687.56 L415.60,687.57 L415.82,687.58 L416.04,687.58 L416.27,687.59 L416.49,687.60 L416.71,687.61 L416.94,687.61 L417.16,687.62 L417.38,687.63 L417.61,687.64 L417.83,687.64 L418.05,687.65 L418.28,687.66 L418.50,687.67 L418.72,687.68 L418.95,687.68 L419.17,687.69 L419.39,687.70 L419.62,687.71 L419.84,687.71 L420.06,687.72 L420.29,687.73 L420.51,687.74 L420.73,687.74 L420.96,687.75 L421.18,687.76 L421.40,687.77 L421.63,687.78 L421.85,687.78 L422.08,687.79 L422.30,687.80 L422.52,687.81 L422.75,687.81 L422.97,687.82 L423.19,687.83 L423.42,687.84 L423.64,687.84 L423.86,687.85 L424.09,687.86 L424.31,687.87 L424.53,687.87 L424.76,687.88 L424.98,687.89 L425.20,687.90 L425.43,687.91 L425.65,687.91 L425.87,687.92 L426.10,687.93 L426.32,687.94 L426.54,687.94 L426.77,687.95 L426.99,687.96 L427.21,687.97 L427.44,687.97 L427.66,687.98 L427.88,687.99 L428.11,688.00 L428.33,688.00 L428.55,688.01 L428.78,688.02 L429.00,688.03 L429.22,688.03 L429.45,688.04 L429.67,688.05 L429.89,688.06 L430.12,688.06 L430.34,688.07 L430.56,688.08 L430.79,688.09 L431.01,688.09 L431.24,688.10 L431.46,688.11 L431.68,688.12 L431.91,688.12 L432.13,688.13 L432.35,688.14 L432.58,688.15 L432.80,688.15 L433.02,688.16 L433.25,688.17 L433.47,688.18 L433.69,688.18 L433.92,688.19 L434.14,688.20 L434.36,688.21 L434.59,688.22 L434.81,688.22 L435.03,688.23 L435.26,688.24 L435.48,688.25 L435.70,688.25 L435.93,688.26 L436.15,688.27 L436.37,688.28 L436.60,688.28 L436.82,688.29 L437.04,688.30 L437.27,688.31 L437.49,688.31 L437.71,688.32 L437.94,688.33 L438.16,688.33 L438.38,688.34 L438.61,688.35 L438.83,688.36 L439.05,688.36 L439.28,688.37 L439.50,688.38 L439.72,688.39 L439.95,688.39 L440.17,688.40 L440.39,688.41 L440.62,688.42 L440.84,688.42 L441.06,688.43 L441.29,688.44 L441.51,688.45 L441.74,688.45 L441.96,688.46 L442.18,688.47 L442.41,688.48 L442.63,688.48 L442.85,688.49 L443.08,688.50 L443.30,688.51 L443.52,688.51 L443.75,688.52 L443.97,688.53 L444.19,688.54 L444.42,688.54 L444.64,688.55 L444.86,688.56 L445.09,688.57 L445.31,688.57 L445.53,688.58 L445.76,688.59 L445.98,688.60 L446.20,688.60 L446.43,688.61 L446.65,688.62 L446.87,688.62 L447.10,688.63 L447.32,688.64 L447.54,688.65 L447.77,688.65 L447.99,688.66 L448.21,688.67 L448.44,688.68 L448.66,688.68 L448.88,688.69 L449.11,688.70 L449.33,688.71 L449.55,688.71 L449.78,688.72 L450.00,688.73 L450.22,688.74 L450.45,688.74 L450.67,688.75 L450.89,688.76 L451.12,688.76 L451.34,688.77 L451.57,688.78 L451.79,688.79 L452.01,688.79 L452.24,688.80 L452.46,688.81 L452.68,688.82 L452.91,688.82 L453.13,688.83 L453.35,688.84 L453.58,688.84 L453.80,688.85 L454.02,688.86 L454.25,688.87 L454.47,688.87 L454.69,688.88 L454.92,688.89 L455.14,688.90 L455.36,688.90 L455.59,688.91 L455.81,688.92 L456.03,688.93 L456.26,688.93 L456.48,688.94 L456.70,688.95 L456.93,688.95 L457.15,688.96 L457.37,688.97 L457.60,688.98 L457.82,688.98 L458.04,688.99 L458.27,689.00 L458.49,689.01 L458.71,689.01 L458.94,689.02 L459.16,689.03 L459.38,689.03 L459.61,689.04 L459.83,689.05 L460.05,689.06 L460.28,689.06 L460.50,689.07 L460.73,689.08 L460.95,689.08 L461.17,689.09 L461.40,689.10 L461.62,689.11 L461.84,689.11 L462.07,689.12 L462.29,689.13 L462.51,689.14 L462.74,689.14 L462.96,689.15 L463.18,689.16 L463.41,689.16 L463.63,689.17 L463.85,689.18 L464.08,689.19 L464.30,689.19 L464.52,689.20 L464.75,689.21 L464.97,689.21 L465.19,689.22 L465.42,689.23 L465.64,689.24 L465.86,689.24 L466.09,689.25 L466.31,689.26 L466.53,689.27 L466.76,689.27 L466.98,689.28 L467.20,689.29 L467.43,689.29 L467.65,689.30 L467.87,689.31 L468.10,689.32 L468.32,689.32 L468.54,689.33 L468.77,689.34 L468.99,689.34 L469.21,689.35 L469.44,689.36 L469.66,689.37 L469.88,689.37 L470.11,689.38 L470.33,689.39 L470.56,689.39 L470.78,689.40 L471.00,689.41 L471.23,689.42 L471.45,689.42 L471.67,689.43 L471.90,689.44 L472.12,689.44 L472.34,689.45 L472.57,689.46 L472.79,689.47 L473.01,689.47 L473.24,689.48 L473.46,689.49 L473.68,689.49 L473.91,689.50 L474.13,689.51 L474.35,689.52 L474.58,689.52 L474.80,689.53 L475.02,689.54 L475.25,689.54 L475.47,689.55 L475.69,689.56 L475.92,689.56 L476.14,689.57 L476.36,689.58 L476.59,689.59 L476.81,689.59 L477.03,689.60 L477.26,689.61 L477.48,689.61 L477.70,689.62 L477.93,689.63 L478.15,689.64 L478.37,689.64 L478.60,689.65 L478.82,689.66 L479.04,689.66 L479.27,689.67 L479.49,689.68 L479.71,689.68 L479.94,689.69 L480.16,689.70 L480.38,689.71 L480.61,689.71 L480.83,689.72 L481.06,689.73 L481.28,689.73 L481.50,689.74 L481.73,689.75 L481.95,689.76 L482.17,689.76 L482.40,689.77 L482.62,689.78 L482.84,689.78 L483.07,689.79 L483.29,689.80 L483.51,689.80 L483.74,689.81 L483.96,689.82 L484.18,689.83 L484.41,689.83 L484.63,689.84 L484.85,689.85 L485.08,689.85 L485.30,689.86 L485.52,689.87 L485.75,689.87 L485.97,689.88 L486.19,689.89 L486.42,689.90 L486.64,689.90 L486.86,689.91 L487.09,689.92 L487.31,689.92 L487.53,689.93 L487.76,689.94 L487.98,689.94 L488.20,689.95 L488.43,689.96 L488.65,689.97 L488.87,689.97 L489.10,689.98 L489.32,689.99 L489.54,689.99 L489.77,690.00 L489.99,690.01 L490.21,690.01 L490.44,690.02 L490.66,690.03 L490.89,690.03 L491.11,690.04 L491.33,690.05 L491.56,690.06 L491.78,690.06 L492.00,690.07 L492.23,690.08 L492.45,690.08 L492.67,690.09 L492.90,690.10 L493.12,690.10 L493.34,690.11 L493.57,690.12 L493.79,690.12 L494.01,690.13 L494.24,690.14 L494.46,690.15 L494.68,690.15 L494.91,690.16 L495.13,690.17 L495.35,690.17 L495.58,690.18 L495.80,690.19 L496.02,690.19 L496.25,690.20 L496.47,690.21 L496.69,690.21 L496.92,690.22 L497.14,690.23 L497.36,690.23 L497.59,690.24 L497.81,690.25 L498.03,690.26 L498.26,690.26 L498.48,690.27 L498.70,690.28 L498.93,690.28 L499.15,690.29 L499.37,690.30 L499.60,690.30 L499.82,690.31 L500.05,690.32 L500.27,690.32 L500.49,690.33 L500.72,690.34 L500.94,690.34 L501.16,690.35 L501.39,690.36 L501.61,690.37 L501.83,690.37 L502.06,690.38 L502.28,690.39 L502.50,690.39 L502.73,690.40 L502.95,690.41 L503.17,690.41 L503.40,690.42 L503.62,690.43 L503.84,690.43 L504.07,690.44 L504.29,690.45 L504.51,690.45 L504.74,690.46 L504.96,690.47 L505.18,690.47 L505.41,690.48 L505.63,690.49 L505.85,690.49 L506.08,690.50 L506.30,690.51 L506.52,690.52 L506.75,690.52 L506.97,690.53 L507.19,690.54 L507.42,690.54 L507.64,690.55 L507.86,690.56 L508.09,690.56 L508.31,690.57 L508.53,690.58 L508.76,690.58 L508.98,690.59 L509.20,690.60 L509.43,690.60 L509.65,690.61 L509.88,690.62 L510.10,690.62 L510.32,690.63 L510.55,690.64 L510.77,690.64 L510.99,690.65 L511.22,690.66 L511.44,690.66 L511.66,690.67 L511.89,690.68 L512.11,690.68 L512.33,690.69 L512.56,690.70 L512.78,690.70 L513.00,690.71 L513.23,690.72 L513.45,690.72 L513.67,690.73 L513.90,690.74 L514.12,690.74 L514.34,690.75 L514.57,690.76 L514.79,690.76 L515.01,690.77 L515.24,690.78 L515.46,690.78 L515.68,690.79 L515.91,690.80 L516.13,690.81 L516.35,690.81 L516.58,690.82 L516.80,690.83 L517.02,690.83 L517.25,690.84 L517.47,690.85 L517.69,690.85 L517.92,690.86 L518.14,690.87 L518.36,690.87 L518.59,690.88 L518.81,690.89 L519.03,690.89 L519.26,690.90 L519.48,690.91 L519.70,690.91 L519.93,690.92 L520.15,690.93 L520.38,690.93 L520.60,690.94 L520.82,690.95 L521.05,690.95 L521.27,690.96 L521.49,690.97 L521.72,690.97 L521.94,690.98 L522.16,690.99 L522.39,690.99 L522.61,691.00 L522.83,691.01 L523.06,691.01 L523.28,691.02 L523.50,691.03 L523.73,691.03 L523.95,691.04 L524.17,691.04 L524.40,691.05 L524.62,691.06 L524.84,691.06 L525.07,691.07 L525.29,691.08 L525.51,691.08 L525.74,691.09 L525.96,691.10 L526.18,691.10 L526.41,691.11 L526.63,691.12 L526.85,691.12 L527.08,691.13 L527.30,691.14 L527.52,691.14 L527.75,691.15 L527.97,691.16 L528.19,691.16 L528.42,691.17 L528.64,691.18 L528.86,691.18 L529.09,691.19 L529.31,691.20 L529.53,691.20 L529.76,691.21 L529.98,691.22 L530.21,691.22 L530.43,691.23 L530.65,691.24 L530.88,691.24 L531.10,691.25 L531.32,691.26 L531.55,691.26 L531.77,691.27 L531.99,691.28 L532.22,691.28 L532.44,691.29 L532.66,691.30 L532.89,691.30 L533.11,691.31 L533.33,691.32 L533.56,691.32 L533.78,691.33 L534.00,691.33 L534.23,691.34 L534.45,691.35 L534.67,691.35 L534.90,691.36 L535.12,691.37 L535.34,691.37 L535.57,691.38 L535.79,691.39 L536.01,691.39 L536.24,691.40 L536.46,691.41 L536.68,691.41 L536.91,691.42 L537.13,691.43 L537.35,691.43 L537.58,691.44 L537.80,691.45 L538.02,691.45 L538.25,691.46 L538.47,691.47 L538.69,691.47 L538.92,691.48 L539.14,691.48 L539.37,691.49 L539.59,691.50 L539.81,691.50 L540.04,691.51 L540.26,691.52 L540.48,691.52 L540.71,691.53 L540.93,691.54 L541.15,691.54 L541.38,691.55 L541.60,691.56 L541.82,691.56 L542.05,691.57 L542.27,691.58 L542.49,691.58 L542.72,691.59 L542.94,691.59 L543.16,691.60 L543.39,691.61 L543.61,691.61 L543.83,691.62 L544.06,691.63 L544.28,691.63 L544.50,691.64 L544.73,691.65 L544.95,691.65 L545.17,691.66 L545.40,691.67 L545.62,691.67 L545.84,691.68 L546.07,691.68 L546.29,691.69 L546.51,691.70 L546.74,691.70 L546.96,691.71 L547.18,691.72 L547.41,691.72 L547.63,691.73 L547.85,691.74 L548.08,691.74 L548.30,691.75 L548.52,691.76 L548.75,691.76 L548.97,691.77 L549.19,691.77 L549.42,691.78 L549.64,691.79 L549.87,691.79 L550.09,691.80 L550.31,691.81 L550.54,691.81 L550.76,691.82 L550.98,691.83 L551.21,691.83 L551.43,691.84 L551.65,691.85 L551.88,691.85 L552.10,691.86 L552.32,691.86 L552.55,691.87 L552.77,691.88 L552.99,691.88 L553.22,691.89 L553.44,691.90 L553.66,691.90 L553.89,691.91 L554.11,691.92 L554.33,691.92 L554.56,691.93 L554.78,691.93 L555.00,691.94 L555.23,691.95 L555.45,691.95 L555.67,691.96 L555.90,691.97 L556.12,691.97 L556.34,691.98 L556.57,691.99 L556.79,691.99 L557.01,692.00 L557.24,692.00 L557.46,692.01 L557.68,692.02 L557.91,692.02 L558.13,692.03 L558.35,692.04 L558.58,692.04 L558.80,692.05 L559.02,692.05 L559.25,692.06 L559.47,692.07 L559.70,692.07 L559.92,692.08 L560.14,692.09 L560.37,692.09 L560.59,692.10 L560.81,692.11 L561.04,692.11 L561.26,692.12 L561.48,692.12 L561.71,692.13 L561.93,692.14 L562.15,692.14 L562.38,692.15 L562.60,692.16 L562.82,692.16 L563.05,692.17 L563.27,692.17 L563.49,692.18 L563.72,692.19 L563.94,692.19 L564.16,692.20 L564.39,692.21 L564.61,692.21 L564.83,692.22 L565.06,692.22 L565.28,692.23 L565.50,692.24 L565.73,692.24 L565.95,692.25 L566.17,692.26 L566.40,692.26 L566.62,692.27 L566.84,692.27 L567.07,692.28 L567.29,692.29 L567.51,692.29 L567.74,692.30 L567.96,692.31 L568.18,692.31 L568.41,692.32 L568.63,692.32 L568.86,692.33 L569.08,692.34 L569.30,692.34 L569.53,692.35 L569.75,692.36 L569.97,692.36 L570.20,692.37 L570.42,692.37 L570.64,692.38 L570.87,692.39 L571.09,692.39 L571.31,692.40 L571.54,692.41 L571.76,692.41 L571.98,692.42 L572.21,692.42 L572.43,692.43 L572.65,692.44 L572.88,692.44 L573.10,692.45 L573.32,692.46 L573.55,692.46 L573.77,692.47 L573.99,692.47 L574.22,692.48 L574.44,692.49 L574.66,692.49 L574.89,692.50 L575.11,692.50 L575.33,692.51 L575.56,692.52 L575.78,692.52 L576.00,692.53 L576.23,692.54 L576.45,692.54 L576.67,692.55 L576.90,692.55 L577.12,692.56 L577.34,692.57 L577.57,692.57 L577.79,692.58 L578.01,692.59 L578.24,692.59 L578.46,692.60 L578.68,692.60 L578.91,692.61 L579.13,692.62 L579.36,692.62 L579.58,692.63 L579.80,692.63 L580.03,692.64 L580.25,692.65 L580.47,692.65 L580.70,692.66 L580.92,692.67 L581.14,692.67 L581.37,692.68 L581.59,692.68 L581.81,692.69 L582.04,692.70 L582.26,692.70 L582.48,692.71 L582.71,692.71 L582.93,692.72 L583.15,692.73 L583.38,692.73 L583.60,692.74 L583.82,692.74 L584.05,692.75 L584.27,692.76 L584.49,692.76 L584.72,692.77 L584.94,692.78 L585.16,692.78 L585.39,692.79 L585.61,692.79 L585.83,692.80 L586.06,692.81 L586.28,692.81 L586.50,692.82 L586.73,692.82 L586.95,692.83 L587.17,692.84 L587.40,692.84 L587.62,692.85 L587.84,692.85 L588.07,692.86 L588.29,692.87 L588.51,692.87 L588.74,692.88 L588.96,692.89 L589.19,692.89 L589.41,692.90 L589.63,692.90 L589.86,692.91 L590.08,692.92 L590.30,692.92 L590.53,692.93 L590.75,692.93 L590.97,692.94 L591.20,692.95 L591.42,692.95 L591.64,692.96 L591.87,692.96 L592.09,692.97 L592.31,692.98 L592.54,692.98 L592.76,692.99 L592.98,692.99 L593.21,693.00 L593.43,693.01 L593.65,693.01 L593.88,693.02 L594.10,693.02 L594.32,693.03 L594.55,693.04 L594.77,693.04 L594.99,693.05 L595.22,693.05 L595.44,693.06 L595.66,693.07 L595.89,693.07 L596.11,693.08 L596.33,693.08 L596.56,693.09 L596.78,693.10 L597.00,693.10 L597.23,693.11 L597.45,693.11 L597.67,693.12 L597.90,693.13 L598.12,693.13 L598.35,693.14 L598.57,693.14 L598.79,693.15 L599.02,693.16 L599.24,693.16 L599.46,693.17 L599.69,693.17 L599.91,693.18 L600.13,693.19 L600.36,693.19 L600.58,693.20 L600.80,693.20 L601.03,693.21 L601.25,693.22 L601.47,693.22 L601.70,693.23 L601.92,693.23 L602.14,693.24 L602.37,693.25 L602.59,693.25 L602.81,693.26 L603.04,693.26 L603.26,693.27 L603.48,693.28 L603.71,693.28 L603.93,693.29 L604.15,693.29 L604.38,693.30 L604.60,693.31 L604.82,693.31 L605.05,693.32 L605.27,693.32 L605.49,693.33 L605.72,693.34 L605.94,693.34 L606.16,693.35 L606.39,693.35 L606.61,693.36 L606.83,693.37 L607.06,693.37 L607.28,693.38 L607.50,693.38 L607.73,693.39 L607.95,693.39 L608.17,693.40 L608.40,693.41 L608.62,693.41 L608.85,693.42 L609.07,693.42 L609.29,693.43 L609.52,693.44 L609.74,693.44 L609.96,693.45 L610.19,693.45 L610.41,693.46 L610.63,693.47 L610.86,693.47 L611.08,693.48 L611.30,693.48 L611.53,693.49 L611.75,693.50 L611.97,693.50 L612.20,693.51 L612.42,693.51 L612.64,693.52 L612.87,693.52 L613.09,693.53 L613.31,693.54 L613.54,693.54 L613.76,693.55 L613.98,693.55 L614.21,693.56 L614.43,693.57 L614.65,693.57 L614.88,693.58 L615.10,693.58 L615.32,693.59 L615.55,693.60 L615.77,693.60 L615.99,693.61 L616.22,693.61 L616.44,693.62 L616.66,693.62 L616.89,693.63 L617.11,693.64 L617.33,693.64 L617.56,693.65 L617.78,693.65 L618.00,693.66 L618.23,693.67 L618.45,693.67 L618.68,693.68 L618.90,693.68 L619.12,693.69 L619.35,693.69 L619.57,693.70 L619.79,693.71 L620.02,693.71 L620.24,693.72 L620.46,693.72 L620.69,693.73 L620.91,693.74 L621.13,693.74 L621.36,693.75 L621.58,693.75 L621.80,693.76 L622.03,693.76 L622.25,693.77 L622.47,693.78 L622.70,693.78 L622.92,693.79 L623.14,693.79 L623.37,693.80 L623.59,693.81 L623.81,693.81 L624.04,693.82 L624.26,693.82 L624.48,693.83 L624.71,693.83 L624.93,693.84 L625.15,693.85 L625.38,693.85 L625.60,693.86 L625.82,693.86 L626.05,693.87 L626.27,693.87 L626.49,693.88 L626.72,693.89 L626.94,693.89 L627.16,693.90 L627.39,693.90 L627.61,693.91 L627.84,693.92 L628.06,693.92 L628.28,693.93 L628.51,693.93 L628.73,693.94 L628.95,693.94 L629.18,693.95 L629.40,693.96 L629.62,693.96 L629.85,693.97 L630.07,693.97 L630.29,693.98 L630.52,693.98 L630.74,693.99 L630.96,694.00 L631.19,694.00 L631.41,694.01 L631.63,694.01 L631.86,694.02 L632.08,694.02 L632.30,694.03 L632.53,694.04 L632.75,694.04 L632.97,694.05 L633.20,694.05 L633.42,694.06 L633.64,694.06 L633.87,694.07 L634.09,694.08 L634.31,694.08 L634.54,694.09 L634.76,694.09 L634.98,694.10 L635.21,694.10 L635.43,694.11 L635.65,694.12 L635.88,694.12 L636.10,694.13 L636.32,694.13 L636.55,694.14 L636.77,694.14 L636.99,694.15 L637.22,694.16 L637.44,694.16 L637.66,694.17 L637.89,694.17 L638.11,694.18 L638.34,694.18 L638.56,694.19 L638.78,694.20 L639.01,694.20 L639.23,694.21 L639.45,694.21 L639.68,694.22 L639.90,694.22 L640.12,694.23 L640.35,694.24 L640.57,694.24 L640.79,694.25 L641.02,694.25 L641.24,694.26 L641.46,694.26 L641.69,694.27 L641.91,694.28 L642.13,694.28 L642.36,694.29 L642.58,694.29 L642.80,694.30 L643.03,694.30 L643.25,694.31 L643.47,694.31 L643.70,694.32 L643.92,694.33 L644.14,694.33 L644.37,694.34 L644.59,694.34 L644.81,694.35 L645.04,694.35 L645.26,694.36 L645.48,694.37 L645.71,694.37 L645.93,694.38 L646.15,694.38 L646.38,694.39 L646.60,694.39 L646.82,694.40 L647.05,694.41 L647.27,694.41 L647.49,694.42 L647.72,694.42 L647.94,694.43 L648.17,694.43 L648.39,694.44 L648.61,694.44 L648.84,694.45 L649.06,694.46 L649.28,694.46 L649.51,694.47 L649.73,694.47 L649.95,694.48 L650.18,694.48 L650.40,694.49 L650.62,694.49 L650.85,694.50 L651.07,694.51 L651.29,694.51 L651.52,694.52 L651.74,694.52 L651.96,694.53 L652.19,694.53 L652.41,694.54 L652.63,694.55 L652.86,694.55 L653.08,694.56 L653.30,694.56 L653.53,694.57 L653.75,694.57 L653.97,694.58 L654.20,694.58 L654.42,694.59 L654.64,694.60 L654.87,694.60 L655.09,694.61 L655.31,694.61 L655.54,694.62 L655.76,694.62 L655.98,694.63 L656.21,694.63 L656.43,694.64 L656.65,694.65 L656.88,694.65 L657.10,694.66 L657.33,694.66 L657.55,694.67 L657.77,694.67 L658.00,694.68 L658.22,694.68 L658.44,694.69 L658.67,694.70 L658.89,694.70 L659.11,694.71 L659.34,694.71 L659.56,694.72 L659.78,694.72 L660.01,694.73 L660.23,694.73 L660.45,694.74 L660.68,694.75 L660.90,694.75 L661.12,694.76 L661.35,694.76 L661.57,694.77 L661.79,694.77 L662.02,694.78 L662.24,694.78 L662.46,694.79 L662.69,694.80 L662.91,694.80 L663.13,694.81 L663.36,694.81 L663.58,694.82 L663.80,694.82 L664.03,694.83 L664.25,694.83 L664.47,694.84 L664.70,694.84 L664.92,694.85 L665.14,694.86 L665.37,694.86 L665.59,694.87 L665.81,694.87 L666.04,694.88 L666.26,694.88 L666.48,694.89 L666.71,694.89 L666.93,694.90 L667.15,694.91 L667.38,694.91 L667.60,694.92 L667.83,694.92 L668.05,694.93 L668.27,694.93 L668.50,694.94 L668.72,694.94 L668.94,694.95 L669.17,694.95 L669.39,694.96 L669.61,694.97 L669.84,694.97 L670.06,694.98 L670.28,694.98 L670.51,694.99 L670.73,694.99 L670.95,695.00 L671.18,695.00 L671.40,695.01 L671.62,695.01 L671.85,695.02 L672.07,695.03 L672.29,695.03 L672.52,695.04 L672.74,695.04 L672.96,695.05 L673.19,695.05 L673.41,695.06 L673.63,695.06 L673.86,695.07 L674.08,695.07 L674.30,695.08 L674.53,695.09 L674.75,695.09 L674.97,695.10 L675.20,695.10 L675.42,695.11 L675.64,695.11 L675.87,695.12 L676.09,695.12 L676.31,695.13 L676.54,695.13 L676.76,695.14 L676.98,695.14 L677.21,695.15 L677.43,695.16 L677.66,695.16 L677.88,695.17 L678.10,695.17 L678.33,695.18 L678.55,695.18 L678.77,695.19 L679.00,695.19 L679.22,695.20 L679.44,695.20 L679.67,695.21 L679.89,695.22 L680.11,695.22 L680.34,695.23 L680.56,695.23 L680.78,695.24 L681.01,695.24 L681.23,695.25 L681.45,695.25 L681.68,695.26 L681.90,695.26" fill="none" stroke="#f3875a" stroke-width="1.2" stroke-linejoin="round" stroke-dasharray="4,2.2" clip-path="url(#cf)"/>
<path d="M395.94,802.0v-2.4M395.94,566.7v2.4M404.87,802.0v-2.4M404.87,566.7v2.4M413.81,802.0v-2.4M413.81,566.7v2.4M422.75,802.0v-2.4M422.75,566.7v2.4M440.62,802.0v-2.4M440.62,566.7v2.4M449.55,802.0v-2.4M449.55,566.7v2.4M458.49,802.0v-2.4M458.49,566.7v2.4M467.43,802.0v-2.4M467.43,566.7v2.4M485.30,802.0v-2.4M485.30,566.7v2.4M494.24,802.0v-2.4M494.24,566.7v2.4M503.17,802.0v-2.4M503.17,566.7v2.4M512.11,802.0v-2.4M512.11,566.7v2.4M529.98,802.0v-2.4M529.98,566.7v2.4M538.92,802.0v-2.4M538.92,566.7v2.4M547.85,802.0v-2.4M547.85,566.7v2.4M556.79,802.0v-2.4M556.79,566.7v2.4M574.66,802.0v-2.4M574.66,566.7v2.4M583.60,802.0v-2.4M583.60,566.7v2.4M592.54,802.0v-2.4M592.54,566.7v2.4M601.47,802.0v-2.4M601.47,566.7v2.4M619.35,802.0v-2.4M619.35,566.7v2.4M628.28,802.0v-2.4M628.28,566.7v2.4M637.22,802.0v-2.4M637.22,566.7v2.4M646.15,802.0v-2.4M646.15,566.7v2.4M664.03,802.0v-2.4M664.03,566.7v2.4M672.96,802.0v-2.4M672.96,566.7v2.4M681.90,802.0v-2.4M681.90,566.7v2.4M387.00,802.0v-5.0M387.00,566.7v5.0M431.68,802.0v-5.0M431.68,566.7v5.0M476.36,802.0v-5.0M476.36,566.7v5.0M521.05,802.0v-5.0M521.05,566.7v5.0M565.73,802.0v-5.0M565.73,566.7v5.0M610.41,802.0v-5.0M610.41,566.7v5.0M655.09,802.0v-5.0M655.09,566.7v5.0M387.0,802.00h2.4M681.9,802.00h-2.4M387.0,794.16h2.4M681.9,794.16h-2.4M387.0,778.47h2.4M681.9,778.47h-2.4M387.0,770.63h2.4M681.9,770.63h-2.4M387.0,762.78h2.4M681.9,762.78h-2.4M387.0,747.10h2.4M681.9,747.10h-2.4M387.0,739.25h2.4M681.9,739.25h-2.4M387.0,731.41h2.4M681.9,731.41h-2.4M387.0,715.72h2.4M681.9,715.72h-2.4M387.0,707.88h2.4M681.9,707.88h-2.4M387.0,700.04h2.4M681.9,700.04h-2.4M387.0,684.35h2.4M681.9,684.35h-2.4M387.0,676.51h2.4M681.9,676.51h-2.4M387.0,668.66h2.4M681.9,668.66h-2.4M387.0,652.98h2.4M681.9,652.98h-2.4M387.0,645.13h2.4M681.9,645.13h-2.4M387.0,637.29h2.4M681.9,637.29h-2.4M387.0,621.60h2.4M681.9,621.60h-2.4M387.0,613.76h2.4M681.9,613.76h-2.4M387.0,605.92h2.4M681.9,605.92h-2.4M387.0,590.23h2.4M681.9,590.23h-2.4M387.0,582.39h2.4M681.9,582.39h-2.4M387.0,574.54h2.4M681.9,574.54h-2.4M387.0,786.31h5.0M681.9,786.31h-5.0M387.0,754.94h5.0M681.9,754.94h-5.0M387.0,723.57h5.0M681.9,723.57h-5.0M387.0,692.19h5.0M681.9,692.19h-5.0M387.0,660.82h5.0M681.9,660.82h-5.0M387.0,629.45h5.0M681.9,629.45h-5.0M387.0,598.07h5.0M681.9,598.07h-5.0M387.0,566.70h5.0M681.9,566.70h-5.0" stroke="#6b6b6b" stroke-width="0.9" fill="none"/>
<rect x="387.0" y="566.7" width="294.90" height="235.30" fill="none" stroke="#6b6b6b" stroke-width="1.3"/>
<text x="387.00" y="813.00" text-anchor="middle" font-size="11.7" fill="#444">4600</text>
<text x="431.68" y="813.00" text-anchor="middle" font-size="11.7" fill="#444">4700</text>
<text x="476.36" y="813.00" text-anchor="middle" font-size="11.7" fill="#444">4800</text>
<text x="521.05" y="813.00" text-anchor="middle" font-size="11.7" fill="#444">4900</text>
<text x="565.73" y="813.00" text-anchor="middle" font-size="11.7" fill="#444">5000</text>
<text x="610.41" y="813.00" text-anchor="middle" font-size="11.7" fill="#444">5100</text>
<text x="655.09" y="813.00" text-anchor="middle" font-size="11.7" fill="#444">5200</text>
<text x="383.70" y="790.31" text-anchor="end" font-size="11.7" fill="#444">0</text>
<text x="383.70" y="758.94" text-anchor="end" font-size="11.7" fill="#444">2</text>
<text x="383.70" y="727.57" text-anchor="end" font-size="11.7" fill="#444">4</text>
<text x="383.70" y="696.19" text-anchor="end" font-size="11.7" fill="#444">6</text>
<text x="383.70" y="664.82" text-anchor="end" font-size="11.7" fill="#444">8</text>
<text x="383.70" y="633.45" text-anchor="end" font-size="11.7" fill="#444">10</text>
<text x="383.70" y="602.07" text-anchor="end" font-size="11.7" fill="#444">12</text>
<text x="383.70" y="570.70" text-anchor="end" font-size="11.7" fill="#444">14</text>
<text x="448.2" y="290.9" font-size="12.8" text-anchor="start" fill="#444" textLength="172.2" lengthAdjust="spacingAndGlyphs">Wrong MmD: M=2.60, <tspan font-style="italic">μ</tspan> = 1.65</text>
<text x="443.2" y="561.9" font-size="12.8" text-anchor="start" fill="#444" textLength="182.2" lengthAdjust="spacingAndGlyphs">Realistic MmD: M=2.00, <tspan font-style="italic">μ</tspan> = 2.15</text>
<text x="408.6" y="327.6" font-size="12.8" text-anchor="start" fill="#444" textLength="14.9" lengthAdjust="spacingAndGlyphs">(d)</text>
<text x="408.6" y="598.2" font-size="12.8" text-anchor="start" fill="#444" textLength="13" lengthAdjust="spacingAndGlyphs">(f)</text>
<text x="367.6" y="471.1" font-size="12.8" text-anchor="start" fill="#444" textLength="114.1" lengthAdjust="spacingAndGlyphs" transform="rotate(-90 367.6 471.1)">Flux (arbitrary units)</text>
<text x="367.6" y="741.6" font-size="12.8" text-anchor="start" fill="#444" textLength="114.1" lengthAdjust="spacingAndGlyphs" transform="rotate(-90 367.6 741.6)">Flux (arbitrary units)</text>
<text x="461.9" y="829.2" font-size="12.8" text-anchor="start" fill="#444" textLength="143.9" lengthAdjust="spacingAndGlyphs">Rest-frame Wavelength (Å)</text>
<path d="M586.9,310.7H610.7" stroke="#111" stroke-width="1.5"/>
<path d="M586.9,327.3H610.7" stroke="#f26b3f" stroke-width="1.5"/>
<path d="M586.9,344.8H610.7" stroke="#1fb1c6" stroke-width="1.5" stroke-dasharray="4.3,2"/>
<path d="M586.9,361.0H610.7" stroke="#f7a67c" stroke-width="1.8" stroke-dasharray="4,2.2"/>
<text x="620.2" y="315.3" font-size="12.8" text-anchor="start" fill="#444"><tspan font-style="italic">F</tspan><tspan dy="2.2" font-size="8.6" font-style="italic">M</tspan><tspan dy="-2.2">&#8202;</tspan></text>
<text x="620.2" y="331.90000000000003" font-size="12.8" text-anchor="start" fill="#444" textLength="50.2" lengthAdjust="spacingAndGlyphs"><tspan font-style="italic">F</tspan><tspan dy="2.2" font-size="8.6" font-style="italic">Mμ</tspan><tspan dy="-2.2">&#8202;</tspan> + cst</text>
<text x="620.2" y="349.40000000000003" font-size="12.8" text-anchor="start" fill="#444"><tspan font-style="italic">F</tspan><tspan dy="2.2" font-size="8.6">2</tspan><tspan dy="-2.2"> </tspan>+ cst</text>
<text x="620.2" y="365.6" font-size="12.8" text-anchor="start" fill="#444" textLength="43.8" lengthAdjust="spacingAndGlyphs">PL + cst</text>
<path d="M588.7,581.0H613.0" stroke="#111" stroke-width="1.5"/>
<path d="M588.7,597.6H613.0" stroke="#f26b3f" stroke-width="1.5"/>
<path d="M588.7,614.9H613.0" stroke="#1fb1c6" stroke-width="1.5" stroke-dasharray="4.3,2"/>
<path d="M588.7,631.6H613.0" stroke="#f3875a" stroke-width="1.3" stroke-dasharray="4,2.2"/>
<text x="622.2" y="585.6" font-size="12.8" text-anchor="start" fill="#444"><tspan font-style="italic">F</tspan><tspan dy="2.2" font-size="8.6" font-style="italic">M</tspan><tspan dy="-2.2">&#8202;</tspan></text>
<text x="622.2" y="602.2" font-size="12.8" text-anchor="start" fill="#444" textLength="50.2" lengthAdjust="spacingAndGlyphs"><tspan font-style="italic">F</tspan><tspan dy="2.2" font-size="8.6" font-style="italic">Mμ</tspan><tspan dy="-2.2">&#8202;</tspan> + <tspan font-style="italic">cst</tspan></text>
<text x="622.2" y="619.5" font-size="12.8" text-anchor="start" fill="#444"><tspan font-style="italic">F</tspan><tspan dy="2.2" font-size="8.6">2</tspan><tspan dy="-2.2"> </tspan>+ <tspan font-style="italic">cst</tspan></text>
<text x="622.2" y="636.2" font-size="12.8" text-anchor="start" fill="#444" textLength="43.8" lengthAdjust="spacingAndGlyphs">PL + cst</text>
</svg></body></html>
